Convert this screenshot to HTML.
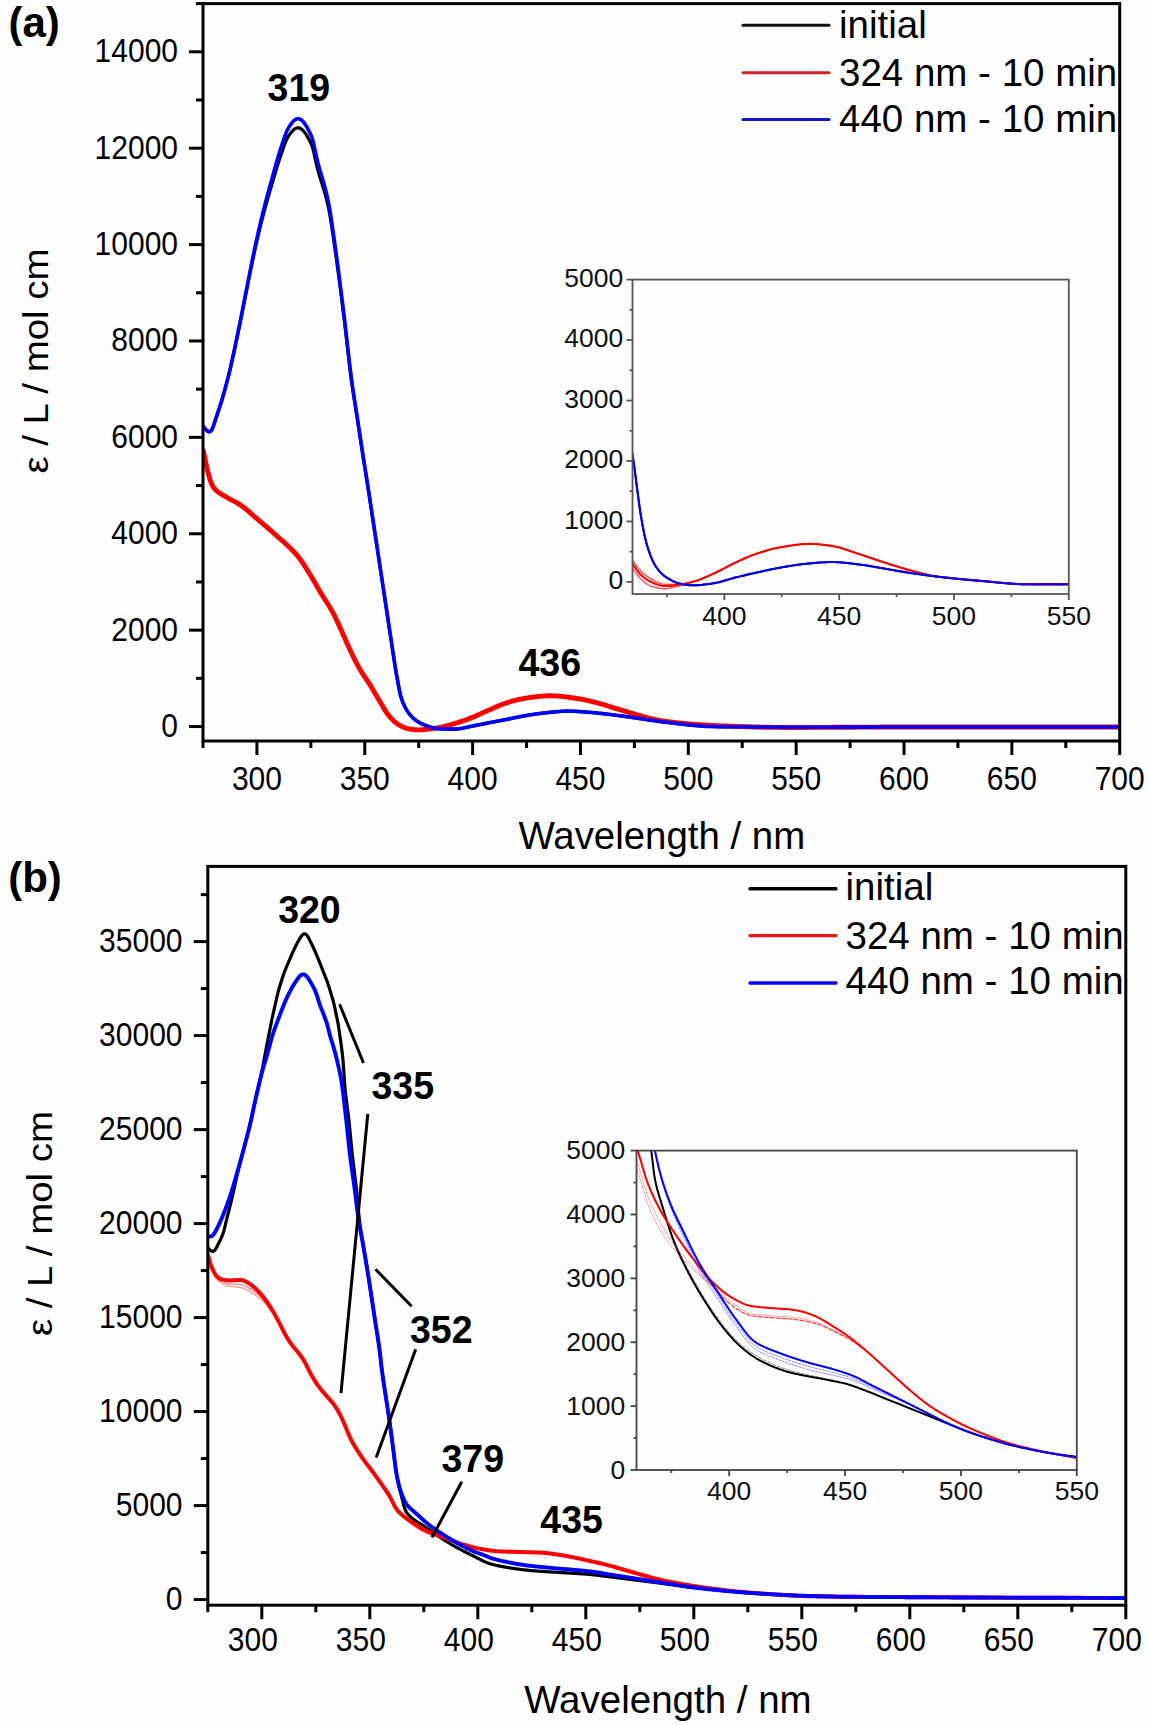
<!DOCTYPE html><html><head><meta charset="utf-8"><style>html,body{margin:0;padding:0;background:#fdfdfd;width:1149px;height:1725px;overflow:hidden}svg{display:block}text{font-family:"Liberation Sans", sans-serif}</style></head><body>
<svg width="1149" height="1725" viewBox="0 0 1149 1725">
<defs><clipPath id="ca"><rect x="203" y="3.6" width="916.7" height="737.4"/></clipPath>
<clipPath id="cia"><rect x="632.5" y="279.6" width="436.29999999999995" height="314.4"/></clipPath>
<clipPath id="cb"><rect x="207.8" y="866.4" width="918.0" height="738.8000000000001"/></clipPath>
<clipPath id="cib"><rect x="636.5" y="1150.6" width="440.29999999999995" height="319.4000000000001"/></clipPath></defs>
<path d="M203.65,427.05 L204.02,427.49 L204.49,428.04 L205.04,428.68 L205.63,429.36 L206.26,430.05 L206.91,430.70 L207.59,431.24 L208.29,431.62 L209.00,431.78 L209.69,431.69 L210.35,431.36 L210.95,430.82 L211.49,430.13 L211.97,429.33 L212.40,428.46 L212.80,427.55 L213.16,426.63 L213.51,425.70 L213.84,424.75 L214.17,423.81 L214.48,422.86 L214.79,421.91 L215.10,420.96 L215.41,420.00 L215.71,419.05 L216.02,418.10 L216.33,417.15 L216.64,416.20 L216.95,415.25 L217.27,414.30 L217.60,413.36 L217.92,412.41 L218.25,411.47 L218.57,410.52 L218.89,409.57 L219.21,408.63 L219.53,407.68 L219.84,406.73 L220.14,405.77 L220.45,404.82 L220.75,403.87 L221.04,402.91 L221.34,401.96 L221.63,401.00 L221.92,400.04 L222.20,399.08 L222.48,398.12 L222.76,397.16 L223.04,396.20 L223.32,395.24 L223.59,394.28 L223.86,393.32 L224.13,392.36 L224.40,391.39 L224.67,390.43 L224.94,389.46 L225.20,388.50 L225.46,387.53 L225.72,386.57 L225.98,385.60 L226.24,384.64 L226.50,383.67 L226.75,382.70 L227.00,381.74 L227.26,380.77 L227.51,379.80 L227.76,378.83 L228.01,377.87 L228.26,376.90 L228.50,375.93 L228.75,374.96 L228.99,373.99 L229.23,373.02 L229.46,372.04 L229.70,371.07 L229.93,370.10 L230.16,369.13 L230.39,368.15 L230.62,367.18 L230.84,366.21 L231.07,365.23 L231.29,364.26 L231.51,363.28 L231.73,362.31 L231.95,361.33 L232.17,360.35 L232.39,359.38 L232.61,358.40 L232.82,357.43 L233.04,356.45 L233.25,355.47 L233.46,354.49 L233.67,353.52 L233.88,352.54 L234.10,351.56 L234.31,350.58 L234.52,349.61 L234.72,348.63 L234.93,347.65 L235.14,346.67 L235.35,345.69 L235.56,344.72 L235.76,343.74 L235.97,342.76 L236.18,341.78 L236.38,340.80 L236.59,339.82 L236.79,338.85 L237.00,337.87 L237.20,336.89 L237.41,335.91 L237.62,334.93 L237.82,333.95 L238.03,332.97 L238.23,331.99 L238.44,331.02 L238.64,330.04 L238.85,329.06 L239.05,328.08 L239.25,327.10 L239.45,326.12 L239.66,325.14 L239.86,324.16 L240.06,323.18 L240.25,322.20 L240.45,321.22 L240.65,320.24 L240.84,319.26 L241.04,318.28 L241.24,317.30 L241.43,316.32 L241.63,315.34 L241.82,314.36 L242.01,313.37 L242.21,312.39 L242.40,311.41 L242.59,310.43 L242.79,309.45 L242.98,308.47 L243.17,307.49 L243.36,306.51 L243.56,305.53 L243.75,304.54 L243.94,303.56 L244.13,302.58 L244.33,301.60 L244.52,300.62 L244.71,299.64 L244.91,298.66 L245.10,297.68 L245.30,296.69 L245.49,295.71 L245.69,294.73 L245.88,293.75 L246.08,292.77 L246.27,291.79 L246.47,290.81 L246.67,289.83 L246.87,288.85 L247.07,287.87 L247.26,286.89 L247.46,285.91 L247.66,284.93 L247.86,283.95 L248.06,282.97 L248.25,281.99 L248.45,281.01 L248.65,280.03 L248.85,279.05 L249.04,278.07 L249.24,277.09 L249.44,276.11 L249.64,275.13 L249.83,274.15 L250.03,273.17 L250.23,272.19 L250.43,271.21 L250.63,270.23 L250.83,269.25 L251.03,268.27 L251.22,267.29 L251.43,266.31 L251.63,265.33 L251.83,264.35 L252.03,263.37 L252.23,262.39 L252.44,261.41 L252.64,260.43 L252.84,259.45 L253.05,258.47 L253.26,257.50 L253.46,256.52 L253.67,255.54 L253.88,254.56 L254.09,253.58 L254.30,252.61 L254.52,251.63 L254.73,250.65 L254.95,249.68 L255.16,248.70 L255.38,247.72 L255.60,246.75 L255.82,245.77 L256.04,244.80 L256.26,243.82 L256.48,242.85 L256.71,241.87 L256.93,240.90 L257.15,239.92 L257.38,238.95 L257.61,237.97 L257.83,237.00 L258.06,236.03 L258.29,235.05 L258.52,234.08 L258.75,233.11 L258.98,232.13 L259.21,231.16 L259.45,230.19 L259.68,229.22 L259.92,228.24 L260.15,227.27 L260.39,226.30 L260.63,225.33 L260.87,224.36 L261.11,223.39 L261.35,222.42 L261.59,221.45 L261.84,220.48 L262.08,219.51 L262.33,218.54 L262.58,217.57 L262.83,216.60 L263.08,215.64 L263.33,214.67 L263.58,213.70 L263.84,212.73 L264.10,211.77 L264.35,210.80 L264.61,209.84 L264.88,208.87 L265.14,207.91 L265.40,206.94 L265.67,205.98 L265.94,205.01 L266.21,204.05 L266.48,203.09 L266.75,202.13 L267.02,201.16 L267.29,200.20 L267.57,199.24 L267.84,198.28 L268.12,197.32 L268.40,196.36 L268.68,195.40 L268.95,194.44 L269.23,193.48 L269.51,192.52 L269.80,191.56 L270.08,190.60 L270.36,189.64 L270.64,188.68 L270.92,187.72 L271.20,186.76 L271.49,185.80 L271.77,184.84 L272.05,183.88 L272.33,182.92 L272.61,181.96 L272.89,181.00 L273.17,180.04 L273.45,179.08 L273.73,178.12 L274.01,177.16 L274.30,176.20 L274.58,175.24 L274.86,174.28 L275.14,173.32 L275.42,172.36 L275.71,171.41 L276.00,170.45 L276.28,169.49 L276.57,168.53 L276.86,167.58 L277.16,166.62 L277.45,165.66 L277.75,164.71 L278.05,163.76 L278.35,162.80 L278.66,161.85 L278.97,160.90 L279.28,159.95 L279.60,159.00 L279.92,158.06 L280.24,157.11 L280.57,156.16 L280.89,155.22 L281.21,154.27 L281.53,153.32 L281.86,152.38 L282.18,151.43 L282.50,150.48 L282.83,149.54 L283.15,148.59 L283.48,147.65 L283.82,146.71 L284.15,145.76 L284.50,144.83 L284.85,143.89 L285.21,142.96 L285.59,142.03 L285.97,141.11 L286.38,140.20 L286.80,139.30 L287.25,138.41 L287.73,137.53 L288.24,136.67 L288.77,135.83 L289.33,135.00 L289.90,134.19 L290.50,133.39 L291.11,132.60 L291.74,131.83 L292.40,131.08 L293.08,130.36 L293.80,129.69 L294.55,129.09 L295.35,128.58 L296.19,128.18 L297.06,127.93 L297.95,127.84 L298.85,127.91 L299.72,128.15 L300.57,128.53 L301.37,129.03 L302.13,129.63 L302.84,130.30 L303.51,131.02 L304.15,131.78 L304.75,132.57 L305.33,133.38 L305.89,134.21 L306.42,135.05 L306.94,135.91 L307.45,136.77 L307.94,137.64 L308.42,138.51 L308.89,139.40 L309.36,140.28 L309.81,141.17 L310.25,142.07 L310.68,142.97 L311.10,143.88 L311.49,144.79 L311.86,145.72 L312.20,146.66 L312.51,147.61 L312.80,148.56 L313.07,149.52 L313.33,150.49 L313.57,151.46 L313.81,152.43 L314.03,153.40 L314.25,154.38 L314.47,155.35 L314.69,156.33 L314.90,157.31 L315.11,158.29 L315.32,159.26 L315.53,160.24 L315.75,161.22 L315.96,162.19 L316.18,163.17 L316.40,164.14 L316.63,165.12 L316.86,166.09 L317.10,167.06 L317.35,168.03 L317.60,169.00 L317.86,169.96 L318.13,170.93 L318.40,171.89 L318.67,172.85 L318.95,173.81 L319.23,174.77 L319.52,175.73 L319.81,176.69 L320.10,177.64 L320.39,178.60 L320.69,179.55 L320.99,180.51 L321.29,181.46 L321.58,182.42 L321.88,183.37 L322.18,184.33 L322.48,185.28 L322.78,186.23 L323.07,187.19 L323.37,188.15 L323.66,189.10 L323.94,190.06 L324.23,191.02 L324.51,191.98 L324.78,192.94 L325.06,193.90 L325.33,194.87 L325.59,195.83 L325.85,196.80 L326.10,197.76 L326.35,198.73 L326.60,199.70 L326.84,200.67 L327.08,201.64 L327.31,202.62 L327.54,203.59 L327.76,204.56 L327.98,205.54 L328.19,206.52 L328.40,207.49 L328.60,208.47 L328.80,209.45 L328.99,210.43 L329.18,211.42 L329.36,212.40 L329.54,213.38 L329.72,214.37 L329.89,215.35 L330.06,216.34 L330.23,217.32 L330.39,218.31 L330.55,219.30 L330.71,220.29 L330.87,221.27 L331.03,222.26 L331.18,223.25 L331.33,224.24 L331.49,225.22 L331.64,226.21 L331.79,227.20 L331.93,228.19 L332.08,229.18 L332.23,230.17 L332.38,231.16 L332.52,232.15 L332.67,233.14 L332.81,234.13 L332.96,235.12 L333.10,236.11 L333.24,237.10 L333.39,238.08 L333.53,239.07 L333.68,240.06 L333.82,241.05 L333.96,242.04 L334.11,243.03 L334.25,244.02 L334.40,245.01 L334.54,246.00 L334.68,246.99 L334.83,247.98 L334.97,248.97 L335.11,249.96 L335.26,250.95 L335.40,251.94 L335.54,252.93 L335.68,253.92 L335.82,254.91 L335.96,255.90 L336.10,256.89 L336.24,257.88 L336.37,258.87 L336.51,259.86 L336.65,260.85 L336.79,261.84 L336.92,262.83 L337.06,263.82 L337.19,264.82 L337.33,265.81 L337.46,266.80 L337.59,267.79 L337.73,268.78 L337.86,269.77 L337.99,270.76 L338.13,271.75 L338.26,272.74 L338.39,273.74 L338.52,274.73 L338.65,275.72 L338.78,276.71 L338.91,277.70 L339.04,278.69 L339.17,279.68 L339.30,280.68 L339.43,281.67 L339.56,282.66 L339.69,283.65 L339.82,284.64 L339.95,285.63 L340.07,286.63 L340.20,287.62 L340.33,288.61 L340.46,289.60 L340.59,290.59 L340.71,291.58 L340.84,292.58 L340.97,293.57 L341.09,294.56 L341.22,295.55 L341.35,296.54 L341.47,297.54 L341.60,298.53 L341.72,299.52 L341.85,300.51 L341.98,301.50 L342.10,302.50 L342.23,303.49 L342.35,304.48 L342.48,305.47 L342.60,306.47 L342.73,307.46 L342.85,308.45 L342.98,309.44 L343.10,310.43 L343.23,311.43 L343.35,312.42 L343.48,313.41 L343.60,314.40 L343.72,315.40 L343.85,316.39 L343.97,317.38 L344.09,318.37 L344.21,319.37 L344.33,320.36 L344.45,321.35 L344.57,322.34 L344.69,323.34 L344.81,324.33 L344.93,325.32 L345.04,326.32 L345.16,327.31 L345.28,328.30 L345.39,329.30 L345.51,330.29 L345.62,331.28 L345.74,332.28 L345.85,333.27 L345.96,334.26 L346.08,335.26 L346.19,336.25 L346.31,337.24 L346.42,338.24 L346.53,339.23 L346.65,340.22 L346.76,341.22 L346.87,342.21 L346.98,343.20 L347.10,344.20 L347.21,345.19 L347.32,346.19 L347.44,347.18 L347.55,348.17 L347.66,349.17 L347.78,350.16 L347.89,351.15 L348.00,352.15 L348.12,353.14 L348.23,354.13 L348.35,355.13 L348.46,356.12 L348.58,357.11 L348.69,358.11 L348.81,359.10 L348.92,360.09 L349.04,361.09 L349.16,362.08 L349.27,363.07 L349.39,364.07 L349.51,365.06 L349.63,366.05 L349.75,367.04 L349.87,368.04 L349.99,369.03 L350.11,370.02 L350.24,371.01 L350.36,372.01 L350.49,373.00 L350.61,373.99 L350.74,374.98 L350.87,375.98 L350.99,376.97 L351.12,377.96 L351.26,378.95 L351.39,379.94 L351.52,380.93 L351.66,381.92 L351.80,382.91 L351.93,383.90 L352.07,384.89 L352.21,385.88 L352.36,386.87 L352.50,387.86 L352.65,388.85 L352.79,389.84 L352.94,390.83 L353.09,391.82 L353.24,392.81 L353.39,393.80 L353.54,394.79 L353.69,395.77 L353.84,396.76 L354.00,397.75 L354.15,398.74 L354.31,399.73 L354.46,400.71 L354.62,401.70 L354.78,402.69 L354.93,403.68 L355.09,404.66 L355.25,405.65 L355.41,406.64 L355.56,407.63 L355.72,408.61 L355.88,409.60 L356.04,410.59 L356.19,411.58 L356.35,412.56 L356.50,413.55 L356.66,414.54 L356.81,415.53 L356.96,416.52 L357.12,417.51 L357.27,418.49 L357.42,419.48 L357.57,420.47 L357.72,421.46 L357.87,422.45 L358.02,423.44 L358.18,424.42 L358.33,425.41 L358.48,426.40 L358.63,427.39 L358.78,428.38 L358.93,429.37 L359.08,430.36 L359.23,431.35 L359.38,432.33 L359.53,433.32 L359.68,434.31 L359.83,435.30 L359.98,436.29 L360.13,437.28 L360.28,438.27 L360.43,439.25 L360.58,440.24 L360.73,441.23 L360.88,442.22 L361.03,443.21 L361.18,444.20 L361.33,445.19 L361.48,446.17 L361.64,447.16 L361.79,448.15 L361.94,449.14 L362.09,450.13 L362.24,451.12 L362.40,452.10 L362.55,453.09 L362.70,454.08 L362.86,455.07 L363.01,456.06 L363.16,457.05 L363.32,458.03 L363.47,459.02 L363.63,460.01 L363.78,461.00 L363.94,461.98 L364.10,462.97 L364.25,463.96 L364.41,464.95 L364.57,465.94 L364.72,466.92 L364.88,467.91 L365.04,468.90 L365.19,469.89 L365.35,470.87 L365.51,471.86 L365.67,472.85 L365.82,473.84 L365.98,474.82 L366.14,475.81 L366.30,476.80 L366.45,477.79 L366.61,478.77 L366.77,479.76 L366.92,480.75 L367.08,481.74 L367.24,482.72 L367.39,483.71 L367.55,484.70 L367.71,485.69 L367.86,486.68 L368.02,487.66 L368.17,488.65 L368.32,489.64 L368.48,490.63 L368.63,491.62 L368.78,492.60 L368.94,493.59 L369.09,494.58 L369.24,495.57 L369.39,496.56 L369.55,497.55 L369.70,498.53 L369.85,499.52 L370.00,500.51 L370.15,501.50 L370.30,502.49 L370.45,503.48 L370.60,504.47 L370.75,505.45 L370.90,506.44 L371.05,507.43 L371.20,508.42 L371.35,509.41 L371.50,510.40 L371.65,511.39 L371.80,512.38 L371.95,513.36 L372.09,514.35 L372.24,515.34 L372.39,516.33 L372.54,517.32 L372.69,518.31 L372.84,519.30 L372.99,520.29 L373.14,521.28 L373.29,522.26 L373.44,523.25 L373.59,524.24 L373.74,525.23 L373.89,526.22 L374.04,527.21 L374.19,528.20 L374.34,529.19 L374.49,530.17 L374.64,531.16 L374.79,532.15 L374.94,533.14 L375.09,534.13 L375.24,535.12 L375.39,536.11 L375.54,537.09 L375.69,538.08 L375.84,539.07 L375.99,540.06 L376.14,541.05 L376.29,542.04 L376.44,543.03 L376.59,544.02 L376.74,545.00 L376.89,545.99 L377.04,546.98 L377.19,547.97 L377.34,548.96 L377.49,549.95 L377.64,550.94 L377.79,551.92 L377.94,552.91 L378.09,553.90 L378.24,554.89 L378.39,555.88 L378.54,556.87 L378.69,557.86 L378.84,558.85 L378.99,559.83 L379.14,560.82 L379.29,561.81 L379.44,562.80 L379.59,563.79 L379.74,564.78 L379.89,565.77 L380.04,566.76 L380.19,567.74 L380.34,568.73 L380.49,569.72 L380.64,570.71 L380.79,571.70 L380.93,572.69 L381.08,573.68 L381.23,574.66 L381.38,575.65 L381.53,576.64 L381.68,577.63 L381.83,578.62 L381.98,579.61 L382.13,580.60 L382.28,581.59 L382.43,582.57 L382.58,583.56 L382.73,584.55 L382.88,585.54 L383.03,586.53 L383.18,587.52 L383.33,588.51 L383.48,589.50 L383.63,590.48 L383.78,591.47 L383.93,592.46 L384.08,593.45 L384.23,594.44 L384.38,595.43 L384.53,596.42 L384.68,597.41 L384.83,598.39 L384.98,599.38 L385.12,600.37 L385.27,601.36 L385.42,602.35 L385.57,603.34 L385.72,604.33 L385.87,605.32 L386.02,606.30 L386.17,607.29 L386.32,608.28 L386.47,609.27 L386.62,610.26 L386.77,611.25 L386.91,612.24 L387.06,613.23 L387.21,614.22 L387.36,615.20 L387.51,616.19 L387.66,617.18 L387.81,618.17 L387.96,619.16 L388.10,620.15 L388.25,621.14 L388.40,622.13 L388.55,623.12 L388.70,624.10 L388.85,625.09 L389.00,626.08 L389.15,627.07 L389.30,628.06 L389.45,629.05 L389.60,630.04 L389.75,631.03 L389.90,632.01 L390.05,633.00 L390.20,633.99 L390.35,634.98 L390.50,635.97 L390.65,636.96 L390.80,637.95 L390.96,638.93 L391.11,639.92 L391.26,640.91 L391.41,641.90 L391.56,642.89 L391.71,643.88 L391.86,644.87 L392.01,645.85 L392.16,646.84 L392.31,647.83 L392.45,648.82 L392.60,649.81 L392.75,650.80 L392.90,651.79 L393.05,652.78 L393.20,653.77 L393.34,654.75 L393.49,655.74 L393.64,656.73 L393.79,657.72 L393.94,658.71 L394.09,659.70 L394.24,660.69 L394.40,661.68 L394.55,662.66 L394.70,663.65 L394.86,664.64 L395.01,665.63 L395.17,666.61 L395.33,667.60 L395.49,668.59 L395.65,669.58 L395.82,670.56 L395.98,671.55 L396.15,672.53 L396.32,673.52 L396.49,674.50 L396.67,675.49 L396.84,676.47 L397.02,677.46 L397.20,678.44 L397.37,679.43 L397.55,680.41 L397.73,681.39 L397.91,682.38 L398.09,683.36 L398.27,684.35 L398.45,685.33 L398.64,686.31 L398.82,687.29 L399.01,688.28 L399.20,689.26 L399.40,690.24 L399.60,691.22 L399.81,692.19 L400.03,693.17 L400.26,694.14 L400.50,695.11 L400.76,696.08 L401.03,697.04 L401.32,698.00 L401.62,698.95 L401.95,699.89 L402.29,700.83 L402.65,701.76 L403.02,702.69 L403.41,703.61 L403.81,704.53 L404.22,705.43 L404.66,706.34 L405.11,707.23 L405.57,708.11 L406.06,708.98 L406.57,709.84 L407.09,710.69 L407.64,711.52 L408.21,712.34 L408.80,713.15 L409.40,713.95 L410.03,714.72 L410.67,715.48 L411.34,716.23 L412.02,716.96 L412.72,717.66 L413.45,718.34 L414.20,719.00 L414.97,719.63 L415.76,720.23 L416.58,720.80 L417.41,721.35 L418.26,721.87 L419.13,722.37 L420.00,722.85 L420.89,723.31 L421.79,723.75 L422.69,724.17 L423.60,724.58 L424.53,724.96 L425.45,725.34 L426.39,725.69 L427.33,726.03 L428.27,726.36 L429.22,726.68 L430.17,726.99 L431.12,727.28 L432.08,727.56 L433.04,727.83 L434.01,728.07 L434.98,728.28 L435.96,728.45 L436.95,728.59 L437.94,728.70 L438.94,728.78 L439.93,728.84 L440.93,728.89 L441.93,728.92 L442.93,728.96 L443.93,728.99 L444.93,729.01 L445.93,729.04 L446.93,729.06 L447.93,729.08 L448.93,729.09 L449.93,729.11 L450.93,729.12 L451.93,729.12 L452.93,729.12 L453.93,729.11 L454.92,729.08 L455.92,729.04 L456.92,728.97 L457.91,728.89 L458.90,728.78 L459.89,728.65 L460.88,728.49 L461.87,728.32 L462.85,728.14 L463.83,727.95 L464.81,727.74 L465.78,727.53 L466.76,727.32 L467.74,727.10 L468.72,726.89 L469.69,726.68 L470.67,726.48 L471.65,726.28 L472.63,726.08 L473.61,725.89 L474.59,725.69 L475.58,725.50 L476.56,725.30 L477.54,725.11 L478.52,724.91 L479.50,724.71 L480.48,724.51 L481.46,724.31 L482.44,724.11 L483.41,723.90 L484.39,723.70 L485.37,723.50 L486.35,723.30 L487.33,723.11 L488.31,722.91 L489.30,722.72 L490.28,722.52 L491.26,722.33 L492.24,722.14 L493.22,721.95 L494.20,721.77 L495.19,721.58 L496.17,721.40 L497.15,721.21 L498.14,721.03 L499.12,720.84 L500.10,720.66 L501.08,720.47 L502.07,720.29 L503.05,720.10 L504.03,719.91 L505.01,719.72 L505.99,719.53 L506.98,719.34 L507.96,719.14 L508.94,718.95 L509.92,718.75 L510.90,718.54 L511.88,718.34 L512.85,718.14 L513.83,717.93 L514.81,717.73 L515.79,717.52 L516.77,717.32 L517.75,717.12 L518.73,716.92 L519.71,716.73 L520.69,716.53 L521.67,716.35 L522.66,716.16 L523.64,715.99 L524.63,715.81 L525.61,715.64 L526.60,715.47 L527.58,715.30 L528.57,715.14 L529.56,714.98 L530.54,714.82 L531.53,714.66 L532.52,714.50 L533.51,714.35 L534.50,714.21 L535.48,714.06 L536.47,713.92 L537.47,713.79 L538.46,713.66 L539.45,713.53 L540.44,713.41 L541.43,713.30 L542.43,713.18 L543.42,713.07 L544.42,712.96 L545.41,712.85 L546.40,712.74 L547.40,712.63 L548.39,712.52 L549.39,712.41 L550.38,712.30 L551.37,712.19 L552.37,712.09 L553.36,711.99 L554.36,711.89 L555.35,711.80 L556.35,711.71 L557.35,711.63 L558.34,711.55 L559.34,711.47 L560.34,711.41 L561.34,711.35 L562.33,711.29 L563.33,711.25 L564.33,711.21 L565.33,711.18 L566.33,711.16 L567.33,711.15 L568.33,711.15 L569.33,711.15 L570.33,711.16 L571.33,711.18 L572.33,711.21 L573.33,711.25 L574.33,711.29 L575.33,711.33 L576.33,711.38 L577.32,711.44 L578.32,711.50 L579.32,711.56 L580.32,711.63 L581.31,711.70 L582.31,711.78 L583.31,711.86 L584.31,711.94 L585.30,712.02 L586.30,712.10 L587.30,712.18 L588.29,712.27 L589.29,712.35 L590.28,712.44 L591.28,712.52 L592.28,712.61 L593.27,712.69 L594.27,712.78 L595.27,712.87 L596.26,712.96 L597.26,713.05 L598.25,713.15 L599.25,713.25 L600.24,713.35 L601.24,713.45 L602.23,713.56 L603.22,713.67 L604.22,713.79 L605.21,713.90 L606.20,714.02 L607.20,714.14 L608.19,714.26 L609.18,714.38 L610.18,714.51 L611.17,714.63 L612.16,714.76 L613.15,714.88 L614.14,715.01 L615.14,715.13 L616.13,715.26 L617.12,715.39 L618.11,715.51 L619.10,715.64 L620.09,715.77 L621.09,715.90 L622.08,716.03 L623.07,716.16 L624.06,716.29 L625.05,716.42 L626.04,716.56 L627.03,716.70 L628.02,716.84 L629.01,716.98 L630.00,717.12 L630.99,717.26 L631.98,717.41 L632.97,717.55 L633.96,717.70 L634.95,717.84 L635.94,717.99 L636.93,718.14 L637.92,718.29 L638.91,718.44 L639.89,718.59 L640.88,718.74 L641.87,718.89 L642.86,719.03 L643.85,719.18 L644.84,719.33 L645.83,719.48 L646.82,719.63 L647.81,719.77 L648.80,719.92 L649.78,720.06 L650.77,720.21 L651.76,720.35 L652.75,720.49 L653.74,720.63 L654.73,720.77 L655.73,720.91 L656.72,721.04 L657.71,721.18 L658.70,721.31 L659.69,721.44 L660.68,721.57 L661.67,721.69 L662.67,721.82 L663.66,721.94 L664.65,722.05 L665.64,722.17 L666.64,722.29 L667.63,722.40 L668.62,722.52 L669.62,722.64 L670.61,722.75 L671.60,722.87 L672.60,722.99 L673.59,723.11 L674.58,723.23 L675.57,723.35 L676.57,723.47 L677.56,723.59 L678.55,723.71 L679.55,723.83 L680.54,723.95 L681.53,724.07 L682.52,724.19 L683.52,724.31 L684.51,724.43 L685.50,724.54 L686.50,724.66 L687.49,724.77 L688.48,724.88 L689.48,724.99 L690.47,725.09 L691.47,725.20 L692.46,725.30 L693.46,725.40 L694.45,725.49 L695.45,725.59 L696.44,725.68 L697.44,725.76 L698.44,725.84 L699.43,725.92 L700.43,726.00 L701.43,726.07 L702.43,726.14 L703.42,726.20 L704.42,726.26 L705.42,726.31 L706.42,726.36 L707.42,726.40 L708.42,726.44 L709.42,726.47 L710.42,726.50 L711.42,726.52 L712.42,726.54 L713.42,726.55 L714.42,726.57 L715.42,726.58 L716.42,726.59 L717.42,726.60 L718.42,726.61 L719.42,726.62 L720.42,726.63 L721.42,726.63 L722.42,726.64 L723.42,726.65 L724.42,726.66 L725.42,726.66 L726.42,726.67 L727.42,726.67 L728.42,726.68 L729.42,726.69 L730.42,726.69 L731.42,726.70 L732.42,726.71 L733.42,726.72 L734.42,726.72 L735.42,726.73 L736.42,726.74 L737.42,726.75 L738.42,726.76 L739.42,726.77 L740.42,726.77 L741.42,726.78 L742.42,726.79 L743.42,726.80 L744.42,726.82 L745.42,726.83 L746.42,726.84 L747.42,726.85 L748.42,726.86 L749.42,726.87 L750.41,726.88 L751.41,726.89 L752.41,726.90 L753.41,726.92 L754.41,726.93 L755.41,726.94 L756.41,726.95 L757.41,726.96 L758.41,726.97 L759.41,726.99 L760.41,727.00 L761.41,727.01 L762.41,727.02 L763.41,727.03 L764.41,727.04 L765.41,727.05 L766.41,727.07 L767.41,727.08 L768.41,727.09 L769.41,727.10 L770.41,727.11 L771.41,727.12 L772.41,727.13 L773.41,727.14 L774.41,727.15 L775.41,727.16 L776.41,727.17 L777.41,727.17 L778.41,727.18 L779.41,727.19 L780.41,727.20 L781.41,727.21 L782.41,727.21 L783.41,727.22 L784.41,727.23 L785.41,727.23 L786.41,727.24 L787.41,727.24 L788.41,727.25 L789.41,727.25 L790.41,727.25 L791.41,727.26 L792.41,727.26 L793.41,727.26 L794.41,727.26 L795.41,727.26 L796.41,727.26 L797.41,727.26 L798.41,727.26 L799.41,727.26 L800.41,727.26 L801.41,727.26 L802.41,727.26 L803.41,727.26 L804.41,727.26 L805.41,727.26 L806.41,727.26 L807.41,727.26 L808.41,727.26 L809.41,727.25 L810.41,727.25 L811.41,727.25 L812.41,727.25 L813.41,727.25 L814.41,727.25 L815.41,727.24 L816.41,727.24 L817.41,727.24 L818.41,727.24 L819.41,727.24 L820.41,727.23 L821.41,727.23 L822.41,727.23 L823.41,727.23 L824.41,727.22 L825.41,727.22 L826.41,727.22 L827.41,727.21 L828.41,727.21 L829.41,727.21 L830.41,727.21 L831.41,727.20 L832.41,727.20 L833.41,727.20 L834.41,727.19 L835.41,727.19 L836.41,727.19 L837.41,727.19 L838.41,727.18 L839.41,727.18 L840.41,727.18 L841.41,727.17 L842.41,727.17 L843.41,727.17 L844.41,727.16 L845.41,727.16 L846.41,727.16 L847.41,727.15 L848.41,727.15 L849.41,727.15 L850.41,727.14 L851.41,727.14 L852.41,727.14 L853.41,727.13 L854.41,727.13 L855.41,727.13 L856.41,727.12 L857.41,727.12 L858.41,727.12 L859.41,727.11 L860.41,727.11 L861.41,727.11 L862.41,727.10 L863.41,727.10 L864.41,727.10 L865.41,727.09 L866.41,727.09 L867.41,727.09 L868.41,727.08 L869.41,727.08 L870.41,727.08 L871.41,727.08 L872.41,727.07 L873.41,727.07 L874.41,727.07 L875.41,727.07 L876.41,727.06 L877.41,727.06 L878.41,727.06 L879.41,727.06 L880.41,727.05 L881.41,727.05 L882.41,727.05 L883.41,727.05 L884.41,727.04 L885.41,727.04 L886.41,727.04 L887.41,727.04 L888.41,727.04 L889.41,727.04 L890.41,727.03 L891.41,727.03 L892.41,727.03 L893.41,727.03 L894.41,727.03 L895.41,727.03 L896.41,727.03 L897.41,727.03 L898.41,727.03 L899.41,727.02 L900.41,727.02 L901.41,727.02 L902.41,727.02 L903.41,727.02 L904.41,727.02 L905.41,727.02 L906.41,727.02 L907.41,727.02 L908.41,727.02 L909.41,727.02 L910.41,727.02 L911.41,727.02 L912.41,727.02 L913.41,727.02 L914.41,727.02 L915.41,727.02 L916.41,727.02 L917.41,727.02 L918.41,727.02 L919.41,727.02 L920.41,727.02 L921.41,727.02 L922.41,727.02 L923.41,727.02 L924.41,727.02 L925.41,727.02 L926.41,727.02 L927.41,727.02 L928.41,727.02 L929.41,727.02 L930.41,727.02 L931.41,727.02 L932.41,727.02 L933.41,727.02 L934.41,727.02 L935.41,727.02 L936.41,727.02 L937.41,727.02 L938.41,727.02 L939.41,727.02 L940.41,727.02 L941.41,727.02 L942.41,727.02 L943.41,727.02 L944.41,727.02 L945.41,727.02 L946.41,727.02 L947.41,727.02 L948.41,727.02 L949.41,727.02 L950.41,727.02 L951.41,727.02 L952.41,727.02 L953.41,727.02 L954.41,727.02 L955.41,727.02 L956.41,727.02 L957.41,727.02 L958.41,727.02 L959.41,727.02 L960.41,727.02 L961.41,727.02 L962.41,727.02 L963.41,727.02 L964.41,727.02 L965.41,727.02 L966.41,727.02 L967.41,727.02 L968.41,727.02 L969.41,727.02 L970.41,727.02 L971.41,727.02 L972.41,727.02 L973.41,727.02 L974.41,727.02 L975.41,727.02 L976.41,727.02 L977.41,727.02 L978.41,727.02 L979.41,727.02 L980.41,727.02 L981.41,727.02 L982.41,727.02 L983.41,727.02 L984.41,727.02 L985.41,727.02 L986.41,727.02 L987.41,727.02 L988.41,727.02 L989.41,727.02 L990.41,727.02 L991.41,727.02 L992.41,727.02 L993.41,727.02 L994.41,727.02 L995.41,727.02 L996.41,727.02 L997.41,727.02 L998.41,727.02 L999.41,727.02 L1000.41,727.02 L1001.41,727.02 L1002.41,727.02 L1003.41,727.02 L1004.41,727.02 L1005.41,727.02 L1006.41,727.02 L1007.41,727.02 L1008.41,727.02 L1009.41,727.02 L1010.41,727.02 L1011.41,727.02 L1012.41,727.02 L1013.41,727.02 L1014.41,727.02 L1015.41,727.02 L1016.41,727.02 L1017.41,727.02 L1018.41,727.02 L1019.41,727.02 L1020.41,727.02 L1021.41,727.02 L1022.41,727.02 L1023.41,727.02 L1024.41,727.02 L1025.41,727.02 L1026.41,727.02 L1027.41,727.02 L1028.41,727.02 L1029.41,727.02 L1030.41,727.02 L1031.41,727.02 L1032.41,727.02 L1033.41,727.02 L1034.41,727.02 L1035.41,727.02 L1036.41,727.02 L1037.41,727.02 L1038.41,727.02 L1039.41,727.02 L1040.41,727.02 L1041.41,727.02 L1042.41,727.02 L1043.41,727.02 L1044.41,727.02 L1045.41,727.02 L1046.41,727.02 L1047.41,727.02 L1048.41,727.02 L1049.41,727.02 L1050.41,727.02 L1051.41,727.02 L1052.41,727.02 L1053.41,727.02 L1054.41,727.02 L1055.41,727.02 L1056.41,727.02 L1057.41,727.02 L1058.41,727.02 L1059.41,727.02 L1060.41,727.02 L1061.41,727.02 L1062.41,727.02 L1063.41,727.02 L1064.41,727.02 L1065.41,727.02 L1066.41,727.02 L1067.41,727.02 L1068.41,727.02 L1069.41,727.02 L1070.41,727.02 L1071.41,727.02 L1072.41,727.02 L1073.41,727.02 L1074.41,727.02 L1075.41,727.02 L1076.41,727.02 L1077.41,727.02 L1078.41,727.02 L1079.41,727.02 L1080.41,727.02 L1081.41,727.02 L1082.41,727.02 L1083.41,727.02 L1084.41,727.02 L1085.41,727.02 L1086.41,727.02 L1087.41,727.02 L1088.41,727.02 L1089.41,727.02 L1090.41,727.02 L1091.41,727.02 L1092.41,727.02 L1093.41,727.02 L1094.41,727.02 L1095.41,727.02 L1096.41,727.02 L1097.41,727.02 L1098.41,727.02 L1099.41,727.02 L1100.41,727.02 L1101.41,727.02 L1102.41,727.02 L1103.41,727.02 L1104.41,727.02 L1105.41,727.02 L1106.41,727.02 L1107.41,727.02 L1108.41,727.02 L1109.41,727.02 L1110.41,727.02 L1111.41,727.02 L1112.41,727.02 L1113.41,727.02 L1114.39,727.02 L1115.36,727.02 L1116.27,727.02 L1117.11,727.02 L1117.84,727.02 L1118.42,727.02" fill="none" stroke="#000" stroke-width="3.2" stroke-opacity="1.0" stroke-linejoin="round" stroke-linecap="round" clip-path="url(#ca)"/>
<path d="M203.22,450.38 L203.35,450.95 L203.50,451.66 L203.68,452.48 L203.88,453.37 L204.08,454.32 L204.29,455.28 L204.49,456.25 L204.69,457.23 L204.89,458.21 L205.09,459.19 L205.29,460.17 L205.48,461.15 L205.68,462.13 L205.88,463.11 L206.08,464.09 L206.28,465.07 L206.49,466.05 L206.69,467.03 L206.91,468.01 L207.13,468.98 L207.35,469.96 L207.58,470.93 L207.83,471.90 L208.08,472.87 L208.34,473.83 L208.61,474.79 L208.88,475.75 L209.17,476.71 L209.46,477.67 L209.75,478.63 L210.05,479.58 L210.36,480.53 L210.69,481.47 L211.03,482.41 L211.39,483.34 L211.78,484.26 L212.20,485.16 L212.66,486.03 L213.18,486.88 L213.73,487.69 L214.34,488.47 L214.99,489.22 L215.68,489.93 L216.41,490.61 L217.16,491.26 L217.94,491.88 L218.74,492.47 L219.57,493.03 L220.40,493.58 L221.24,494.12 L222.09,494.64 L222.95,495.16 L223.80,495.68 L224.66,496.19 L225.52,496.70 L226.38,497.21 L227.25,497.70 L228.13,498.18 L229.01,498.65 L229.90,499.12 L230.79,499.57 L231.68,500.03 L232.57,500.48 L233.46,500.93 L234.35,501.39 L235.23,501.86 L236.11,502.33 L236.98,502.82 L237.85,503.32 L238.70,503.84 L239.55,504.37 L240.38,504.92 L241.21,505.48 L242.02,506.07 L242.82,506.66 L243.61,507.27 L244.40,507.89 L245.17,508.52 L245.94,509.16 L246.70,509.80 L247.46,510.46 L248.22,511.11 L248.97,511.77 L249.72,512.43 L250.47,513.09 L251.22,513.75 L251.98,514.41 L252.73,515.07 L253.48,515.72 L254.24,516.38 L255.00,517.03 L255.76,517.68 L256.52,518.32 L257.29,518.97 L258.05,519.62 L258.81,520.26 L259.58,520.91 L260.34,521.56 L261.10,522.20 L261.86,522.85 L262.62,523.50 L263.38,524.15 L264.14,524.80 L264.90,525.45 L265.66,526.10 L266.42,526.76 L267.17,527.41 L267.93,528.07 L268.68,528.73 L269.43,529.39 L270.18,530.05 L270.93,530.71 L271.68,531.38 L272.42,532.04 L273.17,532.71 L273.92,533.37 L274.66,534.04 L275.41,534.70 L276.16,535.36 L276.92,536.02 L277.67,536.68 L278.42,537.33 L279.18,537.99 L279.93,538.65 L280.68,539.31 L281.43,539.96 L282.19,540.62 L282.94,541.29 L283.68,541.95 L284.43,542.62 L285.17,543.29 L285.91,543.96 L286.65,544.64 L287.38,545.32 L288.11,546.00 L288.83,546.69 L289.55,547.39 L290.26,548.09 L290.97,548.79 L291.67,549.50 L292.37,550.22 L293.06,550.94 L293.75,551.67 L294.43,552.41 L295.10,553.15 L295.76,553.89 L296.42,554.65 L297.07,555.41 L297.70,556.18 L298.33,556.95 L298.95,557.74 L299.56,558.53 L300.16,559.34 L300.74,560.14 L301.32,560.96 L301.89,561.78 L302.46,562.61 L303.01,563.44 L303.57,564.27 L304.11,565.11 L304.66,565.95 L305.20,566.79 L305.73,567.63 L306.27,568.47 L306.80,569.32 L307.34,570.17 L307.87,571.01 L308.40,571.86 L308.93,572.71 L309.46,573.56 L309.98,574.41 L310.51,575.26 L311.03,576.12 L311.54,576.97 L312.06,577.83 L312.57,578.69 L313.07,579.55 L313.58,580.42 L314.08,581.28 L314.58,582.15 L315.07,583.02 L315.57,583.88 L316.07,584.75 L316.56,585.62 L317.06,586.49 L317.55,587.36 L318.05,588.23 L318.55,589.09 L319.05,589.96 L319.55,590.82 L320.05,591.69 L320.56,592.55 L321.07,593.41 L321.59,594.26 L322.11,595.12 L322.64,595.97 L323.17,596.81 L323.70,597.66 L324.24,598.50 L324.79,599.34 L325.33,600.18 L325.88,601.01 L326.43,601.85 L326.97,602.69 L327.52,603.53 L328.06,604.37 L328.59,605.21 L329.12,606.06 L329.65,606.91 L330.16,607.77 L330.67,608.63 L331.17,609.49 L331.67,610.36 L332.15,611.24 L332.62,612.12 L333.09,613.00 L333.55,613.89 L334.00,614.78 L334.45,615.68 L334.89,616.58 L335.32,617.48 L335.75,618.38 L336.18,619.28 L336.61,620.19 L337.03,621.09 L337.45,622.00 L337.87,622.91 L338.29,623.82 L338.71,624.73 L339.13,625.63 L339.54,626.54 L339.96,627.45 L340.38,628.36 L340.79,629.27 L341.21,630.18 L341.62,631.09 L342.02,632.00 L342.43,632.92 L342.84,633.83 L343.24,634.75 L343.64,635.66 L344.04,636.58 L344.44,637.49 L344.85,638.41 L345.25,639.33 L345.65,640.24 L346.05,641.16 L346.46,642.07 L346.86,642.99 L347.27,643.90 L347.68,644.81 L348.10,645.72 L348.51,646.63 L348.93,647.54 L349.35,648.44 L349.78,649.35 L350.21,650.25 L350.63,651.16 L351.06,652.06 L351.49,652.96 L351.92,653.87 L352.36,654.77 L352.79,655.67 L353.23,656.57 L353.66,657.47 L354.10,658.37 L354.54,659.26 L354.99,660.16 L355.44,661.05 L355.89,661.94 L356.35,662.83 L356.81,663.72 L357.27,664.61 L357.75,665.49 L358.22,666.36 L358.71,667.24 L359.20,668.11 L359.70,668.97 L360.21,669.83 L360.73,670.69 L361.26,671.54 L361.79,672.38 L362.34,673.22 L362.89,674.06 L363.44,674.89 L364.00,675.72 L364.56,676.55 L365.12,677.37 L365.69,678.20 L366.25,679.03 L366.81,679.86 L367.36,680.69 L367.91,681.52 L368.45,682.36 L368.99,683.20 L369.52,684.05 L370.05,684.90 L370.57,685.76 L371.09,686.61 L371.60,687.47 L372.11,688.33 L372.62,689.19 L373.12,690.06 L373.62,690.92 L374.12,691.79 L374.63,692.65 L375.13,693.52 L375.63,694.38 L376.13,695.25 L376.64,696.11 L377.14,696.97 L377.65,697.83 L378.16,698.69 L378.67,699.55 L379.19,700.41 L379.70,701.27 L380.21,702.13 L380.72,702.99 L381.22,703.85 L381.73,704.71 L382.23,705.58 L382.74,706.44 L383.25,707.30 L383.76,708.16 L384.28,709.02 L384.80,709.87 L385.33,710.72 L385.87,711.56 L386.42,712.39 L386.99,713.21 L387.58,714.02 L388.18,714.82 L388.80,715.60 L389.44,716.37 L390.09,717.12 L390.76,717.87 L391.44,718.60 L392.13,719.32 L392.84,720.02 L393.56,720.71 L394.29,721.39 L395.05,722.04 L395.82,722.68 L396.60,723.29 L397.41,723.87 L398.24,724.42 L399.09,724.95 L399.95,725.45 L400.83,725.92 L401.72,726.37 L402.62,726.80 L403.53,727.20 L404.45,727.58 L405.39,727.92 L406.34,728.23 L407.29,728.50 L408.26,728.74 L409.24,728.95 L410.22,729.13 L411.20,729.28 L412.19,729.42 L413.18,729.55 L414.18,729.65 L415.17,729.74 L416.17,729.81 L417.17,729.86 L418.16,729.88 L419.16,729.88 L420.16,729.86 L421.16,729.82 L422.15,729.76 L423.15,729.69 L424.15,729.60 L425.14,729.49 L426.13,729.39 L427.13,729.28 L428.12,729.16 L429.12,729.04 L430.11,728.93 L431.10,728.81 L432.09,728.68 L433.08,728.56 L434.08,728.42 L435.07,728.28 L436.05,728.13 L437.04,727.97 L438.03,727.80 L439.01,727.62 L439.99,727.43 L440.97,727.22 L441.94,727.01 L442.92,726.78 L443.89,726.55 L444.86,726.31 L445.83,726.06 L446.80,725.80 L447.76,725.54 L448.72,725.28 L449.69,725.01 L450.65,724.73 L451.61,724.46 L452.57,724.18 L453.53,723.89 L454.49,723.61 L455.45,723.32 L456.40,723.03 L457.36,722.74 L458.31,722.44 L459.27,722.14 L460.22,721.83 L461.17,721.51 L462.11,721.19 L463.06,720.87 L464.00,720.54 L464.95,720.21 L465.89,719.88 L466.83,719.54 L467.77,719.19 L468.71,718.84 L469.64,718.49 L470.58,718.13 L471.51,717.77 L472.44,717.40 L473.36,717.03 L474.29,716.65 L475.21,716.26 L476.13,715.86 L477.04,715.46 L477.96,715.05 L478.87,714.64 L479.78,714.23 L480.68,713.81 L481.59,713.39 L482.50,712.97 L483.41,712.54 L484.31,712.13 L485.22,711.71 L486.13,711.29 L487.04,710.88 L487.96,710.48 L488.87,710.07 L489.79,709.67 L490.71,709.27 L491.62,708.87 L492.54,708.47 L493.46,708.07 L494.37,707.67 L495.29,707.27 L496.21,706.88 L497.13,706.48 L498.05,706.09 L498.97,705.71 L499.89,705.33 L500.82,704.95 L501.75,704.59 L502.69,704.23 L503.62,703.89 L504.57,703.55 L505.51,703.22 L506.46,702.91 L507.41,702.60 L508.37,702.31 L509.32,702.01 L510.28,701.73 L511.24,701.45 L512.20,701.17 L513.16,700.90 L514.13,700.64 L515.10,700.38 L516.06,700.14 L517.03,699.90 L518.01,699.67 L518.98,699.44 L519.96,699.23 L520.94,699.03 L521.92,698.85 L522.90,698.67 L523.89,698.50 L524.88,698.34 L525.86,698.18 L526.85,698.03 L527.84,697.89 L528.83,697.74 L529.82,697.60 L530.81,697.46 L531.80,697.32 L532.79,697.18 L533.78,697.05 L534.77,696.92 L535.77,696.80 L536.76,696.68 L537.75,696.57 L538.75,696.46 L539.74,696.36 L540.74,696.26 L541.73,696.17 L542.73,696.09 L543.73,696.02 L544.72,695.96 L545.72,695.90 L546.72,695.86 L547.72,695.82 L548.72,695.80 L549.72,695.78 L550.72,695.78 L551.72,695.79 L552.72,695.81 L553.72,695.84 L554.72,695.88 L555.71,695.93 L556.71,696.00 L557.71,696.07 L558.71,696.15 L559.70,696.23 L560.70,696.33 L561.69,696.43 L562.69,696.54 L563.68,696.65 L564.67,696.77 L565.66,696.89 L566.66,697.02 L567.65,697.15 L568.64,697.28 L569.63,697.42 L570.62,697.55 L571.61,697.69 L572.60,697.83 L573.59,697.97 L574.58,698.12 L575.57,698.26 L576.56,698.40 L577.55,698.55 L578.54,698.71 L579.52,698.87 L580.51,699.04 L581.49,699.22 L582.47,699.40 L583.46,699.59 L584.44,699.79 L585.41,699.99 L586.39,700.20 L587.37,700.42 L588.35,700.63 L589.32,700.85 L590.30,701.08 L591.27,701.31 L592.24,701.54 L593.21,701.77 L594.19,702.01 L595.15,702.25 L596.12,702.50 L597.09,702.76 L598.05,703.02 L599.02,703.29 L599.98,703.57 L600.94,703.85 L601.90,704.14 L602.85,704.43 L603.81,704.72 L604.76,705.02 L605.72,705.32 L606.67,705.62 L607.62,705.92 L608.58,706.23 L609.53,706.53 L610.48,706.84 L611.43,707.14 L612.39,707.44 L613.34,707.74 L614.30,708.04 L615.25,708.33 L616.21,708.62 L617.17,708.91 L618.13,709.19 L619.09,709.47 L620.05,709.75 L621.01,710.02 L621.97,710.30 L622.93,710.57 L623.89,710.85 L624.85,711.13 L625.81,711.41 L626.77,711.69 L627.73,711.98 L628.69,712.26 L629.65,712.55 L630.61,712.83 L631.56,713.12 L632.52,713.40 L633.48,713.69 L634.44,713.98 L635.40,714.26 L636.35,714.55 L637.31,714.83 L638.27,715.11 L639.23,715.39 L640.19,715.67 L641.15,715.95 L642.12,716.22 L643.08,716.50 L644.04,716.76 L645.01,717.03 L645.97,717.29 L646.94,717.55 L647.90,717.81 L648.87,718.06 L649.84,718.30 L650.81,718.55 L651.78,718.78 L652.75,719.01 L653.73,719.24 L654.70,719.46 L655.68,719.67 L656.66,719.88 L657.64,720.08 L658.62,720.27 L659.60,720.46 L660.59,720.64 L661.57,720.81 L662.56,720.97 L663.55,721.12 L664.53,721.27 L665.52,721.41 L666.52,721.54 L667.51,721.66 L668.50,721.79 L669.49,721.91 L670.49,722.02 L671.48,722.14 L672.47,722.25 L673.47,722.36 L674.46,722.47 L675.46,722.58 L676.45,722.69 L677.44,722.79 L678.44,722.89 L679.43,723.00 L680.43,723.10 L681.42,723.19 L682.42,723.29 L683.41,723.39 L684.41,723.48 L685.41,723.57 L686.40,723.66 L687.40,723.75 L688.39,723.84 L689.39,723.92 L690.39,724.01 L691.38,724.09 L692.38,724.17 L693.38,724.25 L694.37,724.32 L695.37,724.40 L696.37,724.47 L697.37,724.55 L698.36,724.62 L699.36,724.69 L700.36,724.76 L701.36,724.82 L702.35,724.89 L703.35,724.95 L704.35,725.01 L705.35,725.07 L706.35,725.13 L707.35,725.19 L708.34,725.24 L709.34,725.30 L710.34,725.35 L711.34,725.40 L712.34,725.45 L713.34,725.49 L714.34,725.54 L715.33,725.59 L716.33,725.63 L717.33,725.67 L718.33,725.71 L719.33,725.75 L720.33,725.79 L721.33,725.83 L722.33,725.87 L723.33,725.91 L724.33,725.95 L725.33,725.98 L726.33,726.02 L727.33,726.06 L728.32,726.10 L729.32,726.13 L730.32,726.17 L731.32,726.21 L732.32,726.24 L733.32,726.28 L734.32,726.32 L735.32,726.35 L736.32,726.39 L737.32,726.42 L738.32,726.46 L739.32,726.49 L740.32,726.53 L741.32,726.56 L742.32,726.59 L743.32,726.62 L744.32,726.66 L745.31,726.69 L746.31,726.72 L747.31,726.75 L748.31,726.78 L749.31,726.81 L750.31,726.84 L751.31,726.87 L752.31,726.90 L753.31,726.93 L754.31,726.95 L755.31,726.98 L756.31,727.01 L757.31,727.03 L758.31,727.06 L759.31,727.08 L760.31,727.10 L761.31,727.13 L762.31,727.15 L763.31,727.17 L764.31,727.19 L765.31,727.21 L766.31,727.23 L767.31,727.25 L768.31,727.27 L769.31,727.29 L770.31,727.30 L771.31,727.32 L772.31,727.33 L773.31,727.35 L774.31,727.36 L775.31,727.37 L776.31,727.39 L777.31,727.40 L778.31,727.41 L779.31,727.42 L780.31,727.42 L781.31,727.43 L782.31,727.44 L783.31,727.44 L784.31,727.45 L785.31,727.45 L786.31,727.45 L787.31,727.45 L788.31,727.46 L789.31,727.46 L790.31,727.46 L791.31,727.46 L792.31,727.45 L793.31,727.45 L794.31,727.45 L795.31,727.45 L796.31,727.45 L797.31,727.45 L798.31,727.45 L799.31,727.45 L800.31,727.44 L801.31,727.44 L802.31,727.44 L803.31,727.44 L804.31,727.43 L805.31,727.43 L806.31,727.43 L807.31,727.42 L808.31,727.42 L809.31,727.42 L810.31,727.42 L811.31,727.41 L812.31,727.41 L813.31,727.40 L814.31,727.40 L815.31,727.40 L816.31,727.39 L817.31,727.39 L818.31,727.38 L819.31,727.38 L820.31,727.38 L821.31,727.37 L822.31,727.37 L823.31,727.36 L824.31,727.36 L825.31,727.35 L826.31,727.35 L827.31,727.34 L828.31,727.34 L829.31,727.33 L830.31,727.33 L831.31,727.32 L832.31,727.32 L833.31,727.31 L834.31,727.31 L835.31,727.30 L836.31,727.29 L837.31,727.29 L838.31,727.28 L839.31,727.28 L840.31,727.27 L841.31,727.27 L842.31,727.26 L843.31,727.26 L844.31,727.25 L845.31,727.24 L846.31,727.24 L847.31,727.23 L848.31,727.23 L849.31,727.22 L850.31,727.22 L851.31,727.21 L852.31,727.21 L853.31,727.20 L854.31,727.19 L855.31,727.19 L856.31,727.18 L857.31,727.18 L858.31,727.17 L859.31,727.17 L860.31,727.16 L861.31,727.16 L862.31,727.15 L863.31,727.15 L864.31,727.14 L865.31,727.14 L866.31,727.13 L867.30,727.13 L868.30,727.12 L869.30,727.12 L870.30,727.11 L871.30,727.11 L872.30,727.10 L873.30,727.10 L874.30,727.09 L875.30,727.09 L876.30,727.09 L877.30,727.08 L878.30,727.08 L879.30,727.07 L880.30,727.07 L881.30,727.07 L882.30,727.06 L883.30,727.06 L884.30,727.06 L885.30,727.05 L886.30,727.05 L887.30,727.05 L888.30,727.05 L889.30,727.04 L890.30,727.04 L891.30,727.04 L892.30,727.04 L893.30,727.03 L894.30,727.03 L895.30,727.03 L896.30,727.03 L897.30,727.03 L898.30,727.03 L899.30,727.03 L900.30,727.02 L901.30,727.02 L902.30,727.02 L903.30,727.02 L904.30,727.02 L905.30,727.02 L906.30,727.02 L907.30,727.02 L908.30,727.02 L909.30,727.02 L910.30,727.02 L911.30,727.02 L912.30,727.02 L913.30,727.02 L914.30,727.02 L915.30,727.02 L916.30,727.02 L917.30,727.02 L918.30,727.02 L919.30,727.02 L920.30,727.02 L921.30,727.02 L922.30,727.02 L923.30,727.02 L924.30,727.02 L925.30,727.02 L926.30,727.02 L927.30,727.02 L928.30,727.02 L929.30,727.02 L930.30,727.02 L931.30,727.02 L932.30,727.02 L933.30,727.02 L934.30,727.02 L935.30,727.02 L936.30,727.02 L937.30,727.02 L938.30,727.02 L939.30,727.02 L940.30,727.02 L941.30,727.02 L942.30,727.02 L943.30,727.02 L944.30,727.02 L945.30,727.02 L946.30,727.02 L947.30,727.02 L948.30,727.02 L949.30,727.02 L950.30,727.02 L951.30,727.02 L952.30,727.02 L953.30,727.02 L954.30,727.02 L955.30,727.02 L956.30,727.02 L957.30,727.02 L958.30,727.02 L959.30,727.02 L960.30,727.02 L961.30,727.02 L962.30,727.02 L963.30,727.02 L964.30,727.02 L965.30,727.02 L966.30,727.02 L967.30,727.02 L968.30,727.02 L969.30,727.02 L970.30,727.02 L971.30,727.02 L972.30,727.02 L973.30,727.02 L974.30,727.02 L975.30,727.02 L976.30,727.02 L977.30,727.02 L978.30,727.02 L979.30,727.02 L980.30,727.02 L981.30,727.02 L982.30,727.02 L983.30,727.02 L984.30,727.02 L985.30,727.02 L986.30,727.02 L987.30,727.02 L988.30,727.02 L989.30,727.02 L990.30,727.02 L991.30,727.02 L992.30,727.02 L993.30,727.02 L994.30,727.02 L995.30,727.02 L996.30,727.02 L997.30,727.02 L998.30,727.02 L999.30,727.02 L1000.30,727.02 L1001.30,727.02 L1002.30,727.02 L1003.30,727.02 L1004.30,727.02 L1005.30,727.02 L1006.30,727.02 L1007.30,727.02 L1008.30,727.02 L1009.30,727.02 L1010.30,727.02 L1011.30,727.02 L1012.30,727.02 L1013.30,727.02 L1014.30,727.02 L1015.30,727.02 L1016.30,727.02 L1017.30,727.02 L1018.30,727.02 L1019.30,727.02 L1020.30,727.02 L1021.30,727.02 L1022.30,727.02 L1023.30,727.02 L1024.30,727.02 L1025.30,727.02 L1026.30,727.02 L1027.30,727.02 L1028.30,727.02 L1029.30,727.02 L1030.30,727.02 L1031.30,727.02 L1032.30,727.02 L1033.30,727.02 L1034.30,727.02 L1035.30,727.02 L1036.30,727.02 L1037.30,727.02 L1038.30,727.02 L1039.30,727.02 L1040.30,727.02 L1041.30,727.02 L1042.30,727.02 L1043.30,727.02 L1044.30,727.02 L1045.30,727.02 L1046.30,727.02 L1047.30,727.02 L1048.30,727.02 L1049.30,727.02 L1050.30,727.02 L1051.30,727.02 L1052.30,727.02 L1053.30,727.02 L1054.30,727.02 L1055.30,727.02 L1056.30,727.02 L1057.30,727.02 L1058.30,727.02 L1059.30,727.02 L1060.30,727.02 L1061.30,727.02 L1062.30,727.02 L1063.30,727.02 L1064.30,727.02 L1065.30,727.02 L1066.30,727.02 L1067.30,727.02 L1068.30,727.02 L1069.30,727.02 L1070.30,727.02 L1071.30,727.02 L1072.30,727.02 L1073.30,727.02 L1074.30,727.02 L1075.30,727.02 L1076.30,727.02 L1077.30,727.02 L1078.30,727.02 L1079.30,727.02 L1080.30,727.02 L1081.30,727.02 L1082.30,727.02 L1083.30,727.02 L1084.30,727.02 L1085.30,727.02 L1086.30,727.02 L1087.30,727.02 L1088.30,727.02 L1089.30,727.02 L1090.30,727.02 L1091.30,727.02 L1092.30,727.02 L1093.30,727.02 L1094.30,727.02 L1095.30,727.02 L1096.30,727.02 L1097.30,727.02 L1098.30,727.02 L1099.30,727.02 L1100.30,727.02 L1101.30,727.02 L1102.30,727.02 L1103.30,727.02 L1104.30,727.02 L1105.30,727.02 L1106.30,727.02 L1107.30,727.02 L1108.30,727.02 L1109.30,727.02 L1110.30,727.02 L1111.30,727.02 L1112.30,727.02 L1113.30,727.02 L1114.28,727.02 L1115.25,727.02 L1116.17,727.02 L1117.01,727.02 L1117.73,727.02 L1118.31,727.02" fill="none" stroke="#f00" stroke-width="4.9" stroke-opacity="1.0" stroke-linejoin="round" stroke-linecap="round" clip-path="url(#ca)"/>
<path d="M203.65,427.03 L204.03,427.47 L204.50,428.02 L205.04,428.66 L205.63,429.34 L206.26,430.03 L206.92,430.67 L207.60,431.21 L208.30,431.58 L209.01,431.74 L209.70,431.65 L210.35,431.31 L210.95,430.77 L211.49,430.08 L211.97,429.27 L212.40,428.40 L212.80,427.50 L213.16,426.57 L213.51,425.64 L213.84,424.70 L214.17,423.75 L214.48,422.80 L214.79,421.85 L215.10,420.90 L215.40,419.95 L215.70,418.99 L216.01,418.04 L216.32,417.09 L216.63,416.14 L216.94,415.19 L217.26,414.24 L217.58,413.30 L217.91,412.35 L218.23,411.40 L218.55,410.46 L218.88,409.51 L219.19,408.56 L219.51,407.61 L219.82,406.66 L220.12,405.71 L220.42,404.76 L220.72,403.80 L221.02,402.85 L221.31,401.89 L221.60,400.93 L221.89,399.98 L222.17,399.02 L222.45,398.06 L222.73,397.10 L223.01,396.14 L223.29,395.18 L223.56,394.21 L223.83,393.25 L224.10,392.29 L224.37,391.32 L224.63,390.36 L224.89,389.40 L225.16,388.43 L225.42,387.47 L225.68,386.50 L225.94,385.53 L226.19,384.57 L226.45,383.60 L226.70,382.63 L226.95,381.67 L227.21,380.70 L227.46,379.73 L227.71,378.76 L227.95,377.79 L228.20,376.82 L228.44,375.85 L228.69,374.88 L228.93,373.91 L229.16,372.94 L229.40,371.97 L229.63,371.00 L229.86,370.02 L230.09,369.05 L230.32,368.08 L230.55,367.10 L230.77,366.13 L231.00,365.15 L231.22,364.18 L231.44,363.20 L231.66,362.23 L231.88,361.25 L232.09,360.28 L232.31,359.30 L232.52,358.32 L232.74,357.35 L232.95,356.37 L233.16,355.39 L233.37,354.41 L233.59,353.44 L233.79,352.46 L234.00,351.48 L234.21,350.50 L234.42,349.52 L234.63,348.55 L234.83,347.57 L235.04,346.59 L235.25,345.61 L235.45,344.63 L235.66,343.65 L235.86,342.67 L236.07,341.70 L236.27,340.72 L236.47,339.74 L236.68,338.76 L236.88,337.78 L237.08,336.80 L237.29,335.82 L237.49,334.84 L237.69,333.86 L237.90,332.88 L238.10,331.90 L238.30,330.93 L238.51,329.95 L238.71,328.97 L238.91,327.99 L239.11,327.01 L239.31,326.03 L239.51,325.05 L239.71,324.07 L239.91,323.09 L240.10,322.11 L240.30,321.13 L240.49,320.15 L240.69,319.16 L240.88,318.18 L241.07,317.20 L241.27,316.22 L241.46,315.24 L241.65,314.26 L241.84,313.28 L242.03,312.30 L242.22,311.31 L242.41,310.33 L242.60,309.35 L242.79,308.37 L242.98,307.39 L243.17,306.41 L243.36,305.42 L243.55,304.44 L243.74,303.46 L243.93,302.48 L244.12,301.50 L244.31,300.51 L244.50,299.53 L244.69,298.55 L244.88,297.57 L245.07,296.59 L245.26,295.61 L245.46,294.62 L245.65,293.64 L245.84,292.66 L246.03,291.68 L246.23,290.70 L246.42,289.72 L246.61,288.74 L246.81,287.76 L247.00,286.77 L247.20,285.79 L247.39,284.81 L247.58,283.83 L247.78,282.85 L247.97,281.87 L248.17,280.89 L248.36,279.91 L248.55,278.93 L248.75,277.95 L248.94,276.96 L249.13,275.98 L249.33,275.00 L249.52,274.02 L249.71,273.04 L249.91,272.06 L250.10,271.08 L250.29,270.10 L250.49,269.12 L250.68,268.13 L250.88,267.15 L251.07,266.17 L251.27,265.19 L251.46,264.21 L251.66,263.23 L251.86,262.25 L252.05,261.27 L252.25,260.29 L252.45,259.31 L252.65,258.33 L252.85,257.35 L253.05,256.37 L253.25,255.39 L253.45,254.41 L253.65,253.43 L253.86,252.45 L254.06,251.47 L254.27,250.50 L254.48,249.52 L254.68,248.54 L254.89,247.56 L255.10,246.58 L255.31,245.61 L255.52,244.63 L255.74,243.65 L255.95,242.67 L256.16,241.70 L256.38,240.72 L256.59,239.74 L256.81,238.77 L257.03,237.79 L257.24,236.82 L257.46,235.84 L257.68,234.86 L257.90,233.89 L258.12,232.91 L258.34,231.94 L258.56,230.96 L258.79,229.99 L259.01,229.01 L259.23,228.04 L259.46,227.06 L259.68,226.09 L259.91,225.12 L260.14,224.14 L260.37,223.17 L260.60,222.20 L260.83,221.22 L261.06,220.25 L261.29,219.28 L261.52,218.30 L261.76,217.33 L261.99,216.36 L262.23,215.39 L262.47,214.42 L262.71,213.45 L262.94,212.47 L263.19,211.50 L263.43,210.53 L263.67,209.56 L263.92,208.59 L264.16,207.63 L264.41,206.66 L264.66,205.69 L264.91,204.72 L265.16,203.75 L265.41,202.78 L265.66,201.82 L265.92,200.85 L266.17,199.88 L266.43,198.92 L266.69,197.95 L266.95,196.98 L267.21,196.02 L267.47,195.05 L267.73,194.09 L267.99,193.12 L268.26,192.16 L268.52,191.19 L268.78,190.23 L269.05,189.27 L269.31,188.30 L269.58,187.34 L269.85,186.37 L270.11,185.41 L270.38,184.45 L270.65,183.48 L270.92,182.52 L271.19,181.56 L271.45,180.59 L271.72,179.63 L271.99,178.66 L272.25,177.70 L272.52,176.74 L272.79,175.77 L273.05,174.81 L273.32,173.85 L273.59,172.88 L273.85,171.92 L274.12,170.95 L274.38,169.99 L274.65,169.03 L274.92,168.06 L275.19,167.10 L275.45,166.14 L275.72,165.17 L275.99,164.21 L276.27,163.25 L276.54,162.29 L276.82,161.32 L277.09,160.36 L277.37,159.40 L277.65,158.44 L277.94,157.48 L278.22,156.53 L278.51,155.57 L278.80,154.61 L279.10,153.66 L279.40,152.70 L279.70,151.75 L280.00,150.80 L280.31,149.85 L280.62,148.89 L280.92,147.94 L281.23,146.99 L281.53,146.04 L281.84,145.09 L282.14,144.13 L282.45,143.18 L282.76,142.23 L283.07,141.28 L283.38,140.33 L283.69,139.38 L284.01,138.43 L284.33,137.48 L284.66,136.54 L285.00,135.60 L285.35,134.66 L285.71,133.73 L286.08,132.80 L286.46,131.88 L286.87,130.97 L287.30,130.07 L287.76,129.18 L288.24,128.31 L288.74,127.45 L289.27,126.60 L289.82,125.77 L290.38,124.94 L290.96,124.13 L291.56,123.33 L292.17,122.55 L292.81,121.79 L293.48,121.07 L294.19,120.40 L294.95,119.81 L295.75,119.32 L296.59,118.97 L297.46,118.77 L298.34,118.75 L299.22,118.89 L300.08,119.20 L300.90,119.65 L301.67,120.21 L302.40,120.85 L303.08,121.55 L303.72,122.30 L304.33,123.09 L304.91,123.90 L305.47,124.72 L306.00,125.57 L306.52,126.42 L307.02,127.29 L307.51,128.16 L307.99,129.04 L308.45,129.92 L308.91,130.81 L309.36,131.70 L309.80,132.60 L310.23,133.50 L310.65,134.41 L311.05,135.32 L311.43,136.25 L311.79,137.18 L312.13,138.12 L312.44,139.06 L312.72,140.02 L312.99,140.98 L313.24,141.95 L313.48,142.92 L313.71,143.89 L313.93,144.87 L314.15,145.84 L314.36,146.82 L314.57,147.80 L314.77,148.78 L314.98,149.76 L315.18,150.74 L315.39,151.71 L315.59,152.69 L315.80,153.67 L316.01,154.65 L316.22,155.63 L316.43,156.60 L316.65,157.58 L316.88,158.55 L317.11,159.53 L317.34,160.50 L317.59,161.47 L317.84,162.44 L318.09,163.40 L318.35,164.37 L318.61,165.34 L318.87,166.30 L319.14,167.26 L319.41,168.23 L319.68,169.19 L319.96,170.15 L320.24,171.11 L320.52,172.07 L320.80,173.03 L321.08,173.99 L321.37,174.95 L321.65,175.90 L321.94,176.86 L322.22,177.82 L322.50,178.78 L322.78,179.74 L323.06,180.70 L323.34,181.66 L323.62,182.62 L323.89,183.59 L324.16,184.55 L324.43,185.51 L324.69,186.48 L324.95,187.44 L325.21,188.41 L325.46,189.38 L325.71,190.34 L325.96,191.31 L326.20,192.28 L326.43,193.26 L326.67,194.23 L326.89,195.20 L327.12,196.18 L327.34,197.15 L327.56,198.13 L327.77,199.10 L327.98,200.08 L328.18,201.06 L328.38,202.04 L328.58,203.02 L328.77,204.00 L328.96,204.98 L329.14,205.97 L329.32,206.95 L329.49,207.94 L329.66,208.92 L329.83,209.91 L329.99,210.89 L330.15,211.88 L330.31,212.87 L330.47,213.86 L330.63,214.84 L330.78,215.83 L330.93,216.82 L331.09,217.81 L331.23,218.80 L331.38,219.79 L331.53,220.78 L331.68,221.76 L331.82,222.75 L331.97,223.74 L332.11,224.73 L332.25,225.72 L332.39,226.71 L332.54,227.70 L332.68,228.69 L332.82,229.68 L332.96,230.67 L333.10,231.66 L333.24,232.65 L333.38,233.64 L333.52,234.63 L333.66,235.62 L333.80,236.61 L333.94,237.60 L334.08,238.59 L334.22,239.58 L334.36,240.57 L334.50,241.56 L334.64,242.55 L334.78,243.54 L334.92,244.53 L335.06,245.52 L335.20,246.52 L335.34,247.51 L335.48,248.50 L335.61,249.49 L335.75,250.48 L335.89,251.47 L336.02,252.46 L336.16,253.45 L336.29,254.44 L336.43,255.43 L336.56,256.42 L336.69,257.41 L336.83,258.40 L336.96,259.40 L337.09,260.39 L337.22,261.38 L337.35,262.37 L337.49,263.36 L337.62,264.35 L337.75,265.34 L337.88,266.33 L338.01,267.33 L338.14,268.32 L338.26,269.31 L338.39,270.30 L338.52,271.29 L338.65,272.28 L338.78,273.28 L338.90,274.27 L339.03,275.26 L339.16,276.25 L339.29,277.24 L339.41,278.24 L339.54,279.23 L339.67,280.22 L339.79,281.21 L339.92,282.20 L340.04,283.20 L340.17,284.19 L340.29,285.18 L340.42,286.17 L340.54,287.17 L340.67,288.16 L340.79,289.15 L340.92,290.14 L341.04,291.13 L341.16,292.13 L341.29,293.12 L341.41,294.11 L341.53,295.10 L341.66,296.10 L341.78,297.09 L341.90,298.08 L342.03,299.07 L342.15,300.07 L342.27,301.06 L342.40,302.05 L342.52,303.04 L342.64,304.03 L342.77,305.03 L342.89,306.02 L343.01,307.01 L343.13,308.00 L343.26,309.00 L343.38,309.99 L343.50,310.98 L343.62,311.97 L343.74,312.97 L343.86,313.96 L343.98,314.95 L344.10,315.95 L344.22,316.94 L344.34,317.93 L344.46,318.92 L344.58,319.92 L344.69,320.91 L344.81,321.90 L344.92,322.90 L345.04,323.89 L345.15,324.88 L345.27,325.88 L345.38,326.87 L345.50,327.86 L345.61,328.86 L345.72,329.85 L345.83,330.85 L345.95,331.84 L346.06,332.83 L346.17,333.83 L346.28,334.82 L346.39,335.81 L346.51,336.81 L346.62,337.80 L346.73,338.80 L346.84,339.79 L346.95,340.78 L347.06,341.78 L347.17,342.77 L347.29,343.76 L347.40,344.76 L347.51,345.75 L347.62,346.75 L347.73,347.74 L347.84,348.73 L347.96,349.73 L348.07,350.72 L348.18,351.71 L348.29,352.71 L348.41,353.70 L348.52,354.69 L348.63,355.69 L348.75,356.68 L348.86,357.68 L348.98,358.67 L349.09,359.66 L349.21,360.66 L349.32,361.65 L349.44,362.64 L349.56,363.63 L349.67,364.63 L349.79,365.62 L349.91,366.61 L350.03,367.61 L350.15,368.60 L350.27,369.59 L350.40,370.58 L350.52,371.58 L350.64,372.57 L350.77,373.56 L350.89,374.55 L351.02,375.54 L351.15,376.54 L351.28,377.53 L351.41,378.52 L351.54,379.51 L351.68,380.50 L351.81,381.49 L351.95,382.48 L352.09,383.47 L352.23,384.46 L352.37,385.45 L352.51,386.44 L352.65,387.43 L352.80,388.42 L352.94,389.41 L353.09,390.40 L353.23,391.39 L353.38,392.38 L353.53,393.37 L353.68,394.36 L353.83,395.35 L353.99,396.33 L354.14,397.32 L354.29,398.31 L354.44,399.30 L354.60,400.29 L354.75,401.27 L354.91,402.26 L355.06,403.25 L355.22,404.24 L355.37,405.23 L355.53,406.21 L355.68,407.20 L355.84,408.19 L355.99,409.18 L356.15,410.17 L356.30,411.15 L356.46,412.14 L356.61,413.13 L356.76,414.12 L356.91,415.11 L357.06,416.10 L357.21,417.08 L357.36,418.07 L357.51,419.06 L357.66,420.05 L357.81,421.04 L357.96,422.03 L358.11,423.02 L358.26,424.01 L358.41,424.99 L358.56,425.98 L358.70,426.97 L358.85,427.96 L359.00,428.95 L359.15,429.94 L359.30,430.93 L359.45,431.92 L359.60,432.91 L359.74,433.89 L359.89,434.88 L360.04,435.87 L360.19,436.86 L360.34,437.85 L360.49,438.84 L360.64,439.83 L360.79,440.82 L360.94,441.81 L361.09,442.79 L361.24,443.78 L361.39,444.77 L361.54,445.76 L361.69,446.75 L361.84,447.74 L361.99,448.73 L362.14,449.71 L362.29,450.70 L362.44,451.69 L362.59,452.68 L362.74,453.67 L362.90,454.66 L363.05,455.65 L363.20,456.63 L363.35,457.62 L363.51,458.61 L363.66,459.60 L363.82,460.59 L363.97,461.57 L364.13,462.56 L364.28,463.55 L364.44,464.54 L364.59,465.53 L364.75,466.51 L364.90,467.50 L365.06,468.49 L365.22,469.48 L365.37,470.46 L365.53,471.45 L365.69,472.44 L365.84,473.43 L366.00,474.41 L366.16,475.40 L366.31,476.39 L366.47,477.38 L366.62,478.37 L366.78,479.35 L366.94,480.34 L367.09,481.33 L367.25,482.32 L367.40,483.30 L367.56,484.29 L367.71,485.28 L367.86,486.27 L368.02,487.26 L368.17,488.25 L368.33,489.23 L368.48,490.22 L368.63,491.21 L368.78,492.20 L368.94,493.19 L369.09,494.17 L369.24,495.16 L369.39,496.15 L369.54,497.14 L369.69,498.13 L369.84,499.12 L369.99,500.11 L370.14,501.10 L370.29,502.08 L370.44,503.07 L370.59,504.06 L370.74,505.05 L370.89,506.04 L371.04,507.03 L371.19,508.02 L371.33,509.01 L371.48,509.99 L371.63,510.98 L371.78,511.97 L371.93,512.96 L372.08,513.95 L372.23,514.94 L372.38,515.93 L372.52,516.92 L372.67,517.91 L372.82,518.89 L372.97,519.88 L373.12,520.87 L373.27,521.86 L373.42,522.85 L373.56,523.84 L373.71,524.83 L373.86,525.82 L374.01,526.81 L374.16,527.79 L374.31,528.78 L374.46,529.77 L374.61,530.76 L374.76,531.75 L374.91,532.74 L375.06,533.73 L375.21,534.72 L375.36,535.70 L375.51,536.69 L375.66,537.68 L375.81,538.67 L375.96,539.66 L376.11,540.65 L376.26,541.64 L376.41,542.63 L376.55,543.61 L376.70,544.60 L376.85,545.59 L377.00,546.58 L377.15,547.57 L377.30,548.56 L377.45,549.55 L377.60,550.54 L377.75,551.52 L377.90,552.51 L378.05,553.50 L378.20,554.49 L378.35,555.48 L378.50,556.47 L378.65,557.46 L378.80,558.45 L378.95,559.43 L379.10,560.42 L379.25,561.41 L379.40,562.40 L379.55,563.39 L379.70,564.38 L379.85,565.37 L380.00,566.36 L380.15,567.34 L380.29,568.33 L380.44,569.32 L380.59,570.31 L380.74,571.30 L380.89,572.29 L381.04,573.28 L381.19,574.27 L381.34,575.25 L381.49,576.24 L381.64,577.23 L381.79,578.22 L381.94,579.21 L382.09,580.20 L382.24,581.19 L382.39,582.18 L382.54,583.16 L382.69,584.15 L382.84,585.14 L382.98,586.13 L383.13,587.12 L383.28,588.11 L383.43,589.10 L383.58,590.09 L383.73,591.07 L383.88,592.06 L384.03,593.05 L384.18,594.04 L384.33,595.03 L384.48,596.02 L384.63,597.01 L384.78,598.00 L384.93,598.98 L385.08,599.97 L385.23,600.96 L385.37,601.95 L385.52,602.94 L385.67,603.93 L385.82,604.92 L385.97,605.91 L386.12,606.90 L386.27,607.88 L386.42,608.87 L386.57,609.86 L386.72,610.85 L386.86,611.84 L387.01,612.83 L387.16,613.82 L387.31,614.81 L387.46,615.80 L387.61,616.78 L387.76,617.77 L387.90,618.76 L388.05,619.75 L388.20,620.74 L388.35,621.73 L388.50,622.72 L388.65,623.71 L388.80,624.70 L388.95,625.68 L389.10,626.67 L389.24,627.66 L389.39,628.65 L389.54,629.64 L389.69,630.63 L389.84,631.62 L389.99,632.60 L390.14,633.59 L390.30,634.58 L390.45,635.57 L390.60,636.56 L390.75,637.55 L390.90,638.54 L391.05,639.52 L391.20,640.51 L391.35,641.50 L391.50,642.49 L391.65,643.48 L391.80,644.47 L391.95,645.46 L392.10,646.45 L392.25,647.43 L392.40,648.42 L392.55,649.41 L392.70,650.40 L392.84,651.39 L392.99,652.38 L393.14,653.37 L393.29,654.36 L393.44,655.35 L393.59,656.33 L393.74,657.32 L393.89,658.31 L394.04,659.30 L394.19,660.29 L394.34,661.28 L394.49,662.27 L394.65,663.25 L394.80,664.24 L394.96,665.23 L395.11,666.22 L395.27,667.20 L395.43,668.19 L395.59,669.18 L395.75,670.17 L395.92,671.15 L396.09,672.14 L396.25,673.12 L396.43,674.11 L396.60,675.09 L396.77,676.08 L396.95,677.06 L397.13,678.05 L397.31,679.03 L397.48,680.01 L397.66,681.00 L397.84,681.98 L398.02,682.97 L398.20,683.95 L398.38,684.93 L398.56,685.92 L398.75,686.90 L398.94,687.88 L399.13,688.86 L399.32,689.84 L399.53,690.82 L399.73,691.80 L399.95,692.78 L400.17,693.75 L400.40,694.72 L400.65,695.69 L400.92,696.65 L401.20,697.61 L401.50,698.56 L401.82,699.51 L402.15,700.45 L402.51,701.39 L402.87,702.32 L403.25,703.24 L403.65,704.16 L404.06,705.07 L404.48,705.97 L404.93,706.87 L405.39,707.76 L405.87,708.63 L406.36,709.50 L406.88,710.35 L407.42,711.19 L407.98,712.02 L408.56,712.83 L409.16,713.63 L409.78,714.41 L410.41,715.18 L411.07,715.93 L411.75,716.67 L412.44,717.38 L413.16,718.07 L413.90,718.74 L414.66,719.38 L415.45,719.99 L416.25,720.58 L417.08,721.14 L417.92,721.67 L418.78,722.17 L419.65,722.66 L420.53,723.13 L421.43,723.58 L422.33,724.00 L423.24,724.42 L424.16,724.81 L425.08,725.19 L426.01,725.55 L426.95,725.90 L427.89,726.23 L428.84,726.55 L429.79,726.86 L430.74,727.17 L431.70,727.45 L432.66,727.72 L433.62,727.97 L434.60,728.20 L435.57,728.38 L436.56,728.54 L437.54,728.66 L438.54,728.75 L439.53,728.82 L440.53,728.87 L441.53,728.91 L442.53,728.94 L443.53,728.98 L444.53,729.00 L445.53,729.03 L446.53,729.05 L447.53,729.07 L448.53,729.09 L449.53,729.10 L450.53,729.11 L451.53,729.12 L452.53,729.12 L453.53,729.11 L454.53,729.09 L455.52,729.06 L456.52,729.00 L457.52,728.93 L458.51,728.82 L459.50,728.70 L460.49,728.56 L461.47,728.39 L462.46,728.22 L463.44,728.02 L464.42,727.82 L465.39,727.61 L466.37,727.40 L467.35,727.19 L468.32,726.97 L469.30,726.76 L470.28,726.56 L471.26,726.36 L472.24,726.16 L473.22,725.96 L474.20,725.77 L475.18,725.58 L476.16,725.38 L477.14,725.19 L478.13,724.99 L479.11,724.79 L480.08,724.59 L481.06,724.39 L482.04,724.19 L483.02,723.98 L484.00,723.78 L484.98,723.58 L485.96,723.38 L486.94,723.18 L487.92,722.99 L488.90,722.79 L489.88,722.60 L490.87,722.41 L491.85,722.22 L492.83,722.03 L493.81,721.84 L494.79,721.66 L495.78,721.47 L496.76,721.29 L497.74,721.10 L498.73,720.92 L499.71,720.73 L500.69,720.55 L501.67,720.36 L502.66,720.17 L503.64,719.99 L504.62,719.80 L505.60,719.61 L506.58,719.42 L507.56,719.22 L508.55,719.03 L509.53,718.83 L510.50,718.63 L511.48,718.42 L512.46,718.22 L513.44,718.01 L514.42,717.81 L515.40,717.60 L516.38,717.40 L517.36,717.20 L518.34,717.00 L519.32,716.80 L520.30,716.61 L521.28,716.42 L522.26,716.24 L523.25,716.06 L524.23,715.88 L525.22,715.71 L526.20,715.54 L527.19,715.37 L528.17,715.20 L529.16,715.04 L530.15,714.88 L531.14,714.72 L532.12,714.57 L533.11,714.41 L534.10,714.26 L535.09,714.12 L536.08,713.98 L537.07,713.84 L538.06,713.71 L539.05,713.58 L540.05,713.46 L541.04,713.34 L542.03,713.23 L543.02,713.11 L544.02,713.00 L545.01,712.89 L546.01,712.78 L547.00,712.67 L547.99,712.56 L548.99,712.45 L549.98,712.34 L550.98,712.24 L551.97,712.13 L552.97,712.03 L553.96,711.93 L554.96,711.84 L555.95,711.75 L556.95,711.66 L557.95,711.58 L558.94,711.50 L559.94,711.43 L560.94,711.37 L561.94,711.31 L562.93,711.26 L563.93,711.22 L564.93,711.19 L565.93,711.17 L566.93,711.15 L567.93,711.15 L568.93,711.15 L569.93,711.16 L570.93,711.18 L571.93,711.20 L572.93,711.23 L573.93,711.27 L574.93,711.31 L575.93,711.36 L576.92,711.42 L577.92,711.47 L578.92,711.54 L579.92,711.61 L580.92,711.68 L581.91,711.75 L582.91,711.83 L583.91,711.90 L584.90,711.99 L585.90,712.07 L586.90,712.15 L587.89,712.24 L588.89,712.32 L589.89,712.40 L590.88,712.49 L591.88,712.57 L592.88,712.66 L593.87,712.75 L594.87,712.83 L595.86,712.92 L596.86,713.01 L597.86,713.11 L598.85,713.21 L599.85,713.31 L600.84,713.41 L601.83,713.52 L602.83,713.63 L603.82,713.74 L604.81,713.85 L605.81,713.97 L606.80,714.09 L607.79,714.21 L608.79,714.33 L609.78,714.46 L610.77,714.58 L611.76,714.71 L612.76,714.83 L613.75,714.96 L614.74,715.08 L615.73,715.21 L616.72,715.34 L617.71,715.46 L618.71,715.59 L619.70,715.72 L620.69,715.84 L621.68,715.97 L622.67,716.10 L623.67,716.24 L624.66,716.37 L625.65,716.50 L626.64,716.64 L627.63,716.78 L628.62,716.92 L629.61,717.06 L630.60,717.20 L631.59,717.35 L632.58,717.49 L633.57,717.64 L634.56,717.79 L635.54,717.93 L636.53,718.08 L637.52,718.23 L638.51,718.38 L639.50,718.53 L640.49,718.68 L641.48,718.83 L642.47,718.97 L643.46,719.12 L644.44,719.27 L645.43,719.42 L646.42,719.57 L647.41,719.72 L648.40,719.86 L649.39,720.01 L650.38,720.15 L651.37,720.29 L652.36,720.44 L653.35,720.58 L654.34,720.72 L655.33,720.85 L656.32,720.99 L657.31,721.13 L658.30,721.26 L659.29,721.39 L660.29,721.52 L661.28,721.64 L662.27,721.77 L663.26,721.89 L664.26,722.01 L665.25,722.13 L666.24,722.24 L667.23,722.36 L668.23,722.47 L669.22,722.59 L670.21,722.71 L671.21,722.82 L672.20,722.94 L673.19,723.06 L674.19,723.18 L675.18,723.30 L676.17,723.42 L677.16,723.54 L678.16,723.67 L679.15,723.79 L680.14,723.91 L681.13,724.03 L682.13,724.15 L683.12,724.26 L684.11,724.38 L685.11,724.50 L686.10,724.61 L687.09,724.72 L688.09,724.83 L689.08,724.94 L690.08,725.05 L691.07,725.16 L692.07,725.26 L693.06,725.36 L694.06,725.46 L695.05,725.55 L696.05,725.64 L697.04,725.73 L698.04,725.81 L699.04,725.89 L700.03,725.97 L701.03,726.04 L702.03,726.11 L703.03,726.17 L704.02,726.23 L705.02,726.29 L706.02,726.34 L707.02,726.38 L708.02,726.42 L709.02,726.46 L710.02,726.48 L711.02,726.51 L712.02,726.53 L713.02,726.55 L714.02,726.56 L715.02,726.57 L716.02,726.59 L717.02,726.60 L718.02,726.61 L719.02,726.61 L720.02,726.62 L721.02,726.63 L722.02,726.64 L723.02,726.65 L724.02,726.65 L725.02,726.66 L726.02,726.67 L727.02,726.67 L728.02,726.68 L729.02,726.69 L730.02,726.69 L731.02,726.70 L732.02,726.71 L733.02,726.71 L734.02,726.72 L735.02,726.73 L736.02,726.74 L737.02,726.74 L738.02,726.75 L739.02,726.76 L740.02,726.77 L741.02,726.78 L742.02,726.79 L743.02,726.80 L744.02,726.81 L745.02,726.82 L746.02,726.83 L747.02,726.84 L748.02,726.85 L749.02,726.87 L750.02,726.88 L751.02,726.89 L752.02,726.90 L753.02,726.91 L754.02,726.92 L755.02,726.93 L756.02,726.95 L757.02,726.96 L758.02,726.97 L759.01,726.98 L760.01,726.99 L761.01,727.00 L762.01,727.02 L763.01,727.03 L764.01,727.04 L765.01,727.05 L766.01,727.06 L767.01,727.07 L768.01,727.08 L769.01,727.09 L770.01,727.10 L771.01,727.11 L772.01,727.12 L773.01,727.13 L774.01,727.14 L775.01,727.15 L776.01,727.16 L777.01,727.17 L778.01,727.18 L779.01,727.19 L780.01,727.20 L781.01,727.20 L782.01,727.21 L783.01,727.22 L784.01,727.22 L785.01,727.23 L786.01,727.23 L787.01,727.24 L788.01,727.24 L789.01,727.25 L790.01,727.25 L791.01,727.25 L792.01,727.26 L793.01,727.26 L794.01,727.26 L795.01,727.26 L796.01,727.26 L797.01,727.26 L798.01,727.26 L799.01,727.26 L800.01,727.26 L801.01,727.26 L802.01,727.26 L803.01,727.26 L804.01,727.26 L805.01,727.26 L806.01,727.26 L807.01,727.26 L808.01,727.26 L809.01,727.25 L810.01,727.25 L811.01,727.25 L812.01,727.25 L813.01,727.25 L814.01,727.25 L815.01,727.24 L816.01,727.24 L817.01,727.24 L818.01,727.24 L819.01,727.24 L820.01,727.23 L821.01,727.23 L822.01,727.23 L823.01,727.23 L824.01,727.22 L825.01,727.22 L826.01,727.22 L827.01,727.22 L828.01,727.21 L829.01,727.21 L830.01,727.21 L831.01,727.20 L832.01,727.20 L833.01,727.20 L834.01,727.20 L835.01,727.19 L836.01,727.19 L837.01,727.19 L838.01,727.18 L839.01,727.18 L840.01,727.18 L841.01,727.17 L842.01,727.17 L843.01,727.17 L844.01,727.16 L845.01,727.16 L846.01,727.16 L847.01,727.15 L848.01,727.15 L849.01,727.15 L850.01,727.14 L851.01,727.14 L852.01,727.14 L853.01,727.13 L854.01,727.13 L855.01,727.13 L856.01,727.12 L857.01,727.12 L858.01,727.12 L859.01,727.11 L860.01,727.11 L861.01,727.11 L862.01,727.10 L863.01,727.10 L864.01,727.10 L865.01,727.09 L866.01,727.09 L867.01,727.09 L868.01,727.09 L869.01,727.08 L870.01,727.08 L871.01,727.08 L872.01,727.07 L873.01,727.07 L874.01,727.07 L875.01,727.07 L876.01,727.06 L877.01,727.06 L878.01,727.06 L879.01,727.06 L880.01,727.05 L881.01,727.05 L882.01,727.05 L883.01,727.05 L884.01,727.05 L885.01,727.04 L886.01,727.04 L887.01,727.04 L888.01,727.04 L889.01,727.04 L890.01,727.03 L891.01,727.03 L892.01,727.03 L893.01,727.03 L894.01,727.03 L895.01,727.03 L896.01,727.03 L897.01,727.03 L898.01,727.03 L899.01,727.02 L900.01,727.02 L901.01,727.02 L902.01,727.02 L903.01,727.02 L904.01,727.02 L905.01,727.02 L906.01,727.02 L907.01,727.02 L908.01,727.02 L909.01,727.02 L910.01,727.02 L911.01,727.02 L912.01,727.02 L913.01,727.02 L914.01,727.02 L915.01,727.02 L916.01,727.02 L917.01,727.02 L918.01,727.02 L919.01,727.02 L920.01,727.02 L921.01,727.02 L922.01,727.02 L923.01,727.02 L924.01,727.02 L925.01,727.02 L926.01,727.02 L927.01,727.02 L928.01,727.02 L929.01,727.02 L930.01,727.02 L931.01,727.02 L932.01,727.02 L933.01,727.02 L934.01,727.02 L935.01,727.02 L936.01,727.02 L937.01,727.02 L938.01,727.02 L939.01,727.02 L940.01,727.02 L941.01,727.02 L942.01,727.02 L943.01,727.02 L944.01,727.02 L945.01,727.02 L946.01,727.02 L947.01,727.02 L948.01,727.02 L949.01,727.02 L950.01,727.02 L951.01,727.02 L952.01,727.02 L953.01,727.02 L954.01,727.02 L955.01,727.02 L956.01,727.02 L957.01,727.02 L958.01,727.02 L959.01,727.02 L960.01,727.02 L961.01,727.02 L962.01,727.02 L963.01,727.02 L964.01,727.02 L965.01,727.02 L966.01,727.02 L967.01,727.02 L968.01,727.02 L969.01,727.02 L970.01,727.02 L971.01,727.02 L972.01,727.02 L973.01,727.02 L974.01,727.02 L975.01,727.02 L976.01,727.02 L977.01,727.02 L978.01,727.02 L979.01,727.02 L980.01,727.02 L981.01,727.02 L982.01,727.02 L983.01,727.02 L984.01,727.02 L985.01,727.02 L986.01,727.02 L987.01,727.02 L988.01,727.02 L989.01,727.02 L990.01,727.02 L991.01,727.02 L992.01,727.02 L993.01,727.02 L994.01,727.02 L995.01,727.02 L996.01,727.02 L997.01,727.02 L998.01,727.02 L999.01,727.02 L1000.01,727.02 L1001.01,727.02 L1002.01,727.02 L1003.01,727.02 L1004.01,727.02 L1005.01,727.02 L1006.01,727.02 L1007.01,727.02 L1008.01,727.02 L1009.01,727.02 L1010.01,727.02 L1011.01,727.02 L1012.01,727.02 L1013.01,727.02 L1014.01,727.02 L1015.01,727.02 L1016.01,727.02 L1017.01,727.02 L1018.01,727.02 L1019.01,727.02 L1020.01,727.02 L1021.01,727.02 L1022.01,727.02 L1023.01,727.02 L1024.01,727.02 L1025.01,727.02 L1026.01,727.02 L1027.01,727.02 L1028.01,727.02 L1029.01,727.02 L1030.01,727.02 L1031.01,727.02 L1032.01,727.02 L1033.01,727.02 L1034.01,727.02 L1035.01,727.02 L1036.01,727.02 L1037.01,727.02 L1038.01,727.02 L1039.01,727.02 L1040.01,727.02 L1041.01,727.02 L1042.01,727.02 L1043.01,727.02 L1044.01,727.02 L1045.01,727.02 L1046.01,727.02 L1047.01,727.02 L1048.01,727.02 L1049.01,727.02 L1050.01,727.02 L1051.01,727.02 L1052.01,727.02 L1053.01,727.02 L1054.01,727.02 L1055.01,727.02 L1056.01,727.02 L1057.01,727.02 L1058.01,727.02 L1059.01,727.02 L1060.01,727.02 L1061.01,727.02 L1062.01,727.02 L1063.01,727.02 L1064.01,727.02 L1065.01,727.02 L1066.01,727.02 L1067.01,727.02 L1068.01,727.02 L1069.01,727.02 L1070.01,727.02 L1071.01,727.02 L1072.01,727.02 L1073.01,727.02 L1074.01,727.02 L1075.01,727.02 L1076.01,727.02 L1077.01,727.02 L1078.01,727.02 L1079.01,727.02 L1080.01,727.02 L1081.01,727.02 L1082.01,727.02 L1083.01,727.02 L1084.01,727.02 L1085.01,727.02 L1086.01,727.02 L1087.01,727.02 L1088.01,727.02 L1089.01,727.02 L1090.01,727.02 L1091.01,727.02 L1092.01,727.02 L1093.01,727.02 L1094.01,727.02 L1095.01,727.02 L1096.01,727.02 L1097.01,727.02 L1098.01,727.02 L1099.01,727.02 L1100.01,727.02 L1101.01,727.02 L1102.01,727.02 L1103.01,727.02 L1104.01,727.02 L1105.01,727.02 L1106.01,727.02 L1107.01,727.02 L1108.01,727.02 L1109.01,727.02 L1110.01,727.02 L1111.01,727.02 L1112.01,727.02 L1113.01,727.02 L1114.00,727.02 L1114.98,727.02 L1115.92,727.02 L1116.81,727.02 L1117.59,727.02 L1118.25,727.02" fill="none" stroke="#00f" stroke-width="3.6" stroke-opacity="1.0" stroke-linejoin="round" stroke-linecap="round" clip-path="url(#ca)"/>
<rect x="203.00" y="3.60" width="916.70" height="737.40" fill="none" stroke="#000" stroke-width="3"/>
<line x1="189.00" y1="726.54" x2="203.00" y2="726.54" stroke="#000" stroke-width="3" stroke-linecap="butt"/>
<line x1="189.00" y1="630.15" x2="203.00" y2="630.15" stroke="#000" stroke-width="3" stroke-linecap="butt"/>
<line x1="189.00" y1="533.76" x2="203.00" y2="533.76" stroke="#000" stroke-width="3" stroke-linecap="butt"/>
<line x1="189.00" y1="437.36" x2="203.00" y2="437.36" stroke="#000" stroke-width="3" stroke-linecap="butt"/>
<line x1="189.00" y1="340.97" x2="203.00" y2="340.97" stroke="#000" stroke-width="3" stroke-linecap="butt"/>
<line x1="189.00" y1="244.58" x2="203.00" y2="244.58" stroke="#000" stroke-width="3" stroke-linecap="butt"/>
<line x1="189.00" y1="148.19" x2="203.00" y2="148.19" stroke="#000" stroke-width="3" stroke-linecap="butt"/>
<line x1="189.00" y1="51.80" x2="203.00" y2="51.80" stroke="#000" stroke-width="3" stroke-linecap="butt"/>
<line x1="196.00" y1="678.35" x2="203.00" y2="678.35" stroke="#000" stroke-width="3" stroke-linecap="butt"/>
<line x1="196.00" y1="581.95" x2="203.00" y2="581.95" stroke="#000" stroke-width="3" stroke-linecap="butt"/>
<line x1="196.00" y1="485.56" x2="203.00" y2="485.56" stroke="#000" stroke-width="3" stroke-linecap="butt"/>
<line x1="196.00" y1="389.17" x2="203.00" y2="389.17" stroke="#000" stroke-width="3" stroke-linecap="butt"/>
<line x1="196.00" y1="292.78" x2="203.00" y2="292.78" stroke="#000" stroke-width="3" stroke-linecap="butt"/>
<line x1="196.00" y1="196.38" x2="203.00" y2="196.38" stroke="#000" stroke-width="3" stroke-linecap="butt"/>
<line x1="196.00" y1="99.99" x2="203.00" y2="99.99" stroke="#000" stroke-width="3" stroke-linecap="butt"/>
<line x1="196.00" y1="3.60" x2="203.00" y2="3.60" stroke="#000" stroke-width="3" stroke-linecap="butt"/>
<line x1="256.92" y1="741.00" x2="256.92" y2="755.00" stroke="#000" stroke-width="3" stroke-linecap="butt"/>
<line x1="364.77" y1="741.00" x2="364.77" y2="755.00" stroke="#000" stroke-width="3" stroke-linecap="butt"/>
<line x1="472.62" y1="741.00" x2="472.62" y2="755.00" stroke="#000" stroke-width="3" stroke-linecap="butt"/>
<line x1="580.46" y1="741.00" x2="580.46" y2="755.00" stroke="#000" stroke-width="3" stroke-linecap="butt"/>
<line x1="688.31" y1="741.00" x2="688.31" y2="755.00" stroke="#000" stroke-width="3" stroke-linecap="butt"/>
<line x1="796.16" y1="741.00" x2="796.16" y2="755.00" stroke="#000" stroke-width="3" stroke-linecap="butt"/>
<line x1="904.01" y1="741.00" x2="904.01" y2="755.00" stroke="#000" stroke-width="3" stroke-linecap="butt"/>
<line x1="1011.85" y1="741.00" x2="1011.85" y2="755.00" stroke="#000" stroke-width="3" stroke-linecap="butt"/>
<line x1="1119.70" y1="741.00" x2="1119.70" y2="755.00" stroke="#000" stroke-width="3" stroke-linecap="butt"/>
<line x1="203.00" y1="741.00" x2="203.00" y2="748.00" stroke="#000" stroke-width="3" stroke-linecap="butt"/>
<line x1="310.85" y1="741.00" x2="310.85" y2="748.00" stroke="#000" stroke-width="3" stroke-linecap="butt"/>
<line x1="418.69" y1="741.00" x2="418.69" y2="748.00" stroke="#000" stroke-width="3" stroke-linecap="butt"/>
<line x1="526.54" y1="741.00" x2="526.54" y2="748.00" stroke="#000" stroke-width="3" stroke-linecap="butt"/>
<line x1="634.39" y1="741.00" x2="634.39" y2="748.00" stroke="#000" stroke-width="3" stroke-linecap="butt"/>
<line x1="742.24" y1="741.00" x2="742.24" y2="748.00" stroke="#000" stroke-width="3" stroke-linecap="butt"/>
<line x1="850.08" y1="741.00" x2="850.08" y2="748.00" stroke="#000" stroke-width="3" stroke-linecap="butt"/>
<line x1="957.93" y1="741.00" x2="957.93" y2="748.00" stroke="#000" stroke-width="3" stroke-linecap="butt"/>
<line x1="1065.78" y1="741.00" x2="1065.78" y2="748.00" stroke="#000" stroke-width="3" stroke-linecap="butt"/>
<text transform="translate(178.00,737.04) scale(1.0,1.08)" font-size="30" text-anchor="end" font-weight="normal" fill="#000">0</text>
<text transform="translate(178.00,640.65) scale(1.0,1.08)" font-size="30" text-anchor="end" font-weight="normal" fill="#000">2000</text>
<text transform="translate(178.00,544.26) scale(1.0,1.08)" font-size="30" text-anchor="end" font-weight="normal" fill="#000">4000</text>
<text transform="translate(178.00,447.86) scale(1.0,1.08)" font-size="30" text-anchor="end" font-weight="normal" fill="#000">6000</text>
<text transform="translate(178.00,351.47) scale(1.0,1.08)" font-size="30" text-anchor="end" font-weight="normal" fill="#000">8000</text>
<text transform="translate(178.00,255.08) scale(1.0,1.08)" font-size="30" text-anchor="end" font-weight="normal" fill="#000">10000</text>
<text transform="translate(178.00,158.69) scale(1.0,1.08)" font-size="30" text-anchor="end" font-weight="normal" fill="#000">12000</text>
<text transform="translate(178.00,62.30) scale(1.0,1.08)" font-size="30" text-anchor="end" font-weight="normal" fill="#000">14000</text>
<text transform="translate(256.92,790.30) scale(1.0,1.08)" font-size="30" text-anchor="middle" font-weight="normal" fill="#000">300</text>
<text transform="translate(364.77,790.30) scale(1.0,1.08)" font-size="30" text-anchor="middle" font-weight="normal" fill="#000">350</text>
<text transform="translate(472.62,790.30) scale(1.0,1.08)" font-size="30" text-anchor="middle" font-weight="normal" fill="#000">400</text>
<text transform="translate(580.46,790.30) scale(1.0,1.08)" font-size="30" text-anchor="middle" font-weight="normal" fill="#000">450</text>
<text transform="translate(688.31,790.30) scale(1.0,1.08)" font-size="30" text-anchor="middle" font-weight="normal" fill="#000">500</text>
<text transform="translate(796.16,790.30) scale(1.0,1.08)" font-size="30" text-anchor="middle" font-weight="normal" fill="#000">550</text>
<text transform="translate(904.01,790.30) scale(1.0,1.08)" font-size="30" text-anchor="middle" font-weight="normal" fill="#000">600</text>
<text transform="translate(1011.85,790.30) scale(1.0,1.08)" font-size="30" text-anchor="middle" font-weight="normal" fill="#000">650</text>
<text transform="translate(1119.70,790.30) scale(1.0,1.08)" font-size="30" text-anchor="middle" font-weight="normal" fill="#000">700</text>
<text x="518.50" y="849.00" font-size="38.4" text-anchor="start" font-weight="normal" fill="#000">Wavelength / nm</text>
<text transform="translate(47.6,361) rotate(-90) scale(1,0.93)" font-size="38.5" text-anchor="middle">ε / L / mol cm</text>
<text x="8.40" y="37.20" font-size="42" text-anchor="start" font-weight="bold" fill="#000">(a)</text>
<text transform="translate(298.80,100.50) scale(1.0,1.05)" font-size="37.5" text-anchor="middle" font-weight="bold" fill="#000">319</text>
<text transform="translate(549.70,676.30) scale(1.0,1.05)" font-size="37.5" text-anchor="middle" font-weight="bold" fill="#000">436</text>
<line x1="743.00" y1="25.30" x2="829.00" y2="25.30" stroke="#111" stroke-width="3.0" stroke-linecap="round"/>
<text x="839.00" y="37.50" font-size="38.5" text-anchor="start" font-weight="normal" fill="#000">initial</text>
<line x1="743.00" y1="72.70" x2="829.00" y2="72.70" stroke="#cc2228" stroke-width="3.0" stroke-linecap="round"/>
<text x="839.00" y="85.80" font-size="38.5" text-anchor="start" font-weight="normal" fill="#000">324 nm - 10 min</text>
<line x1="743.00" y1="119.60" x2="829.00" y2="119.60" stroke="#1414c8" stroke-width="3.0" stroke-linecap="round"/>
<text x="839.00" y="132.20" font-size="38.5" text-anchor="start" font-weight="normal" fill="#000">440 nm - 10 min</text>
<rect x="632.5" y="279.6" width="436.29999999999995" height="314.4" fill="#fdfdfd"/>
<path d="M628.13,431.72 L628.26,432.29 L628.42,432.99 L628.60,433.82 L628.79,434.71 L628.99,435.66 L629.20,436.62 L629.40,437.60 L629.59,438.57 L629.79,439.55 L629.98,440.54 L630.16,441.52 L630.35,442.50 L630.53,443.48 L630.71,444.47 L630.89,445.45 L631.06,446.44 L631.23,447.42 L631.41,448.41 L631.58,449.39 L631.74,450.38 L631.91,451.36 L632.07,452.35 L632.24,453.34 L632.40,454.32 L632.56,455.31 L632.72,456.30 L632.88,457.29 L633.03,458.27 L633.19,459.26 L633.34,460.25 L633.49,461.24 L633.64,462.23 L633.79,463.22 L633.93,464.21 L634.07,465.20 L634.21,466.19 L634.35,467.18 L634.48,468.17 L634.61,469.16 L634.74,470.15 L634.87,471.14 L635.00,472.13 L635.12,473.13 L635.25,474.12 L635.38,475.11 L635.50,476.10 L635.63,477.09 L635.75,478.09 L635.88,479.08 L636.00,480.07 L636.13,481.06 L636.25,482.06 L636.38,483.05 L636.51,484.04 L636.64,485.03 L636.77,486.02 L636.90,487.01 L637.03,488.01 L637.16,489.00 L637.29,489.99 L637.43,490.98 L637.56,491.97 L637.69,492.96 L637.82,493.95 L637.95,494.94 L638.08,495.94 L638.21,496.93 L638.34,497.92 L638.48,498.91 L638.61,499.90 L638.74,500.89 L638.87,501.88 L639.00,502.87 L639.14,503.87 L639.27,504.86 L639.41,505.85 L639.55,506.84 L639.69,507.83 L639.83,508.82 L639.97,509.81 L640.12,510.80 L640.27,511.79 L640.42,512.77 L640.57,513.76 L640.73,514.75 L640.89,515.74 L641.06,516.72 L641.22,517.71 L641.39,518.69 L641.56,519.68 L641.74,520.66 L641.91,521.65 L642.08,522.63 L642.26,523.62 L642.44,524.60 L642.62,525.58 L642.80,526.57 L642.99,527.55 L643.18,528.53 L643.37,529.51 L643.56,530.50 L643.75,531.48 L643.95,532.46 L644.15,533.44 L644.36,534.42 L644.57,535.39 L644.78,536.37 L645.00,537.34 L645.23,538.32 L645.46,539.29 L645.70,540.26 L645.94,541.23 L646.20,542.20 L646.46,543.16 L646.73,544.13 L647.01,545.09 L647.30,546.04 L647.59,547.00 L647.88,547.96 L648.19,548.91 L648.50,549.86 L648.81,550.81 L649.13,551.75 L649.46,552.70 L649.79,553.64 L650.14,554.58 L650.49,555.52 L650.85,556.45 L651.22,557.38 L651.60,558.30 L651.99,559.22 L652.40,560.13 L652.82,561.04 L653.26,561.93 L653.72,562.82 L654.20,563.70 L654.70,564.56 L655.21,565.42 L655.75,566.26 L656.30,567.09 L656.87,567.91 L657.46,568.72 L658.06,569.51 L658.69,570.30 L659.32,571.06 L659.98,571.81 L660.66,572.55 L661.35,573.26 L662.07,573.95 L662.81,574.62 L663.57,575.27 L664.35,575.90 L665.14,576.50 L665.95,577.08 L666.77,577.64 L667.61,578.19 L668.46,578.72 L669.31,579.24 L670.18,579.74 L671.05,580.22 L671.94,580.67 L672.84,581.11 L673.75,581.52 L674.67,581.91 L675.60,582.26 L676.54,582.59 L677.49,582.89 L678.45,583.17 L679.41,583.42 L680.38,583.66 L681.36,583.88 L682.33,584.09 L683.31,584.29 L684.30,584.48 L685.28,584.65 L686.27,584.81 L687.26,584.95 L688.25,585.07 L689.24,585.17 L690.24,585.25 L691.23,585.31 L692.23,585.34 L693.23,585.35 L694.23,585.35 L695.23,585.32 L696.23,585.29 L697.22,585.23 L698.22,585.17 L699.22,585.10 L700.21,585.01 L701.21,584.92 L702.20,584.82 L703.20,584.71 L704.19,584.59 L705.18,584.47 L706.18,584.34 L707.17,584.21 L708.16,584.07 L709.15,583.94 L710.14,583.79 L711.13,583.65 L712.12,583.50 L713.10,583.34 L714.09,583.18 L715.07,583.00 L716.05,582.81 L717.03,582.61 L718.01,582.39 L718.98,582.16 L719.95,581.92 L720.92,581.67 L721.88,581.41 L722.85,581.14 L723.81,580.86 L724.77,580.58 L725.73,580.30 L726.68,580.01 L727.64,579.73 L728.60,579.44 L729.56,579.16 L730.52,578.89 L731.48,578.61 L732.45,578.35 L733.41,578.09 L734.38,577.83 L735.35,577.59 L736.32,577.34 L737.29,577.10 L738.26,576.86 L739.23,576.62 L740.20,576.38 L741.17,576.15 L742.15,575.91 L743.12,575.68 L744.09,575.44 L745.06,575.21 L746.04,574.98 L747.01,574.75 L747.98,574.53 L748.96,574.30 L749.93,574.07 L750.91,573.85 L751.88,573.63 L752.86,573.40 L753.83,573.18 L754.81,572.96 L755.78,572.74 L756.76,572.53 L757.73,572.31 L758.71,572.09 L759.69,571.87 L760.66,571.65 L761.64,571.44 L762.61,571.22 L763.59,571.01 L764.57,570.79 L765.54,570.58 L766.52,570.37 L767.50,570.16 L768.48,569.95 L769.46,569.74 L770.44,569.54 L771.41,569.34 L772.39,569.14 L773.38,568.94 L774.36,568.75 L775.34,568.56 L776.32,568.37 L777.30,568.18 L778.29,568.00 L779.27,567.82 L780.25,567.65 L781.24,567.47 L782.22,567.30 L783.21,567.12 L784.19,566.95 L785.18,566.78 L786.16,566.61 L787.15,566.44 L788.14,566.27 L789.12,566.11 L790.11,565.94 L791.09,565.78 L792.08,565.62 L793.07,565.47 L794.06,565.31 L795.05,565.16 L796.04,565.01 L797.02,564.87 L798.02,564.73 L799.01,564.60 L800.00,564.47 L800.99,564.34 L801.98,564.22 L802.98,564.11 L803.97,564.00 L804.96,563.89 L805.96,563.79 L806.95,563.69 L807.95,563.60 L808.94,563.50 L809.94,563.41 L810.94,563.32 L811.93,563.22 L812.93,563.13 L813.92,563.04 L814.92,562.95 L815.92,562.87 L816.91,562.78 L817.91,562.70 L818.91,562.62 L819.90,562.55 L820.90,562.48 L821.90,562.41 L822.90,562.35 L823.89,562.29 L824.89,562.23 L825.89,562.19 L826.89,562.15 L827.89,562.11 L828.89,562.08 L829.89,562.06 L830.89,562.05 L831.89,562.04 L832.89,562.05 L833.89,562.06 L834.89,562.08 L835.89,562.12 L836.88,562.16 L837.88,562.21 L838.88,562.27 L839.88,562.33 L840.88,562.41 L841.87,562.49 L842.87,562.58 L843.86,562.67 L844.86,562.77 L845.85,562.87 L846.85,562.97 L847.84,563.08 L848.84,563.20 L849.83,563.31 L850.82,563.43 L851.82,563.55 L852.81,563.67 L853.80,563.78 L854.79,563.90 L855.79,564.02 L856.78,564.14 L857.77,564.26 L858.76,564.39 L859.76,564.51 L860.75,564.64 L861.74,564.78 L862.73,564.92 L863.72,565.06 L864.71,565.21 L865.70,565.36 L866.68,565.52 L867.67,565.68 L868.66,565.84 L869.64,566.01 L870.63,566.18 L871.61,566.35 L872.60,566.52 L873.58,566.70 L874.57,566.87 L875.55,567.05 L876.54,567.23 L877.52,567.40 L878.51,567.58 L879.49,567.75 L880.47,567.93 L881.46,568.10 L882.44,568.27 L883.43,568.44 L884.42,568.61 L885.40,568.77 L886.39,568.94 L887.37,569.11 L888.36,569.28 L889.34,569.45 L890.33,569.62 L891.32,569.79 L892.30,569.96 L893.29,570.13 L894.27,570.31 L895.26,570.48 L896.24,570.65 L897.23,570.82 L898.21,570.99 L899.20,571.16 L900.18,571.33 L901.17,571.50 L902.15,571.66 L903.14,571.83 L904.13,571.99 L905.11,572.16 L906.10,572.32 L907.09,572.47 L908.08,572.63 L909.06,572.78 L910.05,572.93 L911.04,573.08 L912.03,573.23 L913.02,573.38 L914.01,573.52 L915.00,573.67 L915.99,573.81 L916.98,573.95 L917.97,574.09 L918.96,574.23 L919.95,574.37 L920.94,574.51 L921.93,574.64 L922.92,574.78 L923.91,574.91 L924.90,575.04 L925.89,575.18 L926.89,575.31 L927.88,575.43 L928.87,575.56 L929.86,575.69 L930.85,575.81 L931.85,575.93 L932.84,576.06 L933.83,576.18 L934.82,576.30 L935.82,576.41 L936.81,576.53 L937.80,576.64 L938.80,576.76 L939.79,576.87 L940.79,576.98 L941.78,577.09 L942.77,577.20 L943.77,577.31 L944.76,577.42 L945.75,577.53 L946.75,577.64 L947.74,577.75 L948.74,577.85 L949.73,577.96 L950.73,578.06 L951.72,578.17 L952.72,578.27 L953.71,578.37 L954.71,578.48 L955.70,578.58 L956.70,578.68 L957.69,578.78 L958.69,578.88 L959.68,578.97 L960.68,579.07 L961.67,579.17 L962.67,579.26 L963.66,579.36 L964.66,579.45 L965.65,579.55 L966.65,579.64 L967.64,579.73 L968.64,579.83 L969.64,579.92 L970.63,580.01 L971.63,580.10 L972.62,580.19 L973.62,580.27 L974.62,580.36 L975.61,580.45 L976.61,580.53 L977.60,580.62 L978.60,580.71 L979.60,580.79 L980.59,580.88 L981.59,580.96 L982.59,581.05 L983.58,581.14 L984.58,581.23 L985.57,581.32 L986.57,581.42 L987.57,581.51 L988.56,581.60 L989.56,581.70 L990.55,581.79 L991.55,581.89 L992.54,581.98 L993.54,582.08 L994.53,582.18 L995.53,582.27 L996.52,582.37 L997.52,582.46 L998.52,582.55 L999.51,582.65 L1000.51,582.74 L1001.50,582.83 L1002.50,582.92 L1003.49,583.01 L1004.49,583.10 L1005.49,583.18 L1006.48,583.26 L1007.48,583.35 L1008.48,583.42 L1009.47,583.50 L1010.47,583.58 L1011.47,583.65 L1012.47,583.72 L1013.46,583.78 L1014.46,583.84 L1015.46,583.90 L1016.46,583.96 L1017.46,584.01 L1018.46,584.06 L1019.46,584.11 L1020.45,584.15 L1021.45,584.18 L1022.45,584.21 L1023.45,584.24 L1024.45,584.27 L1025.45,584.29 L1026.45,584.30 L1027.45,584.31 L1028.45,584.32 L1029.45,584.32 L1030.45,584.32 L1031.45,584.33 L1032.45,584.33 L1033.45,584.33 L1034.45,584.33 L1035.45,584.33 L1036.45,584.33 L1037.45,584.33 L1038.45,584.33 L1039.45,584.33 L1040.45,584.33 L1041.45,584.33 L1042.45,584.33 L1043.45,584.33 L1044.45,584.33 L1045.45,584.33 L1046.45,584.33 L1047.45,584.33 L1048.45,584.33 L1049.45,584.33 L1050.45,584.33 L1051.45,584.33 L1052.45,584.33 L1053.45,584.33 L1054.45,584.33 L1055.45,584.33 L1056.45,584.33 L1057.45,584.33 L1058.45,584.33 L1059.45,584.33 L1060.45,584.33 L1061.45,584.33 L1062.44,584.33 L1063.43,584.33 L1064.39,584.33 L1065.31,584.33 L1066.15,584.33 L1066.88,584.33 L1067.46,584.33" fill="none" stroke="#000" stroke-width="2" stroke-opacity="1.0" stroke-linejoin="round" stroke-linecap="round" clip-path="url(#cia)"/>
<path d="M628.49,562.76 L628.83,563.23 L629.26,563.81 L629.75,564.49 L630.30,565.23 L630.87,566.01 L631.45,566.81 L632.04,567.61 L632.63,568.41 L633.23,569.21 L633.82,570.02 L634.41,570.83 L634.99,571.64 L635.58,572.45 L636.17,573.26 L636.76,574.07 L637.35,574.87 L637.96,575.66 L638.58,576.44 L639.22,577.21 L639.89,577.95 L640.57,578.68 L641.27,579.39 L641.99,580.07 L642.73,580.74 L643.49,581.40 L644.26,582.03 L645.04,582.65 L645.84,583.25 L646.66,583.81 L647.50,584.34 L648.36,584.84 L649.24,585.29 L650.15,585.70 L651.07,586.07 L652.01,586.41 L652.95,586.72 L653.91,587.00 L654.87,587.27 L655.84,587.52 L656.81,587.75 L657.79,587.96 L658.77,588.15 L659.75,588.32 L660.74,588.46 L661.73,588.58 L662.72,588.66 L663.72,588.71 L664.71,588.72 L665.71,588.70 L666.70,588.63 L667.69,588.53 L668.68,588.38 L669.66,588.21 L670.63,588.01 L671.61,587.79 L672.58,587.55 L673.54,587.30 L674.51,587.04 L675.47,586.77 L676.44,586.51 L677.41,586.25 L678.37,586.00 L679.34,585.74 L680.31,585.49 L681.27,585.24 L682.24,584.98 L683.21,584.72 L684.17,584.46 L685.13,584.19 L686.09,583.91 L687.05,583.63 L688.01,583.35 L688.97,583.06 L689.93,582.77 L690.88,582.47 L691.83,582.16 L692.78,581.85 L693.73,581.53 L694.68,581.21 L695.62,580.88 L696.56,580.54 L697.50,580.20 L698.44,579.86 L699.38,579.51 L700.31,579.15 L701.24,578.79 L702.18,578.42 L703.10,578.05 L704.03,577.68 L704.96,577.30 L705.88,576.92 L706.80,576.54 L707.73,576.15 L708.65,575.76 L709.57,575.36 L710.48,574.97 L711.40,574.57 L712.31,574.16 L713.23,573.75 L714.14,573.34 L715.05,572.92 L715.95,572.50 L716.85,572.06 L717.75,571.63 L718.65,571.18 L719.54,570.73 L720.43,570.28 L721.32,569.82 L722.21,569.36 L723.09,568.90 L723.98,568.43 L724.86,567.97 L725.75,567.50 L726.64,567.04 L727.52,566.58 L728.41,566.12 L729.30,565.66 L730.19,565.21 L731.08,564.76 L731.98,564.31 L732.88,563.87 L733.78,563.44 L734.68,563.01 L735.59,562.58 L736.49,562.16 L737.40,561.73 L738.30,561.31 L739.21,560.89 L740.12,560.46 L741.02,560.04 L741.93,559.63 L742.84,559.21 L743.75,558.80 L744.66,558.39 L745.58,557.98 L746.49,557.58 L747.41,557.19 L748.33,556.80 L749.26,556.42 L750.18,556.04 L751.11,555.68 L752.05,555.32 L752.98,554.97 L753.92,554.62 L754.87,554.29 L755.81,553.96 L756.76,553.64 L757.70,553.32 L758.65,553.01 L759.60,552.70 L760.56,552.39 L761.51,552.08 L762.46,551.78 L763.42,551.49 L764.37,551.20 L765.33,550.91 L766.29,550.63 L767.25,550.35 L768.21,550.08 L769.18,549.81 L770.14,549.55 L771.11,549.30 L772.08,549.06 L773.05,548.82 L774.03,548.59 L775.00,548.37 L775.98,548.16 L776.96,547.96 L777.94,547.77 L778.92,547.58 L779.90,547.40 L780.89,547.23 L781.87,547.06 L782.86,546.89 L783.85,546.72 L784.83,546.56 L785.82,546.39 L786.81,546.23 L787.79,546.07 L788.78,545.91 L789.77,545.76 L790.76,545.60 L791.74,545.45 L792.73,545.31 L793.72,545.17 L794.71,545.03 L795.71,544.90 L796.70,544.78 L797.69,544.66 L798.68,544.55 L799.68,544.44 L800.67,544.35 L801.67,544.26 L802.67,544.18 L803.66,544.11 L804.66,544.05 L805.66,544.00 L806.66,543.96 L807.66,543.94 L808.66,543.92 L809.66,543.91 L810.66,543.92 L811.66,543.94 L812.66,543.97 L813.65,544.01 L814.65,544.05 L815.65,544.11 L816.65,544.18 L817.65,544.26 L818.64,544.34 L819.64,544.43 L820.63,544.53 L821.63,544.63 L822.62,544.74 L823.61,544.85 L824.61,544.97 L825.60,545.10 L826.59,545.22 L827.58,545.35 L828.57,545.49 L829.56,545.62 L830.55,545.76 L831.54,545.91 L832.53,546.07 L833.52,546.24 L834.50,546.42 L835.48,546.61 L836.45,546.82 L837.43,547.05 L838.40,547.29 L839.36,547.54 L840.33,547.81 L841.29,548.09 L842.24,548.38 L843.20,548.68 L844.15,548.98 L845.10,549.29 L846.05,549.61 L847.00,549.93 L847.94,550.26 L848.89,550.59 L849.83,550.92 L850.77,551.25 L851.72,551.58 L852.66,551.91 L853.61,552.24 L854.55,552.56 L855.50,552.88 L856.45,553.20 L857.40,553.51 L858.35,553.82 L859.30,554.13 L860.25,554.44 L861.20,554.75 L862.15,555.06 L863.10,555.38 L864.05,555.69 L865.00,556.01 L865.95,556.32 L866.89,556.64 L867.84,556.96 L868.79,557.28 L869.74,557.61 L870.68,557.93 L871.63,558.25 L872.58,558.57 L873.52,558.89 L874.47,559.21 L875.42,559.53 L876.36,559.85 L877.31,560.17 L878.26,560.49 L879.21,560.80 L880.16,561.12 L881.11,561.43 L882.06,561.74 L883.01,562.05 L883.96,562.35 L884.92,562.66 L885.87,562.96 L886.82,563.27 L887.77,563.57 L888.73,563.87 L889.68,564.18 L890.63,564.48 L891.59,564.78 L892.54,565.08 L893.49,565.38 L894.45,565.68 L895.40,565.98 L896.36,566.28 L897.31,566.57 L898.27,566.87 L899.22,567.16 L900.18,567.45 L901.14,567.74 L902.10,568.02 L903.06,568.30 L904.02,568.58 L904.98,568.86 L905.94,569.14 L906.90,569.41 L907.87,569.68 L908.83,569.94 L909.79,570.20 L910.76,570.46 L911.73,570.72 L912.69,570.98 L913.66,571.24 L914.62,571.50 L915.59,571.75 L916.56,572.01 L917.52,572.27 L918.49,572.52 L919.46,572.78 L920.42,573.03 L921.39,573.28 L922.36,573.52 L923.33,573.77 L924.30,574.00 L925.28,574.24 L926.25,574.47 L927.22,574.69 L928.20,574.91 L929.18,575.12 L930.15,575.33 L931.13,575.53 L932.12,575.72 L933.10,575.90 L934.08,576.07 L935.07,576.24 L936.06,576.40 L937.05,576.55 L938.03,576.69 L939.02,576.83 L940.02,576.97 L941.01,577.10 L942.00,577.23 L942.99,577.35 L943.98,577.48 L944.98,577.60 L945.97,577.71 L946.96,577.83 L947.96,577.94 L948.95,578.05 L949.94,578.16 L950.94,578.26 L951.93,578.37 L952.93,578.47 L953.92,578.57 L954.92,578.67 L955.91,578.76 L956.91,578.86 L957.90,578.95 L958.90,579.05 L959.90,579.14 L960.89,579.23 L961.89,579.31 L962.88,579.40 L963.88,579.49 L964.88,579.57 L965.87,579.66 L966.87,579.74 L967.87,579.82 L968.86,579.91 L969.86,579.99 L970.86,580.07 L971.85,580.15 L972.85,580.24 L973.85,580.32 L974.84,580.40 L975.84,580.48 L976.84,580.56 L977.83,580.65 L978.83,580.73 L979.83,580.81 L980.82,580.90 L981.82,580.99 L982.81,581.07 L983.81,581.16 L984.81,581.25 L985.80,581.34 L986.80,581.44 L987.79,581.53 L988.79,581.62 L989.78,581.72 L990.78,581.81 L991.78,581.91 L992.77,582.01 L993.77,582.10 L994.76,582.20 L995.76,582.29 L996.75,582.39 L997.75,582.48 L998.74,582.58 L999.74,582.67 L1000.73,582.76 L1001.73,582.85 L1002.73,582.94 L1003.72,583.03 L1004.72,583.12 L1005.72,583.20 L1006.71,583.28 L1007.71,583.36 L1008.71,583.44 L1009.70,583.52 L1010.70,583.59 L1011.70,583.66 L1012.69,583.73 L1013.69,583.80 L1014.69,583.86 L1015.69,583.92 L1016.69,583.97 L1017.69,584.02 L1018.68,584.07 L1019.68,584.11 L1020.68,584.15 L1021.68,584.19 L1022.68,584.22 L1023.68,584.25 L1024.68,584.27 L1025.68,584.29 L1026.68,584.30 L1027.68,584.31 L1028.68,584.32 L1029.68,584.32 L1030.68,584.32 L1031.68,584.33 L1032.68,584.33 L1033.68,584.33 L1034.68,584.33 L1035.68,584.33 L1036.68,584.33 L1037.68,584.33 L1038.68,584.33 L1039.68,584.33 L1040.68,584.33 L1041.68,584.33 L1042.68,584.33 L1043.68,584.33 L1044.68,584.33 L1045.68,584.33 L1046.68,584.33 L1047.68,584.33 L1048.68,584.33 L1049.68,584.33 L1050.68,584.33 L1051.68,584.33 L1052.68,584.33 L1053.68,584.33 L1054.68,584.33 L1055.68,584.33 L1056.68,584.33 L1057.68,584.33 L1058.68,584.33 L1059.68,584.33 L1060.68,584.33 L1061.68,584.33 L1062.67,584.33 L1063.66,584.33 L1064.62,584.33 L1065.54,584.33 L1066.38,584.33 L1067.11,584.33 L1067.69,584.33" fill="none" stroke="#f22" stroke-width="1.4" stroke-opacity="0.8" stroke-linejoin="round" stroke-linecap="round" clip-path="url(#cia)"/>
<path d="M628.49,554.90 L628.83,555.37 L629.26,555.95 L629.75,556.63 L630.30,557.37 L630.87,558.15 L631.45,558.95 L632.04,559.75 L632.64,560.55 L633.23,561.35 L633.82,562.16 L634.41,562.97 L635.00,563.77 L635.59,564.58 L636.18,565.39 L636.77,566.20 L637.37,567.00 L637.98,567.79 L638.60,568.57 L639.24,569.34 L639.90,570.09 L640.58,570.82 L641.27,571.53 L641.99,572.22 L642.73,572.89 L643.48,573.55 L644.25,574.19 L645.03,574.81 L645.82,575.42 L646.63,576.01 L647.45,576.57 L648.28,577.13 L649.13,577.66 L649.98,578.18 L650.84,578.68 L651.71,579.17 L652.59,579.66 L653.46,580.14 L654.34,580.61 L655.23,581.08 L656.12,581.54 L657.01,581.97 L657.92,582.39 L658.84,582.78 L659.77,583.13 L660.71,583.44 L661.66,583.71 L662.63,583.92 L663.61,584.08 L664.59,584.19 L665.59,584.26 L666.58,584.31 L667.58,584.33 L668.58,584.33 L669.58,584.33 L670.58,584.33 L671.58,584.32 L672.58,584.32 L673.58,584.31 L674.58,584.30 L675.58,584.29 L676.58,584.27 L677.58,584.25 L678.58,584.21 L679.57,584.16 L680.57,584.09 L681.56,584.01 L682.56,583.89 L683.55,583.76 L684.53,583.61 L685.52,583.44 L686.50,583.26 L687.48,583.06 L688.46,582.85 L689.44,582.64 L690.41,582.42 L691.38,582.19 L692.35,581.95 L693.32,581.70 L694.29,581.44 L695.25,581.17 L696.20,580.88 L697.15,580.57 L698.10,580.25 L699.04,579.91 L699.98,579.56 L700.91,579.20 L701.84,578.83 L702.76,578.44 L703.68,578.06 L704.60,577.66 L705.52,577.26 L706.43,576.85 L707.34,576.44 L708.25,576.03 L709.16,575.62 L710.07,575.20 L710.98,574.79 L711.89,574.37 L712.80,573.96 L713.71,573.54 L714.62,573.12 L715.53,572.70 L716.43,572.27 L717.33,571.83 L718.22,571.39 L719.12,570.94 L720.01,570.49 L720.90,570.04 L721.79,569.58 L722.68,569.11 L723.56,568.65 L724.45,568.19 L725.33,567.72 L726.22,567.26 L727.10,566.79 L727.99,566.33 L728.88,565.87 L729.77,565.42 L730.66,564.97 L731.56,564.52 L732.46,564.08 L733.36,563.64 L734.26,563.21 L735.16,562.78 L736.06,562.36 L736.97,561.93 L737.88,561.51 L738.78,561.08 L739.69,560.66 L740.60,560.24 L741.50,559.82 L742.41,559.41 L743.32,558.99 L744.23,558.58 L745.15,558.17 L746.06,557.77 L746.98,557.37 L747.90,556.98 L748.82,556.60 L749.75,556.22 L750.68,555.85 L751.61,555.48 L752.54,555.13 L753.48,554.78 L754.42,554.44 L755.36,554.11 L756.31,553.79 L757.26,553.47 L758.21,553.15 L759.16,552.84 L760.11,552.53 L761.06,552.23 L762.01,551.93 L762.97,551.63 L763.92,551.33 L764.88,551.04 L765.84,550.76 L766.80,550.48 L767.76,550.21 L768.72,549.94 L769.69,549.68 L770.66,549.42 L771.62,549.17 L772.59,548.93 L773.57,548.70 L774.54,548.48 L775.52,548.26 L776.50,548.06 L777.48,547.86 L778.46,547.67 L779.44,547.49 L780.43,547.31 L781.41,547.14 L782.40,546.97 L783.38,546.80 L784.37,546.64 L785.35,546.47 L786.34,546.31 L787.33,546.15 L788.31,545.99 L789.30,545.83 L790.29,545.67 L791.28,545.52 L792.27,545.38 L793.26,545.23 L794.25,545.09 L795.24,544.96 L796.23,544.83 L797.22,544.71 L798.22,544.60 L799.21,544.49 L800.21,544.39 L801.20,544.30 L802.20,544.22 L803.19,544.14 L804.19,544.08 L805.19,544.02 L806.19,543.98 L807.19,543.95 L808.19,543.93 L809.19,543.92 L810.19,543.92 L811.19,543.93 L812.18,543.95 L813.18,543.99 L814.18,544.03 L815.18,544.08 L816.18,544.15 L817.18,544.22 L818.17,544.30 L819.17,544.39 L820.16,544.48 L821.16,544.58 L822.15,544.69 L823.15,544.80 L824.14,544.92 L825.13,545.04 L826.12,545.16 L827.12,545.29 L828.11,545.42 L829.10,545.56 L830.09,545.70 L831.08,545.84 L832.07,545.99 L833.05,546.16 L834.04,546.33 L835.02,546.52 L836.00,546.72 L836.97,546.94 L837.94,547.17 L838.91,547.42 L839.87,547.68 L840.84,547.96 L841.79,548.24 L842.75,548.53 L843.70,548.84 L844.65,549.15 L845.60,549.46 L846.55,549.78 L847.50,550.11 L848.44,550.43 L849.38,550.76 L850.33,551.09 L851.27,551.42 L852.22,551.75 L853.16,552.08 L854.11,552.41 L855.05,552.73 L856.00,553.05 L856.95,553.37 L857.90,553.68 L858.85,553.99 L859.80,554.30 L860.75,554.61 L861.70,554.92 L862.65,555.23 L863.60,555.54 L864.55,555.86 L865.50,556.18 L866.45,556.49 L867.39,556.81 L868.34,557.13 L869.29,557.45 L870.24,557.78 L871.18,558.10 L872.13,558.42 L873.08,558.74 L874.02,559.06 L874.97,559.38 L875.92,559.70 L876.87,560.02 L877.81,560.34 L878.76,560.66 L879.71,560.97 L880.66,561.28 L881.61,561.59 L882.56,561.90 L883.52,562.21 L884.47,562.52 L885.42,562.82 L886.37,563.12 L887.33,563.43 L888.28,563.73 L889.23,564.03 L890.18,564.34 L891.14,564.64 L892.09,564.94 L893.04,565.24 L894.00,565.54 L894.95,565.84 L895.91,566.14 L896.86,566.43 L897.82,566.73 L898.77,567.02 L899.73,567.31 L900.69,567.60 L901.65,567.89 L902.61,568.17 L903.56,568.45 L904.53,568.73 L905.49,569.01 L906.45,569.28 L907.41,569.55 L908.38,569.82 L909.34,570.08 L910.31,570.34 L911.27,570.60 L912.24,570.86 L913.20,571.12 L914.17,571.38 L915.14,571.63 L916.10,571.89 L917.07,572.15 L918.03,572.40 L919.00,572.66 L919.97,572.91 L920.94,573.16 L921.91,573.41 L922.88,573.65 L923.85,573.89 L924.82,574.13 L925.79,574.36 L926.76,574.59 L927.74,574.81 L928.72,575.02 L929.69,575.23 L930.67,575.43 L931.65,575.63 L932.64,575.81 L933.62,575.99 L934.61,576.16 L935.59,576.32 L936.58,576.48 L937.57,576.63 L938.56,576.77 L939.55,576.90 L940.54,577.04 L941.53,577.17 L942.52,577.29 L943.52,577.42 L944.51,577.54 L945.50,577.66 L946.49,577.77 L947.49,577.89 L948.48,578.00 L949.48,578.11 L950.47,578.22 L951.46,578.32 L952.46,578.42 L953.45,578.52 L954.45,578.62 L955.44,578.72 L956.44,578.82 L957.44,578.91 L958.43,579.00 L959.43,579.09 L960.42,579.18 L961.42,579.27 L962.42,579.36 L963.41,579.45 L964.41,579.53 L965.40,579.62 L966.40,579.70 L967.40,579.79 L968.39,579.87 L969.39,579.95 L970.39,580.03 L971.38,580.12 L972.38,580.20 L973.38,580.28 L974.37,580.36 L975.37,580.44 L976.37,580.52 L977.36,580.61 L978.36,580.69 L979.36,580.77 L980.35,580.86 L981.35,580.94 L982.35,581.03 L983.34,581.12 L984.34,581.21 L985.33,581.30 L986.33,581.39 L987.32,581.49 L988.32,581.58 L989.32,581.67 L990.31,581.77 L991.31,581.86 L992.30,581.96 L993.30,582.06 L994.29,582.15 L995.29,582.25 L996.28,582.34 L997.28,582.44 L998.27,582.53 L999.27,582.63 L1000.27,582.72 L1001.26,582.81 L1002.26,582.90 L1003.25,582.99 L1004.25,583.08 L1005.25,583.16 L1006.24,583.24 L1007.24,583.33 L1008.24,583.41 L1009.23,583.48 L1010.23,583.56 L1011.23,583.63 L1012.23,583.70 L1013.22,583.77 L1014.22,583.83 L1015.22,583.89 L1016.22,583.95 L1017.22,584.00 L1018.21,584.05 L1019.21,584.09 L1020.21,584.14 L1021.21,584.17 L1022.21,584.21 L1023.21,584.24 L1024.21,584.26 L1025.21,584.28 L1026.21,584.30 L1027.21,584.31 L1028.21,584.32 L1029.21,584.32 L1030.21,584.32 L1031.21,584.33 L1032.21,584.33 L1033.21,584.33 L1034.21,584.33 L1035.21,584.33 L1036.21,584.33 L1037.21,584.33 L1038.21,584.33 L1039.21,584.33 L1040.21,584.33 L1041.21,584.33 L1042.21,584.33 L1043.21,584.33 L1044.21,584.33 L1045.21,584.33 L1046.21,584.33 L1047.21,584.33 L1048.21,584.33 L1049.21,584.33 L1050.21,584.33 L1051.21,584.33 L1052.21,584.33 L1053.21,584.33 L1054.21,584.33 L1055.21,584.33 L1056.21,584.33 L1057.21,584.33 L1058.21,584.33 L1059.21,584.33 L1060.21,584.33 L1061.21,584.33 L1062.21,584.33 L1063.20,584.33 L1064.17,584.33 L1065.12,584.33 L1066.00,584.33 L1066.79,584.33 L1067.45,584.33" fill="none" stroke="#f22" stroke-width="1.4" stroke-opacity="0.8" stroke-linejoin="round" stroke-linecap="round" clip-path="url(#cia)"/>
<path d="M628.49,558.53 L628.83,559.00 L629.26,559.58 L629.75,560.26 L630.30,561.00 L630.87,561.78 L631.45,562.57 L632.04,563.37 L632.63,564.18 L633.23,564.98 L633.82,565.79 L634.41,566.60 L634.99,567.41 L635.58,568.22 L636.17,569.03 L636.76,569.83 L637.35,570.64 L637.96,571.43 L638.58,572.21 L639.23,572.97 L639.89,573.72 L640.57,574.44 L641.28,575.14 L642.01,575.82 L642.76,576.48 L643.52,577.13 L644.30,577.75 L645.09,578.35 L645.90,578.94 L646.73,579.50 L647.57,580.04 L648.42,580.55 L649.30,581.03 L650.18,581.49 L651.08,581.93 L651.98,582.35 L652.90,582.76 L653.81,583.15 L654.74,583.53 L655.67,583.90 L656.60,584.25 L657.54,584.58 L658.49,584.89 L659.45,585.17 L660.41,585.41 L661.39,585.62 L662.37,585.79 L663.35,585.91 L664.34,585.99 L665.34,586.02 L666.33,586.03 L667.33,586.00 L668.33,585.94 L669.32,585.87 L670.32,585.78 L671.31,585.67 L672.30,585.56 L673.30,585.43 L674.29,585.30 L675.28,585.16 L676.27,585.03 L677.26,584.88 L678.25,584.74 L679.24,584.59 L680.23,584.44 L681.21,584.28 L682.20,584.12 L683.18,583.95 L684.17,583.77 L685.15,583.58 L686.13,583.39 L687.11,583.19 L688.09,582.98 L689.06,582.76 L690.04,582.53 L691.01,582.29 L691.98,582.05 L692.94,581.79 L693.90,581.52 L694.86,581.24 L695.82,580.94 L696.77,580.63 L697.71,580.31 L698.65,579.97 L699.59,579.62 L700.53,579.27 L701.46,578.90 L702.38,578.53 L703.31,578.14 L704.23,577.76 L705.15,577.36 L706.06,576.96 L706.98,576.56 L707.90,576.16 L708.81,575.75 L709.72,575.34 L710.63,574.93 L711.55,574.52 L712.46,574.11 L713.37,573.70 L714.28,573.28 L715.18,572.86 L716.09,572.43 L716.99,572.00 L717.89,571.56 L718.78,571.11 L719.67,570.66 L720.56,570.21 L721.45,569.75 L722.34,569.29 L723.23,568.83 L724.11,568.36 L725.00,567.90 L725.88,567.43 L726.77,566.97 L727.66,566.51 L728.54,566.05 L729.43,565.59 L730.33,565.14 L731.22,564.69 L732.12,564.25 L733.01,563.81 L733.92,563.37 L734.82,562.94 L735.72,562.52 L736.63,562.09 L737.53,561.67 L738.44,561.24 L739.34,560.82 L740.25,560.40 L741.16,559.98 L742.07,559.56 L742.98,559.15 L743.89,558.74 L744.80,558.33 L745.72,557.92 L746.63,557.52 L747.55,557.13 L748.47,556.74 L749.40,556.36 L750.32,555.99 L751.26,555.62 L752.19,555.26 L753.13,554.91 L754.06,554.57 L755.01,554.24 L755.95,553.91 L756.90,553.59 L757.85,553.27 L758.80,552.96 L759.75,552.65 L760.70,552.34 L761.65,552.04 L762.61,551.74 L763.56,551.44 L764.52,551.15 L765.48,550.87 L766.44,550.58 L767.40,550.31 L768.36,550.04 L769.32,549.77 L770.29,549.52 L771.26,549.27 L772.23,549.02 L773.20,548.79 L774.17,548.56 L775.15,548.34 L776.13,548.13 L777.11,547.93 L778.09,547.74 L779.07,547.56 L780.05,547.38 L781.04,547.20 L782.02,547.03 L783.01,546.87 L783.99,546.70 L784.98,546.53 L785.97,546.37 L786.95,546.21 L787.94,546.05 L788.93,545.89 L789.92,545.73 L790.90,545.58 L791.89,545.43 L792.88,545.29 L793.87,545.15 L794.86,545.01 L795.86,544.88 L796.85,544.76 L797.84,544.64 L798.83,544.53 L799.83,544.43 L800.82,544.33 L801.82,544.25 L802.82,544.17 L803.81,544.10 L804.81,544.04 L805.81,544.00 L806.81,543.96 L807.81,543.93 L808.81,543.92 L809.81,543.91 L810.81,543.92 L811.81,543.94 L812.81,543.97 L813.80,544.01 L814.80,544.06 L815.80,544.12 L816.80,544.19 L817.80,544.27 L818.79,544.35 L819.79,544.44 L820.78,544.54 L821.78,544.65 L822.77,544.76 L823.76,544.87 L824.76,544.99 L825.75,545.11 L826.74,545.24 L827.73,545.37 L828.72,545.51 L829.71,545.64 L830.70,545.79 L831.69,545.94 L832.68,546.09 L833.66,546.26 L834.65,546.44 L835.63,546.64 L836.60,546.86 L837.57,547.08 L838.54,547.33 L839.51,547.58 L840.47,547.85 L841.43,548.13 L842.39,548.42 L843.34,548.72 L844.29,549.03 L845.24,549.34 L846.19,549.66 L847.14,549.98 L848.08,550.31 L849.03,550.64 L849.97,550.97 L850.92,551.30 L851.86,551.63 L852.80,551.96 L853.75,552.29 L854.69,552.61 L855.64,552.93 L856.59,553.25 L857.54,553.56 L858.49,553.87 L859.44,554.18 L860.39,554.49 L861.34,554.80 L862.29,555.11 L863.24,555.42 L864.19,555.74 L865.14,556.06 L866.09,556.37 L867.04,556.69 L867.98,557.01 L868.93,557.33 L869.88,557.65 L870.82,557.98 L871.77,558.30 L872.72,558.62 L873.67,558.94 L874.61,559.26 L875.56,559.58 L876.51,559.90 L877.46,560.22 L878.40,560.54 L879.35,560.85 L880.30,561.16 L881.25,561.48 L882.20,561.79 L883.15,562.09 L884.11,562.40 L885.06,562.70 L886.01,563.01 L886.96,563.31 L887.92,563.62 L888.87,563.92 L889.82,564.22 L890.78,564.52 L891.73,564.83 L892.68,565.13 L893.64,565.43 L894.59,565.73 L895.55,566.02 L896.50,566.32 L897.46,566.62 L898.41,566.91 L899.37,567.20 L900.33,567.49 L901.28,567.78 L902.24,568.06 L903.20,568.35 L904.16,568.63 L905.12,568.90 L906.08,569.18 L907.05,569.45 L908.01,569.72 L908.97,569.98 L909.94,570.24 L910.91,570.50 L911.87,570.76 L912.84,571.02 L913.80,571.28 L914.77,571.54 L915.74,571.79 L916.70,572.05 L917.67,572.31 L918.64,572.56 L919.60,572.82 L920.57,573.07 L921.54,573.31 L922.51,573.56 L923.48,573.80 L924.45,574.04 L925.42,574.27 L926.40,574.50 L927.37,574.73 L928.35,574.94 L929.32,575.15 L930.30,575.36 L931.28,575.56 L932.26,575.74 L933.25,575.93 L934.23,576.10 L935.22,576.26 L936.21,576.42 L937.19,576.57 L938.18,576.71 L939.17,576.85 L940.17,576.99 L941.16,577.12 L942.15,577.25 L943.14,577.37 L944.13,577.49 L945.13,577.61 L946.12,577.73 L947.11,577.85 L948.11,577.96 L949.10,578.07 L950.09,578.17 L951.09,578.28 L952.08,578.38 L953.08,578.49 L954.07,578.59 L955.07,578.68 L956.06,578.78 L957.06,578.87 L958.05,578.97 L959.05,579.06 L960.05,579.15 L961.04,579.24 L962.04,579.33 L963.03,579.41 L964.03,579.50 L965.03,579.59 L966.02,579.67 L967.02,579.75 L968.02,579.84 L969.01,579.92 L970.01,580.00 L971.01,580.08 L972.00,580.17 L973.00,580.25 L974.00,580.33 L974.99,580.41 L975.99,580.49 L976.99,580.58 L977.98,580.66 L978.98,580.74 L979.98,580.83 L980.97,580.91 L981.97,581.00 L982.96,581.09 L983.96,581.18 L984.96,581.27 L985.95,581.36 L986.95,581.45 L987.94,581.54 L988.94,581.64 L989.93,581.73 L990.93,581.83 L991.93,581.92 L992.92,582.02 L993.92,582.12 L994.91,582.21 L995.91,582.31 L996.90,582.40 L997.90,582.50 L998.89,582.59 L999.89,582.68 L1000.88,582.78 L1001.88,582.87 L1002.88,582.95 L1003.87,583.04 L1004.87,583.13 L1005.87,583.21 L1006.86,583.30 L1007.86,583.38 L1008.86,583.45 L1009.85,583.53 L1010.85,583.60 L1011.85,583.67 L1012.85,583.74 L1013.84,583.81 L1014.84,583.87 L1015.84,583.92 L1016.84,583.98 L1017.84,584.03 L1018.84,584.08 L1019.83,584.12 L1020.83,584.16 L1021.83,584.20 L1022.83,584.23 L1023.83,584.25 L1024.83,584.27 L1025.83,584.29 L1026.83,584.30 L1027.83,584.31 L1028.83,584.32 L1029.83,584.32 L1030.83,584.32 L1031.83,584.33 L1032.83,584.33 L1033.83,584.33 L1034.83,584.33 L1035.83,584.33 L1036.83,584.33 L1037.83,584.33 L1038.83,584.33 L1039.83,584.33 L1040.83,584.33 L1041.83,584.33 L1042.83,584.33 L1043.83,584.33 L1044.83,584.33 L1045.83,584.33 L1046.83,584.33 L1047.83,584.33 L1048.83,584.33 L1049.83,584.33 L1050.83,584.33 L1051.83,584.33 L1052.83,584.33 L1053.83,584.33 L1054.83,584.33 L1055.83,584.33 L1056.83,584.33 L1057.83,584.33 L1058.83,584.33 L1059.83,584.33 L1060.83,584.33 L1061.83,584.33 L1062.82,584.33 L1063.80,584.33 L1064.74,584.33 L1065.63,584.33 L1066.41,584.33 L1067.07,584.33" fill="none" stroke="#f00" stroke-width="2.1" stroke-opacity="1.0" stroke-linejoin="round" stroke-linecap="round" clip-path="url(#cia)"/>
<path d="M628.13,431.72 L628.26,432.29 L628.42,432.99 L628.60,433.82 L628.79,434.71 L628.99,435.66 L629.20,436.62 L629.40,437.60 L629.59,438.57 L629.79,439.55 L629.98,440.54 L630.16,441.52 L630.35,442.50 L630.53,443.48 L630.71,444.47 L630.89,445.45 L631.06,446.44 L631.23,447.42 L631.41,448.41 L631.58,449.39 L631.74,450.38 L631.91,451.36 L632.07,452.35 L632.24,453.34 L632.40,454.32 L632.56,455.31 L632.72,456.30 L632.88,457.29 L633.03,458.27 L633.19,459.26 L633.34,460.25 L633.49,461.24 L633.64,462.23 L633.79,463.22 L633.93,464.21 L634.07,465.20 L634.21,466.19 L634.35,467.18 L634.48,468.17 L634.61,469.16 L634.74,470.15 L634.87,471.14 L635.00,472.13 L635.12,473.13 L635.25,474.12 L635.38,475.11 L635.50,476.10 L635.63,477.09 L635.75,478.09 L635.88,479.08 L636.00,480.07 L636.13,481.06 L636.25,482.06 L636.38,483.05 L636.51,484.04 L636.64,485.03 L636.77,486.02 L636.90,487.01 L637.03,488.01 L637.16,489.00 L637.29,489.99 L637.43,490.98 L637.56,491.97 L637.69,492.96 L637.82,493.95 L637.95,494.94 L638.08,495.94 L638.21,496.93 L638.34,497.92 L638.48,498.91 L638.61,499.90 L638.74,500.89 L638.87,501.88 L639.00,502.87 L639.14,503.87 L639.27,504.86 L639.41,505.85 L639.55,506.84 L639.69,507.83 L639.83,508.82 L639.97,509.81 L640.12,510.80 L640.27,511.79 L640.42,512.77 L640.57,513.76 L640.73,514.75 L640.89,515.74 L641.06,516.72 L641.22,517.71 L641.39,518.69 L641.56,519.68 L641.74,520.66 L641.91,521.65 L642.08,522.63 L642.26,523.62 L642.44,524.60 L642.62,525.58 L642.80,526.57 L642.99,527.55 L643.18,528.53 L643.37,529.51 L643.56,530.50 L643.75,531.48 L643.95,532.46 L644.15,533.44 L644.36,534.42 L644.57,535.39 L644.78,536.37 L645.00,537.34 L645.23,538.32 L645.46,539.29 L645.70,540.26 L645.94,541.23 L646.20,542.20 L646.46,543.16 L646.73,544.13 L647.01,545.09 L647.30,546.04 L647.59,547.00 L647.88,547.96 L648.19,548.91 L648.50,549.86 L648.81,550.81 L649.13,551.75 L649.46,552.70 L649.79,553.64 L650.14,554.58 L650.49,555.52 L650.85,556.45 L651.22,557.38 L651.60,558.30 L651.99,559.22 L652.40,560.13 L652.82,561.04 L653.26,561.93 L653.72,562.82 L654.20,563.70 L654.70,564.56 L655.21,565.42 L655.75,566.26 L656.30,567.09 L656.87,567.91 L657.46,568.72 L658.06,569.51 L658.69,570.30 L659.32,571.06 L659.98,571.81 L660.66,572.55 L661.35,573.26 L662.07,573.95 L662.81,574.62 L663.57,575.27 L664.35,575.90 L665.14,576.50 L665.95,577.08 L666.77,577.64 L667.61,578.19 L668.46,578.72 L669.31,579.24 L670.18,579.74 L671.05,580.22 L671.94,580.67 L672.84,581.11 L673.75,581.52 L674.67,581.91 L675.60,582.26 L676.54,582.59 L677.49,582.89 L678.45,583.17 L679.41,583.42 L680.38,583.66 L681.36,583.88 L682.33,584.09 L683.31,584.29 L684.30,584.48 L685.28,584.65 L686.27,584.81 L687.26,584.95 L688.25,585.07 L689.24,585.17 L690.24,585.25 L691.23,585.31 L692.23,585.34 L693.23,585.35 L694.23,585.35 L695.23,585.32 L696.23,585.29 L697.22,585.23 L698.22,585.17 L699.22,585.10 L700.21,585.01 L701.21,584.92 L702.20,584.82 L703.20,584.71 L704.19,584.59 L705.18,584.47 L706.18,584.34 L707.17,584.21 L708.16,584.07 L709.15,583.94 L710.14,583.79 L711.13,583.65 L712.12,583.50 L713.10,583.34 L714.09,583.18 L715.07,583.00 L716.05,582.81 L717.03,582.61 L718.01,582.39 L718.98,582.16 L719.95,581.92 L720.92,581.67 L721.88,581.41 L722.85,581.14 L723.81,580.86 L724.77,580.58 L725.73,580.30 L726.68,580.01 L727.64,579.73 L728.60,579.44 L729.56,579.16 L730.52,578.89 L731.48,578.61 L732.45,578.35 L733.41,578.09 L734.38,577.83 L735.35,577.59 L736.32,577.34 L737.29,577.10 L738.26,576.86 L739.23,576.62 L740.20,576.38 L741.17,576.15 L742.15,575.91 L743.12,575.68 L744.09,575.44 L745.06,575.21 L746.04,574.98 L747.01,574.75 L747.98,574.53 L748.96,574.30 L749.93,574.07 L750.91,573.85 L751.88,573.63 L752.86,573.40 L753.83,573.18 L754.81,572.96 L755.78,572.74 L756.76,572.53 L757.73,572.31 L758.71,572.09 L759.69,571.87 L760.66,571.65 L761.64,571.44 L762.61,571.22 L763.59,571.01 L764.57,570.79 L765.54,570.58 L766.52,570.37 L767.50,570.16 L768.48,569.95 L769.46,569.74 L770.44,569.54 L771.41,569.34 L772.39,569.14 L773.38,568.94 L774.36,568.75 L775.34,568.56 L776.32,568.37 L777.30,568.18 L778.29,568.00 L779.27,567.82 L780.25,567.65 L781.24,567.47 L782.22,567.30 L783.21,567.12 L784.19,566.95 L785.18,566.78 L786.16,566.61 L787.15,566.44 L788.14,566.27 L789.12,566.11 L790.11,565.94 L791.09,565.78 L792.08,565.62 L793.07,565.47 L794.06,565.31 L795.05,565.16 L796.04,565.01 L797.02,564.87 L798.02,564.73 L799.01,564.60 L800.00,564.47 L800.99,564.34 L801.98,564.22 L802.98,564.11 L803.97,564.00 L804.96,563.89 L805.96,563.79 L806.95,563.69 L807.95,563.60 L808.94,563.50 L809.94,563.41 L810.94,563.32 L811.93,563.22 L812.93,563.13 L813.92,563.04 L814.92,562.95 L815.92,562.87 L816.91,562.78 L817.91,562.70 L818.91,562.62 L819.90,562.55 L820.90,562.48 L821.90,562.41 L822.90,562.35 L823.89,562.29 L824.89,562.23 L825.89,562.19 L826.89,562.15 L827.89,562.11 L828.89,562.08 L829.89,562.06 L830.89,562.05 L831.89,562.04 L832.89,562.05 L833.89,562.06 L834.89,562.08 L835.89,562.12 L836.88,562.16 L837.88,562.21 L838.88,562.27 L839.88,562.33 L840.88,562.41 L841.87,562.49 L842.87,562.58 L843.86,562.67 L844.86,562.77 L845.85,562.87 L846.85,562.97 L847.84,563.08 L848.84,563.20 L849.83,563.31 L850.82,563.43 L851.82,563.55 L852.81,563.67 L853.80,563.78 L854.79,563.90 L855.79,564.02 L856.78,564.14 L857.77,564.26 L858.76,564.39 L859.76,564.51 L860.75,564.64 L861.74,564.78 L862.73,564.92 L863.72,565.06 L864.71,565.21 L865.70,565.36 L866.68,565.52 L867.67,565.68 L868.66,565.84 L869.64,566.01 L870.63,566.18 L871.61,566.35 L872.60,566.52 L873.58,566.70 L874.57,566.87 L875.55,567.05 L876.54,567.23 L877.52,567.40 L878.51,567.58 L879.49,567.75 L880.47,567.93 L881.46,568.10 L882.44,568.27 L883.43,568.44 L884.42,568.61 L885.40,568.77 L886.39,568.94 L887.37,569.11 L888.36,569.28 L889.34,569.45 L890.33,569.62 L891.32,569.79 L892.30,569.96 L893.29,570.13 L894.27,570.31 L895.26,570.48 L896.24,570.65 L897.23,570.82 L898.21,570.99 L899.20,571.16 L900.18,571.33 L901.17,571.50 L902.15,571.66 L903.14,571.83 L904.13,571.99 L905.11,572.16 L906.10,572.32 L907.09,572.47 L908.08,572.63 L909.06,572.78 L910.05,572.93 L911.04,573.08 L912.03,573.23 L913.02,573.38 L914.01,573.52 L915.00,573.67 L915.99,573.81 L916.98,573.95 L917.97,574.09 L918.96,574.23 L919.95,574.37 L920.94,574.51 L921.93,574.64 L922.92,574.78 L923.91,574.91 L924.90,575.04 L925.89,575.18 L926.89,575.31 L927.88,575.43 L928.87,575.56 L929.86,575.69 L930.85,575.81 L931.85,575.93 L932.84,576.06 L933.83,576.18 L934.82,576.30 L935.82,576.41 L936.81,576.53 L937.80,576.64 L938.80,576.76 L939.79,576.87 L940.79,576.98 L941.78,577.09 L942.77,577.20 L943.77,577.31 L944.76,577.42 L945.75,577.53 L946.75,577.64 L947.74,577.75 L948.74,577.85 L949.73,577.96 L950.73,578.06 L951.72,578.17 L952.72,578.27 L953.71,578.37 L954.71,578.48 L955.70,578.58 L956.70,578.68 L957.69,578.78 L958.69,578.88 L959.68,578.97 L960.68,579.07 L961.67,579.17 L962.67,579.26 L963.66,579.36 L964.66,579.45 L965.65,579.55 L966.65,579.64 L967.64,579.73 L968.64,579.83 L969.64,579.92 L970.63,580.01 L971.63,580.10 L972.62,580.19 L973.62,580.27 L974.62,580.36 L975.61,580.45 L976.61,580.53 L977.60,580.62 L978.60,580.71 L979.60,580.79 L980.59,580.88 L981.59,580.96 L982.59,581.05 L983.58,581.14 L984.58,581.23 L985.57,581.32 L986.57,581.42 L987.57,581.51 L988.56,581.60 L989.56,581.70 L990.55,581.79 L991.55,581.89 L992.54,581.98 L993.54,582.08 L994.53,582.18 L995.53,582.27 L996.52,582.37 L997.52,582.46 L998.52,582.55 L999.51,582.65 L1000.51,582.74 L1001.50,582.83 L1002.50,582.92 L1003.49,583.01 L1004.49,583.10 L1005.49,583.18 L1006.48,583.26 L1007.48,583.35 L1008.48,583.42 L1009.47,583.50 L1010.47,583.58 L1011.47,583.65 L1012.47,583.72 L1013.46,583.78 L1014.46,583.84 L1015.46,583.90 L1016.46,583.96 L1017.46,584.01 L1018.46,584.06 L1019.46,584.11 L1020.45,584.15 L1021.45,584.18 L1022.45,584.21 L1023.45,584.24 L1024.45,584.27 L1025.45,584.29 L1026.45,584.30 L1027.45,584.31 L1028.45,584.32 L1029.45,584.32 L1030.45,584.32 L1031.45,584.33 L1032.45,584.33 L1033.45,584.33 L1034.45,584.33 L1035.45,584.33 L1036.45,584.33 L1037.45,584.33 L1038.45,584.33 L1039.45,584.33 L1040.45,584.33 L1041.45,584.33 L1042.45,584.33 L1043.45,584.33 L1044.45,584.33 L1045.45,584.33 L1046.45,584.33 L1047.45,584.33 L1048.45,584.33 L1049.45,584.33 L1050.45,584.33 L1051.45,584.33 L1052.45,584.33 L1053.45,584.33 L1054.45,584.33 L1055.45,584.33 L1056.45,584.33 L1057.45,584.33 L1058.45,584.33 L1059.45,584.33 L1060.45,584.33 L1061.45,584.33 L1062.44,584.33 L1063.43,584.33 L1064.39,584.33 L1065.31,584.33 L1066.15,584.33 L1066.88,584.33 L1067.46,584.33" fill="none" stroke="#00f" stroke-width="2" stroke-opacity="1.0" stroke-linejoin="round" stroke-linecap="round" clip-path="url(#cia)"/>
<rect x="632.50" y="279.60" width="436.30" height="314.40" fill="none" stroke="#555" stroke-width="1.8"/>
<line x1="626.50" y1="581.91" x2="632.50" y2="581.91" stroke="#555" stroke-width="1.8" stroke-linecap="butt"/>
<line x1="626.50" y1="521.45" x2="632.50" y2="521.45" stroke="#555" stroke-width="1.8" stroke-linecap="butt"/>
<line x1="626.50" y1="460.98" x2="632.50" y2="460.98" stroke="#555" stroke-width="1.8" stroke-linecap="butt"/>
<line x1="626.50" y1="400.52" x2="632.50" y2="400.52" stroke="#555" stroke-width="1.8" stroke-linecap="butt"/>
<line x1="626.50" y1="340.06" x2="632.50" y2="340.06" stroke="#555" stroke-width="1.8" stroke-linecap="butt"/>
<line x1="626.50" y1="279.60" x2="632.50" y2="279.60" stroke="#555" stroke-width="1.8" stroke-linecap="butt"/>
<line x1="629.50" y1="551.68" x2="632.50" y2="551.68" stroke="#555" stroke-width="1.8" stroke-linecap="butt"/>
<line x1="629.50" y1="491.22" x2="632.50" y2="491.22" stroke="#555" stroke-width="1.8" stroke-linecap="butt"/>
<line x1="629.50" y1="430.75" x2="632.50" y2="430.75" stroke="#555" stroke-width="1.8" stroke-linecap="butt"/>
<line x1="629.50" y1="370.29" x2="632.50" y2="370.29" stroke="#555" stroke-width="1.8" stroke-linecap="butt"/>
<line x1="629.50" y1="309.83" x2="632.50" y2="309.83" stroke="#555" stroke-width="1.8" stroke-linecap="butt"/>
<line x1="724.35" y1="594.00" x2="724.35" y2="600.00" stroke="#555" stroke-width="1.8" stroke-linecap="butt"/>
<line x1="839.17" y1="594.00" x2="839.17" y2="600.00" stroke="#555" stroke-width="1.8" stroke-linecap="butt"/>
<line x1="953.98" y1="594.00" x2="953.98" y2="600.00" stroke="#555" stroke-width="1.8" stroke-linecap="butt"/>
<line x1="1068.80" y1="594.00" x2="1068.80" y2="600.00" stroke="#555" stroke-width="1.8" stroke-linecap="butt"/>
<line x1="666.94" y1="594.00" x2="666.94" y2="597.00" stroke="#555" stroke-width="1.8" stroke-linecap="butt"/>
<line x1="781.76" y1="594.00" x2="781.76" y2="597.00" stroke="#555" stroke-width="1.8" stroke-linecap="butt"/>
<line x1="896.58" y1="594.00" x2="896.58" y2="597.00" stroke="#555" stroke-width="1.8" stroke-linecap="butt"/>
<line x1="1011.39" y1="594.00" x2="1011.39" y2="597.00" stroke="#555" stroke-width="1.8" stroke-linecap="butt"/>
<text x="623.30" y="589.31" font-size="26.5" text-anchor="end" font-weight="normal" fill="#111">0</text>
<text x="623.30" y="528.85" font-size="26.5" text-anchor="end" font-weight="normal" fill="#111">1000</text>
<text x="623.30" y="468.38" font-size="26.5" text-anchor="end" font-weight="normal" fill="#111">2000</text>
<text x="623.30" y="407.92" font-size="26.5" text-anchor="end" font-weight="normal" fill="#111">3000</text>
<text x="623.30" y="347.46" font-size="26.5" text-anchor="end" font-weight="normal" fill="#111">4000</text>
<text x="623.30" y="287.00" font-size="26.5" text-anchor="end" font-weight="normal" fill="#111">5000</text>
<text x="724.35" y="625.00" font-size="26.5" text-anchor="middle" font-weight="normal" fill="#111">400</text>
<text x="839.17" y="625.00" font-size="26.5" text-anchor="middle" font-weight="normal" fill="#111">450</text>
<text x="953.98" y="625.00" font-size="26.5" text-anchor="middle" font-weight="normal" fill="#111">500</text>
<text x="1068.80" y="625.00" font-size="26.5" text-anchor="middle" font-weight="normal" fill="#111">550</text>
<path d="M208.50,1248.20 L208.81,1248.68 L209.22,1249.24 L209.74,1249.84 L210.36,1250.41 L211.06,1250.89 L211.80,1251.20 L212.57,1251.32 L213.33,1251.20 L214.03,1250.87 L214.68,1250.34 L215.25,1249.66 L215.76,1248.88 L216.24,1248.03 L216.69,1247.15 L217.13,1246.26 L217.57,1245.36 L218.02,1244.47 L218.47,1243.58 L218.93,1242.69 L219.38,1241.80 L219.83,1240.91 L220.27,1240.01 L220.71,1239.11 L221.13,1238.20 L221.53,1237.29 L221.92,1236.37 L222.30,1235.44 L222.65,1234.51 L222.99,1233.57 L223.31,1232.62 L223.62,1231.67 L223.90,1230.71 L224.17,1229.75 L224.42,1228.79 L224.66,1227.82 L224.90,1226.84 L225.13,1225.87 L225.36,1224.90 L225.58,1223.92 L225.81,1222.95 L226.04,1221.98 L226.28,1221.00 L226.51,1220.03 L226.75,1219.06 L226.99,1218.09 L227.23,1217.12 L227.48,1216.15 L227.72,1215.18 L227.97,1214.21 L228.21,1213.24 L228.46,1212.27 L228.71,1211.30 L228.95,1210.33 L229.20,1209.37 L229.44,1208.40 L229.69,1207.43 L229.93,1206.46 L230.17,1205.49 L230.41,1204.52 L230.65,1203.55 L230.89,1202.57 L231.13,1201.60 L231.37,1200.63 L231.60,1199.66 L231.84,1198.69 L232.07,1197.71 L232.30,1196.74 L232.53,1195.77 L232.75,1194.79 L232.98,1193.82 L233.20,1192.84 L233.41,1191.87 L233.63,1190.89 L233.84,1189.91 L234.06,1188.94 L234.27,1187.96 L234.48,1186.98 L234.69,1186.01 L234.90,1185.03 L235.11,1184.05 L235.32,1183.07 L235.53,1182.09 L235.74,1181.12 L235.96,1180.14 L236.17,1179.16 L236.38,1178.19 L236.60,1177.21 L236.82,1176.23 L237.04,1175.26 L237.26,1174.28 L237.49,1173.31 L237.72,1172.34 L237.95,1171.36 L238.18,1170.39 L238.42,1169.42 L238.66,1168.45 L238.90,1167.48 L239.14,1166.51 L239.39,1165.54 L239.64,1164.57 L239.88,1163.60 L240.13,1162.63 L240.38,1161.66 L240.64,1160.70 L240.89,1159.73 L241.14,1158.76 L241.40,1157.80 L241.65,1156.83 L241.91,1155.86 L242.16,1154.90 L242.42,1153.93 L242.67,1152.96 L242.93,1151.99 L243.18,1151.03 L243.44,1150.06 L243.69,1149.09 L243.94,1148.12 L244.19,1147.16 L244.44,1146.19 L244.70,1145.22 L244.95,1144.25 L245.20,1143.29 L245.46,1142.32 L245.71,1141.35 L245.97,1140.39 L246.22,1139.42 L246.48,1138.45 L246.73,1137.48 L246.99,1136.52 L247.24,1135.55 L247.50,1134.58 L247.75,1133.62 L248.00,1132.65 L248.25,1131.68 L248.49,1130.71 L248.74,1129.74 L248.98,1128.77 L249.22,1127.80 L249.46,1126.83 L249.70,1125.86 L249.94,1124.89 L250.17,1123.91 L250.40,1122.94 L250.62,1121.97 L250.85,1120.99 L251.07,1120.01 L251.28,1119.04 L251.50,1118.06 L251.71,1117.09 L251.92,1116.11 L252.13,1115.13 L252.34,1114.15 L252.54,1113.17 L252.75,1112.19 L252.96,1111.22 L253.16,1110.24 L253.37,1109.26 L253.57,1108.28 L253.78,1107.30 L253.99,1106.32 L254.20,1105.35 L254.41,1104.37 L254.62,1103.39 L254.83,1102.41 L255.04,1101.44 L255.26,1100.46 L255.48,1099.48 L255.70,1098.51 L255.93,1097.54 L256.15,1096.56 L256.38,1095.59 L256.61,1094.61 L256.83,1093.64 L257.06,1092.67 L257.29,1091.69 L257.52,1090.72 L257.75,1089.74 L257.97,1088.77 L258.20,1087.80 L258.42,1086.82 L258.65,1085.85 L258.88,1084.87 L259.10,1083.90 L259.33,1082.93 L259.55,1081.95 L259.78,1080.98 L260.00,1080.00 L260.23,1079.03 L260.45,1078.05 L260.67,1077.08 L260.89,1076.10 L261.10,1075.12 L261.31,1074.15 L261.52,1073.17 L261.73,1072.19 L261.93,1071.21 L262.12,1070.23 L262.32,1069.25 L262.50,1068.27 L262.69,1067.28 L262.87,1066.30 L263.04,1065.32 L263.22,1064.33 L263.40,1063.35 L263.57,1062.36 L263.75,1061.38 L263.93,1060.40 L264.11,1059.41 L264.29,1058.43 L264.47,1057.45 L264.66,1056.46 L264.84,1055.48 L265.03,1054.50 L265.22,1053.52 L265.41,1052.53 L265.59,1051.55 L265.78,1050.57 L265.97,1049.59 L266.16,1048.61 L266.35,1047.62 L266.54,1046.64 L266.73,1045.66 L266.93,1044.68 L267.12,1043.70 L267.31,1042.72 L267.50,1041.74 L267.70,1040.75 L267.89,1039.77 L268.09,1038.79 L268.28,1037.81 L268.47,1036.83 L268.67,1035.85 L268.86,1034.87 L269.05,1033.89 L269.24,1032.91 L269.43,1031.92 L269.63,1030.94 L269.82,1029.96 L270.01,1028.98 L270.20,1028.00 L270.39,1027.02 L270.59,1026.04 L270.78,1025.05 L270.98,1024.07 L271.18,1023.09 L271.38,1022.11 L271.58,1021.13 L271.78,1020.15 L271.98,1019.18 L272.18,1018.20 L272.39,1017.22 L272.60,1016.24 L272.81,1015.26 L273.02,1014.28 L273.23,1013.31 L273.45,1012.33 L273.67,1011.36 L273.89,1010.38 L274.11,1009.41 L274.34,1008.43 L274.56,1007.46 L274.78,1006.48 L275.01,1005.51 L275.23,1004.53 L275.45,1003.56 L275.67,1002.58 L275.89,1001.61 L276.10,1000.63 L276.32,999.65 L276.54,998.68 L276.76,997.70 L276.98,996.73 L277.21,995.75 L277.44,994.78 L277.68,993.81 L277.93,992.84 L278.18,991.87 L278.44,990.91 L278.71,989.94 L278.98,988.98 L279.26,988.02 L279.54,987.06 L279.83,986.11 L280.12,985.15 L280.41,984.19 L280.71,983.24 L281.00,982.28 L281.30,981.33 L281.60,980.37 L281.90,979.42 L282.21,978.47 L282.52,977.52 L282.83,976.57 L283.15,975.62 L283.48,974.67 L283.81,973.73 L284.15,972.79 L284.50,971.85 L284.85,970.92 L285.22,969.99 L285.59,969.06 L285.97,968.14 L286.35,967.21 L286.74,966.29 L287.13,965.37 L287.53,964.45 L287.92,963.53 L288.31,962.61 L288.71,961.69 L289.10,960.77 L289.49,959.85 L289.88,958.93 L290.27,958.01 L290.66,957.09 L291.06,956.17 L291.46,955.26 L291.86,954.34 L292.26,953.43 L292.67,952.51 L293.08,951.60 L293.50,950.69 L293.92,949.79 L294.34,948.88 L294.77,947.97 L295.20,947.07 L295.63,946.17 L296.08,945.28 L296.53,944.39 L297.00,943.50 L297.47,942.62 L297.96,941.75 L298.45,940.88 L298.96,940.02 L299.46,939.16 L299.97,938.30 L300.50,937.45 L301.04,936.63 L301.61,935.84 L302.22,935.13 L302.87,934.53 L303.55,934.09 L304.27,933.87 L304.98,933.88 L305.68,934.14 L306.32,934.61 L306.92,935.25 L307.46,936.01 L307.97,936.83 L308.44,937.70 L308.90,938.58 L309.36,939.47 L309.81,940.36 L310.27,941.25 L310.72,942.14 L311.18,943.03 L311.62,943.92 L312.07,944.82 L312.50,945.72 L312.93,946.62 L313.35,947.53 L313.77,948.44 L314.18,949.35 L314.59,950.26 L314.99,951.18 L315.39,952.09 L315.79,953.01 L316.18,953.93 L316.57,954.85 L316.95,955.77 L317.33,956.70 L317.71,957.63 L318.09,958.55 L318.46,959.48 L318.83,960.41 L319.21,961.34 L319.58,962.26 L319.95,963.19 L320.32,964.12 L320.69,965.05 L321.06,965.98 L321.42,966.91 L321.79,967.84 L322.16,968.77 L322.52,969.70 L322.89,970.63 L323.26,971.56 L323.62,972.49 L323.99,973.42 L324.37,974.35 L324.74,975.28 L325.11,976.21 L325.48,977.14 L325.85,978.07 L326.21,979.00 L326.57,979.93 L326.92,980.87 L327.26,981.81 L327.60,982.75 L327.92,983.69 L328.24,984.64 L328.55,985.59 L328.86,986.54 L329.16,987.50 L329.46,988.45 L329.75,989.41 L330.04,990.36 L330.33,991.32 L330.62,992.28 L330.91,993.24 L331.20,994.19 L331.49,995.15 L331.77,996.11 L332.06,997.07 L332.35,998.02 L332.63,998.98 L332.90,999.95 L333.17,1000.91 L333.42,1001.88 L333.67,1002.84 L333.92,1003.81 L334.15,1004.79 L334.37,1005.76 L334.58,1006.74 L334.79,1007.71 L335.00,1008.69 L335.20,1009.67 L335.40,1010.65 L335.59,1011.63 L335.79,1012.61 L336.00,1013.59 L336.20,1014.57 L336.41,1015.55 L336.61,1016.53 L336.82,1017.51 L337.03,1018.48 L337.24,1019.46 L337.44,1020.44 L337.64,1021.42 L337.83,1022.40 L338.02,1023.38 L338.19,1024.37 L338.36,1025.35 L338.52,1026.34 L338.68,1027.33 L338.82,1028.32 L338.97,1029.31 L339.11,1030.30 L339.25,1031.29 L339.39,1032.28 L339.53,1033.27 L339.67,1034.26 L339.81,1035.25 L339.95,1036.24 L340.10,1037.23 L340.24,1038.22 L340.39,1039.21 L340.53,1040.20 L340.68,1041.19 L340.82,1042.17 L340.96,1043.16 L341.10,1044.16 L341.24,1045.15 L341.37,1046.14 L341.50,1047.13 L341.63,1048.12 L341.76,1049.11 L341.89,1050.10 L342.01,1051.10 L342.13,1052.09 L342.25,1053.08 L342.37,1054.07 L342.48,1055.07 L342.59,1056.06 L342.69,1057.06 L342.80,1058.05 L342.89,1059.05 L342.99,1060.04 L343.07,1061.04 L343.16,1062.03 L343.24,1063.03 L343.31,1064.03 L343.39,1065.03 L343.46,1066.02 L343.53,1067.02 L343.59,1068.02 L343.66,1069.02 L343.72,1070.01 L343.79,1071.01 L343.85,1072.01 L343.91,1073.01 L343.97,1074.01 L344.04,1075.00 L344.10,1076.00 L344.17,1077.00 L344.23,1078.00 L344.30,1079.00 L344.37,1079.99 L344.44,1080.99 L344.52,1081.99 L344.59,1082.98 L344.67,1083.98 L344.76,1084.98 L344.85,1085.97 L344.94,1086.97 L345.03,1087.96 L345.13,1088.96 L345.23,1089.95 L345.33,1090.95 L345.44,1091.94 L345.55,1092.94 L345.66,1093.93 L345.77,1094.93 L345.88,1095.92 L346.00,1096.91 L346.12,1097.91 L346.24,1098.90 L346.36,1099.89 L346.49,1100.88 L346.61,1101.87 L346.74,1102.87 L346.87,1103.86 L347.00,1104.85 L347.13,1105.84 L347.26,1106.83 L347.39,1107.82 L347.52,1108.82 L347.65,1109.81 L347.78,1110.80 L347.90,1111.79 L348.03,1112.78 L348.15,1113.78 L348.27,1114.77 L348.39,1115.76 L348.50,1116.75 L348.62,1117.75 L348.73,1118.74 L348.84,1119.74 L348.95,1120.73 L349.05,1121.72 L349.16,1122.72 L349.26,1123.71 L349.36,1124.71 L349.46,1125.70 L349.56,1126.70 L349.66,1127.69 L349.76,1128.69 L349.86,1129.68 L349.96,1130.68 L350.05,1131.67 L350.15,1132.67 L350.25,1133.66 L350.34,1134.66 L350.44,1135.66 L350.53,1136.65 L350.63,1137.65 L350.72,1138.64 L350.82,1139.64 L350.91,1140.63 L351.01,1141.63 L351.11,1142.62 L351.20,1143.62 L351.30,1144.61 L351.40,1145.61 L351.50,1146.60 L351.60,1147.60 L351.70,1148.59 L351.80,1149.59 L351.90,1150.58 L352.00,1151.58 L352.11,1152.57 L352.21,1153.57 L352.32,1154.56 L352.43,1155.56 L352.54,1156.55 L352.65,1157.54 L352.76,1158.54 L352.88,1159.53 L352.99,1160.52 L353.11,1161.52 L353.22,1162.51 L353.34,1163.50 L353.46,1164.50 L353.58,1165.49 L353.70,1166.48 L353.82,1167.48 L353.94,1168.47 L354.06,1169.46 L354.18,1170.45 L354.31,1171.45 L354.43,1172.44 L354.55,1173.43 L354.67,1174.42 L354.79,1175.42 L354.91,1176.41 L355.04,1177.40 L355.16,1178.39 L355.27,1179.39 L355.39,1180.38 L355.51,1181.37 L355.63,1182.37 L355.74,1183.36 L355.86,1184.35 L355.97,1185.35 L356.08,1186.34 L356.19,1187.33 L356.30,1188.33 L356.41,1189.32 L356.51,1190.32 L356.62,1191.31 L356.72,1192.31 L356.82,1193.30 L356.92,1194.30 L357.02,1195.29 L357.11,1196.29 L357.21,1197.28 L357.30,1198.28 L357.39,1199.27 L357.49,1200.27 L357.58,1201.26 L357.67,1202.26 L357.76,1203.26 L357.85,1204.25 L357.94,1205.25 L358.03,1206.24 L358.13,1207.24 L358.22,1208.24 L358.31,1209.23 L358.40,1210.23 L358.50,1211.22 L358.59,1212.22 L358.69,1213.21 L358.79,1214.21 L358.88,1215.20 L358.98,1216.20 L359.09,1217.19 L359.19,1218.19 L359.30,1219.18 L359.41,1220.18 L359.52,1221.17 L359.64,1222.16 L359.77,1223.15 L359.89,1224.15 L360.03,1225.14 L360.16,1226.13 L360.31,1227.12 L360.45,1228.11 L360.61,1229.09 L360.76,1230.08 L360.92,1231.07 L361.08,1232.06 L361.25,1233.04 L361.42,1234.03 L361.59,1235.01 L361.75,1236.00 L361.92,1236.99 L362.09,1237.97 L362.25,1238.96 L362.42,1239.94 L362.58,1240.93 L362.74,1241.92 L362.91,1242.90 L363.07,1243.89 L363.23,1244.88 L363.39,1245.86 L363.55,1246.85 L363.71,1247.84 L363.88,1248.82 L364.04,1249.81 L364.20,1250.80 L364.36,1251.79 L364.53,1252.77 L364.69,1253.76 L364.85,1254.74 L365.02,1255.73 L365.18,1256.72 L365.34,1257.70 L365.50,1258.69 L365.67,1259.68 L365.83,1260.67 L365.99,1261.65 L366.15,1262.64 L366.31,1263.63 L366.48,1264.61 L366.64,1265.60 L366.80,1266.59 L366.96,1267.57 L367.12,1268.56 L367.28,1269.55 L367.44,1270.53 L367.59,1271.52 L367.75,1272.51 L367.91,1273.50 L368.07,1274.48 L368.22,1275.47 L368.38,1276.46 L368.54,1277.45 L368.69,1278.44 L368.84,1279.42 L369.00,1280.41 L369.15,1281.40 L369.30,1282.39 L369.46,1283.38 L369.61,1284.37 L369.76,1285.35 L369.91,1286.34 L370.06,1287.33 L370.21,1288.32 L370.36,1289.31 L370.51,1290.30 L370.66,1291.29 L370.81,1292.27 L370.96,1293.26 L371.11,1294.25 L371.26,1295.24 L371.40,1296.23 L371.55,1297.22 L371.70,1298.21 L371.85,1299.20 L372.00,1300.19 L372.15,1301.17 L372.29,1302.16 L372.44,1303.15 L372.59,1304.14 L372.74,1305.13 L372.89,1306.12 L373.03,1307.11 L373.18,1308.10 L373.33,1309.09 L373.48,1310.08 L373.63,1311.06 L373.78,1312.05 L373.93,1313.04 L374.08,1314.03 L374.23,1315.02 L374.38,1316.01 L374.53,1317.00 L374.69,1317.98 L374.84,1318.97 L374.99,1319.96 L375.15,1320.95 L375.31,1321.94 L375.46,1322.92 L375.62,1323.91 L375.78,1324.90 L375.93,1325.89 L376.09,1326.87 L376.25,1327.86 L376.41,1328.85 L376.56,1329.84 L376.72,1330.82 L376.87,1331.81 L377.03,1332.80 L377.18,1333.79 L377.34,1334.78 L377.49,1335.76 L377.64,1336.75 L377.79,1337.74 L377.94,1338.73 L378.09,1339.72 L378.24,1340.71 L378.38,1341.70 L378.53,1342.69 L378.67,1343.68 L378.81,1344.67 L378.95,1345.66 L379.09,1346.65 L379.22,1347.64 L379.36,1348.63 L379.49,1349.62 L379.62,1350.61 L379.75,1351.60 L379.88,1352.60 L380.00,1353.59 L380.12,1354.58 L380.23,1355.57 L380.35,1356.57 L380.46,1357.56 L380.57,1358.55 L380.68,1359.55 L380.79,1360.54 L380.90,1361.54 L381.01,1362.53 L381.12,1363.52 L381.24,1364.52 L381.35,1365.51 L381.47,1366.50 L381.58,1367.50 L381.70,1368.49 L381.83,1369.48 L381.95,1370.47 L382.08,1371.47 L382.21,1372.46 L382.35,1373.45 L382.48,1374.44 L382.62,1375.43 L382.76,1376.42 L382.90,1377.41 L383.04,1378.40 L383.18,1379.39 L383.32,1380.38 L383.47,1381.37 L383.61,1382.36 L383.76,1383.35 L383.91,1384.34 L384.06,1385.33 L384.21,1386.31 L384.36,1387.30 L384.51,1388.29 L384.67,1389.28 L384.82,1390.27 L384.97,1391.26 L385.13,1392.24 L385.28,1393.23 L385.44,1394.22 L385.59,1395.21 L385.75,1396.20 L385.90,1397.18 L386.05,1398.17 L386.21,1399.16 L386.36,1400.15 L386.51,1401.14 L386.66,1402.13 L386.81,1403.11 L386.96,1404.10 L387.11,1405.09 L387.26,1406.08 L387.41,1407.07 L387.56,1408.06 L387.71,1409.05 L387.85,1410.04 L388.00,1411.02 L388.15,1412.01 L388.30,1413.00 L388.45,1413.99 L388.60,1414.98 L388.75,1415.97 L388.89,1416.96 L389.04,1417.95 L389.18,1418.94 L389.33,1419.93 L389.47,1420.92 L389.61,1421.91 L389.75,1422.90 L389.89,1423.89 L390.03,1424.88 L390.16,1425.87 L390.30,1426.86 L390.43,1427.85 L390.57,1428.84 L390.70,1429.83 L390.83,1430.82 L390.96,1431.81 L391.09,1432.81 L391.22,1433.80 L391.35,1434.79 L391.48,1435.78 L391.61,1436.77 L391.74,1437.76 L391.87,1438.76 L392.00,1439.75 L392.13,1440.74 L392.26,1441.73 L392.38,1442.72 L392.51,1443.71 L392.64,1444.71 L392.77,1445.70 L392.90,1446.69 L393.03,1447.68 L393.16,1448.67 L393.29,1449.66 L393.42,1450.66 L393.54,1451.65 L393.67,1452.64 L393.79,1453.63 L393.92,1454.62 L394.04,1455.62 L394.16,1456.61 L394.28,1457.60 L394.40,1458.59 L394.53,1459.59 L394.65,1460.58 L394.77,1461.57 L394.90,1462.56 L395.02,1463.56 L395.15,1464.55 L395.28,1465.54 L395.41,1466.53 L395.54,1467.52 L395.68,1468.51 L395.82,1469.50 L395.96,1470.49 L396.11,1471.48 L396.27,1472.47 L396.43,1473.46 L396.60,1474.44 L396.77,1475.43 L396.95,1476.41 L397.13,1477.39 L397.32,1478.37 L397.51,1479.36 L397.71,1480.34 L397.91,1481.31 L398.12,1482.29 L398.33,1483.27 L398.55,1484.25 L398.77,1485.22 L398.99,1486.20 L399.22,1487.17 L399.45,1488.14 L399.69,1489.11 L399.93,1490.09 L400.17,1491.06 L400.42,1492.02 L400.66,1492.99 L400.91,1493.96 L401.16,1494.93 L401.42,1495.90 L401.67,1496.87 L401.92,1497.83 L402.17,1498.80 L402.41,1499.77 L402.66,1500.74 L402.90,1501.71 L403.14,1502.68 L403.38,1503.65 L403.63,1504.62 L403.88,1505.59 L404.15,1506.55 L404.44,1507.50 L404.76,1508.44 L405.12,1509.37 L405.52,1510.28 L405.96,1511.17 L406.45,1512.03 L406.98,1512.86 L407.56,1513.67 L408.17,1514.45 L408.82,1515.20 L409.51,1515.93 L410.22,1516.62 L410.95,1517.30 L411.71,1517.95 L412.48,1518.58 L413.27,1519.19 L414.07,1519.78 L414.89,1520.35 L415.72,1520.91 L416.56,1521.45 L417.40,1521.99 L418.25,1522.51 L419.11,1523.04 L419.96,1523.56 L420.81,1524.08 L421.66,1524.61 L422.50,1525.15 L423.34,1525.69 L424.17,1526.24 L425.00,1526.81 L425.83,1527.37 L426.65,1527.94 L427.46,1528.52 L428.28,1529.09 L429.10,1529.67 L429.91,1530.25 L430.73,1530.83 L431.55,1531.41 L432.36,1531.98 L433.18,1532.56 L434.00,1533.14 L434.82,1533.71 L435.64,1534.28 L436.46,1534.85 L437.28,1535.42 L438.11,1535.98 L438.93,1536.54 L439.77,1537.10 L440.60,1537.65 L441.43,1538.20 L442.27,1538.75 L443.11,1539.29 L443.96,1539.83 L444.80,1540.36 L445.65,1540.89 L446.50,1541.42 L447.35,1541.94 L448.20,1542.47 L449.06,1542.99 L449.91,1543.50 L450.77,1544.01 L451.63,1544.52 L452.49,1545.03 L453.36,1545.53 L454.22,1546.03 L455.09,1546.53 L455.96,1547.02 L456.84,1547.51 L457.71,1548.00 L458.59,1548.48 L459.47,1548.95 L460.35,1549.43 L461.23,1549.90 L462.11,1550.36 L463.00,1550.82 L463.89,1551.28 L464.78,1551.74 L465.67,1552.19 L466.57,1552.64 L467.46,1553.09 L468.36,1553.53 L469.25,1553.98 L470.15,1554.42 L471.04,1554.86 L471.94,1555.30 L472.84,1555.75 L473.73,1556.19 L474.63,1556.64 L475.52,1557.09 L476.41,1557.55 L477.30,1558.01 L478.18,1558.47 L479.07,1558.93 L479.96,1559.39 L480.85,1559.85 L481.74,1560.30 L482.64,1560.74 L483.54,1561.17 L484.45,1561.58 L485.36,1561.98 L486.29,1562.36 L487.22,1562.72 L488.16,1563.06 L489.10,1563.38 L490.06,1563.69 L491.01,1563.97 L491.97,1564.24 L492.94,1564.50 L493.91,1564.76 L494.88,1565.00 L495.85,1565.23 L496.82,1565.45 L497.80,1565.67 L498.78,1565.88 L499.76,1566.09 L500.74,1566.28 L501.72,1566.47 L502.70,1566.66 L503.68,1566.84 L504.67,1567.01 L505.65,1567.18 L506.64,1567.35 L507.63,1567.51 L508.61,1567.67 L509.60,1567.83 L510.59,1567.98 L511.58,1568.13 L512.57,1568.28 L513.56,1568.43 L514.55,1568.57 L515.54,1568.72 L516.53,1568.85 L517.52,1568.99 L518.51,1569.12 L519.50,1569.25 L520.49,1569.38 L521.48,1569.50 L522.48,1569.63 L523.47,1569.74 L524.46,1569.86 L525.46,1569.97 L526.45,1570.08 L527.44,1570.19 L528.44,1570.29 L529.43,1570.39 L530.43,1570.49 L531.42,1570.58 L532.42,1570.67 L533.42,1570.76 L534.41,1570.85 L535.41,1570.93 L536.41,1571.01 L537.40,1571.09 L538.40,1571.16 L539.40,1571.23 L540.39,1571.30 L541.39,1571.37 L542.39,1571.44 L543.39,1571.51 L544.39,1571.57 L545.38,1571.64 L546.38,1571.70 L547.38,1571.76 L548.38,1571.82 L549.38,1571.88 L550.37,1571.94 L551.37,1571.99 L552.37,1572.05 L553.37,1572.11 L554.37,1572.16 L555.37,1572.22 L556.37,1572.27 L557.36,1572.33 L558.36,1572.39 L559.36,1572.44 L560.36,1572.50 L561.36,1572.55 L562.36,1572.61 L563.35,1572.67 L564.35,1572.73 L565.35,1572.79 L566.35,1572.85 L567.35,1572.91 L568.34,1572.97 L569.34,1573.03 L570.34,1573.10 L571.34,1573.16 L572.34,1573.22 L573.34,1573.28 L574.33,1573.34 L575.33,1573.40 L576.33,1573.47 L577.33,1573.53 L578.33,1573.59 L579.32,1573.66 L580.32,1573.72 L581.32,1573.79 L582.32,1573.86 L583.31,1573.93 L584.31,1574.01 L585.31,1574.08 L586.30,1574.16 L587.30,1574.25 L588.30,1574.34 L589.29,1574.43 L590.29,1574.52 L591.28,1574.62 L592.28,1574.73 L593.27,1574.83 L594.27,1574.94 L595.26,1575.05 L596.25,1575.17 L597.25,1575.28 L598.24,1575.40 L599.23,1575.52 L600.23,1575.63 L601.22,1575.75 L602.21,1575.87 L603.20,1575.99 L604.20,1576.11 L605.19,1576.23 L606.18,1576.35 L607.18,1576.48 L608.17,1576.60 L609.16,1576.72 L610.15,1576.84 L611.15,1576.97 L612.14,1577.09 L613.13,1577.22 L614.12,1577.35 L615.11,1577.47 L616.10,1577.60 L617.10,1577.73 L618.09,1577.86 L619.08,1577.99 L620.07,1578.12 L621.06,1578.25 L622.05,1578.38 L623.05,1578.50 L624.04,1578.63 L625.03,1578.76 L626.02,1578.88 L627.01,1579.01 L628.01,1579.14 L629.00,1579.26 L629.99,1579.39 L630.98,1579.51 L631.97,1579.64 L632.97,1579.76 L633.96,1579.88 L634.95,1580.01 L635.94,1580.13 L636.94,1580.26 L637.93,1580.38 L638.92,1580.51 L639.91,1580.63 L640.90,1580.76 L641.90,1580.88 L642.89,1581.01 L643.88,1581.13 L644.87,1581.26 L645.87,1581.38 L646.86,1581.51 L647.85,1581.63 L648.84,1581.76 L649.83,1581.88 L650.83,1582.01 L651.82,1582.13 L652.81,1582.26 L653.80,1582.38 L654.79,1582.51 L655.79,1582.64 L656.78,1582.76 L657.77,1582.89 L658.76,1583.01 L659.75,1583.14 L660.75,1583.27 L661.74,1583.39 L662.73,1583.52 L663.72,1583.64 L664.71,1583.77 L665.71,1583.89 L666.70,1584.02 L667.69,1584.15 L668.68,1584.27 L669.68,1584.40 L670.67,1584.52 L671.66,1584.65 L672.65,1584.78 L673.64,1584.90 L674.64,1585.03 L675.63,1585.15 L676.62,1585.28 L677.61,1585.40 L678.60,1585.53 L679.60,1585.66 L680.59,1585.78 L681.58,1585.91 L682.57,1586.03 L683.56,1586.16 L684.56,1586.28 L685.55,1586.41 L686.54,1586.54 L687.53,1586.67 L688.52,1586.79 L689.52,1586.92 L690.51,1587.05 L691.50,1587.18 L692.49,1587.31 L693.48,1587.44 L694.47,1587.56 L695.47,1587.69 L696.46,1587.81 L697.45,1587.94 L698.44,1588.06 L699.44,1588.18 L700.43,1588.30 L701.42,1588.41 L702.42,1588.53 L703.41,1588.64 L704.40,1588.75 L705.40,1588.86 L706.39,1588.97 L707.39,1589.07 L708.38,1589.18 L709.37,1589.29 L710.37,1589.39 L711.36,1589.50 L712.36,1589.60 L713.35,1589.70 L714.35,1589.80 L715.34,1589.91 L716.34,1590.01 L717.33,1590.11 L718.33,1590.21 L719.32,1590.30 L720.32,1590.40 L721.31,1590.50 L722.31,1590.60 L723.30,1590.69 L724.30,1590.79 L725.29,1590.88 L726.29,1590.97 L727.29,1591.06 L728.28,1591.15 L729.28,1591.24 L730.27,1591.33 L731.27,1591.42 L732.27,1591.51 L733.26,1591.60 L734.26,1591.68 L735.26,1591.77 L736.25,1591.85 L737.25,1591.93 L738.25,1592.01 L739.24,1592.09 L740.24,1592.17 L741.24,1592.25 L742.23,1592.33 L743.23,1592.40 L744.23,1592.48 L745.22,1592.55 L746.22,1592.63 L747.22,1592.70 L748.22,1592.77 L749.21,1592.84 L750.21,1592.92 L751.21,1592.99 L752.21,1593.06 L753.20,1593.13 L754.20,1593.20 L755.20,1593.26 L756.20,1593.33 L757.19,1593.40 L758.19,1593.47 L759.19,1593.53 L760.19,1593.60 L761.19,1593.66 L762.18,1593.72 L763.18,1593.79 L764.18,1593.85 L765.18,1593.91 L766.18,1593.97 L767.17,1594.03 L768.17,1594.09 L769.17,1594.15 L770.17,1594.21 L771.17,1594.27 L772.17,1594.33 L773.16,1594.38 L774.16,1594.44 L775.16,1594.50 L776.16,1594.55 L777.16,1594.60 L778.16,1594.66 L779.15,1594.71 L780.15,1594.76 L781.15,1594.81 L782.15,1594.87 L783.15,1594.92 L784.15,1594.97 L785.15,1595.02 L786.15,1595.07 L787.14,1595.11 L788.14,1595.16 L789.14,1595.21 L790.14,1595.26 L791.14,1595.30 L792.14,1595.35 L793.14,1595.39 L794.14,1595.43 L795.14,1595.47 L796.14,1595.51 L797.13,1595.55 L798.13,1595.59 L799.13,1595.63 L800.13,1595.67 L801.13,1595.70 L802.13,1595.73 L803.13,1595.77 L804.13,1595.80 L805.13,1595.83 L806.13,1595.86 L807.13,1595.89 L808.13,1595.93 L809.13,1595.96 L810.13,1595.99 L811.13,1596.02 L812.13,1596.05 L813.13,1596.08 L814.13,1596.10 L815.13,1596.13 L816.13,1596.16 L817.12,1596.19 L818.12,1596.22 L819.12,1596.24 L820.12,1596.27 L821.12,1596.29 L822.12,1596.32 L823.12,1596.34 L824.12,1596.37 L825.12,1596.39 L826.12,1596.41 L827.12,1596.44 L828.12,1596.46 L829.12,1596.48 L830.12,1596.50 L831.12,1596.52 L832.12,1596.54 L833.12,1596.56 L834.12,1596.57 L835.12,1596.59 L836.12,1596.61 L837.12,1596.62 L838.12,1596.64 L839.12,1596.65 L840.12,1596.66 L841.12,1596.68 L842.12,1596.69 L843.12,1596.70 L844.12,1596.71 L845.12,1596.73 L846.12,1596.74 L847.12,1596.75 L848.12,1596.76 L849.12,1596.77 L850.12,1596.78 L851.12,1596.79 L852.12,1596.80 L853.12,1596.81 L854.12,1596.82 L855.12,1596.83 L856.12,1596.84 L857.12,1596.85 L858.12,1596.86 L859.12,1596.87 L860.12,1596.88 L861.12,1596.89 L862.12,1596.90 L863.12,1596.90 L864.12,1596.91 L865.12,1596.92 L866.12,1596.93 L867.12,1596.94 L868.12,1596.95 L869.12,1596.95 L870.12,1596.96 L871.12,1596.97 L872.12,1596.98 L873.12,1596.98 L874.12,1596.99 L875.12,1597.00 L876.12,1597.01 L877.12,1597.01 L878.12,1597.02 L879.12,1597.03 L880.12,1597.03 L881.12,1597.04 L882.12,1597.05 L883.12,1597.05 L884.12,1597.06 L885.12,1597.07 L886.12,1597.07 L887.12,1597.08 L888.12,1597.08 L889.12,1597.09 L890.12,1597.10 L891.12,1597.10 L892.12,1597.11 L893.12,1597.11 L894.12,1597.12 L895.12,1597.13 L896.12,1597.13 L897.12,1597.14 L898.12,1597.14 L899.12,1597.15 L900.12,1597.16 L901.12,1597.16 L902.12,1597.17 L903.12,1597.17 L904.12,1597.18 L905.12,1597.18 L906.12,1597.19 L907.12,1597.20 L908.12,1597.20 L909.12,1597.21 L910.12,1597.21 L911.12,1597.22 L912.12,1597.22 L913.12,1597.23 L914.12,1597.23 L915.12,1597.24 L916.12,1597.25 L917.12,1597.25 L918.12,1597.26 L919.12,1597.26 L920.12,1597.27 L921.12,1597.27 L922.12,1597.28 L923.12,1597.28 L924.12,1597.29 L925.12,1597.29 L926.12,1597.30 L927.12,1597.30 L928.12,1597.31 L929.12,1597.31 L930.12,1597.32 L931.12,1597.32 L932.12,1597.33 L933.12,1597.33 L934.12,1597.34 L935.12,1597.34 L936.12,1597.35 L937.12,1597.35 L938.12,1597.36 L939.12,1597.36 L940.12,1597.37 L941.12,1597.37 L942.12,1597.38 L943.12,1597.38 L944.12,1597.38 L945.12,1597.39 L946.12,1597.39 L947.12,1597.40 L948.12,1597.40 L949.12,1597.41 L950.12,1597.41 L951.12,1597.42 L952.12,1597.42 L953.12,1597.42 L954.12,1597.43 L955.12,1597.43 L956.12,1597.44 L957.12,1597.44 L958.12,1597.45 L959.12,1597.45 L960.12,1597.45 L961.12,1597.46 L962.12,1597.46 L963.12,1597.47 L964.12,1597.47 L965.12,1597.48 L966.12,1597.48 L967.12,1597.48 L968.12,1597.49 L969.12,1597.49 L970.12,1597.50 L971.12,1597.50 L972.12,1597.50 L973.12,1597.51 L974.12,1597.51 L975.12,1597.52 L976.12,1597.52 L977.12,1597.52 L978.12,1597.53 L979.12,1597.53 L980.12,1597.54 L981.12,1597.54 L982.12,1597.54 L983.12,1597.55 L984.12,1597.55 L985.12,1597.56 L986.12,1597.56 L987.12,1597.56 L988.12,1597.57 L989.12,1597.57 L990.12,1597.57 L991.12,1597.58 L992.12,1597.58 L993.12,1597.59 L994.12,1597.59 L995.12,1597.59 L996.12,1597.60 L997.12,1597.60 L998.12,1597.61 L999.12,1597.61 L1000.12,1597.61 L1001.12,1597.62 L1002.12,1597.62 L1003.12,1597.62 L1004.12,1597.63 L1005.12,1597.63 L1006.12,1597.64 L1007.12,1597.64 L1008.12,1597.64 L1009.12,1597.65 L1010.12,1597.65 L1011.12,1597.65 L1012.12,1597.66 L1013.12,1597.66 L1014.12,1597.67 L1015.12,1597.67 L1016.12,1597.67 L1017.12,1597.68 L1018.12,1597.68 L1019.12,1597.69 L1020.12,1597.69 L1021.12,1597.69 L1022.12,1597.70 L1023.12,1597.70 L1024.12,1597.70 L1025.12,1597.71 L1026.12,1597.71 L1027.12,1597.72 L1028.12,1597.72 L1029.12,1597.72 L1030.12,1597.73 L1031.12,1597.73 L1032.12,1597.74 L1033.12,1597.74 L1034.12,1597.74 L1035.12,1597.75 L1036.12,1597.75 L1037.12,1597.75 L1038.12,1597.76 L1039.12,1597.76 L1040.12,1597.77 L1041.12,1597.77 L1042.12,1597.77 L1043.12,1597.78 L1044.12,1597.78 L1045.12,1597.78 L1046.12,1597.79 L1047.12,1597.79 L1048.12,1597.79 L1049.12,1597.80 L1050.12,1597.80 L1051.12,1597.81 L1052.12,1597.81 L1053.12,1597.81 L1054.12,1597.82 L1055.12,1597.82 L1056.12,1597.82 L1057.12,1597.83 L1058.12,1597.83 L1059.12,1597.83 L1060.12,1597.84 L1061.12,1597.84 L1062.12,1597.85 L1063.12,1597.85 L1064.12,1597.85 L1065.12,1597.86 L1066.12,1597.86 L1067.12,1597.86 L1068.12,1597.87 L1069.12,1597.87 L1070.12,1597.87 L1071.12,1597.88 L1072.12,1597.88 L1073.12,1597.88 L1074.12,1597.89 L1075.12,1597.89 L1076.12,1597.89 L1077.12,1597.90 L1078.12,1597.90 L1079.12,1597.90 L1080.12,1597.91 L1081.12,1597.91 L1082.12,1597.92 L1083.12,1597.92 L1084.12,1597.92 L1085.12,1597.93 L1086.12,1597.93 L1087.12,1597.93 L1088.12,1597.94 L1089.12,1597.94 L1090.12,1597.94 L1091.12,1597.95 L1092.12,1597.95 L1093.12,1597.95 L1094.12,1597.96 L1095.12,1597.96 L1096.12,1597.96 L1097.12,1597.97 L1098.12,1597.97 L1099.12,1597.97 L1100.12,1597.98 L1101.12,1597.98 L1102.12,1597.98 L1103.12,1597.99 L1104.12,1597.99 L1105.12,1597.99 L1106.12,1597.99 L1107.12,1598.00 L1108.12,1598.00 L1109.12,1598.00 L1110.12,1598.01 L1111.12,1598.01 L1112.12,1598.01 L1113.12,1598.02 L1114.12,1598.02 L1115.12,1598.02 L1116.12,1598.03 L1117.12,1598.03 L1118.11,1598.03 L1119.11,1598.04 L1120.10,1598.04 L1121.08,1598.04 L1122.03,1598.04 L1122.91,1598.05 L1123.70,1598.05 L1124.35,1598.05" fill="none" stroke="#000" stroke-width="3.2" stroke-opacity="1.0" stroke-linejoin="round" stroke-linecap="round" clip-path="url(#cb)"/>
<path d="M208.03,1256.06 L208.17,1256.62 L208.34,1257.33 L208.54,1258.14 L208.77,1259.04 L209.00,1259.97 L209.25,1260.92 L209.51,1261.89 L209.77,1262.85 L210.04,1263.81 L210.32,1264.77 L210.61,1265.73 L210.92,1266.68 L211.25,1267.62 L211.59,1268.56 L211.95,1269.49 L212.32,1270.42 L212.71,1271.34 L213.12,1272.25 L213.53,1273.16 L213.97,1274.06 L214.41,1274.95 L214.88,1275.84 L215.37,1276.70 L215.88,1277.56 L216.43,1278.38 L217.02,1279.17 L217.66,1279.93 L218.34,1280.64 L219.07,1281.30 L219.85,1281.91 L220.66,1282.48 L221.50,1283.00 L222.36,1283.49 L223.25,1283.95 L224.15,1284.37 L225.07,1284.75 L226.00,1285.10 L226.94,1285.42 L227.90,1285.70 L228.86,1285.95 L229.84,1286.16 L230.82,1286.34 L231.80,1286.50 L232.79,1286.63 L233.79,1286.75 L234.78,1286.86 L235.77,1286.96 L236.77,1287.06 L237.76,1287.17 L238.75,1287.30 L239.73,1287.45 L240.71,1287.63 L241.68,1287.85 L242.64,1288.12 L243.58,1288.43 L244.51,1288.78 L245.43,1289.17 L246.33,1289.60 L247.22,1290.05 L248.10,1290.52 L248.97,1291.00 L249.84,1291.50 L250.70,1292.01 L251.56,1292.52 L252.40,1293.05 L253.25,1293.59 L254.08,1294.14 L254.90,1294.70 L255.72,1295.28 L256.52,1295.87 L257.32,1296.48 L258.11,1297.09 L258.88,1297.72 L259.65,1298.36 L260.41,1299.01 L261.16,1299.68 L261.90,1300.35 L262.63,1301.03 L263.34,1301.73 L264.05,1302.43 L264.74,1303.16 L265.42,1303.89 L266.08,1304.63 L266.73,1305.39 L267.37,1306.16 L268.00,1306.94 L268.62,1307.72 L269.23,1308.52 L269.83,1309.31 L270.42,1310.12 L271.01,1310.93 L271.59,1311.74 L272.17,1312.56 L272.74,1313.38 L273.31,1314.20 L273.87,1315.03 L274.42,1315.86 L274.97,1316.70 L275.50,1317.54 L276.03,1318.39 L276.55,1319.25 L277.06,1320.11 L277.56,1320.97 L278.05,1321.84 L278.54,1322.72 L279.02,1323.59 L279.50,1324.47 L279.97,1325.35 L280.44,1326.24 L280.91,1327.12 L281.38,1328.00 L281.84,1328.89 L282.31,1329.77 L282.78,1330.65 L283.25,1331.54 L283.72,1332.42 L284.20,1333.30 L284.68,1334.17 L285.17,1335.05 L285.66,1335.92 L286.16,1336.78 L286.67,1337.64 L287.19,1338.50 L287.72,1339.34 L288.26,1340.18 L288.82,1341.01 L289.38,1341.84 L289.96,1342.65 L290.56,1343.45 L291.16,1344.25 L291.77,1345.04 L292.40,1345.82 L293.03,1346.59 L293.67,1347.36 L294.31,1348.13 L294.96,1348.89 L295.61,1349.65 L296.26,1350.41 L296.91,1351.17 L297.55,1351.94 L298.19,1352.71 L298.82,1353.48 L299.45,1354.26 L300.06,1355.05 L300.67,1355.84 L301.26,1356.65 L301.84,1357.46 L302.41,1358.28 L302.96,1359.12 L303.50,1359.96 L304.02,1360.81 L304.52,1361.68 L305.01,1362.55 L305.48,1363.43 L305.94,1364.32 L306.39,1365.21 L306.83,1366.10 L307.27,1367.00 L307.71,1367.90 L308.15,1368.80 L308.60,1369.69 L309.05,1370.58 L309.51,1371.47 L309.97,1372.36 L310.45,1373.24 L310.93,1374.11 L311.42,1374.99 L311.91,1375.86 L312.41,1376.72 L312.91,1377.59 L313.42,1378.45 L313.93,1379.31 L314.45,1380.16 L314.97,1381.01 L315.51,1381.86 L316.04,1382.70 L316.59,1383.54 L317.15,1384.37 L317.72,1385.19 L318.30,1386.00 L318.89,1386.81 L319.50,1387.60 L320.11,1388.39 L320.74,1389.17 L321.37,1389.94 L322.01,1390.71 L322.66,1391.47 L323.32,1392.22 L323.98,1392.98 L324.64,1393.73 L325.30,1394.48 L325.96,1395.23 L326.62,1395.98 L327.28,1396.73 L327.94,1397.48 L328.61,1398.23 L329.27,1398.97 L329.93,1399.72 L330.59,1400.47 L331.25,1401.23 L331.89,1401.99 L332.52,1402.77 L333.14,1403.55 L333.75,1404.35 L334.34,1405.15 L334.91,1405.97 L335.47,1406.80 L336.01,1407.64 L336.55,1408.48 L337.07,1409.34 L337.58,1410.19 L338.08,1411.06 L338.57,1411.93 L339.06,1412.80 L339.53,1413.68 L340.00,1414.57 L340.45,1415.46 L340.90,1416.35 L341.33,1417.25 L341.76,1418.16 L342.17,1419.07 L342.58,1419.98 L342.99,1420.89 L343.39,1421.81 L343.78,1422.73 L344.18,1423.65 L344.57,1424.57 L344.96,1425.49 L345.35,1426.41 L345.75,1427.33 L346.14,1428.25 L346.53,1429.17 L346.91,1430.09 L347.30,1431.01 L347.68,1431.94 L348.07,1432.86 L348.45,1433.78 L348.84,1434.71 L349.23,1435.63 L349.62,1436.54 L350.03,1437.46 L350.45,1438.36 L350.88,1439.27 L351.32,1440.16 L351.78,1441.05 L352.25,1441.93 L352.73,1442.81 L353.23,1443.67 L353.73,1444.54 L354.25,1445.40 L354.76,1446.25 L355.29,1447.10 L355.81,1447.95 L356.34,1448.80 L356.87,1449.65 L357.41,1450.49 L357.94,1451.34 L358.48,1452.18 L359.03,1453.02 L359.58,1453.86 L360.13,1454.69 L360.68,1455.52 L361.24,1456.35 L361.80,1457.18 L362.37,1458.00 L362.94,1458.82 L363.52,1459.64 L364.10,1460.45 L364.69,1461.26 L365.29,1462.06 L365.88,1462.86 L366.49,1463.66 L367.09,1464.45 L367.70,1465.25 L368.31,1466.04 L368.92,1466.83 L369.53,1467.62 L370.14,1468.42 L370.75,1469.21 L371.35,1470.01 L371.95,1470.81 L372.54,1471.62 L373.13,1472.42 L373.72,1473.23 L374.31,1474.04 L374.90,1474.85 L375.48,1475.66 L376.06,1476.48 L376.64,1477.29 L377.22,1478.11 L377.80,1478.92 L378.37,1479.74 L378.94,1480.56 L379.52,1481.38 L380.09,1482.20 L380.66,1483.02 L381.23,1483.84 L381.80,1484.66 L382.38,1485.48 L382.95,1486.31 L383.52,1487.13 L384.09,1487.95 L384.65,1488.77 L385.22,1489.60 L385.78,1490.42 L386.34,1491.26 L386.89,1492.09 L387.43,1492.93 L387.96,1493.77 L388.49,1494.62 L389.01,1495.48 L389.51,1496.34 L390.00,1497.21 L390.47,1498.09 L390.94,1498.98 L391.38,1499.87 L391.82,1500.77 L392.26,1501.67 L392.69,1502.57 L393.12,1503.48 L393.55,1504.38 L394.00,1505.27 L394.46,1506.16 L394.93,1507.04 L395.43,1507.90 L395.95,1508.75 L396.50,1509.58 L397.08,1510.39 L397.68,1511.19 L398.30,1511.97 L398.95,1512.73 L399.60,1513.48 L400.28,1514.22 L400.96,1514.94 L401.67,1515.66 L402.38,1516.36 L403.10,1517.04 L403.84,1517.72 L404.58,1518.39 L405.34,1519.04 L406.10,1519.69 L406.87,1520.32 L407.65,1520.95 L408.43,1521.57 L409.22,1522.19 L410.01,1522.81 L410.80,1523.42 L411.59,1524.03 L412.39,1524.63 L413.18,1525.24 L413.98,1525.84 L414.78,1526.44 L415.58,1527.04 L416.39,1527.63 L417.20,1528.21 L418.02,1528.78 L418.85,1529.35 L419.68,1529.90 L420.52,1530.44 L421.37,1530.97 L422.23,1531.48 L423.10,1531.97 L423.98,1532.43 L424.87,1532.88 L425.78,1533.30 L426.69,1533.69 L427.62,1534.06 L428.56,1534.40 L429.50,1534.73 L430.45,1535.03 L431.41,1535.32 L432.37,1535.59 L433.34,1535.85 L434.30,1536.10 L435.27,1536.35 L436.24,1536.59 L437.22,1536.82 L438.19,1537.05 L439.16,1537.29 L440.13,1537.53 L441.10,1537.77 L442.07,1538.02 L443.03,1538.28 L444.00,1538.55 L444.96,1538.83 L445.91,1539.12 L446.87,1539.41 L447.82,1539.72 L448.77,1540.02 L449.72,1540.33 L450.67,1540.65 L451.62,1540.96 L452.57,1541.28 L453.52,1541.60 L454.47,1541.92 L455.42,1542.23 L456.37,1542.54 L457.32,1542.85 L458.27,1543.15 L459.22,1543.45 L460.18,1543.75 L461.14,1544.03 L462.10,1544.31 L463.06,1544.59 L464.02,1544.86 L464.98,1545.13 L465.95,1545.40 L466.91,1545.66 L467.88,1545.93 L468.84,1546.18 L469.81,1546.44 L470.78,1546.69 L471.75,1546.94 L472.72,1547.18 L473.69,1547.41 L474.66,1547.64 L475.64,1547.86 L476.61,1548.08 L477.59,1548.28 L478.57,1548.48 L479.55,1548.67 L480.54,1548.86 L481.52,1549.04 L482.50,1549.22 L483.49,1549.40 L484.47,1549.57 L485.46,1549.74 L486.44,1549.91 L487.43,1550.07 L488.42,1550.22 L489.41,1550.37 L490.40,1550.51 L491.39,1550.65 L492.38,1550.77 L493.37,1550.89 L494.37,1550.99 L495.36,1551.08 L496.36,1551.17 L497.36,1551.24 L498.35,1551.30 L499.35,1551.36 L500.35,1551.41 L501.35,1551.45 L502.35,1551.49 L503.35,1551.53 L504.35,1551.56 L505.35,1551.60 L506.35,1551.63 L507.35,1551.66 L508.34,1551.68 L509.34,1551.71 L510.34,1551.74 L511.34,1551.77 L512.34,1551.79 L513.34,1551.82 L514.34,1551.85 L515.34,1551.88 L516.34,1551.91 L517.34,1551.94 L518.34,1551.96 L519.34,1551.99 L520.34,1552.02 L521.34,1552.04 L522.34,1552.07 L523.34,1552.09 L524.34,1552.12 L525.34,1552.14 L526.34,1552.17 L527.34,1552.19 L528.34,1552.22 L529.34,1552.24 L530.34,1552.27 L531.34,1552.29 L532.34,1552.32 L533.34,1552.35 L534.34,1552.38 L535.33,1552.42 L536.33,1552.45 L537.33,1552.49 L538.33,1552.53 L539.33,1552.57 L540.33,1552.62 L541.33,1552.67 L542.33,1552.72 L543.33,1552.79 L544.32,1552.86 L545.32,1552.94 L546.31,1553.03 L547.31,1553.13 L548.30,1553.24 L549.30,1553.36 L550.29,1553.49 L551.28,1553.62 L552.27,1553.76 L553.26,1553.90 L554.25,1554.05 L555.24,1554.20 L556.22,1554.35 L557.21,1554.51 L558.20,1554.66 L559.19,1554.82 L560.18,1554.97 L561.16,1555.13 L562.15,1555.29 L563.14,1555.46 L564.12,1555.63 L565.11,1555.80 L566.09,1555.98 L567.07,1556.16 L568.06,1556.34 L569.04,1556.53 L570.02,1556.72 L571.00,1556.91 L571.98,1557.10 L572.96,1557.30 L573.94,1557.50 L574.92,1557.70 L575.90,1557.90 L576.88,1558.10 L577.86,1558.30 L578.84,1558.50 L579.82,1558.71 L580.80,1558.91 L581.78,1559.12 L582.75,1559.34 L583.73,1559.55 L584.71,1559.77 L585.68,1559.98 L586.66,1560.20 L587.63,1560.42 L588.61,1560.64 L589.58,1560.87 L590.56,1561.09 L591.53,1561.31 L592.51,1561.53 L593.48,1561.76 L594.46,1561.98 L595.43,1562.20 L596.41,1562.42 L597.39,1562.64 L598.36,1562.86 L599.34,1563.08 L600.31,1563.30 L601.29,1563.52 L602.26,1563.74 L603.24,1563.97 L604.21,1564.20 L605.18,1564.44 L606.15,1564.68 L607.12,1564.93 L608.09,1565.18 L609.05,1565.43 L610.02,1565.69 L610.98,1565.96 L611.95,1566.23 L612.91,1566.50 L613.87,1566.77 L614.83,1567.05 L615.79,1567.33 L616.75,1567.61 L617.71,1567.89 L618.67,1568.17 L619.63,1568.45 L620.59,1568.73 L621.55,1569.02 L622.51,1569.30 L623.47,1569.58 L624.43,1569.85 L625.39,1570.13 L626.35,1570.41 L627.31,1570.69 L628.27,1570.96 L629.23,1571.24 L630.20,1571.52 L631.16,1571.80 L632.12,1572.08 L633.08,1572.35 L634.04,1572.63 L635.00,1572.91 L635.96,1573.19 L636.92,1573.46 L637.88,1573.74 L638.84,1574.01 L639.80,1574.29 L640.77,1574.56 L641.73,1574.83 L642.69,1575.09 L643.66,1575.36 L644.62,1575.62 L645.59,1575.88 L646.55,1576.14 L647.52,1576.40 L648.49,1576.66 L649.45,1576.92 L650.42,1577.18 L651.38,1577.43 L652.35,1577.69 L653.32,1577.94 L654.29,1578.19 L655.25,1578.44 L656.22,1578.69 L657.19,1578.93 L658.16,1579.18 L659.14,1579.41 L660.11,1579.65 L661.08,1579.88 L662.05,1580.10 L663.03,1580.33 L664.01,1580.54 L664.98,1580.76 L665.96,1580.97 L666.94,1581.17 L667.92,1581.38 L668.90,1581.58 L669.88,1581.78 L670.86,1581.97 L671.84,1582.16 L672.82,1582.35 L673.80,1582.54 L674.79,1582.72 L675.77,1582.91 L676.75,1583.09 L677.74,1583.27 L678.72,1583.45 L679.70,1583.62 L680.69,1583.80 L681.67,1583.97 L682.66,1584.14 L683.65,1584.31 L684.63,1584.48 L685.62,1584.65 L686.60,1584.81 L687.59,1584.98 L688.57,1585.14 L689.56,1585.31 L690.55,1585.47 L691.54,1585.63 L692.52,1585.79 L693.51,1585.95 L694.50,1586.10 L695.49,1586.25 L696.47,1586.41 L697.46,1586.56 L698.45,1586.70 L699.44,1586.85 L700.43,1586.99 L701.42,1587.14 L702.41,1587.28 L703.40,1587.41 L704.39,1587.55 L705.38,1587.69 L706.37,1587.82 L707.36,1587.96 L708.36,1588.09 L709.35,1588.22 L710.34,1588.36 L711.33,1588.49 L712.32,1588.62 L713.31,1588.75 L714.30,1588.88 L715.30,1589.01 L716.29,1589.13 L717.28,1589.26 L718.27,1589.39 L719.26,1589.51 L720.26,1589.64 L721.25,1589.76 L722.24,1589.88 L723.23,1590.00 L724.23,1590.12 L725.22,1590.24 L726.21,1590.35 L727.21,1590.47 L728.20,1590.58 L729.19,1590.70 L730.19,1590.81 L731.18,1590.92 L732.17,1591.02 L733.17,1591.13 L734.16,1591.23 L735.16,1591.34 L736.15,1591.44 L737.15,1591.54 L738.14,1591.64 L739.14,1591.73 L740.13,1591.83 L741.13,1591.92 L742.13,1592.01 L743.12,1592.10 L744.12,1592.19 L745.11,1592.27 L746.11,1592.36 L747.11,1592.44 L748.10,1592.52 L749.10,1592.60 L750.10,1592.68 L751.09,1592.76 L752.09,1592.84 L753.09,1592.92 L754.09,1592.99 L755.08,1593.07 L756.08,1593.14 L757.08,1593.21 L758.07,1593.29 L759.07,1593.36 L760.07,1593.43 L761.07,1593.50 L762.06,1593.57 L763.06,1593.63 L764.06,1593.70 L765.06,1593.77 L766.06,1593.84 L767.05,1593.90 L768.05,1593.97 L769.05,1594.03 L770.05,1594.10 L771.04,1594.16 L772.04,1594.23 L773.04,1594.29 L774.04,1594.36 L775.04,1594.42 L776.03,1594.49 L777.03,1594.55 L778.03,1594.61 L779.03,1594.68 L780.03,1594.74 L781.02,1594.81 L782.02,1594.87 L783.02,1594.94 L784.02,1595.01 L785.02,1595.08 L786.01,1595.15 L787.01,1595.22 L788.01,1595.29 L789.01,1595.35 L790.00,1595.42 L791.00,1595.49 L792.00,1595.55 L793.00,1595.62 L793.99,1595.68 L794.99,1595.74 L795.99,1595.79 L796.99,1595.84 L797.99,1595.89 L798.99,1595.93 L799.99,1595.97 L800.99,1596.01 L801.99,1596.04 L802.99,1596.07 L803.99,1596.10 L804.98,1596.12 L805.98,1596.15 L806.98,1596.17 L807.98,1596.20 L808.98,1596.22 L809.98,1596.24 L810.98,1596.26 L811.98,1596.28 L812.98,1596.30 L813.98,1596.32 L814.98,1596.34 L815.98,1596.35 L816.98,1596.37 L817.98,1596.39 L818.98,1596.40 L819.98,1596.42 L820.98,1596.44 L821.98,1596.45 L822.98,1596.46 L823.98,1596.48 L824.98,1596.49 L825.98,1596.51 L826.98,1596.52 L827.98,1596.53 L828.98,1596.54 L829.98,1596.56 L830.98,1596.57 L831.98,1596.58 L832.98,1596.59 L833.98,1596.60 L834.98,1596.61 L835.98,1596.62 L836.98,1596.63 L837.98,1596.64 L838.98,1596.65 L839.98,1596.66 L840.98,1596.67 L841.98,1596.68 L842.98,1596.69 L843.98,1596.70 L844.98,1596.71 L845.98,1596.72 L846.98,1596.73 L847.98,1596.74 L848.98,1596.75 L849.98,1596.76 L850.98,1596.77 L851.98,1596.78 L852.98,1596.79 L853.98,1596.79 L854.98,1596.80 L855.98,1596.81 L856.98,1596.82 L857.98,1596.83 L858.98,1596.83 L859.98,1596.84 L860.98,1596.85 L861.98,1596.86 L862.98,1596.86 L863.98,1596.87 L864.98,1596.88 L865.98,1596.89 L866.98,1596.89 L867.98,1596.90 L868.98,1596.91 L869.98,1596.91 L870.98,1596.92 L871.98,1596.93 L872.98,1596.93 L873.98,1596.94 L874.98,1596.95 L875.98,1596.95 L876.98,1596.96 L877.98,1596.97 L878.98,1596.97 L879.98,1596.98 L880.98,1596.99 L881.98,1596.99 L882.98,1597.00 L883.98,1597.00 L884.98,1597.01 L885.98,1597.02 L886.98,1597.02 L887.98,1597.03 L888.98,1597.03 L889.98,1597.04 L890.98,1597.05 L891.98,1597.05 L892.98,1597.06 L893.98,1597.06 L894.98,1597.07 L895.98,1597.07 L896.98,1597.08 L897.98,1597.09 L898.98,1597.09 L899.98,1597.10 L900.98,1597.10 L901.98,1597.11 L902.98,1597.11 L903.98,1597.12 L904.98,1597.13 L905.98,1597.13 L906.98,1597.14 L907.98,1597.14 L908.98,1597.15 L909.98,1597.16 L910.98,1597.16 L911.98,1597.17 L912.98,1597.17 L913.98,1597.18 L914.98,1597.18 L915.98,1597.19 L916.98,1597.20 L917.98,1597.20 L918.98,1597.21 L919.98,1597.21 L920.98,1597.22 L921.98,1597.22 L922.98,1597.23 L923.98,1597.24 L924.98,1597.24 L925.98,1597.25 L926.98,1597.25 L927.98,1597.26 L928.98,1597.26 L929.98,1597.27 L930.98,1597.28 L931.98,1597.28 L932.98,1597.29 L933.98,1597.29 L934.98,1597.30 L935.98,1597.30 L936.98,1597.31 L937.98,1597.31 L938.98,1597.32 L939.98,1597.32 L940.98,1597.33 L941.98,1597.34 L942.98,1597.34 L943.98,1597.35 L944.98,1597.35 L945.98,1597.36 L946.98,1597.36 L947.98,1597.37 L948.98,1597.37 L949.98,1597.38 L950.98,1597.38 L951.98,1597.39 L952.98,1597.39 L953.98,1597.40 L954.98,1597.40 L955.98,1597.41 L956.98,1597.42 L957.98,1597.42 L958.98,1597.43 L959.98,1597.43 L960.98,1597.44 L961.98,1597.44 L962.98,1597.45 L963.98,1597.45 L964.98,1597.46 L965.98,1597.46 L966.98,1597.47 L967.98,1597.47 L968.98,1597.48 L969.98,1597.48 L970.98,1597.49 L971.98,1597.49 L972.98,1597.49 L973.98,1597.50 L974.98,1597.50 L975.98,1597.51 L976.98,1597.51 L977.98,1597.52 L978.98,1597.52 L979.98,1597.53 L980.98,1597.53 L981.98,1597.54 L982.98,1597.54 L983.98,1597.55 L984.98,1597.55 L985.98,1597.55 L986.98,1597.56 L987.98,1597.56 L988.98,1597.57 L989.98,1597.57 L990.98,1597.58 L991.98,1597.58 L992.98,1597.59 L993.98,1597.59 L994.98,1597.59 L995.98,1597.60 L996.98,1597.60 L997.98,1597.61 L998.98,1597.61 L999.98,1597.61 L1000.98,1597.62 L1001.98,1597.62 L1002.98,1597.63 L1003.98,1597.63 L1004.98,1597.63 L1005.98,1597.64 L1006.98,1597.64 L1007.98,1597.65 L1008.98,1597.65 L1009.98,1597.65 L1010.98,1597.66 L1011.98,1597.66 L1012.98,1597.66 L1013.98,1597.67 L1014.98,1597.67 L1015.98,1597.67 L1016.98,1597.68 L1017.98,1597.68 L1018.98,1597.68 L1019.98,1597.69 L1020.98,1597.69 L1021.98,1597.69 L1022.98,1597.70 L1023.98,1597.70 L1024.98,1597.70 L1025.98,1597.71 L1026.98,1597.71 L1027.98,1597.71 L1028.98,1597.72 L1029.98,1597.72 L1030.98,1597.72 L1031.98,1597.73 L1032.98,1597.73 L1033.98,1597.73 L1034.98,1597.74 L1035.98,1597.74 L1036.98,1597.74 L1037.98,1597.75 L1038.98,1597.75 L1039.98,1597.75 L1040.98,1597.76 L1041.98,1597.76 L1042.98,1597.76 L1043.98,1597.77 L1044.98,1597.77 L1045.98,1597.77 L1046.98,1597.78 L1047.98,1597.78 L1048.98,1597.78 L1049.98,1597.78 L1050.98,1597.79 L1051.98,1597.79 L1052.98,1597.79 L1053.98,1597.80 L1054.98,1597.80 L1055.98,1597.80 L1056.98,1597.81 L1057.98,1597.81 L1058.98,1597.81 L1059.98,1597.81 L1060.98,1597.82 L1061.98,1597.82 L1062.98,1597.82 L1063.98,1597.83 L1064.98,1597.83 L1065.98,1597.83 L1066.98,1597.83 L1067.98,1597.84 L1068.98,1597.84 L1069.98,1597.84 L1070.98,1597.85 L1071.98,1597.85 L1072.98,1597.85 L1073.98,1597.85 L1074.98,1597.86 L1075.98,1597.86 L1076.98,1597.86 L1077.98,1597.86 L1078.98,1597.87 L1079.98,1597.87 L1080.98,1597.87 L1081.98,1597.87 L1082.98,1597.88 L1083.98,1597.88 L1084.98,1597.88 L1085.98,1597.88 L1086.98,1597.89 L1087.98,1597.89 L1088.98,1597.89 L1089.98,1597.89 L1090.98,1597.90 L1091.98,1597.90 L1092.98,1597.90 L1093.98,1597.90 L1094.98,1597.90 L1095.98,1597.91 L1096.98,1597.91 L1097.98,1597.91 L1098.98,1597.91 L1099.98,1597.92 L1100.98,1597.92 L1101.98,1597.92 L1102.98,1597.92 L1103.98,1597.92 L1104.98,1597.93 L1105.98,1597.93 L1106.98,1597.93 L1107.98,1597.93 L1108.98,1597.93 L1109.98,1597.94 L1110.98,1597.94 L1111.98,1597.94 L1112.98,1597.94 L1113.98,1597.94 L1114.98,1597.94 L1115.98,1597.95 L1116.98,1597.95 L1117.98,1597.95 L1118.97,1597.95 L1119.97,1597.95 L1120.94,1597.95 L1121.89,1597.96 L1122.77,1597.96 L1123.56,1597.96 L1124.21,1597.96" fill="none" stroke="#f44" stroke-width="1.2" stroke-opacity="0.6" stroke-linejoin="round" stroke-linecap="round" clip-path="url(#cb)"/>
<path d="M208.04,1255.63 L208.17,1256.19 L208.35,1256.90 L208.55,1257.71 L208.78,1258.60 L209.02,1259.54 L209.27,1260.49 L209.53,1261.45 L209.79,1262.41 L210.07,1263.37 L210.36,1264.33 L210.66,1265.28 L210.97,1266.23 L211.31,1267.17 L211.66,1268.11 L212.03,1269.03 L212.42,1269.95 L212.82,1270.87 L213.24,1271.78 L213.67,1272.68 L214.12,1273.57 L214.59,1274.45 L215.08,1275.32 L215.59,1276.17 L216.14,1276.99 L216.73,1277.78 L217.38,1278.52 L218.07,1279.21 L218.82,1279.84 L219.62,1280.41 L220.46,1280.92 L221.33,1281.39 L222.23,1281.81 L223.15,1282.20 L224.08,1282.55 L225.02,1282.86 L225.98,1283.13 L226.95,1283.37 L227.92,1283.56 L228.90,1283.73 L229.89,1283.85 L230.89,1283.95 L231.88,1284.03 L232.88,1284.09 L233.88,1284.13 L234.88,1284.17 L235.87,1284.21 L236.87,1284.25 L237.87,1284.30 L238.87,1284.36 L239.86,1284.45 L240.84,1284.58 L241.82,1284.75 L242.78,1284.98 L243.72,1285.26 L244.65,1285.61 L245.55,1286.01 L246.44,1286.45 L247.32,1286.92 L248.18,1287.42 L249.03,1287.94 L249.88,1288.47 L250.72,1289.01 L251.56,1289.56 L252.39,1290.12 L253.20,1290.69 L254.01,1291.28 L254.81,1291.88 L255.59,1292.50 L256.36,1293.14 L257.12,1293.79 L257.87,1294.44 L258.62,1295.11 L259.35,1295.80 L260.07,1296.48 L260.78,1297.18 L261.49,1297.89 L262.19,1298.61 L262.88,1299.33 L263.56,1300.06 L264.22,1300.81 L264.88,1301.56 L265.52,1302.33 L266.15,1303.10 L266.77,1303.88 L267.38,1304.68 L267.98,1305.48 L268.57,1306.28 L269.15,1307.10 L269.73,1307.91 L270.30,1308.74 L270.86,1309.56 L271.42,1310.39 L271.97,1311.22 L272.52,1312.06 L273.07,1312.90 L273.61,1313.74 L274.15,1314.58 L274.68,1315.43 L275.21,1316.28 L275.72,1317.14 L276.23,1318.00 L276.73,1318.86 L277.22,1319.73 L277.70,1320.61 L278.18,1321.49 L278.65,1322.37 L279.12,1323.25 L279.59,1324.14 L280.05,1325.02 L280.51,1325.91 L280.97,1326.80 L281.43,1327.69 L281.89,1328.58 L282.35,1329.46 L282.81,1330.35 L283.27,1331.24 L283.74,1332.12 L284.21,1333.00 L284.68,1333.89 L285.16,1334.76 L285.65,1335.64 L286.14,1336.51 L286.64,1337.37 L287.16,1338.23 L287.68,1339.08 L288.21,1339.92 L288.76,1340.76 L289.32,1341.59 L289.90,1342.40 L290.48,1343.21 L291.08,1344.02 L291.69,1344.81 L292.31,1345.59 L292.93,1346.37 L293.57,1347.15 L294.20,1347.91 L294.85,1348.68 L295.49,1349.44 L296.14,1350.21 L296.79,1350.97 L297.43,1351.74 L298.07,1352.51 L298.70,1353.28 L299.32,1354.06 L299.94,1354.85 L300.54,1355.64 L301.14,1356.45 L301.72,1357.26 L302.29,1358.08 L302.84,1358.91 L303.38,1359.75 L303.90,1360.60 L304.41,1361.47 L304.90,1362.34 L305.37,1363.22 L305.83,1364.10 L306.29,1364.99 L306.73,1365.89 L307.17,1366.79 L307.61,1367.68 L308.05,1368.58 L308.50,1369.48 L308.94,1370.37 L309.40,1371.26 L309.86,1372.15 L310.34,1373.03 L310.82,1373.91 L311.30,1374.78 L311.80,1375.65 L312.29,1376.52 L312.79,1377.38 L313.30,1378.24 L313.81,1379.10 L314.33,1379.96 L314.85,1380.81 L315.38,1381.66 L315.92,1382.50 L316.46,1383.34 L317.02,1384.17 L317.58,1385.00 L318.16,1385.81 L318.75,1386.62 L319.35,1387.42 L319.96,1388.21 L320.59,1388.99 L321.22,1389.76 L321.86,1390.53 L322.51,1391.29 L323.16,1392.05 L323.82,1392.80 L324.48,1393.55 L325.14,1394.30 L325.80,1395.05 L326.46,1395.80 L327.13,1396.55 L327.79,1397.30 L328.45,1398.05 L329.11,1398.80 L329.78,1399.54 L330.44,1400.30 L331.09,1401.05 L331.74,1401.81 L332.38,1402.58 L333.00,1403.36 L333.61,1404.16 L334.20,1404.96 L334.77,1405.78 L335.34,1406.60 L335.88,1407.44 L336.42,1408.28 L336.95,1409.13 L337.46,1409.99 L337.96,1410.85 L338.46,1411.72 L338.94,1412.60 L339.42,1413.47 L339.89,1414.36 L340.34,1415.25 L340.79,1416.14 L341.23,1417.04 L341.66,1417.94 L342.08,1418.85 L342.49,1419.76 L342.89,1420.68 L343.29,1421.59 L343.69,1422.51 L344.08,1423.43 L344.48,1424.35 L344.87,1425.27 L345.26,1426.19 L345.65,1427.11 L346.05,1428.03 L346.43,1428.95 L346.82,1429.87 L347.21,1430.79 L347.59,1431.72 L347.97,1432.64 L348.36,1433.56 L348.74,1434.49 L349.13,1435.41 L349.53,1436.33 L349.93,1437.24 L350.35,1438.15 L350.78,1439.05 L351.22,1439.95 L351.67,1440.84 L352.14,1441.72 L352.62,1442.60 L353.11,1443.47 L353.61,1444.33 L354.12,1445.19 L354.64,1446.05 L355.16,1446.90 L355.69,1447.75 L356.22,1448.60 L356.75,1449.45 L357.28,1450.29 L357.82,1451.14 L358.36,1451.98 L358.90,1452.82 L359.45,1453.66 L360.00,1454.49 L360.55,1455.32 L361.11,1456.15 L361.67,1456.98 L362.24,1457.81 L362.81,1458.63 L363.38,1459.44 L363.97,1460.26 L364.55,1461.07 L365.14,1461.87 L365.74,1462.67 L366.34,1463.47 L366.95,1464.27 L367.56,1465.06 L368.17,1465.85 L368.78,1466.64 L369.39,1467.44 L370.00,1468.23 L370.61,1469.02 L371.21,1469.82 L371.81,1470.62 L372.40,1471.43 L373.00,1472.23 L373.59,1473.04 L374.18,1473.85 L374.76,1474.66 L375.35,1475.47 L375.93,1476.28 L376.51,1477.10 L377.09,1477.91 L377.67,1478.73 L378.24,1479.54 L378.82,1480.36 L379.39,1481.18 L379.96,1482.00 L380.54,1482.82 L381.11,1483.64 L381.68,1484.46 L382.26,1485.28 L382.83,1486.10 L383.40,1486.92 L383.97,1487.74 L384.54,1488.56 L385.11,1489.38 L385.68,1490.21 L386.23,1491.04 L386.79,1491.87 L387.34,1492.71 L387.87,1493.55 L388.41,1494.40 L388.93,1495.25 L389.43,1496.11 L389.93,1496.98 L390.41,1497.85 L390.87,1498.74 L391.33,1499.63 L391.77,1500.52 L392.21,1501.42 L392.64,1502.32 L393.08,1503.22 L393.52,1504.12 L393.96,1505.02 L394.43,1505.90 L394.91,1506.77 L395.41,1507.63 L395.94,1508.48 L396.50,1509.30 L397.09,1510.10 L397.71,1510.89 L398.34,1511.65 L399.00,1512.40 L399.68,1513.14 L400.37,1513.86 L401.08,1514.57 L401.80,1515.26 L402.53,1515.94 L403.27,1516.60 L404.03,1517.26 L404.80,1517.90 L405.57,1518.53 L406.35,1519.15 L407.14,1519.76 L407.94,1520.37 L408.74,1520.97 L409.54,1521.57 L410.35,1522.16 L411.15,1522.75 L411.96,1523.34 L412.77,1523.93 L413.58,1524.51 L414.39,1525.09 L415.21,1525.67 L416.03,1526.24 L416.86,1526.81 L417.69,1527.36 L418.52,1527.91 L419.36,1528.45 L420.21,1528.98 L421.07,1529.50 L421.93,1530.00 L422.80,1530.49 L423.68,1530.96 L424.57,1531.42 L425.47,1531.86 L426.37,1532.27 L427.29,1532.67 L428.21,1533.05 L429.14,1533.41 L430.08,1533.76 L431.03,1534.09 L431.97,1534.40 L432.93,1534.71 L433.88,1535.00 L434.84,1535.29 L435.80,1535.57 L436.76,1535.85 L437.72,1536.12 L438.68,1536.40 L439.64,1536.68 L440.60,1536.96 L441.56,1537.24 L442.52,1537.53 L443.47,1537.83 L444.42,1538.14 L445.37,1538.46 L446.32,1538.78 L447.26,1539.10 L448.20,1539.44 L449.15,1539.77 L450.09,1540.11 L451.03,1540.46 L451.97,1540.80 L452.91,1541.14 L453.85,1541.48 L454.79,1541.82 L455.73,1542.15 L456.67,1542.49 L457.62,1542.81 L458.57,1543.13 L459.52,1543.44 L460.47,1543.75 L461.42,1544.04 L462.38,1544.34 L463.34,1544.62 L464.30,1544.90 L465.26,1545.18 L466.22,1545.45 L467.18,1545.72 L468.15,1545.98 L469.11,1546.25 L470.08,1546.50 L471.05,1546.75 L472.02,1547.00 L472.99,1547.24 L473.96,1547.47 L474.93,1547.70 L475.91,1547.92 L476.88,1548.13 L477.86,1548.34 L478.84,1548.53 L479.82,1548.73 L480.81,1548.91 L481.79,1549.09 L482.77,1549.27 L483.76,1549.45 L484.74,1549.62 L485.73,1549.79 L486.72,1549.95 L487.70,1550.11 L488.69,1550.26 L489.68,1550.41 L490.67,1550.55 L491.66,1550.68 L492.65,1550.80 L493.65,1550.92 L494.64,1551.02 L495.64,1551.11 L496.63,1551.19 L497.63,1551.26 L498.63,1551.32 L499.63,1551.37 L500.63,1551.42 L501.62,1551.46 L502.62,1551.50 L503.62,1551.54 L504.62,1551.57 L505.62,1551.60 L506.62,1551.63 L507.62,1551.66 L508.62,1551.69 L509.62,1551.72 L510.62,1551.75 L511.62,1551.77 L512.62,1551.80 L513.62,1551.83 L514.62,1551.86 L515.62,1551.89 L516.62,1551.92 L517.62,1551.94 L518.62,1551.97 L519.62,1552.00 L520.62,1552.03 L521.62,1552.05 L522.62,1552.08 L523.61,1552.10 L524.61,1552.12 L525.61,1552.15 L526.61,1552.17 L527.61,1552.20 L528.61,1552.22 L529.61,1552.25 L530.61,1552.27 L531.61,1552.30 L532.61,1552.33 L533.61,1552.36 L534.61,1552.39 L535.61,1552.43 L536.61,1552.46 L537.61,1552.50 L538.61,1552.54 L539.61,1552.58 L540.61,1552.63 L541.60,1552.68 L542.60,1552.74 L543.60,1552.80 L544.60,1552.88 L545.59,1552.96 L546.59,1553.06 L547.58,1553.16 L548.58,1553.27 L549.57,1553.39 L550.56,1553.52 L551.55,1553.66 L552.54,1553.80 L553.53,1553.94 L554.52,1554.09 L555.51,1554.24 L556.50,1554.39 L557.48,1554.55 L558.47,1554.70 L559.46,1554.86 L560.45,1555.02 L561.43,1555.18 L562.42,1555.34 L563.41,1555.50 L564.39,1555.67 L565.38,1555.85 L566.36,1556.03 L567.35,1556.21 L568.33,1556.39 L569.31,1556.58 L570.29,1556.77 L571.27,1556.96 L572.25,1557.16 L573.23,1557.35 L574.21,1557.55 L575.19,1557.75 L576.17,1557.95 L577.15,1558.15 L578.13,1558.35 L579.11,1558.56 L580.09,1558.76 L581.07,1558.97 L582.05,1559.18 L583.02,1559.39 L584.00,1559.61 L584.98,1559.83 L585.95,1560.04 L586.93,1560.26 L587.90,1560.48 L588.88,1560.70 L589.85,1560.93 L590.83,1561.15 L591.80,1561.37 L592.78,1561.59 L593.75,1561.82 L594.73,1562.04 L595.70,1562.26 L596.68,1562.48 L597.65,1562.70 L598.63,1562.92 L599.61,1563.14 L600.58,1563.36 L601.56,1563.58 L602.53,1563.81 L603.50,1564.04 L604.48,1564.27 L605.45,1564.51 L606.42,1564.75 L607.39,1565.00 L608.35,1565.25 L609.32,1565.51 L610.29,1565.77 L611.25,1566.03 L612.21,1566.30 L613.17,1566.57 L614.14,1566.85 L615.10,1567.13 L616.06,1567.41 L617.02,1567.69 L617.98,1567.97 L618.94,1568.25 L619.90,1568.53 L620.86,1568.81 L621.81,1569.09 L622.77,1569.37 L623.74,1569.65 L624.70,1569.93 L625.66,1570.21 L626.62,1570.49 L627.58,1570.76 L628.54,1571.04 L629.50,1571.32 L630.46,1571.60 L631.42,1571.87 L632.38,1572.15 L633.34,1572.43 L634.30,1572.71 L635.26,1572.99 L636.22,1573.26 L637.18,1573.54 L638.15,1573.82 L639.11,1574.09 L640.07,1574.36 L641.03,1574.63 L642.00,1574.90 L642.96,1575.17 L643.92,1575.43 L644.89,1575.69 L645.85,1575.95 L646.82,1576.22 L647.79,1576.47 L648.75,1576.73 L649.72,1576.99 L650.68,1577.25 L651.65,1577.50 L652.62,1577.76 L653.59,1578.01 L654.55,1578.26 L655.52,1578.51 L656.49,1578.76 L657.46,1579.00 L658.43,1579.24 L659.40,1579.48 L660.38,1579.71 L661.35,1579.94 L662.32,1580.16 L663.30,1580.39 L664.27,1580.60 L665.25,1580.82 L666.23,1581.02 L667.21,1581.23 L668.19,1581.43 L669.17,1581.63 L670.15,1581.83 L671.13,1582.02 L672.11,1582.21 L673.09,1582.40 L674.07,1582.59 L675.06,1582.77 L676.04,1582.96 L677.02,1583.14 L678.01,1583.32 L678.99,1583.49 L679.98,1583.67 L680.96,1583.84 L681.95,1584.02 L682.93,1584.19 L683.92,1584.36 L684.90,1584.53 L685.89,1584.69 L686.87,1584.86 L687.86,1585.03 L688.85,1585.19 L689.83,1585.35 L690.82,1585.51 L691.81,1585.67 L692.80,1585.83 L693.78,1585.99 L694.77,1586.14 L695.76,1586.30 L696.75,1586.45 L697.74,1586.60 L698.73,1586.74 L699.71,1586.89 L700.70,1587.03 L701.69,1587.17 L702.68,1587.31 L703.67,1587.45 L704.67,1587.59 L705.66,1587.72 L706.65,1587.86 L707.64,1587.99 L708.63,1588.13 L709.62,1588.26 L710.61,1588.39 L711.60,1588.52 L712.59,1588.65 L713.59,1588.78 L714.58,1588.91 L715.57,1589.04 L716.56,1589.17 L717.55,1589.30 L718.54,1589.42 L719.54,1589.55 L720.53,1589.67 L721.52,1589.79 L722.51,1589.91 L723.51,1590.03 L724.50,1590.15 L725.49,1590.27 L726.49,1590.39 L727.48,1590.50 L728.47,1590.61 L729.47,1590.73 L730.46,1590.84 L731.45,1590.95 L732.45,1591.05 L733.44,1591.16 L734.44,1591.26 L735.43,1591.37 L736.43,1591.47 L737.42,1591.57 L738.42,1591.66 L739.41,1591.76 L740.41,1591.85 L741.40,1591.95 L742.40,1592.04 L743.40,1592.12 L744.39,1592.21 L745.39,1592.30 L746.39,1592.38 L747.38,1592.46 L748.38,1592.55 L749.38,1592.63 L750.37,1592.71 L751.37,1592.78 L752.37,1592.86 L753.36,1592.94 L754.36,1593.01 L755.36,1593.09 L756.36,1593.16 L757.35,1593.23 L758.35,1593.31 L759.35,1593.38 L760.34,1593.45 L761.34,1593.52 L762.34,1593.58 L763.34,1593.65 L764.34,1593.72 L765.33,1593.79 L766.33,1593.85 L767.33,1593.92 L768.33,1593.99 L769.32,1594.05 L770.32,1594.12 L771.32,1594.18 L772.32,1594.25 L773.32,1594.31 L774.31,1594.38 L775.31,1594.44 L776.31,1594.50 L777.31,1594.57 L778.31,1594.63 L779.30,1594.70 L780.30,1594.76 L781.30,1594.83 L782.30,1594.89 L783.29,1594.96 L784.29,1595.03 L785.29,1595.10 L786.29,1595.17 L787.29,1595.24 L788.28,1595.30 L789.28,1595.37 L790.28,1595.44 L791.28,1595.51 L792.27,1595.57 L793.27,1595.63 L794.27,1595.69 L795.27,1595.75 L796.27,1595.81 L797.27,1595.86 L798.26,1595.90 L799.26,1595.94 L800.26,1595.98 L801.26,1596.02 L802.26,1596.05 L803.26,1596.08 L804.26,1596.11 L805.26,1596.13 L806.26,1596.16 L807.26,1596.18 L808.26,1596.20 L809.26,1596.22 L810.26,1596.24 L811.26,1596.27 L812.26,1596.29 L813.26,1596.30 L814.26,1596.32 L815.26,1596.34 L816.26,1596.36 L817.26,1596.38 L818.26,1596.39 L819.26,1596.41 L820.26,1596.42 L821.26,1596.44 L822.26,1596.45 L823.26,1596.47 L824.26,1596.48 L825.26,1596.50 L826.26,1596.51 L827.26,1596.52 L828.26,1596.53 L829.26,1596.55 L830.26,1596.56 L831.26,1596.57 L832.26,1596.58 L833.26,1596.59 L834.26,1596.60 L835.26,1596.62 L836.26,1596.63 L837.26,1596.64 L838.26,1596.65 L839.26,1596.66 L840.26,1596.67 L841.26,1596.68 L842.26,1596.69 L843.26,1596.70 L844.26,1596.71 L845.26,1596.72 L846.26,1596.73 L847.26,1596.73 L848.26,1596.74 L849.26,1596.75 L850.26,1596.76 L851.26,1596.77 L852.26,1596.78 L853.26,1596.79 L854.26,1596.80 L855.26,1596.80 L856.26,1596.81 L857.26,1596.82 L858.26,1596.83 L859.26,1596.84 L860.26,1596.84 L861.26,1596.85 L862.26,1596.86 L863.26,1596.87 L864.26,1596.87 L865.26,1596.88 L866.26,1596.89 L867.26,1596.90 L868.26,1596.90 L869.26,1596.91 L870.26,1596.92 L871.26,1596.92 L872.26,1596.93 L873.26,1596.94 L874.26,1596.94 L875.25,1596.95 L876.25,1596.96 L877.25,1596.96 L878.25,1596.97 L879.25,1596.98 L880.25,1596.98 L881.25,1596.99 L882.25,1596.99 L883.25,1597.00 L884.25,1597.01 L885.25,1597.01 L886.25,1597.02 L887.25,1597.02 L888.25,1597.03 L889.25,1597.04 L890.25,1597.04 L891.25,1597.05 L892.25,1597.05 L893.25,1597.06 L894.25,1597.06 L895.25,1597.07 L896.25,1597.08 L897.25,1597.08 L898.25,1597.09 L899.25,1597.09 L900.25,1597.10 L901.25,1597.10 L902.25,1597.11 L903.25,1597.12 L904.25,1597.12 L905.25,1597.13 L906.25,1597.13 L907.25,1597.14 L908.25,1597.15 L909.25,1597.15 L910.25,1597.16 L911.25,1597.16 L912.25,1597.17 L913.25,1597.17 L914.25,1597.18 L915.25,1597.19 L916.25,1597.19 L917.25,1597.20 L918.25,1597.20 L919.25,1597.21 L920.25,1597.21 L921.25,1597.22 L922.25,1597.23 L923.25,1597.23 L924.25,1597.24 L925.25,1597.24 L926.25,1597.25 L927.25,1597.25 L928.25,1597.26 L929.25,1597.27 L930.25,1597.27 L931.25,1597.28 L932.25,1597.28 L933.25,1597.29 L934.25,1597.29 L935.25,1597.30 L936.25,1597.30 L937.25,1597.31 L938.25,1597.32 L939.25,1597.32 L940.25,1597.33 L941.25,1597.33 L942.25,1597.34 L943.25,1597.34 L944.25,1597.35 L945.25,1597.35 L946.25,1597.36 L947.25,1597.36 L948.25,1597.37 L949.25,1597.37 L950.25,1597.38 L951.25,1597.39 L952.25,1597.39 L953.25,1597.40 L954.25,1597.40 L955.25,1597.41 L956.25,1597.41 L957.25,1597.42 L958.25,1597.42 L959.25,1597.43 L960.25,1597.43 L961.25,1597.44 L962.25,1597.44 L963.25,1597.45 L964.25,1597.45 L965.25,1597.46 L966.25,1597.46 L967.25,1597.47 L968.25,1597.47 L969.25,1597.48 L970.25,1597.48 L971.25,1597.49 L972.25,1597.49 L973.25,1597.50 L974.25,1597.50 L975.25,1597.51 L976.25,1597.51 L977.25,1597.52 L978.25,1597.52 L979.25,1597.52 L980.25,1597.53 L981.25,1597.53 L982.25,1597.54 L983.25,1597.54 L984.25,1597.55 L985.25,1597.55 L986.25,1597.56 L987.25,1597.56 L988.25,1597.56 L989.25,1597.57 L990.25,1597.57 L991.25,1597.58 L992.25,1597.58 L993.25,1597.59 L994.25,1597.59 L995.25,1597.59 L996.25,1597.60 L997.25,1597.60 L998.25,1597.61 L999.25,1597.61 L1000.25,1597.62 L1001.25,1597.62 L1002.25,1597.62 L1003.25,1597.63 L1004.25,1597.63 L1005.25,1597.63 L1006.25,1597.64 L1007.25,1597.64 L1008.25,1597.65 L1009.25,1597.65 L1010.25,1597.65 L1011.25,1597.66 L1012.25,1597.66 L1013.25,1597.66 L1014.25,1597.67 L1015.25,1597.67 L1016.25,1597.68 L1017.25,1597.68 L1018.25,1597.68 L1019.25,1597.69 L1020.25,1597.69 L1021.25,1597.69 L1022.25,1597.70 L1023.25,1597.70 L1024.25,1597.70 L1025.25,1597.71 L1026.25,1597.71 L1027.25,1597.71 L1028.25,1597.72 L1029.25,1597.72 L1030.25,1597.72 L1031.25,1597.73 L1032.25,1597.73 L1033.25,1597.73 L1034.25,1597.74 L1035.25,1597.74 L1036.25,1597.74 L1037.25,1597.74 L1038.25,1597.75 L1039.25,1597.75 L1040.25,1597.75 L1041.25,1597.76 L1042.25,1597.76 L1043.25,1597.76 L1044.25,1597.77 L1045.25,1597.77 L1046.25,1597.77 L1047.25,1597.78 L1048.25,1597.78 L1049.25,1597.78 L1050.25,1597.79 L1051.25,1597.79 L1052.25,1597.79 L1053.25,1597.79 L1054.25,1597.80 L1055.25,1597.80 L1056.25,1597.80 L1057.25,1597.81 L1058.25,1597.81 L1059.25,1597.81 L1060.25,1597.82 L1061.25,1597.82 L1062.25,1597.82 L1063.25,1597.82 L1064.25,1597.83 L1065.25,1597.83 L1066.25,1597.83 L1067.25,1597.83 L1068.25,1597.84 L1069.25,1597.84 L1070.25,1597.84 L1071.25,1597.85 L1072.25,1597.85 L1073.25,1597.85 L1074.25,1597.85 L1075.25,1597.86 L1076.25,1597.86 L1077.25,1597.86 L1078.25,1597.86 L1079.25,1597.87 L1080.25,1597.87 L1081.25,1597.87 L1082.25,1597.87 L1083.25,1597.88 L1084.25,1597.88 L1085.25,1597.88 L1086.25,1597.88 L1087.25,1597.89 L1088.25,1597.89 L1089.25,1597.89 L1090.25,1597.89 L1091.25,1597.90 L1092.25,1597.90 L1093.25,1597.90 L1094.25,1597.90 L1095.25,1597.91 L1096.25,1597.91 L1097.25,1597.91 L1098.25,1597.91 L1099.25,1597.91 L1100.25,1597.92 L1101.25,1597.92 L1102.25,1597.92 L1103.25,1597.92 L1104.25,1597.92 L1105.25,1597.93 L1106.25,1597.93 L1107.25,1597.93 L1108.25,1597.93 L1109.25,1597.93 L1110.25,1597.94 L1111.25,1597.94 L1112.25,1597.94 L1113.25,1597.94 L1114.25,1597.94 L1115.25,1597.95 L1116.25,1597.95 L1117.25,1597.95 L1118.25,1597.95 L1119.25,1597.95 L1120.24,1597.95 L1121.22,1597.96 L1122.16,1597.96 L1123.05,1597.96 L1123.83,1597.96 L1124.49,1597.96" fill="none" stroke="#f44" stroke-width="1.2" stroke-opacity="0.7" stroke-linejoin="round" stroke-linecap="round" clip-path="url(#cb)"/>
<path d="M208.04,1255.00 L208.18,1255.56 L208.36,1256.26 L208.57,1257.08 L208.79,1257.97 L209.04,1258.90 L209.29,1259.85 L209.56,1260.81 L209.83,1261.77 L210.12,1262.73 L210.41,1263.68 L210.72,1264.63 L211.06,1265.57 L211.41,1266.51 L211.78,1267.44 L212.17,1268.36 L212.57,1269.27 L213.00,1270.17 L213.44,1271.07 L213.89,1271.96 L214.37,1272.84 L214.86,1273.70 L215.39,1274.54 L215.96,1275.34 L216.57,1276.10 L217.24,1276.80 L217.97,1277.43 L218.77,1277.97 L219.62,1278.43 L220.51,1278.81 L221.44,1279.14 L222.39,1279.42 L223.36,1279.66 L224.33,1279.86 L225.31,1280.03 L226.30,1280.17 L227.29,1280.28 L228.28,1280.36 L229.28,1280.41 L230.28,1280.43 L231.28,1280.42 L232.27,1280.39 L233.27,1280.34 L234.27,1280.28 L235.26,1280.21 L236.26,1280.13 L237.26,1280.07 L238.25,1280.01 L239.25,1279.99 L240.24,1280.00 L241.22,1280.08 L242.19,1280.21 L243.14,1280.43 L244.08,1280.72 L244.99,1281.08 L245.88,1281.51 L246.75,1281.98 L247.60,1282.49 L248.44,1283.03 L249.28,1283.58 L250.10,1284.15 L250.91,1284.72 L251.72,1285.31 L252.51,1285.92 L253.30,1286.54 L254.06,1287.18 L254.81,1287.84 L255.55,1288.51 L256.27,1289.20 L256.98,1289.90 L257.68,1290.62 L258.37,1291.34 L259.05,1292.07 L259.73,1292.81 L260.39,1293.56 L261.05,1294.31 L261.70,1295.07 L262.34,1295.83 L262.98,1296.60 L263.61,1297.38 L264.23,1298.16 L264.84,1298.95 L265.45,1299.75 L266.04,1300.56 L266.62,1301.37 L267.19,1302.19 L267.75,1303.02 L268.30,1303.85 L268.85,1304.69 L269.39,1305.53 L269.93,1306.37 L270.46,1307.22 L270.99,1308.07 L271.51,1308.92 L272.04,1309.77 L272.55,1310.63 L273.07,1311.48 L273.58,1312.34 L274.09,1313.20 L274.60,1314.06 L275.10,1314.93 L275.59,1315.80 L276.08,1316.67 L276.56,1317.55 L277.04,1318.43 L277.50,1319.31 L277.97,1320.20 L278.42,1321.09 L278.88,1321.98 L279.33,1322.87 L279.78,1323.76 L280.23,1324.66 L280.67,1325.55 L281.12,1326.45 L281.57,1327.34 L282.01,1328.24 L282.46,1329.13 L282.91,1330.03 L283.36,1330.92 L283.82,1331.81 L284.28,1332.69 L284.75,1333.58 L285.22,1334.46 L285.69,1335.34 L286.18,1336.21 L286.67,1337.08 L287.18,1337.95 L287.69,1338.80 L288.22,1339.65 L288.76,1340.49 L289.31,1341.33 L289.87,1342.15 L290.45,1342.97 L291.04,1343.77 L291.64,1344.57 L292.25,1345.36 L292.87,1346.15 L293.50,1346.93 L294.13,1347.70 L294.77,1348.47 L295.41,1349.24 L296.06,1350.00 L296.70,1350.77 L297.34,1351.54 L297.97,1352.31 L298.60,1353.09 L299.23,1353.87 L299.84,1354.66 L300.44,1355.45 L301.04,1356.26 L301.62,1357.07 L302.19,1357.89 L302.74,1358.72 L303.28,1359.56 L303.80,1360.41 L304.31,1361.27 L304.80,1362.14 L305.28,1363.02 L305.74,1363.91 L306.19,1364.80 L306.64,1365.69 L307.08,1366.59 L307.52,1367.49 L307.96,1368.39 L308.40,1369.28 L308.85,1370.18 L309.30,1371.07 L309.77,1371.95 L310.24,1372.84 L310.72,1373.71 L311.20,1374.59 L311.69,1375.46 L312.19,1376.33 L312.69,1377.19 L313.19,1378.06 L313.70,1378.92 L314.22,1379.77 L314.74,1380.63 L315.27,1381.48 L315.80,1382.32 L316.35,1383.16 L316.90,1383.99 L317.46,1384.82 L318.04,1385.64 L318.62,1386.44 L319.22,1387.24 L319.83,1388.04 L320.45,1388.82 L321.08,1389.59 L321.72,1390.36 L322.37,1391.12 L323.02,1391.88 L323.68,1392.64 L324.34,1393.39 L325.00,1394.14 L325.66,1394.89 L326.32,1395.64 L326.98,1396.39 L327.64,1397.14 L328.31,1397.89 L328.97,1398.64 L329.63,1399.38 L330.30,1400.13 L330.95,1400.89 L331.60,1401.65 L332.24,1402.42 L332.87,1403.19 L333.48,1403.98 L334.07,1404.79 L334.65,1405.60 L335.22,1406.42 L335.77,1407.26 L336.31,1408.10 L336.83,1408.95 L337.35,1409.80 L337.85,1410.67 L338.35,1411.53 L338.84,1412.41 L339.32,1413.28 L339.79,1414.17 L340.25,1415.06 L340.70,1415.95 L341.14,1416.85 L341.56,1417.75 L341.99,1418.66 L342.40,1419.57 L342.80,1420.48 L343.21,1421.40 L343.60,1422.31 L344.00,1423.23 L344.39,1424.15 L344.78,1425.07 L345.18,1425.99 L345.57,1426.91 L345.96,1427.83 L346.35,1428.75 L346.74,1429.67 L347.13,1430.59 L347.51,1431.52 L347.89,1432.44 L348.28,1433.37 L348.66,1434.29 L349.05,1435.21 L349.44,1436.13 L349.85,1437.04 L350.26,1437.95 L350.68,1438.86 L351.12,1439.76 L351.57,1440.65 L352.04,1441.53 L352.51,1442.41 L353.00,1443.28 L353.50,1444.15 L354.01,1445.01 L354.53,1445.86 L355.05,1446.72 L355.57,1447.57 L356.10,1448.42 L356.63,1449.27 L357.17,1450.11 L357.70,1450.96 L358.24,1451.80 L358.78,1452.64 L359.33,1453.48 L359.88,1454.31 L360.43,1455.15 L360.99,1455.98 L361.55,1456.80 L362.11,1457.63 L362.68,1458.45 L363.26,1459.27 L363.84,1460.08 L364.43,1460.89 L365.02,1461.70 L365.61,1462.50 L366.22,1463.30 L366.82,1464.09 L367.43,1464.89 L368.04,1465.68 L368.65,1466.47 L369.26,1467.26 L369.87,1468.06 L370.48,1468.85 L371.08,1469.65 L371.68,1470.45 L372.28,1471.25 L372.87,1472.05 L373.46,1472.86 L374.05,1473.67 L374.64,1474.48 L375.22,1475.29 L375.81,1476.10 L376.39,1476.92 L376.97,1477.73 L377.55,1478.55 L378.13,1479.36 L378.70,1480.18 L379.28,1481.00 L379.85,1481.82 L380.43,1482.63 L381.00,1483.45 L381.58,1484.27 L382.15,1485.09 L382.73,1485.91 L383.30,1486.73 L383.88,1487.54 L384.45,1488.36 L385.02,1489.18 L385.59,1490.01 L386.15,1490.83 L386.71,1491.66 L387.26,1492.50 L387.80,1493.34 L388.34,1494.18 L388.86,1495.03 L389.38,1495.89 L389.87,1496.75 L390.36,1497.63 L390.83,1498.51 L391.29,1499.40 L391.74,1500.29 L392.18,1501.19 L392.61,1502.09 L393.05,1502.99 L393.50,1503.88 L393.95,1504.77 L394.42,1505.65 L394.90,1506.52 L395.42,1507.38 L395.96,1508.21 L396.53,1509.03 L397.14,1509.82 L397.77,1510.59 L398.43,1511.33 L399.11,1512.06 L399.81,1512.78 L400.52,1513.48 L401.25,1514.16 L401.99,1514.82 L402.75,1515.48 L403.52,1516.11 L404.30,1516.74 L405.09,1517.35 L405.89,1517.95 L406.69,1518.54 L407.50,1519.13 L408.32,1519.71 L409.14,1520.28 L409.96,1520.85 L410.78,1521.42 L411.60,1521.99 L412.43,1522.56 L413.25,1523.12 L414.08,1523.68 L414.91,1524.23 L415.75,1524.78 L416.59,1525.32 L417.43,1525.86 L418.28,1526.39 L419.14,1526.91 L419.99,1527.42 L420.86,1527.92 L421.73,1528.42 L422.60,1528.90 L423.48,1529.37 L424.37,1529.83 L425.27,1530.28 L426.17,1530.71 L427.07,1531.13 L427.99,1531.54 L428.90,1531.93 L429.83,1532.32 L430.76,1532.69 L431.69,1533.05 L432.62,1533.40 L433.56,1533.74 L434.51,1534.07 L435.45,1534.40 L436.39,1534.73 L437.34,1535.05 L438.29,1535.37 L439.23,1535.70 L440.18,1536.02 L441.13,1536.35 L442.07,1536.68 L443.01,1537.01 L443.95,1537.36 L444.89,1537.70 L445.82,1538.06 L446.76,1538.41 L447.69,1538.78 L448.62,1539.14 L449.55,1539.51 L450.48,1539.88 L451.41,1540.25 L452.34,1540.62 L453.27,1540.99 L454.20,1541.36 L455.13,1541.72 L456.06,1542.08 L457.00,1542.43 L457.94,1542.77 L458.88,1543.11 L459.82,1543.43 L460.77,1543.75 L461.72,1544.06 L462.68,1544.36 L463.63,1544.65 L464.59,1544.94 L465.55,1545.23 L466.51,1545.50 L467.47,1545.78 L468.43,1546.04 L469.40,1546.31 L470.36,1546.57 L471.33,1546.82 L472.30,1547.07 L473.27,1547.30 L474.24,1547.54 L475.22,1547.76 L476.19,1547.98 L477.17,1548.19 L478.15,1548.39 L479.13,1548.59 L480.11,1548.78 L481.10,1548.96 L482.08,1549.14 L483.06,1549.32 L484.05,1549.50 L485.03,1549.67 L486.02,1549.84 L487.00,1550.00 L487.99,1550.16 L488.98,1550.31 L489.97,1550.45 L490.96,1550.59 L491.95,1550.72 L492.94,1550.84 L493.94,1550.95 L494.93,1551.05 L495.93,1551.13 L496.92,1551.21 L497.92,1551.28 L498.92,1551.34 L499.92,1551.39 L500.92,1551.43 L501.92,1551.48 L502.92,1551.51 L503.92,1551.55 L504.91,1551.58 L505.91,1551.61 L506.91,1551.64 L507.91,1551.67 L508.91,1551.70 L509.91,1551.73 L510.91,1551.75 L511.91,1551.78 L512.91,1551.81 L513.91,1551.84 L514.91,1551.87 L515.91,1551.90 L516.91,1551.92 L517.91,1551.95 L518.91,1551.98 L519.91,1552.01 L520.91,1552.03 L521.91,1552.06 L522.91,1552.08 L523.91,1552.11 L524.91,1552.13 L525.91,1552.16 L526.91,1552.18 L527.91,1552.20 L528.91,1552.23 L529.91,1552.26 L530.91,1552.28 L531.90,1552.31 L532.90,1552.34 L533.90,1552.37 L534.90,1552.40 L535.90,1552.44 L536.90,1552.47 L537.90,1552.51 L538.90,1552.55 L539.90,1552.60 L540.90,1552.64 L541.90,1552.70 L542.89,1552.76 L543.89,1552.83 L544.89,1552.90 L545.88,1552.99 L546.88,1553.09 L547.87,1553.19 L548.87,1553.31 L549.86,1553.43 L550.85,1553.56 L551.84,1553.70 L552.83,1553.84 L553.82,1553.99 L554.81,1554.13 L555.80,1554.29 L556.79,1554.44 L557.77,1554.59 L558.76,1554.75 L559.75,1554.90 L560.74,1555.06 L561.72,1555.22 L562.71,1555.39 L563.70,1555.55 L564.68,1555.72 L565.67,1555.90 L566.65,1556.08 L567.63,1556.26 L568.62,1556.45 L569.60,1556.63 L570.58,1556.83 L571.56,1557.02 L572.54,1557.21 L573.52,1557.41 L574.50,1557.61 L575.48,1557.81 L576.46,1558.01 L577.44,1558.21 L578.42,1558.41 L579.40,1558.62 L580.38,1558.82 L581.35,1559.03 L582.33,1559.24 L583.31,1559.46 L584.29,1559.67 L585.26,1559.89 L586.24,1560.11 L587.21,1560.33 L588.19,1560.55 L589.16,1560.77 L590.14,1560.99 L591.11,1561.21 L592.09,1561.44 L593.06,1561.66 L594.04,1561.88 L595.01,1562.10 L595.99,1562.32 L596.96,1562.54 L597.94,1562.76 L598.92,1562.98 L599.89,1563.20 L600.87,1563.42 L601.84,1563.65 L602.82,1563.87 L603.79,1564.10 L604.76,1564.34 L605.73,1564.58 L606.70,1564.82 L607.67,1565.07 L608.64,1565.32 L609.60,1565.58 L610.57,1565.84 L611.53,1566.11 L612.49,1566.38 L613.46,1566.65 L614.42,1566.93 L615.38,1567.21 L616.34,1567.49 L617.30,1567.77 L618.26,1568.05 L619.22,1568.33 L620.18,1568.61 L621.14,1568.89 L622.10,1569.18 L623.06,1569.46 L624.02,1569.73 L624.98,1570.01 L625.94,1570.29 L626.90,1570.57 L627.86,1570.84 L628.82,1571.12 L629.78,1571.40 L630.74,1571.68 L631.70,1571.96 L632.66,1572.23 L633.62,1572.51 L634.58,1572.79 L635.54,1573.07 L636.50,1573.35 L637.47,1573.62 L638.43,1573.90 L639.39,1574.17 L640.35,1574.44 L641.31,1574.71 L642.28,1574.98 L643.24,1575.24 L644.21,1575.51 L645.17,1575.77 L646.14,1576.03 L647.10,1576.29 L648.07,1576.55 L649.03,1576.81 L650.00,1577.07 L650.97,1577.32 L651.93,1577.58 L652.90,1577.83 L653.87,1578.09 L654.84,1578.34 L655.81,1578.58 L656.77,1578.83 L657.75,1579.07 L658.72,1579.31 L659.69,1579.55 L660.66,1579.78 L661.63,1580.01 L662.61,1580.23 L663.58,1580.45 L664.56,1580.67 L665.54,1580.88 L666.52,1581.09 L667.49,1581.29 L668.47,1581.49 L669.45,1581.69 L670.43,1581.89 L671.42,1582.08 L672.40,1582.27 L673.38,1582.46 L674.36,1582.64 L675.35,1582.83 L676.33,1583.01 L677.31,1583.19 L678.30,1583.37 L679.28,1583.55 L680.26,1583.72 L681.25,1583.89 L682.23,1584.07 L683.22,1584.24 L684.21,1584.41 L685.19,1584.58 L686.18,1584.74 L687.16,1584.91 L688.15,1585.07 L689.14,1585.24 L690.12,1585.40 L691.11,1585.56 L692.10,1585.72 L693.08,1585.88 L694.07,1586.03 L695.06,1586.19 L696.05,1586.34 L697.04,1586.49 L698.03,1586.64 L699.01,1586.79 L700.00,1586.93 L700.99,1587.07 L701.98,1587.22 L702.97,1587.35 L703.96,1587.49 L704.96,1587.63 L705.95,1587.76 L706.94,1587.90 L707.93,1588.03 L708.92,1588.17 L709.91,1588.30 L710.90,1588.43 L711.89,1588.56 L712.88,1588.69 L713.88,1588.82 L714.87,1588.95 L715.86,1589.08 L716.85,1589.21 L717.84,1589.33 L718.84,1589.46 L719.83,1589.58 L720.82,1589.70 L721.81,1589.83 L722.81,1589.95 L723.80,1590.07 L724.79,1590.19 L725.78,1590.30 L726.78,1590.42 L727.77,1590.53 L728.76,1590.65 L729.76,1590.76 L730.75,1590.87 L731.75,1590.98 L732.74,1591.08 L733.73,1591.19 L734.73,1591.29 L735.72,1591.40 L736.72,1591.50 L737.71,1591.60 L738.71,1591.69 L739.70,1591.79 L740.70,1591.88 L741.70,1591.97 L742.69,1592.06 L743.69,1592.15 L744.68,1592.24 L745.68,1592.32 L746.68,1592.41 L747.67,1592.49 L748.67,1592.57 L749.67,1592.65 L750.66,1592.73 L751.66,1592.81 L752.66,1592.88 L753.66,1592.96 L754.65,1593.04 L755.65,1593.11 L756.65,1593.18 L757.64,1593.25 L758.64,1593.33 L759.64,1593.40 L760.64,1593.47 L761.63,1593.54 L762.63,1593.61 L763.63,1593.67 L764.63,1593.74 L765.63,1593.81 L766.62,1593.87 L767.62,1593.94 L768.62,1594.01 L769.62,1594.07 L770.61,1594.14 L771.61,1594.20 L772.61,1594.27 L773.61,1594.33 L774.61,1594.39 L775.60,1594.46 L776.60,1594.52 L777.60,1594.59 L778.60,1594.65 L779.60,1594.72 L780.59,1594.78 L781.59,1594.85 L782.59,1594.91 L783.59,1594.98 L784.58,1595.05 L785.58,1595.12 L786.58,1595.19 L787.58,1595.26 L788.58,1595.32 L789.57,1595.39 L790.57,1595.46 L791.57,1595.53 L792.57,1595.59 L793.56,1595.65 L794.56,1595.71 L795.56,1595.77 L796.56,1595.82 L797.56,1595.87 L798.56,1595.91 L799.56,1595.96 L800.56,1595.99 L801.55,1596.03 L802.55,1596.06 L803.55,1596.09 L804.55,1596.11 L805.55,1596.14 L806.55,1596.16 L807.55,1596.19 L808.55,1596.21 L809.55,1596.23 L810.55,1596.25 L811.55,1596.27 L812.55,1596.29 L813.55,1596.31 L814.55,1596.33 L815.55,1596.35 L816.55,1596.36 L817.55,1596.38 L818.55,1596.40 L819.55,1596.41 L820.55,1596.43 L821.55,1596.44 L822.55,1596.46 L823.55,1596.47 L824.55,1596.49 L825.55,1596.50 L826.55,1596.51 L827.55,1596.53 L828.55,1596.54 L829.55,1596.55 L830.55,1596.56 L831.55,1596.57 L832.55,1596.59 L833.55,1596.60 L834.55,1596.61 L835.55,1596.62 L836.55,1596.63 L837.55,1596.64 L838.55,1596.65 L839.55,1596.66 L840.55,1596.67 L841.55,1596.68 L842.55,1596.69 L843.55,1596.70 L844.55,1596.71 L845.55,1596.72 L846.55,1596.73 L847.55,1596.74 L848.55,1596.75 L849.55,1596.76 L850.55,1596.76 L851.55,1596.77 L852.55,1596.78 L853.55,1596.79 L854.55,1596.80 L855.55,1596.81 L856.55,1596.81 L857.55,1596.82 L858.55,1596.83 L859.55,1596.84 L860.55,1596.85 L861.55,1596.85 L862.55,1596.86 L863.55,1596.87 L864.55,1596.88 L865.55,1596.88 L866.55,1596.89 L867.55,1596.90 L868.55,1596.90 L869.55,1596.91 L870.55,1596.92 L871.55,1596.93 L872.55,1596.93 L873.55,1596.94 L874.55,1596.95 L875.55,1596.95 L876.55,1596.96 L877.55,1596.96 L878.55,1596.97 L879.55,1596.98 L880.55,1596.98 L881.55,1596.99 L882.55,1597.00 L883.55,1597.00 L884.55,1597.01 L885.55,1597.01 L886.55,1597.02 L887.55,1597.03 L888.55,1597.03 L889.55,1597.04 L890.55,1597.04 L891.55,1597.05 L892.55,1597.05 L893.55,1597.06 L894.55,1597.07 L895.55,1597.07 L896.55,1597.08 L897.55,1597.08 L898.55,1597.09 L899.55,1597.10 L900.55,1597.10 L901.55,1597.11 L902.55,1597.11 L903.55,1597.12 L904.55,1597.12 L905.55,1597.13 L906.55,1597.14 L907.55,1597.14 L908.55,1597.15 L909.55,1597.15 L910.55,1597.16 L911.55,1597.16 L912.55,1597.17 L913.55,1597.18 L914.55,1597.18 L915.55,1597.19 L916.55,1597.19 L917.55,1597.20 L918.55,1597.20 L919.55,1597.21 L920.55,1597.22 L921.55,1597.22 L922.55,1597.23 L923.55,1597.23 L924.55,1597.24 L925.55,1597.24 L926.55,1597.25 L927.55,1597.26 L928.55,1597.26 L929.55,1597.27 L930.55,1597.27 L931.55,1597.28 L932.55,1597.28 L933.55,1597.29 L934.55,1597.30 L935.55,1597.30 L936.55,1597.31 L937.55,1597.31 L938.55,1597.32 L939.55,1597.32 L940.55,1597.33 L941.55,1597.33 L942.55,1597.34 L943.55,1597.34 L944.55,1597.35 L945.55,1597.36 L946.55,1597.36 L947.55,1597.37 L948.55,1597.37 L949.55,1597.38 L950.55,1597.38 L951.55,1597.39 L952.55,1597.39 L953.55,1597.40 L954.55,1597.40 L955.55,1597.41 L956.55,1597.41 L957.55,1597.42 L958.55,1597.42 L959.55,1597.43 L960.55,1597.43 L961.55,1597.44 L962.55,1597.44 L963.55,1597.45 L964.55,1597.45 L965.55,1597.46 L966.55,1597.46 L967.55,1597.47 L968.55,1597.47 L969.55,1597.48 L970.55,1597.48 L971.55,1597.49 L972.55,1597.49 L973.55,1597.50 L974.55,1597.50 L975.55,1597.51 L976.55,1597.51 L977.55,1597.52 L978.55,1597.52 L979.55,1597.53 L980.55,1597.53 L981.55,1597.53 L982.55,1597.54 L983.55,1597.54 L984.55,1597.55 L985.55,1597.55 L986.55,1597.56 L987.55,1597.56 L988.55,1597.57 L989.55,1597.57 L990.55,1597.57 L991.55,1597.58 L992.55,1597.58 L993.55,1597.59 L994.55,1597.59 L995.55,1597.60 L996.55,1597.60 L997.55,1597.60 L998.55,1597.61 L999.55,1597.61 L1000.55,1597.62 L1001.55,1597.62 L1002.55,1597.62 L1003.55,1597.63 L1004.55,1597.63 L1005.55,1597.64 L1006.55,1597.64 L1007.55,1597.64 L1008.55,1597.65 L1009.55,1597.65 L1010.55,1597.65 L1011.55,1597.66 L1012.55,1597.66 L1013.55,1597.67 L1014.55,1597.67 L1015.55,1597.67 L1016.55,1597.68 L1017.55,1597.68 L1018.55,1597.68 L1019.55,1597.69 L1020.55,1597.69 L1021.55,1597.69 L1022.55,1597.70 L1023.55,1597.70 L1024.55,1597.70 L1025.55,1597.71 L1026.55,1597.71 L1027.55,1597.71 L1028.55,1597.72 L1029.55,1597.72 L1030.55,1597.72 L1031.55,1597.73 L1032.55,1597.73 L1033.55,1597.73 L1034.55,1597.74 L1035.55,1597.74 L1036.55,1597.74 L1037.55,1597.75 L1038.55,1597.75 L1039.55,1597.75 L1040.55,1597.76 L1041.55,1597.76 L1042.55,1597.76 L1043.55,1597.76 L1044.55,1597.77 L1045.55,1597.77 L1046.55,1597.77 L1047.55,1597.78 L1048.55,1597.78 L1049.55,1597.78 L1050.55,1597.79 L1051.55,1597.79 L1052.55,1597.79 L1053.55,1597.80 L1054.55,1597.80 L1055.55,1597.80 L1056.55,1597.80 L1057.55,1597.81 L1058.55,1597.81 L1059.55,1597.81 L1060.55,1597.82 L1061.55,1597.82 L1062.55,1597.82 L1063.55,1597.82 L1064.55,1597.83 L1065.55,1597.83 L1066.55,1597.83 L1067.55,1597.84 L1068.55,1597.84 L1069.55,1597.84 L1070.55,1597.84 L1071.55,1597.85 L1072.55,1597.85 L1073.55,1597.85 L1074.55,1597.85 L1075.55,1597.86 L1076.55,1597.86 L1077.55,1597.86 L1078.55,1597.87 L1079.55,1597.87 L1080.55,1597.87 L1081.55,1597.87 L1082.55,1597.88 L1083.55,1597.88 L1084.55,1597.88 L1085.55,1597.88 L1086.55,1597.88 L1087.55,1597.89 L1088.55,1597.89 L1089.55,1597.89 L1090.55,1597.89 L1091.55,1597.90 L1092.55,1597.90 L1093.55,1597.90 L1094.55,1597.90 L1095.55,1597.91 L1096.55,1597.91 L1097.55,1597.91 L1098.55,1597.91 L1099.55,1597.91 L1100.55,1597.92 L1101.55,1597.92 L1102.55,1597.92 L1103.55,1597.92 L1104.55,1597.92 L1105.55,1597.93 L1106.55,1597.93 L1107.55,1597.93 L1108.55,1597.93 L1109.55,1597.93 L1110.55,1597.94 L1111.55,1597.94 L1112.55,1597.94 L1113.55,1597.94 L1114.55,1597.94 L1115.55,1597.95 L1116.55,1597.95 L1117.55,1597.95 L1118.54,1597.95 L1119.54,1597.95 L1120.52,1597.95 L1121.49,1597.96 L1122.41,1597.96 L1123.25,1597.96 L1123.97,1597.96 L1124.55,1597.96" fill="none" stroke="#f00" stroke-width="4.0" stroke-opacity="1.0" stroke-linejoin="round" stroke-linecap="round" clip-path="url(#cb)"/>
<path d="M208.96,1236.61 L209.49,1236.63 L210.15,1236.60 L210.87,1236.46 L211.61,1236.18 L212.31,1235.74 L212.97,1235.15 L213.56,1234.45 L214.11,1233.67 L214.63,1232.84 L215.13,1231.98 L215.62,1231.11 L216.09,1230.24 L216.56,1229.35 L217.02,1228.47 L217.47,1227.57 L217.91,1226.68 L218.35,1225.78 L218.78,1224.87 L219.20,1223.97 L219.62,1223.06 L220.03,1222.15 L220.44,1221.23 L220.84,1220.32 L221.24,1219.40 L221.64,1218.49 L222.03,1217.57 L222.42,1216.64 L222.80,1215.72 L223.18,1214.80 L223.56,1213.87 L223.93,1212.94 L224.30,1212.01 L224.66,1211.08 L225.02,1210.15 L225.38,1209.21 L225.74,1208.28 L226.09,1207.34 L226.44,1206.41 L226.78,1205.47 L227.13,1204.53 L227.47,1203.59 L227.81,1202.65 L228.14,1201.71 L228.48,1200.76 L228.81,1199.82 L229.14,1198.88 L229.46,1197.93 L229.79,1196.98 L230.11,1196.04 L230.42,1195.09 L230.74,1194.14 L231.05,1193.19 L231.35,1192.24 L231.66,1191.28 L231.96,1190.33 L232.25,1189.37 L232.55,1188.42 L232.84,1187.46 L233.13,1186.50 L233.41,1185.55 L233.70,1184.59 L233.98,1183.63 L234.26,1182.67 L234.54,1181.71 L234.82,1180.75 L235.10,1179.79 L235.38,1178.83 L235.66,1177.87 L235.94,1176.91 L236.21,1175.95 L236.49,1174.99 L236.77,1174.02 L237.04,1173.06 L237.32,1172.10 L237.59,1171.14 L237.87,1170.18 L238.14,1169.22 L238.41,1168.26 L238.69,1167.29 L238.96,1166.33 L239.23,1165.37 L239.50,1164.41 L239.77,1163.44 L240.04,1162.48 L240.30,1161.52 L240.57,1160.55 L240.83,1159.59 L241.10,1158.62 L241.36,1157.66 L241.63,1156.69 L241.89,1155.73 L242.15,1154.76 L242.41,1153.80 L242.67,1152.83 L242.93,1151.87 L243.19,1150.90 L243.45,1149.94 L243.71,1148.97 L243.97,1148.00 L244.23,1147.04 L244.48,1146.07 L244.74,1145.11 L245.00,1144.14 L245.26,1143.17 L245.51,1142.21 L245.77,1141.24 L246.03,1140.27 L246.28,1139.31 L246.54,1138.34 L246.79,1137.37 L247.04,1136.40 L247.30,1135.44 L247.55,1134.47 L247.80,1133.50 L248.04,1132.53 L248.29,1131.56 L248.54,1130.59 L248.78,1129.62 L249.02,1128.65 L249.26,1127.68 L249.50,1126.71 L249.73,1125.74 L249.97,1124.77 L250.20,1123.79 L250.43,1122.82 L250.65,1121.85 L250.87,1120.87 L251.09,1119.89 L251.31,1118.92 L251.52,1117.94 L251.74,1116.96 L251.95,1115.99 L252.16,1115.01 L252.36,1114.03 L252.57,1113.05 L252.78,1112.07 L252.98,1111.10 L253.19,1110.12 L253.39,1109.14 L253.60,1108.16 L253.81,1107.18 L254.01,1106.20 L254.22,1105.22 L254.43,1104.25 L254.64,1103.27 L254.86,1102.29 L255.07,1101.32 L255.29,1100.34 L255.51,1099.36 L255.73,1098.39 L255.95,1097.41 L256.17,1096.44 L256.40,1095.46 L256.62,1094.49 L256.85,1093.52 L257.07,1092.54 L257.30,1091.57 L257.53,1090.60 L257.76,1089.62 L257.99,1088.65 L258.23,1087.68 L258.46,1086.70 L258.69,1085.73 L258.92,1084.76 L259.16,1083.79 L259.39,1082.81 L259.62,1081.84 L259.86,1080.87 L260.10,1079.90 L260.33,1078.93 L260.57,1077.96 L260.81,1076.98 L261.05,1076.01 L261.30,1075.04 L261.54,1074.08 L261.79,1073.11 L262.04,1072.14 L262.30,1071.17 L262.56,1070.21 L262.82,1069.24 L263.09,1068.28 L263.36,1067.32 L263.64,1066.36 L263.92,1065.40 L264.21,1064.44 L264.49,1063.48 L264.78,1062.52 L265.07,1061.57 L265.37,1060.61 L265.66,1059.65 L265.95,1058.70 L266.24,1057.74 L266.54,1056.78 L266.82,1055.83 L267.11,1054.87 L267.39,1053.91 L267.67,1052.95 L267.94,1051.99 L268.21,1051.02 L268.48,1050.06 L268.74,1049.10 L269.00,1048.13 L269.26,1047.16 L269.51,1046.20 L269.77,1045.23 L270.02,1044.26 L270.28,1043.30 L270.54,1042.33 L270.79,1041.36 L271.06,1040.40 L271.32,1039.43 L271.59,1038.47 L271.87,1037.51 L272.15,1036.55 L272.44,1035.59 L272.73,1034.64 L273.04,1033.69 L273.35,1032.74 L273.66,1031.79 L273.98,1030.84 L274.31,1029.89 L274.64,1028.95 L274.97,1028.01 L275.31,1027.07 L275.65,1026.13 L276.00,1025.19 L276.34,1024.25 L276.69,1023.31 L277.05,1022.38 L277.40,1021.44 L277.75,1020.51 L278.11,1019.57 L278.46,1018.64 L278.82,1017.70 L279.17,1016.77 L279.52,1015.83 L279.88,1014.90 L280.23,1013.96 L280.59,1013.03 L280.95,1012.09 L281.30,1011.16 L281.66,1010.23 L282.02,1009.29 L282.39,1008.36 L282.75,1007.43 L283.12,1006.50 L283.50,1005.57 L283.87,1004.65 L284.25,1003.72 L284.64,1002.80 L285.03,1001.88 L285.42,1000.96 L285.82,1000.04 L286.23,999.13 L286.65,998.22 L287.07,997.32 L287.50,996.41 L287.93,995.51 L288.37,994.61 L288.82,993.72 L289.27,992.83 L289.72,991.94 L290.18,991.05 L290.64,990.16 L291.11,989.28 L291.58,988.40 L292.07,987.52 L292.56,986.65 L293.06,985.79 L293.58,984.93 L294.11,984.09 L294.65,983.25 L295.20,982.41 L295.75,981.58 L296.31,980.75 L296.87,979.92 L297.44,979.10 L298.02,978.29 L298.62,977.50 L299.25,976.74 L299.91,976.03 L300.61,975.41 L301.36,974.90 L302.15,974.55 L302.97,974.39 L303.78,974.44 L304.58,974.70 L305.33,975.14 L306.04,975.72 L306.70,976.40 L307.31,977.16 L307.90,977.96 L308.45,978.78 L309.00,979.62 L309.53,980.46 L310.06,981.31 L310.58,982.16 L311.10,983.02 L311.61,983.88 L312.11,984.74 L312.60,985.61 L313.08,986.49 L313.54,987.38 L313.98,988.27 L314.42,989.17 L314.83,990.08 L315.23,991.00 L315.62,991.92 L315.99,992.85 L316.34,993.78 L316.68,994.72 L316.99,995.67 L317.30,996.62 L317.59,997.58 L317.88,998.53 L318.17,999.49 L318.46,1000.45 L318.75,1001.40 L319.05,1002.36 L319.36,1003.31 L319.69,1004.25 L320.03,1005.19 L320.37,1006.13 L320.73,1007.06 L321.10,1007.99 L321.47,1008.92 L321.84,1009.85 L322.22,1010.77 L322.59,1011.70 L322.96,1012.63 L323.32,1013.56 L323.68,1014.50 L324.04,1015.43 L324.39,1016.37 L324.74,1017.30 L325.09,1018.24 L325.43,1019.18 L325.76,1020.12 L326.09,1021.07 L326.40,1022.02 L326.71,1022.97 L327.00,1023.93 L327.28,1024.88 L327.55,1025.85 L327.81,1026.81 L328.05,1027.78 L328.29,1028.75 L328.53,1029.72 L328.76,1030.70 L329.00,1031.67 L329.24,1032.64 L329.49,1033.61 L329.74,1034.57 L330.01,1035.54 L330.28,1036.50 L330.57,1037.46 L330.86,1038.41 L331.16,1039.37 L331.46,1040.32 L331.76,1041.27 L332.06,1042.23 L332.36,1043.18 L332.66,1044.14 L332.95,1045.09 L333.23,1046.05 L333.51,1047.01 L333.78,1047.97 L334.06,1048.94 L334.32,1049.90 L334.59,1050.86 L334.85,1051.83 L335.11,1052.79 L335.37,1053.76 L335.62,1054.73 L335.87,1055.70 L336.12,1056.67 L336.36,1057.64 L336.60,1058.61 L336.84,1059.58 L337.08,1060.55 L337.31,1061.52 L337.54,1062.49 L337.77,1063.47 L338.00,1064.44 L338.23,1065.42 L338.45,1066.39 L338.67,1067.36 L338.89,1068.34 L339.11,1069.32 L339.32,1070.29 L339.53,1071.27 L339.73,1072.25 L339.94,1073.23 L340.13,1074.21 L340.33,1075.19 L340.52,1076.17 L340.70,1077.16 L340.88,1078.14 L341.06,1079.12 L341.23,1080.11 L341.40,1081.09 L341.56,1082.08 L341.72,1083.07 L341.87,1084.06 L342.02,1085.05 L342.16,1086.03 L342.31,1087.02 L342.44,1088.02 L342.58,1089.01 L342.71,1090.00 L342.84,1090.99 L342.97,1091.98 L343.09,1092.97 L343.22,1093.96 L343.34,1094.96 L343.46,1095.95 L343.58,1096.94 L343.70,1097.94 L343.82,1098.93 L343.93,1099.92 L344.05,1100.92 L344.16,1101.91 L344.28,1102.90 L344.39,1103.90 L344.51,1104.89 L344.62,1105.88 L344.73,1106.88 L344.85,1107.87 L344.96,1108.86 L345.07,1109.86 L345.19,1110.85 L345.30,1111.84 L345.41,1112.84 L345.53,1113.83 L345.64,1114.82 L345.75,1115.82 L345.87,1116.81 L345.98,1117.81 L346.09,1118.80 L346.20,1119.79 L346.31,1120.79 L346.42,1121.78 L346.53,1122.77 L346.64,1123.77 L346.74,1124.76 L346.85,1125.76 L346.95,1126.75 L347.06,1127.75 L347.16,1128.74 L347.26,1129.74 L347.37,1130.73 L347.47,1131.73 L347.57,1132.72 L347.68,1133.71 L347.78,1134.71 L347.88,1135.70 L347.98,1136.70 L348.09,1137.69 L348.19,1138.69 L348.29,1139.68 L348.40,1140.68 L348.50,1141.67 L348.61,1142.67 L348.71,1143.66 L348.82,1144.66 L348.93,1145.65 L349.04,1146.64 L349.15,1147.64 L349.26,1148.63 L349.37,1149.63 L349.48,1150.62 L349.60,1151.61 L349.71,1152.61 L349.83,1153.60 L349.95,1154.59 L350.07,1155.58 L350.19,1156.58 L350.32,1157.57 L350.45,1158.56 L350.57,1159.55 L350.70,1160.54 L350.83,1161.54 L350.96,1162.53 L351.09,1163.52 L351.23,1164.51 L351.36,1165.50 L351.50,1166.49 L351.63,1167.48 L351.77,1168.47 L351.91,1169.46 L352.05,1170.45 L352.19,1171.44 L352.33,1172.43 L352.47,1173.42 L352.61,1174.41 L352.75,1175.40 L352.89,1176.39 L353.03,1177.38 L353.17,1178.37 L353.31,1179.36 L353.45,1180.35 L353.59,1181.34 L353.73,1182.33 L353.87,1183.32 L354.00,1184.32 L354.14,1185.31 L354.28,1186.30 L354.41,1187.29 L354.55,1188.28 L354.68,1189.27 L354.81,1190.26 L354.94,1191.25 L355.07,1192.24 L355.19,1193.24 L355.32,1194.23 L355.45,1195.22 L355.57,1196.21 L355.69,1197.20 L355.82,1198.20 L355.94,1199.19 L356.06,1200.18 L356.19,1201.17 L356.31,1202.17 L356.43,1203.16 L356.55,1204.15 L356.67,1205.14 L356.80,1206.14 L356.92,1207.13 L357.04,1208.12 L357.17,1209.11 L357.29,1210.11 L357.42,1211.10 L357.54,1212.09 L357.67,1213.08 L357.80,1214.07 L357.93,1215.07 L358.06,1216.06 L358.20,1217.05 L358.33,1218.04 L358.47,1219.03 L358.62,1220.02 L358.76,1221.01 L358.91,1222.00 L359.06,1222.98 L359.22,1223.97 L359.38,1224.96 L359.55,1225.94 L359.72,1226.93 L359.90,1227.91 L360.08,1228.90 L360.26,1229.88 L360.45,1230.86 L360.64,1231.84 L360.83,1232.83 L361.02,1233.81 L361.21,1234.79 L361.40,1235.77 L361.59,1236.75 L361.78,1237.73 L361.97,1238.72 L362.15,1239.70 L362.33,1240.68 L362.51,1241.67 L362.69,1242.65 L362.86,1243.64 L363.04,1244.62 L363.21,1245.61 L363.38,1246.59 L363.55,1247.58 L363.73,1248.56 L363.90,1249.55 L364.07,1250.53 L364.24,1251.52 L364.41,1252.50 L364.58,1253.49 L364.75,1254.47 L364.91,1255.46 L365.08,1256.45 L365.25,1257.43 L365.41,1258.42 L365.58,1259.40 L365.75,1260.39 L365.91,1261.38 L366.08,1262.36 L366.24,1263.35 L366.40,1264.33 L366.57,1265.32 L366.73,1266.31 L366.89,1267.29 L367.05,1268.28 L367.22,1269.27 L367.38,1270.26 L367.54,1271.24 L367.70,1272.23 L367.86,1273.22 L368.02,1274.20 L368.17,1275.19 L368.33,1276.18 L368.49,1277.17 L368.65,1278.15 L368.80,1279.14 L368.96,1280.13 L369.12,1281.12 L369.27,1282.11 L369.42,1283.09 L369.58,1284.08 L369.73,1285.07 L369.88,1286.06 L370.03,1287.05 L370.18,1288.04 L370.33,1289.02 L370.48,1290.01 L370.63,1291.00 L370.78,1291.99 L370.93,1292.98 L371.08,1293.97 L371.23,1294.96 L371.37,1295.95 L371.52,1296.94 L371.67,1297.92 L371.82,1298.91 L371.96,1299.90 L372.11,1300.89 L372.26,1301.88 L372.41,1302.87 L372.55,1303.86 L372.70,1304.85 L372.85,1305.84 L373.00,1306.83 L373.14,1307.82 L373.29,1308.80 L373.44,1309.79 L373.59,1310.78 L373.74,1311.77 L373.89,1312.76 L374.04,1313.75 L374.19,1314.74 L374.34,1315.73 L374.49,1316.71 L374.64,1317.70 L374.80,1318.69 L374.95,1319.68 L375.10,1320.67 L375.26,1321.65 L375.42,1322.64 L375.57,1323.63 L375.73,1324.62 L375.89,1325.60 L376.05,1326.59 L376.20,1327.58 L376.36,1328.57 L376.52,1329.55 L376.67,1330.54 L376.83,1331.53 L376.99,1332.52 L377.14,1333.51 L377.29,1334.49 L377.45,1335.48 L377.60,1336.47 L377.75,1337.46 L377.90,1338.45 L378.05,1339.44 L378.20,1340.43 L378.34,1341.42 L378.49,1342.40 L378.63,1343.39 L378.77,1344.38 L378.91,1345.37 L379.05,1346.36 L379.19,1347.36 L379.32,1348.35 L379.45,1349.34 L379.59,1350.33 L379.71,1351.32 L379.84,1352.31 L379.96,1353.30 L380.08,1354.30 L380.20,1355.29 L380.32,1356.28 L380.43,1357.28 L380.54,1358.27 L380.65,1359.26 L380.76,1360.26 L380.87,1361.25 L380.98,1362.25 L381.09,1363.24 L381.20,1364.23 L381.32,1365.23 L381.43,1366.22 L381.55,1367.21 L381.67,1368.21 L381.79,1369.20 L381.92,1370.19 L382.05,1371.18 L382.18,1372.17 L382.31,1373.17 L382.44,1374.16 L382.58,1375.15 L382.72,1376.14 L382.86,1377.13 L383.00,1378.12 L383.14,1379.11 L383.28,1380.10 L383.43,1381.09 L383.57,1382.08 L383.72,1383.07 L383.87,1384.05 L384.02,1385.04 L384.17,1386.03 L384.32,1387.02 L384.47,1388.01 L384.62,1389.00 L384.78,1389.99 L384.93,1390.97 L385.08,1391.96 L385.24,1392.95 L385.39,1393.94 L385.55,1394.93 L385.70,1395.91 L385.86,1396.90 L386.01,1397.89 L386.16,1398.88 L386.31,1399.87 L386.47,1400.85 L386.62,1401.84 L386.77,1402.83 L386.92,1403.82 L387.07,1404.81 L387.22,1405.80 L387.36,1406.79 L387.51,1407.78 L387.66,1408.76 L387.81,1409.75 L387.96,1410.74 L388.11,1411.73 L388.26,1412.72 L388.41,1413.71 L388.56,1414.70 L388.71,1415.69 L388.85,1416.68 L389.00,1417.67 L389.14,1418.65 L389.29,1419.64 L389.43,1420.63 L389.57,1421.62 L389.71,1422.61 L389.85,1423.60 L389.99,1424.59 L390.12,1425.59 L390.26,1426.58 L390.39,1427.57 L390.53,1428.56 L390.66,1429.55 L390.79,1430.54 L390.92,1431.53 L391.05,1432.52 L391.18,1433.51 L391.31,1434.51 L391.44,1435.50 L391.57,1436.49 L391.70,1437.48 L391.83,1438.47 L391.96,1439.46 L392.09,1440.46 L392.22,1441.45 L392.35,1442.44 L392.48,1443.43 L392.61,1444.42 L392.74,1445.41 L392.87,1446.41 L392.99,1447.40 L393.12,1448.39 L393.25,1449.38 L393.38,1450.37 L393.50,1451.36 L393.63,1452.36 L393.75,1453.35 L393.87,1454.34 L394.00,1455.33 L394.12,1456.33 L394.24,1457.32 L394.36,1458.31 L394.48,1459.30 L394.60,1460.30 L394.72,1461.29 L394.84,1462.28 L394.97,1463.27 L395.09,1464.27 L395.22,1465.26 L395.35,1466.25 L395.48,1467.24 L395.62,1468.23 L395.76,1469.22 L395.90,1470.21 L396.06,1471.20 L396.21,1472.19 L396.38,1473.17 L396.55,1474.16 L396.73,1475.14 L396.92,1476.12 L397.11,1477.11 L397.31,1478.08 L397.51,1479.06 L397.72,1480.04 L397.94,1481.02 L398.16,1481.99 L398.39,1482.97 L398.63,1483.94 L398.87,1484.91 L399.13,1485.87 L399.39,1486.84 L399.66,1487.80 L399.94,1488.76 L400.23,1489.72 L400.54,1490.67 L400.85,1491.62 L401.18,1492.56 L401.51,1493.50 L401.86,1494.44 L402.21,1495.38 L402.58,1496.31 L402.96,1497.23 L403.35,1498.15 L403.75,1499.07 L404.17,1499.97 L404.61,1500.87 L405.07,1501.75 L405.56,1502.62 L406.08,1503.47 L406.63,1504.29 L407.22,1505.10 L407.84,1505.88 L408.49,1506.63 L409.17,1507.35 L409.88,1508.05 L410.61,1508.73 L411.36,1509.39 L412.12,1510.04 L412.89,1510.68 L413.66,1511.32 L414.42,1511.96 L415.18,1512.61 L415.94,1513.26 L416.69,1513.92 L417.43,1514.60 L418.16,1515.27 L418.90,1515.95 L419.63,1516.63 L420.37,1517.31 L421.10,1517.99 L421.83,1518.67 L422.57,1519.34 L423.31,1520.01 L424.06,1520.68 L424.81,1521.34 L425.57,1521.99 L426.33,1522.64 L427.10,1523.27 L427.88,1523.90 L428.66,1524.53 L429.45,1525.14 L430.24,1525.75 L431.04,1526.35 L431.85,1526.94 L432.65,1527.53 L433.47,1528.11 L434.28,1528.69 L435.10,1529.27 L435.92,1529.84 L436.75,1530.40 L437.58,1530.96 L438.41,1531.52 L439.24,1532.07 L440.07,1532.62 L440.91,1533.17 L441.75,1533.72 L442.59,1534.26 L443.43,1534.80 L444.27,1535.33 L445.12,1535.87 L445.97,1536.40 L446.82,1536.93 L447.67,1537.45 L448.52,1537.97 L449.38,1538.49 L450.23,1539.00 L451.09,1539.51 L451.96,1540.02 L452.82,1540.53 L453.68,1541.03 L454.55,1541.53 L455.42,1542.02 L456.29,1542.51 L457.16,1543.00 L458.04,1543.49 L458.91,1543.97 L459.79,1544.45 L460.67,1544.93 L461.54,1545.41 L462.42,1545.89 L463.30,1546.37 L464.18,1546.84 L465.07,1547.31 L465.95,1547.77 L466.84,1548.23 L467.73,1548.68 L468.63,1549.13 L469.53,1549.56 L470.43,1549.99 L471.34,1550.41 L472.25,1550.81 L473.17,1551.21 L474.10,1551.59 L475.03,1551.95 L475.96,1552.31 L476.90,1552.65 L477.84,1552.98 L478.79,1553.31 L479.73,1553.63 L480.68,1553.96 L481.62,1554.30 L482.56,1554.64 L483.49,1554.99 L484.42,1555.36 L485.35,1555.73 L486.27,1556.12 L487.19,1556.51 L488.11,1556.89 L489.04,1557.27 L489.97,1557.64 L490.90,1557.98 L491.85,1558.31 L492.80,1558.63 L493.75,1558.92 L494.71,1559.20 L495.68,1559.46 L496.64,1559.71 L497.61,1559.96 L498.58,1560.19 L499.56,1560.42 L500.53,1560.64 L501.51,1560.86 L502.48,1561.08 L503.46,1561.29 L504.44,1561.50 L505.42,1561.71 L506.40,1561.91 L507.37,1562.11 L508.35,1562.31 L509.33,1562.51 L510.32,1562.71 L511.30,1562.90 L512.28,1563.09 L513.26,1563.27 L514.24,1563.45 L515.23,1563.63 L516.21,1563.81 L517.20,1563.98 L518.18,1564.14 L519.17,1564.31 L520.16,1564.46 L521.15,1564.62 L522.14,1564.77 L523.13,1564.91 L524.12,1565.05 L525.11,1565.18 L526.10,1565.32 L527.09,1565.44 L528.08,1565.57 L529.07,1565.69 L530.07,1565.81 L531.06,1565.92 L532.05,1566.04 L533.05,1566.15 L534.04,1566.25 L535.04,1566.36 L536.03,1566.46 L537.03,1566.57 L538.02,1566.67 L539.02,1566.77 L540.01,1566.86 L541.01,1566.96 L542.00,1567.06 L543.00,1567.15 L543.99,1567.24 L544.99,1567.34 L545.98,1567.43 L546.98,1567.52 L547.98,1567.62 L548.97,1567.71 L549.97,1567.80 L550.96,1567.89 L551.96,1567.98 L552.95,1568.07 L553.95,1568.16 L554.95,1568.25 L555.94,1568.34 L556.94,1568.42 L557.94,1568.51 L558.93,1568.59 L559.93,1568.67 L560.93,1568.75 L561.92,1568.83 L562.92,1568.91 L563.92,1568.99 L564.91,1569.07 L565.91,1569.15 L566.91,1569.23 L567.90,1569.31 L568.90,1569.39 L569.90,1569.48 L570.89,1569.56 L571.89,1569.64 L572.89,1569.73 L573.88,1569.82 L574.88,1569.91 L575.87,1570.00 L576.87,1570.09 L577.86,1570.18 L578.86,1570.28 L579.86,1570.38 L580.85,1570.47 L581.85,1570.57 L582.84,1570.67 L583.84,1570.78 L584.83,1570.88 L585.82,1570.98 L586.82,1571.09 L587.81,1571.20 L588.81,1571.31 L589.80,1571.43 L590.79,1571.54 L591.79,1571.66 L592.78,1571.79 L593.77,1571.91 L594.76,1572.05 L595.75,1572.18 L596.74,1572.33 L597.73,1572.48 L598.72,1572.63 L599.70,1572.79 L600.69,1572.96 L601.68,1573.13 L602.66,1573.30 L603.65,1573.47 L604.63,1573.64 L605.62,1573.81 L606.60,1573.97 L607.59,1574.14 L608.58,1574.30 L609.56,1574.46 L610.55,1574.61 L611.54,1574.77 L612.53,1574.93 L613.52,1575.08 L614.50,1575.24 L615.49,1575.39 L616.48,1575.55 L617.47,1575.70 L618.46,1575.85 L619.44,1576.01 L620.43,1576.16 L621.42,1576.32 L622.41,1576.47 L623.40,1576.63 L624.38,1576.78 L625.37,1576.94 L626.36,1577.09 L627.35,1577.25 L628.33,1577.41 L629.32,1577.56 L630.31,1577.72 L631.30,1577.88 L632.28,1578.03 L633.27,1578.19 L634.26,1578.35 L635.25,1578.50 L636.24,1578.66 L637.22,1578.82 L638.21,1578.97 L639.20,1579.13 L640.19,1579.29 L641.17,1579.44 L642.16,1579.60 L643.15,1579.76 L644.14,1579.91 L645.12,1580.07 L646.11,1580.23 L647.10,1580.38 L648.09,1580.54 L649.07,1580.70 L650.06,1580.85 L651.05,1581.01 L652.04,1581.17 L653.03,1581.32 L654.01,1581.48 L655.00,1581.64 L655.99,1581.79 L656.98,1581.95 L657.96,1582.11 L658.95,1582.26 L659.94,1582.42 L660.93,1582.58 L661.91,1582.73 L662.90,1582.89 L663.89,1583.05 L664.88,1583.20 L665.86,1583.36 L666.85,1583.52 L667.84,1583.68 L668.83,1583.84 L669.81,1584.00 L670.80,1584.16 L671.79,1584.32 L672.77,1584.48 L673.76,1584.64 L674.75,1584.80 L675.74,1584.96 L676.72,1585.12 L677.71,1585.27 L678.70,1585.42 L679.69,1585.58 L680.68,1585.72 L681.67,1585.87 L682.66,1586.01 L683.65,1586.16 L684.64,1586.30 L685.63,1586.43 L686.62,1586.57 L687.61,1586.70 L688.60,1586.84 L689.59,1586.97 L690.58,1587.10 L691.57,1587.23 L692.57,1587.35 L693.56,1587.48 L694.55,1587.60 L695.54,1587.72 L696.54,1587.85 L697.53,1587.96 L698.52,1588.08 L699.51,1588.20 L700.51,1588.31 L701.50,1588.43 L702.50,1588.54 L703.49,1588.65 L704.48,1588.76 L705.48,1588.87 L706.47,1588.98 L707.47,1589.08 L708.46,1589.19 L709.45,1589.29 L710.45,1589.40 L711.44,1589.50 L712.44,1589.61 L713.43,1589.71 L714.43,1589.81 L715.42,1589.91 L716.42,1590.01 L717.41,1590.11 L718.41,1590.21 L719.40,1590.31 L720.40,1590.41 L721.39,1590.51 L722.39,1590.60 L723.38,1590.70 L724.38,1590.79 L725.37,1590.89 L726.37,1590.98 L727.37,1591.07 L728.36,1591.16 L729.36,1591.25 L730.35,1591.34 L731.35,1591.43 L732.35,1591.52 L733.34,1591.60 L734.34,1591.69 L735.34,1591.77 L736.33,1591.85 L737.33,1591.94 L738.33,1592.02 L739.32,1592.10 L740.32,1592.18 L741.32,1592.26 L742.31,1592.33 L743.31,1592.41 L744.31,1592.48 L745.30,1592.56 L746.30,1592.63 L747.30,1592.71 L748.30,1592.78 L749.29,1592.85 L750.29,1592.92 L751.29,1592.99 L752.29,1593.06 L753.28,1593.13 L754.28,1593.20 L755.28,1593.27 L756.28,1593.34 L757.27,1593.40 L758.27,1593.47 L759.27,1593.54 L760.27,1593.60 L761.27,1593.67 L762.26,1593.73 L763.26,1593.79 L764.26,1593.86 L765.26,1593.92 L766.26,1593.98 L767.25,1594.04 L768.25,1594.10 L769.25,1594.16 L770.25,1594.22 L771.25,1594.27 L772.25,1594.33 L773.24,1594.39 L774.24,1594.44 L775.24,1594.50 L776.24,1594.55 L777.24,1594.61 L778.24,1594.66 L779.24,1594.72 L780.23,1594.77 L781.23,1594.82 L782.23,1594.87 L783.23,1594.92 L784.23,1594.97 L785.23,1595.02 L786.23,1595.07 L787.22,1595.12 L788.22,1595.17 L789.22,1595.21 L790.22,1595.26 L791.22,1595.30 L792.22,1595.35 L793.22,1595.39 L794.22,1595.44 L795.22,1595.48 L796.22,1595.52 L797.22,1595.56 L798.21,1595.60 L799.21,1595.63 L800.21,1595.67 L801.21,1595.70 L802.21,1595.74 L803.21,1595.77 L804.21,1595.80 L805.21,1595.83 L806.21,1595.87 L807.21,1595.90 L808.21,1595.93 L809.21,1595.96 L810.21,1595.99 L811.21,1596.02 L812.21,1596.05 L813.21,1596.08 L814.21,1596.11 L815.21,1596.14 L816.21,1596.16 L817.20,1596.19 L818.20,1596.22 L819.20,1596.24 L820.20,1596.27 L821.20,1596.30 L822.20,1596.32 L823.20,1596.35 L824.20,1596.37 L825.20,1596.39 L826.20,1596.42 L827.20,1596.44 L828.20,1596.46 L829.20,1596.48 L830.20,1596.50 L831.20,1596.52 L832.20,1596.54 L833.20,1596.56 L834.20,1596.58 L835.20,1596.59 L836.20,1596.61 L837.20,1596.62 L838.20,1596.64 L839.20,1596.65 L840.20,1596.67 L841.20,1596.68 L842.20,1596.69 L843.20,1596.70 L844.20,1596.71 L845.20,1596.73 L846.20,1596.74 L847.20,1596.75 L848.20,1596.76 L849.20,1596.77 L850.20,1596.78 L851.20,1596.79 L852.20,1596.80 L853.20,1596.81 L854.20,1596.82 L855.20,1596.83 L856.20,1596.84 L857.20,1596.85 L858.20,1596.86 L859.20,1596.87 L860.20,1596.88 L861.20,1596.89 L862.20,1596.90 L863.20,1596.91 L864.20,1596.91 L865.20,1596.92 L866.20,1596.93 L867.20,1596.94 L868.20,1596.95 L869.20,1596.95 L870.20,1596.96 L871.20,1596.97 L872.20,1596.98 L873.20,1596.98 L874.20,1596.99 L875.20,1597.00 L876.20,1597.01 L877.20,1597.01 L878.20,1597.02 L879.20,1597.03 L880.20,1597.03 L881.20,1597.04 L882.20,1597.05 L883.20,1597.05 L884.20,1597.06 L885.20,1597.07 L886.20,1597.07 L887.20,1597.08 L888.20,1597.08 L889.20,1597.09 L890.20,1597.10 L891.20,1597.10 L892.20,1597.11 L893.20,1597.11 L894.20,1597.12 L895.20,1597.13 L896.20,1597.13 L897.20,1597.14 L898.20,1597.14 L899.20,1597.15 L900.20,1597.16 L901.20,1597.16 L902.20,1597.17 L903.20,1597.17 L904.20,1597.18 L905.20,1597.18 L906.20,1597.19 L907.20,1597.20 L908.20,1597.20 L909.20,1597.21 L910.20,1597.21 L911.20,1597.22 L912.20,1597.22 L913.20,1597.23 L914.20,1597.24 L915.20,1597.24 L916.20,1597.25 L917.20,1597.25 L918.20,1597.26 L919.20,1597.26 L920.20,1597.27 L921.20,1597.27 L922.20,1597.28 L923.20,1597.28 L924.20,1597.29 L925.20,1597.29 L926.20,1597.30 L927.20,1597.31 L928.20,1597.31 L929.20,1597.32 L930.20,1597.32 L931.20,1597.33 L932.20,1597.33 L933.20,1597.34 L934.20,1597.34 L935.20,1597.35 L936.20,1597.35 L937.20,1597.36 L938.20,1597.36 L939.20,1597.37 L940.20,1597.37 L941.20,1597.38 L942.20,1597.38 L943.20,1597.39 L944.20,1597.39 L945.20,1597.39 L946.20,1597.40 L947.20,1597.40 L948.20,1597.41 L949.20,1597.41 L950.20,1597.42 L951.20,1597.42 L952.20,1597.43 L953.20,1597.43 L954.20,1597.44 L955.20,1597.44 L956.20,1597.45 L957.20,1597.45 L958.20,1597.45 L959.20,1597.46 L960.20,1597.46 L961.20,1597.47 L962.20,1597.47 L963.20,1597.48 L964.20,1597.48 L965.20,1597.48 L966.20,1597.49 L967.20,1597.49 L968.20,1597.50 L969.20,1597.50 L970.20,1597.51 L971.20,1597.51 L972.20,1597.51 L973.20,1597.52 L974.20,1597.52 L975.20,1597.53 L976.20,1597.53 L977.20,1597.53 L978.20,1597.54 L979.20,1597.54 L980.20,1597.55 L981.20,1597.55 L982.20,1597.55 L983.20,1597.56 L984.20,1597.56 L985.20,1597.57 L986.20,1597.57 L987.20,1597.57 L988.20,1597.58 L989.20,1597.58 L990.20,1597.58 L991.20,1597.59 L992.20,1597.59 L993.20,1597.60 L994.20,1597.60 L995.20,1597.60 L996.20,1597.61 L997.20,1597.61 L998.20,1597.61 L999.20,1597.62 L1000.20,1597.62 L1001.20,1597.62 L1002.20,1597.63 L1003.20,1597.63 L1004.20,1597.63 L1005.20,1597.64 L1006.20,1597.64 L1007.20,1597.64 L1008.20,1597.65 L1009.20,1597.65 L1010.20,1597.66 L1011.20,1597.66 L1012.20,1597.66 L1013.20,1597.67 L1014.20,1597.67 L1015.20,1597.67 L1016.20,1597.68 L1017.20,1597.68 L1018.20,1597.68 L1019.20,1597.68 L1020.20,1597.69 L1021.20,1597.69 L1022.20,1597.69 L1023.20,1597.70 L1024.20,1597.70 L1025.20,1597.70 L1026.20,1597.71 L1027.20,1597.71 L1028.20,1597.71 L1029.20,1597.72 L1030.20,1597.72 L1031.20,1597.72 L1032.20,1597.73 L1033.20,1597.73 L1034.20,1597.73 L1035.20,1597.74 L1036.20,1597.74 L1037.20,1597.74 L1038.20,1597.75 L1039.20,1597.75 L1040.20,1597.75 L1041.20,1597.75 L1042.20,1597.76 L1043.20,1597.76 L1044.20,1597.76 L1045.20,1597.77 L1046.20,1597.77 L1047.20,1597.77 L1048.20,1597.78 L1049.20,1597.78 L1050.20,1597.78 L1051.20,1597.78 L1052.20,1597.79 L1053.20,1597.79 L1054.20,1597.79 L1055.20,1597.80 L1056.20,1597.80 L1057.20,1597.80 L1058.20,1597.80 L1059.20,1597.81 L1060.20,1597.81 L1061.20,1597.81 L1062.20,1597.82 L1063.20,1597.82 L1064.20,1597.82 L1065.20,1597.82 L1066.20,1597.83 L1067.20,1597.83 L1068.20,1597.83 L1069.20,1597.83 L1070.20,1597.84 L1071.20,1597.84 L1072.20,1597.84 L1073.20,1597.85 L1074.20,1597.85 L1075.20,1597.85 L1076.20,1597.85 L1077.20,1597.86 L1078.20,1597.86 L1079.20,1597.86 L1080.20,1597.86 L1081.20,1597.87 L1082.20,1597.87 L1083.20,1597.87 L1084.20,1597.87 L1085.20,1597.88 L1086.20,1597.88 L1087.20,1597.88 L1088.20,1597.88 L1089.20,1597.89 L1090.20,1597.89 L1091.20,1597.89 L1092.20,1597.89 L1093.20,1597.90 L1094.20,1597.90 L1095.20,1597.90 L1096.20,1597.90 L1097.20,1597.90 L1098.20,1597.91 L1099.20,1597.91 L1100.20,1597.91 L1101.20,1597.91 L1102.20,1597.92 L1103.20,1597.92 L1104.20,1597.92 L1105.20,1597.92 L1106.20,1597.92 L1107.20,1597.93 L1108.20,1597.93 L1109.20,1597.93 L1110.20,1597.93 L1111.20,1597.93 L1112.20,1597.94 L1113.20,1597.94 L1114.20,1597.94 L1115.20,1597.94 L1116.20,1597.94 L1117.20,1597.95 L1118.20,1597.95 L1119.19,1597.95 L1120.18,1597.95 L1121.16,1597.95 L1122.11,1597.96 L1122.99,1597.96 L1123.78,1597.96 L1124.43,1597.96" fill="none" stroke="#00f" stroke-width="3.9" stroke-opacity="1.0" stroke-linejoin="round" stroke-linecap="round" clip-path="url(#cb)"/>
<rect x="207.80" y="866.40" width="918.00" height="738.80" fill="none" stroke="#000" stroke-width="3"/>
<line x1="193.80" y1="1599.56" x2="207.80" y2="1599.56" stroke="#000" stroke-width="3" stroke-linecap="butt"/>
<line x1="193.80" y1="1505.57" x2="207.80" y2="1505.57" stroke="#000" stroke-width="3" stroke-linecap="butt"/>
<line x1="193.80" y1="1411.57" x2="207.80" y2="1411.57" stroke="#000" stroke-width="3" stroke-linecap="butt"/>
<line x1="193.80" y1="1317.58" x2="207.80" y2="1317.58" stroke="#000" stroke-width="3" stroke-linecap="butt"/>
<line x1="193.80" y1="1223.58" x2="207.80" y2="1223.58" stroke="#000" stroke-width="3" stroke-linecap="butt"/>
<line x1="193.80" y1="1129.59" x2="207.80" y2="1129.59" stroke="#000" stroke-width="3" stroke-linecap="butt"/>
<line x1="193.80" y1="1035.59" x2="207.80" y2="1035.59" stroke="#000" stroke-width="3" stroke-linecap="butt"/>
<line x1="193.80" y1="941.60" x2="207.80" y2="941.60" stroke="#000" stroke-width="3" stroke-linecap="butt"/>
<line x1="200.80" y1="1552.56" x2="207.80" y2="1552.56" stroke="#000" stroke-width="3" stroke-linecap="butt"/>
<line x1="200.80" y1="1458.57" x2="207.80" y2="1458.57" stroke="#000" stroke-width="3" stroke-linecap="butt"/>
<line x1="200.80" y1="1364.57" x2="207.80" y2="1364.57" stroke="#000" stroke-width="3" stroke-linecap="butt"/>
<line x1="200.80" y1="1270.58" x2="207.80" y2="1270.58" stroke="#000" stroke-width="3" stroke-linecap="butt"/>
<line x1="200.80" y1="1176.58" x2="207.80" y2="1176.58" stroke="#000" stroke-width="3" stroke-linecap="butt"/>
<line x1="200.80" y1="1082.59" x2="207.80" y2="1082.59" stroke="#000" stroke-width="3" stroke-linecap="butt"/>
<line x1="200.80" y1="988.59" x2="207.80" y2="988.59" stroke="#000" stroke-width="3" stroke-linecap="butt"/>
<line x1="200.80" y1="894.60" x2="207.80" y2="894.60" stroke="#000" stroke-width="3" stroke-linecap="butt"/>
<line x1="261.80" y1="1605.20" x2="261.80" y2="1619.20" stroke="#000" stroke-width="3" stroke-linecap="butt"/>
<line x1="369.80" y1="1605.20" x2="369.80" y2="1619.20" stroke="#000" stroke-width="3" stroke-linecap="butt"/>
<line x1="477.80" y1="1605.20" x2="477.80" y2="1619.20" stroke="#000" stroke-width="3" stroke-linecap="butt"/>
<line x1="585.80" y1="1605.20" x2="585.80" y2="1619.20" stroke="#000" stroke-width="3" stroke-linecap="butt"/>
<line x1="693.80" y1="1605.20" x2="693.80" y2="1619.20" stroke="#000" stroke-width="3" stroke-linecap="butt"/>
<line x1="801.80" y1="1605.20" x2="801.80" y2="1619.20" stroke="#000" stroke-width="3" stroke-linecap="butt"/>
<line x1="909.80" y1="1605.20" x2="909.80" y2="1619.20" stroke="#000" stroke-width="3" stroke-linecap="butt"/>
<line x1="1017.80" y1="1605.20" x2="1017.80" y2="1619.20" stroke="#000" stroke-width="3" stroke-linecap="butt"/>
<line x1="1125.80" y1="1605.20" x2="1125.80" y2="1619.20" stroke="#000" stroke-width="3" stroke-linecap="butt"/>
<line x1="207.80" y1="1605.20" x2="207.80" y2="1612.20" stroke="#000" stroke-width="3" stroke-linecap="butt"/>
<line x1="315.80" y1="1605.20" x2="315.80" y2="1612.20" stroke="#000" stroke-width="3" stroke-linecap="butt"/>
<line x1="423.80" y1="1605.20" x2="423.80" y2="1612.20" stroke="#000" stroke-width="3" stroke-linecap="butt"/>
<line x1="531.80" y1="1605.20" x2="531.80" y2="1612.20" stroke="#000" stroke-width="3" stroke-linecap="butt"/>
<line x1="639.80" y1="1605.20" x2="639.80" y2="1612.20" stroke="#000" stroke-width="3" stroke-linecap="butt"/>
<line x1="747.80" y1="1605.20" x2="747.80" y2="1612.20" stroke="#000" stroke-width="3" stroke-linecap="butt"/>
<line x1="855.80" y1="1605.20" x2="855.80" y2="1612.20" stroke="#000" stroke-width="3" stroke-linecap="butt"/>
<line x1="963.80" y1="1605.20" x2="963.80" y2="1612.20" stroke="#000" stroke-width="3" stroke-linecap="butt"/>
<line x1="1071.80" y1="1605.20" x2="1071.80" y2="1612.20" stroke="#000" stroke-width="3" stroke-linecap="butt"/>
<text transform="translate(182.50,1610.06) scale(1.0,1.08)" font-size="30" text-anchor="end" font-weight="normal" fill="#000">0</text>
<text transform="translate(182.50,1516.07) scale(1.0,1.08)" font-size="30" text-anchor="end" font-weight="normal" fill="#000">5000</text>
<text transform="translate(182.50,1422.07) scale(1.0,1.08)" font-size="30" text-anchor="end" font-weight="normal" fill="#000">10000</text>
<text transform="translate(182.50,1328.08) scale(1.0,1.08)" font-size="30" text-anchor="end" font-weight="normal" fill="#000">15000</text>
<text transform="translate(182.50,1234.08) scale(1.0,1.08)" font-size="30" text-anchor="end" font-weight="normal" fill="#000">20000</text>
<text transform="translate(182.50,1140.09) scale(1.0,1.08)" font-size="30" text-anchor="end" font-weight="normal" fill="#000">25000</text>
<text transform="translate(182.50,1046.09) scale(1.0,1.08)" font-size="30" text-anchor="end" font-weight="normal" fill="#000">30000</text>
<text transform="translate(182.50,952.10) scale(1.0,1.08)" font-size="30" text-anchor="end" font-weight="normal" fill="#000">35000</text>
<text transform="translate(252.80,1650.80) scale(1.0,1.08)" font-size="30" text-anchor="middle" font-weight="normal" fill="#000">300</text>
<text transform="translate(360.80,1650.80) scale(1.0,1.08)" font-size="30" text-anchor="middle" font-weight="normal" fill="#000">350</text>
<text transform="translate(468.80,1650.80) scale(1.0,1.08)" font-size="30" text-anchor="middle" font-weight="normal" fill="#000">400</text>
<text transform="translate(576.80,1650.80) scale(1.0,1.08)" font-size="30" text-anchor="middle" font-weight="normal" fill="#000">450</text>
<text transform="translate(684.80,1650.80) scale(1.0,1.08)" font-size="30" text-anchor="middle" font-weight="normal" fill="#000">500</text>
<text transform="translate(792.80,1650.80) scale(1.0,1.08)" font-size="30" text-anchor="middle" font-weight="normal" fill="#000">550</text>
<text transform="translate(900.80,1650.80) scale(1.0,1.08)" font-size="30" text-anchor="middle" font-weight="normal" fill="#000">600</text>
<text transform="translate(1008.80,1650.80) scale(1.0,1.08)" font-size="30" text-anchor="middle" font-weight="normal" fill="#000">650</text>
<text transform="translate(1116.80,1650.80) scale(1.0,1.08)" font-size="30" text-anchor="middle" font-weight="normal" fill="#000">700</text>
<text x="524.20" y="1712.50" font-size="38.5" text-anchor="start" font-weight="normal" fill="#000">Wavelength / nm</text>
<text transform="translate(52,1223.5) rotate(-90) scale(1,0.93)" font-size="38.5" text-anchor="middle">ε / L / mol cm</text>
<text x="8.20" y="892.00" font-size="42" text-anchor="start" font-weight="bold" fill="#000">(b)</text>
<text transform="translate(309.40,922.50) scale(1.0,1.05)" font-size="37.5" text-anchor="middle" font-weight="bold" fill="#000">320</text>
<text transform="translate(371.50,1098.50) scale(1.0,1.05)" font-size="37.5" text-anchor="start" font-weight="bold" fill="#000">335</text>
<text transform="translate(410.00,1343.00) scale(1.0,1.05)" font-size="37.5" text-anchor="start" font-weight="bold" fill="#000">352</text>
<text transform="translate(441.50,1472.00) scale(1.0,1.05)" font-size="37.5" text-anchor="start" font-weight="bold" fill="#000">379</text>
<text transform="translate(540.30,1533.00) scale(1.0,1.05)" font-size="37.5" text-anchor="start" font-weight="bold" fill="#000">435</text>
<line x1="339.60" y1="1004.30" x2="363.50" y2="1063.00" stroke="#000" stroke-width="3" stroke-linecap="butt"/>
<line x1="367.80" y1="1113.80" x2="341.00" y2="1393.00" stroke="#000" stroke-width="3" stroke-linecap="butt"/>
<line x1="375.50" y1="1269.30" x2="411.60" y2="1306.30" stroke="#000" stroke-width="3" stroke-linecap="butt"/>
<line x1="415.70" y1="1349.20" x2="376.20" y2="1457.40" stroke="#000" stroke-width="3" stroke-linecap="butt"/>
<line x1="461.80" y1="1481.80" x2="432.00" y2="1537.30" stroke="#000" stroke-width="3" stroke-linecap="butt"/>
<line x1="750.00" y1="888.70" x2="836.00" y2="888.70" stroke="#000" stroke-width="3.4" stroke-linecap="round"/>
<text x="845.50" y="900.30" font-size="38.5" text-anchor="start" font-weight="normal" fill="#000">initial</text>
<line x1="750.00" y1="935.60" x2="836.00" y2="935.60" stroke="#e81818" stroke-width="3.4" stroke-linecap="round"/>
<text x="845.50" y="948.50" font-size="38.5" text-anchor="start" font-weight="normal" fill="#000">324 nm - 10 min</text>
<line x1="750.00" y1="983.00" x2="836.00" y2="983.00" stroke="#0808f0" stroke-width="3.4" stroke-linecap="round"/>
<text x="845.50" y="994.40" font-size="38.5" text-anchor="start" font-weight="normal" fill="#000">440 nm - 10 min</text>
<rect x="636.5" y="1150.6" width="440.29999999999995" height="319.4000000000001" fill="#fdfdfd"/>
<path d="M646.06,1126.00 L646.23,1126.55 L646.43,1127.25 L646.66,1128.06 L646.90,1128.94 L647.14,1129.88 L647.38,1130.83 L647.61,1131.80 L647.84,1132.77 L648.06,1133.75 L648.27,1134.72 L648.48,1135.70 L648.68,1136.68 L648.88,1137.66 L649.07,1138.64 L649.27,1139.62 L649.45,1140.61 L649.64,1141.59 L649.82,1142.57 L650.00,1143.55 L650.18,1144.54 L650.35,1145.52 L650.53,1146.51 L650.70,1147.49 L650.87,1148.48 L651.03,1149.47 L651.19,1150.45 L651.34,1151.44 L651.49,1152.43 L651.63,1153.42 L651.76,1154.41 L651.89,1155.40 L652.02,1156.39 L652.14,1157.39 L652.26,1158.38 L652.38,1159.37 L652.50,1160.37 L652.61,1161.36 L652.73,1162.35 L652.84,1163.35 L652.96,1164.34 L653.07,1165.33 L653.19,1166.33 L653.30,1167.32 L653.42,1168.31 L653.54,1169.30 L653.66,1170.30 L653.79,1171.29 L653.92,1172.28 L654.06,1173.27 L654.20,1174.26 L654.35,1175.25 L654.51,1176.24 L654.67,1177.22 L654.85,1178.21 L655.04,1179.19 L655.23,1180.17 L655.44,1181.15 L655.65,1182.12 L655.87,1183.10 L656.09,1184.07 L656.32,1185.05 L656.55,1186.02 L656.80,1186.99 L657.04,1187.96 L657.30,1188.92 L657.56,1189.89 L657.83,1190.85 L658.11,1191.81 L658.39,1192.77 L658.67,1193.73 L658.96,1194.69 L659.26,1195.64 L659.56,1196.60 L659.87,1197.55 L660.17,1198.50 L660.48,1199.45 L660.79,1200.40 L661.10,1201.35 L661.41,1202.30 L661.72,1203.26 L662.02,1204.21 L662.32,1205.16 L662.62,1206.12 L662.92,1207.07 L663.22,1208.03 L663.51,1208.98 L663.81,1209.94 L664.11,1210.89 L664.40,1211.85 L664.70,1212.80 L665.00,1213.76 L665.30,1214.71 L665.60,1215.66 L665.90,1216.62 L666.20,1217.57 L666.51,1218.52 L666.81,1219.47 L667.12,1220.43 L667.43,1221.38 L667.74,1222.33 L668.05,1223.28 L668.37,1224.23 L668.68,1225.18 L669.00,1226.12 L669.32,1227.07 L669.65,1228.02 L669.97,1228.96 L670.30,1229.91 L670.63,1230.85 L670.97,1231.79 L671.30,1232.73 L671.65,1233.67 L671.99,1234.61 L672.34,1235.55 L672.70,1236.48 L673.05,1237.42 L673.42,1238.35 L673.79,1239.28 L674.16,1240.21 L674.53,1241.13 L674.91,1242.06 L675.30,1242.98 L675.69,1243.90 L676.08,1244.82 L676.47,1245.74 L676.87,1246.66 L677.28,1247.57 L677.68,1248.49 L678.09,1249.40 L678.51,1250.31 L678.92,1251.22 L679.34,1252.13 L679.76,1253.03 L680.19,1253.94 L680.62,1254.84 L681.05,1255.74 L681.49,1256.64 L681.93,1257.54 L682.37,1258.44 L682.81,1259.33 L683.26,1260.23 L683.71,1261.12 L684.16,1262.01 L684.62,1262.90 L685.08,1263.79 L685.53,1264.68 L685.99,1265.57 L686.46,1266.45 L686.92,1267.34 L687.39,1268.23 L687.85,1269.11 L688.32,1269.99 L688.79,1270.88 L689.26,1271.76 L689.73,1272.64 L690.21,1273.52 L690.68,1274.40 L691.16,1275.28 L691.64,1276.16 L692.12,1277.03 L692.61,1277.91 L693.09,1278.78 L693.58,1279.65 L694.07,1280.53 L694.56,1281.40 L695.06,1282.27 L695.55,1283.13 L696.05,1284.00 L696.55,1284.87 L697.05,1285.73 L697.56,1286.60 L698.06,1287.46 L698.57,1288.32 L699.08,1289.18 L699.59,1290.04 L700.11,1290.89 L700.63,1291.75 L701.14,1292.61 L701.66,1293.46 L702.19,1294.31 L702.71,1295.16 L703.24,1296.01 L703.77,1296.86 L704.30,1297.71 L704.83,1298.56 L705.36,1299.40 L705.90,1300.25 L706.43,1301.09 L706.97,1301.94 L707.51,1302.78 L708.05,1303.62 L708.60,1304.46 L709.14,1305.29 L709.69,1306.13 L710.24,1306.97 L710.79,1307.80 L711.34,1308.64 L711.89,1309.47 L712.45,1310.30 L713.01,1311.13 L713.57,1311.96 L714.13,1312.79 L714.70,1313.61 L715.26,1314.43 L715.84,1315.25 L716.41,1316.07 L716.99,1316.89 L717.58,1317.70 L718.16,1318.51 L718.76,1319.31 L719.35,1320.11 L719.96,1320.91 L720.56,1321.71 L721.17,1322.50 L721.79,1323.28 L722.41,1324.07 L723.04,1324.85 L723.66,1325.63 L724.29,1326.40 L724.93,1327.18 L725.56,1327.95 L726.20,1328.72 L726.84,1329.49 L727.48,1330.26 L728.13,1331.02 L728.78,1331.78 L729.43,1332.54 L730.08,1333.29 L730.74,1334.04 L731.41,1334.79 L732.08,1335.54 L732.75,1336.27 L733.43,1337.01 L734.11,1337.74 L734.80,1338.46 L735.50,1339.18 L736.20,1339.89 L736.90,1340.60 L737.62,1341.30 L738.34,1341.99 L739.07,1342.67 L739.81,1343.35 L740.55,1344.02 L741.30,1344.68 L742.06,1345.33 L742.82,1345.97 L743.59,1346.61 L744.37,1347.25 L745.14,1347.87 L745.93,1348.50 L746.72,1349.11 L747.51,1349.72 L748.31,1350.32 L749.11,1350.92 L749.92,1351.51 L750.73,1352.09 L751.55,1352.67 L752.37,1353.23 L753.20,1353.79 L754.03,1354.34 L754.87,1354.88 L755.72,1355.42 L756.57,1355.94 L757.43,1356.45 L758.29,1356.96 L759.16,1357.45 L760.04,1357.93 L760.92,1358.41 L761.80,1358.88 L762.69,1359.34 L763.58,1359.80 L764.47,1360.25 L765.36,1360.69 L766.26,1361.13 L767.16,1361.57 L768.06,1362.00 L768.97,1362.42 L769.88,1362.84 L770.79,1363.25 L771.70,1363.66 L772.62,1364.06 L773.54,1364.46 L774.46,1364.85 L775.38,1365.23 L776.31,1365.61 L777.23,1365.98 L778.16,1366.35 L779.10,1366.71 L780.03,1367.06 L780.97,1367.41 L781.91,1367.76 L782.85,1368.09 L783.79,1368.42 L784.74,1368.75 L785.69,1369.07 L786.64,1369.38 L787.59,1369.68 L788.54,1369.98 L789.50,1370.27 L790.46,1370.56 L791.42,1370.84 L792.38,1371.12 L793.34,1371.39 L794.30,1371.65 L795.27,1371.91 L796.24,1372.16 L797.21,1372.41 L798.17,1372.66 L799.15,1372.90 L800.12,1373.14 L801.09,1373.37 L802.06,1373.60 L803.04,1373.83 L804.01,1374.05 L804.99,1374.27 L805.96,1374.49 L806.94,1374.71 L807.91,1374.92 L808.89,1375.13 L809.87,1375.35 L810.85,1375.56 L811.82,1375.77 L812.80,1375.97 L813.78,1376.18 L814.76,1376.39 L815.74,1376.60 L816.71,1376.81 L817.69,1377.02 L818.67,1377.23 L819.65,1377.45 L820.62,1377.66 L821.60,1377.88 L822.58,1378.09 L823.55,1378.32 L824.53,1378.54 L825.50,1378.76 L826.47,1378.99 L827.45,1379.22 L828.42,1379.45 L829.39,1379.68 L830.37,1379.90 L831.34,1380.13 L832.32,1380.36 L833.29,1380.58 L834.26,1380.81 L835.24,1381.04 L836.21,1381.27 L837.18,1381.50 L838.16,1381.73 L839.13,1381.97 L840.10,1382.21 L841.07,1382.45 L842.04,1382.70 L843.00,1382.96 L843.97,1383.22 L844.93,1383.49 L845.89,1383.76 L846.85,1384.04 L847.81,1384.33 L848.77,1384.62 L849.72,1384.92 L850.67,1385.23 L851.62,1385.54 L852.57,1385.86 L853.51,1386.19 L854.46,1386.52 L855.40,1386.85 L856.34,1387.19 L857.28,1387.53 L858.22,1387.87 L859.16,1388.22 L860.10,1388.57 L861.03,1388.92 L861.97,1389.27 L862.91,1389.62 L863.84,1389.97 L864.78,1390.33 L865.71,1390.68 L866.65,1391.04 L867.58,1391.39 L868.51,1391.75 L869.45,1392.12 L870.38,1392.48 L871.31,1392.85 L872.24,1393.22 L873.16,1393.59 L874.09,1393.96 L875.02,1394.34 L875.94,1394.72 L876.87,1395.10 L877.79,1395.48 L878.72,1395.86 L879.64,1396.24 L880.57,1396.62 L881.49,1397.00 L882.42,1397.38 L883.34,1397.76 L884.27,1398.14 L885.19,1398.52 L886.12,1398.90 L887.05,1399.27 L887.97,1399.64 L888.90,1400.02 L889.83,1400.39 L890.76,1400.76 L891.69,1401.13 L892.62,1401.50 L893.54,1401.87 L894.47,1402.24 L895.40,1402.61 L896.33,1402.98 L897.26,1403.35 L898.19,1403.72 L899.12,1404.09 L900.05,1404.46 L900.98,1404.83 L901.91,1405.20 L902.84,1405.57 L903.77,1405.94 L904.70,1406.31 L905.63,1406.68 L906.55,1407.05 L907.48,1407.42 L908.41,1407.79 L909.34,1408.16 L910.27,1408.53 L911.20,1408.90 L912.13,1409.27 L913.05,1409.64 L913.98,1410.02 L914.91,1410.39 L915.84,1410.76 L916.77,1411.13 L917.69,1411.51 L918.62,1411.88 L919.55,1412.25 L920.48,1412.62 L921.41,1413.00 L922.33,1413.37 L923.26,1413.74 L924.19,1414.11 L925.12,1414.49 L926.05,1414.86 L926.97,1415.23 L927.90,1415.61 L928.83,1415.98 L929.76,1416.35 L930.69,1416.72 L931.61,1417.10 L932.54,1417.47 L933.47,1417.84 L934.40,1418.21 L935.33,1418.59 L936.25,1418.96 L937.18,1419.33 L938.11,1419.71 L939.04,1420.08 L939.96,1420.45 L940.89,1420.82 L941.82,1421.20 L942.75,1421.57 L943.68,1421.94 L944.61,1422.31 L945.53,1422.69 L946.46,1423.06 L947.39,1423.43 L948.32,1423.80 L949.25,1424.17 L950.17,1424.55 L951.10,1424.92 L952.03,1425.30 L952.96,1425.67 L953.88,1426.05 L954.81,1426.43 L955.73,1426.81 L956.66,1427.19 L957.58,1427.57 L958.51,1427.95 L959.43,1428.33 L960.36,1428.71 L961.28,1429.09 L962.21,1429.46 L963.14,1429.83 L964.07,1430.20 L965.00,1430.57 L965.93,1430.93 L966.86,1431.29 L967.80,1431.64 L968.74,1431.99 L969.67,1432.33 L970.62,1432.67 L971.56,1433.01 L972.50,1433.34 L973.45,1433.66 L974.39,1433.99 L975.34,1434.31 L976.29,1434.63 L977.23,1434.95 L978.18,1435.27 L979.13,1435.59 L980.08,1435.90 L981.03,1436.21 L981.98,1436.53 L982.93,1436.84 L983.88,1437.14 L984.83,1437.45 L985.79,1437.75 L986.74,1438.06 L987.69,1438.36 L988.65,1438.66 L989.60,1438.95 L990.56,1439.25 L991.51,1439.54 L992.47,1439.83 L993.43,1440.12 L994.39,1440.40 L995.35,1440.69 L996.31,1440.97 L997.27,1441.25 L998.23,1441.53 L999.19,1441.80 L1000.15,1442.07 L1001.11,1442.34 L1002.08,1442.61 L1003.04,1442.88 L1004.01,1443.14 L1004.97,1443.40 L1005.94,1443.65 L1006.90,1443.91 L1007.87,1444.16 L1008.84,1444.41 L1009.81,1444.65 L1010.78,1444.90 L1011.75,1445.14 L1012.72,1445.38 L1013.69,1445.61 L1014.67,1445.85 L1015.64,1446.08 L1016.61,1446.31 L1017.59,1446.54 L1018.56,1446.76 L1019.53,1446.99 L1020.51,1447.21 L1021.48,1447.43 L1022.46,1447.65 L1023.44,1447.87 L1024.41,1448.08 L1025.39,1448.30 L1026.37,1448.51 L1027.34,1448.72 L1028.32,1448.93 L1029.30,1449.14 L1030.28,1449.34 L1031.26,1449.55 L1032.24,1449.75 L1033.22,1449.95 L1034.20,1450.15 L1035.18,1450.35 L1036.16,1450.54 L1037.14,1450.74 L1038.12,1450.93 L1039.10,1451.12 L1040.08,1451.31 L1041.07,1451.49 L1042.05,1451.68 L1043.03,1451.86 L1044.02,1452.04 L1045.00,1452.22 L1045.98,1452.40 L1046.97,1452.57 L1047.95,1452.74 L1048.94,1452.92 L1049.92,1453.09 L1050.91,1453.25 L1051.90,1453.42 L1052.88,1453.58 L1053.87,1453.75 L1054.86,1453.91 L1055.84,1454.07 L1056.83,1454.22 L1057.82,1454.38 L1058.81,1454.53 L1059.80,1454.68 L1060.78,1454.83 L1061.77,1454.98 L1062.76,1455.12 L1063.75,1455.26 L1064.74,1455.40 L1065.73,1455.54 L1066.72,1455.68 L1067.71,1455.81 L1068.71,1455.95 L1069.70,1456.08 L1070.68,1456.21 L1071.66,1456.33 L1072.62,1456.45 L1073.53,1456.57 L1074.36,1456.67 L1075.08,1456.76 L1075.66,1456.83" fill="none" stroke="#000" stroke-width="1.0" stroke-opacity="0.5" stroke-linejoin="round" stroke-linecap="round" stroke-dasharray="3,2" clip-path="url(#cib)"/>
<path d="M646.06,1126.00 L646.23,1126.55 L646.43,1127.25 L646.66,1128.06 L646.90,1128.94 L647.14,1129.87 L647.38,1130.83 L647.62,1131.80 L647.84,1132.77 L648.06,1133.75 L648.27,1134.72 L648.48,1135.70 L648.68,1136.68 L648.88,1137.66 L649.07,1138.64 L649.27,1139.62 L649.45,1140.60 L649.64,1141.59 L649.82,1142.57 L650.00,1143.55 L650.17,1144.54 L650.35,1145.52 L650.52,1146.51 L650.69,1147.49 L650.86,1148.48 L651.02,1149.47 L651.18,1150.45 L651.33,1151.44 L651.48,1152.43 L651.61,1153.42 L651.75,1154.41 L651.88,1155.40 L652.00,1156.40 L652.13,1157.39 L652.25,1158.38 L652.36,1159.37 L652.48,1160.37 L652.59,1161.36 L652.71,1162.35 L652.82,1163.35 L652.94,1164.34 L653.05,1165.33 L653.16,1166.33 L653.28,1167.32 L653.40,1168.31 L653.51,1169.31 L653.63,1170.30 L653.76,1171.29 L653.89,1172.28 L654.02,1173.28 L654.16,1174.27 L654.30,1175.26 L654.45,1176.24 L654.62,1177.23 L654.79,1178.21 L654.97,1179.20 L655.16,1180.18 L655.36,1181.16 L655.56,1182.14 L655.77,1183.12 L655.99,1184.09 L656.21,1185.07 L656.44,1186.04 L656.67,1187.01 L656.91,1187.98 L657.16,1188.95 L657.42,1189.92 L657.67,1190.88 L657.94,1191.85 L658.21,1192.81 L658.49,1193.77 L658.77,1194.73 L659.06,1195.69 L659.35,1196.64 L659.65,1197.60 L659.95,1198.55 L660.25,1199.51 L660.55,1200.46 L660.85,1201.41 L661.16,1202.37 L661.46,1203.32 L661.76,1204.27 L662.05,1205.23 L662.35,1206.18 L662.64,1207.14 L662.93,1208.10 L663.22,1209.05 L663.51,1210.01 L663.80,1210.97 L664.09,1211.93 L664.38,1212.88 L664.67,1213.84 L664.96,1214.80 L665.26,1215.75 L665.55,1216.71 L665.84,1217.66 L666.14,1218.62 L666.43,1219.57 L666.73,1220.53 L667.03,1221.48 L667.33,1222.44 L667.63,1223.39 L667.94,1224.34 L668.24,1225.29 L668.55,1226.25 L668.86,1227.20 L669.17,1228.15 L669.49,1229.10 L669.81,1230.04 L670.12,1230.99 L670.45,1231.94 L670.77,1232.88 L671.10,1233.83 L671.43,1234.77 L671.77,1235.71 L672.11,1236.66 L672.45,1237.59 L672.80,1238.53 L673.15,1239.47 L673.51,1240.40 L673.87,1241.33 L674.23,1242.27 L674.60,1243.19 L674.98,1244.12 L675.35,1245.05 L675.73,1245.97 L676.12,1246.90 L676.51,1247.82 L676.90,1248.74 L677.29,1249.66 L677.69,1250.57 L678.09,1251.49 L678.49,1252.40 L678.90,1253.32 L679.31,1254.23 L679.73,1255.14 L680.15,1256.05 L680.57,1256.95 L680.99,1257.86 L681.42,1258.76 L681.85,1259.67 L682.28,1260.57 L682.72,1261.47 L683.16,1262.37 L683.60,1263.26 L684.04,1264.16 L684.49,1265.05 L684.94,1265.95 L685.39,1266.84 L685.84,1267.73 L686.30,1268.62 L686.75,1269.51 L687.21,1270.40 L687.68,1271.29 L688.14,1272.17 L688.60,1273.06 L689.07,1273.94 L689.54,1274.83 L690.01,1275.71 L690.48,1276.59 L690.95,1277.47 L691.43,1278.35 L691.91,1279.23 L692.39,1280.11 L692.87,1280.98 L693.36,1281.86 L693.84,1282.73 L694.33,1283.60 L694.83,1284.47 L695.32,1285.34 L695.82,1286.21 L696.32,1287.07 L696.82,1287.94 L697.32,1288.80 L697.83,1289.67 L698.34,1290.53 L698.85,1291.39 L699.36,1292.24 L699.88,1293.10 L700.39,1293.96 L700.91,1294.81 L701.43,1295.67 L701.96,1296.52 L702.48,1297.37 L703.01,1298.22 L703.54,1299.07 L704.07,1299.92 L704.60,1300.76 L705.13,1301.61 L705.67,1302.45 L706.21,1303.30 L706.74,1304.14 L707.28,1304.98 L707.83,1305.82 L708.37,1306.66 L708.91,1307.50 L709.46,1308.34 L710.01,1309.17 L710.56,1310.01 L711.11,1310.84 L711.66,1311.68 L712.22,1312.51 L712.77,1313.34 L713.33,1314.17 L713.89,1315.00 L714.46,1315.82 L715.03,1316.64 L715.60,1317.47 L716.17,1318.28 L716.75,1319.10 L717.33,1319.91 L717.92,1320.72 L718.51,1321.53 L719.10,1322.33 L719.70,1323.13 L720.31,1323.93 L720.92,1324.72 L721.53,1325.51 L722.15,1326.30 L722.77,1327.08 L723.40,1327.86 L724.03,1328.63 L724.66,1329.41 L725.30,1330.18 L725.93,1330.95 L726.57,1331.72 L727.21,1332.49 L727.86,1333.26 L728.50,1334.02 L729.15,1334.78 L729.81,1335.53 L730.47,1336.29 L731.13,1337.03 L731.80,1337.78 L732.47,1338.52 L733.14,1339.26 L733.82,1339.99 L734.51,1340.72 L735.20,1341.44 L735.90,1342.15 L736.61,1342.86 L737.32,1343.56 L738.04,1344.26 L738.76,1344.94 L739.50,1345.62 L740.24,1346.29 L740.99,1346.96 L741.74,1347.61 L742.50,1348.26 L743.27,1348.90 L744.04,1349.54 L744.81,1350.17 L745.59,1350.80 L746.38,1351.42 L747.17,1352.03 L747.96,1352.64 L748.76,1353.24 L749.56,1353.84 L750.37,1354.42 L751.19,1355.00 L752.01,1355.58 L752.83,1356.14 L753.67,1356.69 L754.50,1357.24 L755.35,1357.77 L756.20,1358.30 L757.06,1358.81 L757.92,1359.31 L758.79,1359.81 L759.66,1360.29 L760.55,1360.76 L761.43,1361.22 L762.32,1361.68 L763.21,1362.13 L764.11,1362.58 L765.01,1363.02 L765.91,1363.45 L766.81,1363.88 L767.72,1364.30 L768.63,1364.72 L769.54,1365.13 L770.45,1365.54 L771.37,1365.94 L772.29,1366.33 L773.21,1366.72 L774.13,1367.10 L775.06,1367.48 L775.99,1367.85 L776.92,1368.21 L777.85,1368.56 L778.79,1368.91 L779.73,1369.25 L780.67,1369.59 L781.62,1369.91 L782.57,1370.23 L783.52,1370.54 L784.47,1370.85 L785.42,1371.15 L786.38,1371.43 L787.34,1371.71 L788.30,1371.99 L789.27,1372.25 L790.23,1372.51 L791.20,1372.76 L792.17,1373.01 L793.14,1373.24 L794.11,1373.48 L795.09,1373.70 L796.06,1373.93 L797.04,1374.14 L798.01,1374.35 L798.99,1374.56 L799.97,1374.77 L800.95,1374.96 L801.93,1375.16 L802.91,1375.35 L803.90,1375.54 L804.88,1375.73 L805.86,1375.91 L806.84,1376.09 L807.83,1376.27 L808.81,1376.45 L809.80,1376.63 L810.78,1376.80 L811.77,1376.98 L812.75,1377.15 L813.73,1377.32 L814.72,1377.50 L815.70,1377.67 L816.69,1377.85 L817.67,1378.02 L818.66,1378.20 L819.64,1378.38 L820.63,1378.56 L821.61,1378.74 L822.59,1378.92 L823.57,1379.11 L824.56,1379.30 L825.54,1379.49 L826.52,1379.68 L827.50,1379.88 L828.48,1380.07 L829.46,1380.26 L830.44,1380.46 L831.42,1380.65 L832.41,1380.84 L833.39,1381.03 L834.37,1381.23 L835.35,1381.42 L836.33,1381.61 L837.31,1381.81 L838.29,1382.01 L839.27,1382.22 L840.25,1382.42 L841.22,1382.64 L842.20,1382.86 L843.17,1383.09 L844.14,1383.32 L845.11,1383.57 L846.08,1383.82 L847.05,1384.08 L848.01,1384.36 L848.97,1384.64 L849.92,1384.93 L850.87,1385.23 L851.83,1385.54 L852.77,1385.86 L853.72,1386.19 L854.66,1386.52 L855.60,1386.86 L856.54,1387.20 L857.48,1387.54 L858.42,1387.89 L859.35,1388.25 L860.29,1388.60 L861.22,1388.96 L862.16,1389.31 L863.09,1389.67 L864.02,1390.03 L864.96,1390.39 L865.89,1390.75 L866.83,1391.10 L867.76,1391.46 L868.69,1391.82 L869.62,1392.18 L870.55,1392.55 L871.48,1392.92 L872.41,1393.29 L873.34,1393.66 L874.27,1394.04 L875.19,1394.41 L876.12,1394.79 L877.05,1395.17 L877.97,1395.55 L878.90,1395.93 L879.82,1396.31 L880.74,1396.69 L881.67,1397.07 L882.59,1397.45 L883.52,1397.83 L884.44,1398.21 L885.37,1398.59 L886.30,1398.97 L887.22,1399.34 L888.15,1399.72 L889.08,1400.09 L890.01,1400.46 L890.94,1400.83 L891.86,1401.20 L892.79,1401.57 L893.72,1401.94 L894.65,1402.31 L895.58,1402.68 L896.51,1403.05 L897.44,1403.42 L898.37,1403.79 L899.30,1404.16 L900.23,1404.53 L901.16,1404.90 L902.09,1405.27 L903.02,1405.64 L903.94,1406.01 L904.87,1406.38 L905.80,1406.75 L906.73,1407.12 L907.66,1407.49 L908.59,1407.86 L909.52,1408.23 L910.45,1408.60 L911.37,1408.97 L912.30,1409.34 L913.23,1409.72 L914.16,1410.09 L915.09,1410.46 L916.02,1410.83 L916.94,1411.20 L917.87,1411.58 L918.80,1411.95 L919.73,1412.32 L920.66,1412.70 L921.58,1413.07 L922.51,1413.44 L923.44,1413.81 L924.37,1414.19 L925.30,1414.56 L926.22,1414.93 L927.15,1415.30 L928.08,1415.68 L929.01,1416.05 L929.93,1416.42 L930.86,1416.79 L931.79,1417.17 L932.72,1417.54 L933.65,1417.91 L934.57,1418.29 L935.50,1418.66 L936.43,1419.03 L937.36,1419.40 L938.29,1419.78 L939.21,1420.15 L940.14,1420.52 L941.07,1420.90 L942.00,1421.27 L942.93,1421.64 L943.85,1422.01 L944.78,1422.38 L945.71,1422.76 L946.64,1423.13 L947.57,1423.50 L948.50,1423.87 L949.42,1424.24 L950.35,1424.62 L951.28,1424.99 L952.21,1425.37 L953.13,1425.74 L954.06,1426.12 L954.98,1426.50 L955.91,1426.88 L956.83,1427.26 L957.76,1427.64 L958.68,1428.02 L959.61,1428.40 L960.53,1428.78 L961.46,1429.16 L962.39,1429.53 L963.31,1429.90 L964.24,1430.27 L965.18,1430.64 L966.11,1431.00 L967.04,1431.36 L967.98,1431.71 L968.92,1432.06 L969.85,1432.40 L970.80,1432.74 L971.74,1433.07 L972.68,1433.40 L973.63,1433.73 L974.57,1434.05 L975.52,1434.37 L976.47,1434.69 L977.41,1435.01 L978.36,1435.33 L979.31,1435.65 L980.26,1435.96 L981.21,1436.27 L982.16,1436.59 L983.11,1436.89 L984.06,1437.20 L985.02,1437.51 L985.97,1437.81 L986.92,1438.11 L987.88,1438.41 L988.83,1438.71 L989.78,1439.01 L990.74,1439.30 L991.70,1439.59 L992.65,1439.88 L993.61,1440.17 L994.57,1440.46 L995.53,1440.74 L996.49,1441.02 L997.45,1441.30 L998.41,1441.58 L999.37,1441.85 L1000.33,1442.12 L1001.30,1442.39 L1002.26,1442.66 L1003.22,1442.93 L1004.19,1443.19 L1005.16,1443.45 L1006.12,1443.70 L1007.09,1443.96 L1008.06,1444.21 L1009.03,1444.46 L1010.00,1444.70 L1010.97,1444.94 L1011.94,1445.18 L1012.91,1445.42 L1013.88,1445.66 L1014.85,1445.89 L1015.82,1446.12 L1016.80,1446.35 L1017.77,1446.58 L1018.75,1446.81 L1019.72,1447.03 L1020.70,1447.25 L1021.67,1447.47 L1022.65,1447.69 L1023.62,1447.91 L1024.60,1448.13 L1025.58,1448.34 L1026.55,1448.55 L1027.53,1448.76 L1028.51,1448.97 L1029.49,1449.18 L1030.47,1449.38 L1031.44,1449.59 L1032.42,1449.79 L1033.40,1449.99 L1034.38,1450.19 L1035.36,1450.38 L1036.34,1450.58 L1037.33,1450.77 L1038.31,1450.96 L1039.29,1451.15 L1040.27,1451.34 L1041.25,1451.53 L1042.24,1451.71 L1043.22,1451.89 L1044.20,1452.07 L1045.19,1452.25 L1046.17,1452.43 L1047.16,1452.60 L1048.14,1452.78 L1049.13,1452.95 L1050.11,1453.12 L1051.10,1453.29 L1052.08,1453.45 L1053.07,1453.62 L1054.06,1453.78 L1055.04,1453.94 L1056.03,1454.10 L1057.02,1454.25 L1058.01,1454.41 L1059.00,1454.56 L1059.98,1454.71 L1060.97,1454.86 L1061.96,1455.00 L1062.95,1455.15 L1063.94,1455.29 L1064.93,1455.43 L1065.92,1455.57 L1066.91,1455.71 L1067.90,1455.84 L1068.89,1455.97 L1069.88,1456.10 L1070.87,1456.23 L1071.84,1456.36 L1072.77,1456.47 L1073.65,1456.58 L1074.43,1456.68 L1075.08,1456.76" fill="none" stroke="#000" stroke-width="2" stroke-opacity="1.0" stroke-linejoin="round" stroke-linecap="round" clip-path="url(#cib)"/>
<path d="M634.52,1162.39 L634.72,1162.94 L634.97,1163.62 L635.25,1164.41 L635.56,1165.28 L635.88,1166.18 L636.21,1167.11 L636.54,1168.05 L636.87,1169.00 L637.19,1169.94 L637.52,1170.89 L637.84,1171.83 L638.15,1172.78 L638.47,1173.73 L638.78,1174.68 L639.08,1175.64 L639.38,1176.59 L639.68,1177.54 L639.97,1178.50 L640.26,1179.46 L640.55,1180.42 L640.83,1181.37 L641.11,1182.33 L641.39,1183.29 L641.67,1184.26 L641.94,1185.22 L642.22,1186.18 L642.49,1187.14 L642.77,1188.10 L643.05,1189.06 L643.32,1190.02 L643.60,1190.98 L643.88,1191.94 L644.17,1192.90 L644.45,1193.86 L644.74,1194.82 L645.03,1195.77 L645.33,1196.73 L645.64,1197.68 L645.94,1198.63 L646.26,1199.58 L646.58,1200.53 L646.92,1201.47 L647.26,1202.41 L647.60,1203.35 L647.95,1204.28 L648.31,1205.22 L648.68,1206.15 L649.04,1207.08 L649.42,1208.01 L649.79,1208.93 L650.17,1209.86 L650.56,1210.78 L650.95,1211.70 L651.34,1212.62 L651.74,1213.54 L652.14,1214.45 L652.55,1215.37 L652.96,1216.28 L653.38,1217.19 L653.80,1218.09 L654.23,1219.00 L654.66,1219.90 L655.10,1220.79 L655.55,1221.69 L656.00,1222.58 L656.46,1223.47 L656.93,1224.35 L657.40,1225.23 L657.88,1226.11 L658.37,1226.98 L658.86,1227.85 L659.36,1228.72 L659.87,1229.58 L660.39,1230.43 L660.91,1231.29 L661.44,1232.14 L661.97,1232.98 L662.51,1233.82 L663.06,1234.66 L663.61,1235.49 L664.17,1236.32 L664.73,1237.15 L665.30,1237.97 L665.88,1238.79 L666.46,1239.60 L667.05,1240.41 L667.64,1241.21 L668.24,1242.02 L668.84,1242.81 L669.45,1243.61 L670.06,1244.40 L670.68,1245.19 L671.30,1245.97 L671.92,1246.75 L672.55,1247.53 L673.18,1248.31 L673.81,1249.08 L674.45,1249.85 L675.09,1250.62 L675.74,1251.38 L676.39,1252.14 L677.04,1252.90 L677.70,1253.65 L678.36,1254.40 L679.03,1255.15 L679.70,1255.89 L680.37,1256.63 L681.05,1257.36 L681.73,1258.09 L682.42,1258.82 L683.11,1259.55 L683.80,1260.27 L684.49,1260.99 L685.19,1261.70 L685.89,1262.41 L686.60,1263.12 L687.31,1263.83 L688.02,1264.53 L688.73,1265.23 L689.44,1265.93 L690.16,1266.63 L690.88,1267.32 L691.60,1268.02 L692.33,1268.71 L693.05,1269.40 L693.78,1270.08 L694.50,1270.77 L695.23,1271.46 L695.96,1272.14 L696.69,1272.82 L697.42,1273.51 L698.16,1274.18 L698.89,1274.86 L699.63,1275.54 L700.37,1276.21 L701.11,1276.88 L701.86,1277.54 L702.61,1278.21 L703.36,1278.86 L704.12,1279.52 L704.88,1280.17 L705.64,1280.81 L706.41,1281.45 L707.19,1282.08 L707.97,1282.71 L708.75,1283.32 L709.55,1283.94 L710.34,1284.54 L711.15,1285.13 L711.95,1285.72 L712.77,1286.30 L713.59,1286.87 L714.42,1287.43 L715.25,1287.99 L716.08,1288.54 L716.92,1289.08 L717.76,1289.62 L718.61,1290.15 L719.46,1290.68 L720.32,1291.20 L721.17,1291.71 L722.04,1292.22 L722.90,1292.72 L723.77,1293.22 L724.64,1293.71 L725.51,1294.20 L726.39,1294.68 L727.27,1295.16 L728.15,1295.63 L729.03,1296.10 L729.91,1296.56 L730.80,1297.03 L731.69,1297.49 L732.57,1297.96 L733.45,1298.43 L734.34,1298.90 L735.22,1299.37 L736.10,1299.85 L736.98,1300.32 L737.86,1300.79 L738.74,1301.26 L739.63,1301.73 L740.52,1302.18 L741.41,1302.62 L742.32,1303.06 L743.22,1303.47 L744.14,1303.87 L745.06,1304.25 L746.00,1304.60 L746.94,1304.93 L747.89,1305.23 L748.85,1305.50 L749.82,1305.73 L750.79,1305.94 L751.77,1306.13 L752.76,1306.30 L753.74,1306.45 L754.73,1306.58 L755.73,1306.71 L756.72,1306.83 L757.71,1306.94 L758.71,1307.05 L759.70,1307.15 L760.70,1307.24 L761.69,1307.34 L762.69,1307.42 L763.69,1307.51 L764.68,1307.59 L765.68,1307.67 L766.68,1307.75 L767.67,1307.83 L768.67,1307.91 L769.67,1307.99 L770.66,1308.06 L771.66,1308.14 L772.66,1308.20 L773.66,1308.27 L774.65,1308.33 L775.65,1308.40 L776.65,1308.46 L777.65,1308.51 L778.65,1308.57 L779.64,1308.63 L780.64,1308.69 L781.64,1308.75 L782.64,1308.81 L783.64,1308.88 L784.63,1308.95 L785.63,1309.02 L786.63,1309.10 L787.62,1309.19 L788.62,1309.29 L789.61,1309.39 L790.61,1309.51 L791.60,1309.63 L792.59,1309.77 L793.58,1309.92 L794.56,1310.08 L795.55,1310.24 L796.53,1310.42 L797.51,1310.61 L798.49,1310.81 L799.47,1311.02 L800.45,1311.24 L801.42,1311.46 L802.39,1311.70 L803.36,1311.94 L804.33,1312.20 L805.29,1312.48 L806.24,1312.77 L807.20,1313.07 L808.14,1313.39 L809.08,1313.73 L810.02,1314.08 L810.95,1314.44 L811.88,1314.81 L812.81,1315.19 L813.73,1315.57 L814.65,1315.97 L815.56,1316.37 L816.47,1316.79 L817.38,1317.20 L818.28,1317.63 L819.18,1318.07 L820.07,1318.52 L820.96,1318.99 L821.84,1319.46 L822.71,1319.95 L823.58,1320.44 L824.44,1320.94 L825.30,1321.46 L826.16,1321.97 L827.01,1322.50 L827.86,1323.03 L828.70,1323.56 L829.55,1324.09 L830.39,1324.63 L831.23,1325.17 L832.07,1325.71 L832.92,1326.25 L833.76,1326.79 L834.60,1327.33 L835.45,1327.87 L836.29,1328.40 L837.14,1328.93 L837.98,1329.46 L838.83,1329.99 L839.68,1330.53 L840.53,1331.06 L841.37,1331.59 L842.21,1332.13 L843.05,1332.68 L843.88,1333.23 L844.71,1333.79 L845.54,1334.36 L846.36,1334.93 L847.17,1335.51 L847.98,1336.09 L848.79,1336.69 L849.59,1337.28 L850.39,1337.89 L851.18,1338.49 L851.97,1339.10 L852.76,1339.72 L853.55,1340.34 L854.33,1340.96 L855.11,1341.58 L855.89,1342.21 L856.66,1342.84 L857.44,1343.48 L858.21,1344.11 L858.98,1344.75 L859.75,1345.39 L860.52,1346.03 L861.28,1346.67 L862.05,1347.32 L862.81,1347.96 L863.58,1348.60 L864.34,1349.25 L865.10,1349.90 L865.86,1350.55 L866.63,1351.19 L867.39,1351.84 L868.14,1352.50 L868.90,1353.15 L869.65,1353.81 L870.41,1354.47 L871.16,1355.13 L871.91,1355.79 L872.65,1356.45 L873.40,1357.12 L874.14,1357.79 L874.88,1358.46 L875.63,1359.13 L876.37,1359.80 L877.11,1360.48 L877.84,1361.15 L878.58,1361.82 L879.32,1362.50 L880.06,1363.18 L880.79,1363.85 L881.53,1364.53 L882.27,1365.20 L883.01,1365.88 L883.74,1366.55 L884.48,1367.23 L885.22,1367.90 L885.96,1368.57 L886.70,1369.25 L887.44,1369.92 L888.18,1370.59 L888.92,1371.26 L889.66,1371.94 L890.40,1372.61 L891.14,1373.29 L891.88,1373.96 L892.61,1374.64 L893.35,1375.31 L894.08,1375.99 L894.82,1376.67 L895.56,1377.34 L896.29,1378.02 L897.03,1378.70 L897.77,1379.37 L898.50,1380.05 L899.24,1380.72 L899.98,1381.40 L900.72,1382.07 L901.46,1382.74 L902.20,1383.41 L902.95,1384.08 L903.69,1384.75 L904.44,1385.41 L905.19,1386.07 L905.94,1386.73 L906.70,1387.39 L907.45,1388.04 L908.21,1388.69 L908.97,1389.35 L909.73,1389.99 L910.49,1390.64 L911.25,1391.29 L912.02,1391.94 L912.78,1392.59 L913.54,1393.23 L914.30,1393.88 L915.07,1394.52 L915.84,1395.17 L916.60,1395.81 L917.37,1396.45 L918.14,1397.08 L918.92,1397.72 L919.69,1398.35 L920.47,1398.98 L921.25,1399.60 L922.03,1400.22 L922.82,1400.84 L923.61,1401.45 L924.40,1402.06 L925.20,1402.66 L926.00,1403.26 L926.81,1403.85 L927.62,1404.44 L928.43,1405.02 L929.25,1405.59 L930.07,1406.16 L930.90,1406.72 L931.73,1407.28 L932.56,1407.83 L933.40,1408.38 L934.24,1408.92 L935.08,1409.46 L935.93,1409.99 L936.78,1410.52 L937.63,1411.05 L938.48,1411.57 L939.34,1412.09 L940.20,1412.60 L941.06,1413.11 L941.92,1413.61 L942.79,1414.12 L943.65,1414.62 L944.52,1415.11 L945.39,1415.61 L946.26,1416.10 L947.13,1416.58 L948.01,1417.07 L948.88,1417.55 L949.76,1418.03 L950.64,1418.51 L951.52,1418.99 L952.40,1419.46 L953.28,1419.94 L954.16,1420.41 L955.05,1420.87 L955.93,1421.34 L956.82,1421.80 L957.71,1422.26 L958.60,1422.72 L959.49,1423.17 L960.38,1423.62 L961.27,1424.07 L962.17,1424.51 L963.07,1424.95 L963.97,1425.39 L964.87,1425.82 L965.77,1426.25 L966.68,1426.67 L967.59,1427.09 L968.50,1427.51 L969.41,1427.92 L970.32,1428.33 L971.23,1428.73 L972.15,1429.13 L973.07,1429.53 L973.99,1429.93 L974.90,1430.32 L975.82,1430.72 L976.74,1431.11 L977.66,1431.50 L978.58,1431.89 L979.51,1432.28 L980.43,1432.66 L981.35,1433.05 L982.28,1433.43 L983.20,1433.81 L984.12,1434.19 L985.05,1434.57 L985.98,1434.95 L986.91,1435.32 L987.83,1435.69 L988.76,1436.06 L989.69,1436.43 L990.63,1436.79 L991.56,1437.15 L992.49,1437.51 L993.43,1437.86 L994.36,1438.22 L995.30,1438.57 L996.24,1438.91 L997.18,1439.26 L998.12,1439.60 L999.06,1439.93 L1000.00,1440.27 L1000.94,1440.60 L1001.89,1440.92 L1002.84,1441.25 L1003.78,1441.56 L1004.73,1441.88 L1005.68,1442.19 L1006.64,1442.49 L1007.59,1442.80 L1008.54,1443.09 L1009.50,1443.38 L1010.46,1443.67 L1011.42,1443.96 L1012.38,1444.23 L1013.34,1444.51 L1014.30,1444.78 L1015.27,1445.05 L1016.23,1445.31 L1017.20,1445.57 L1018.16,1445.82 L1019.13,1446.08 L1020.10,1446.32 L1021.07,1446.57 L1022.04,1446.81 L1023.01,1447.05 L1023.98,1447.29 L1024.95,1447.53 L1025.92,1447.76 L1026.90,1447.99 L1027.87,1448.22 L1028.85,1448.44 L1029.82,1448.66 L1030.80,1448.88 L1031.77,1449.10 L1032.75,1449.32 L1033.72,1449.53 L1034.70,1449.75 L1035.68,1449.96 L1036.66,1450.17 L1037.63,1450.38 L1038.61,1450.59 L1039.59,1450.79 L1040.57,1451.00 L1041.55,1451.20 L1042.53,1451.40 L1043.51,1451.60 L1044.49,1451.81 L1045.47,1452.01 L1046.45,1452.21 L1047.43,1452.41 L1048.41,1452.61 L1049.39,1452.81 L1050.37,1453.00 L1051.35,1453.20 L1052.33,1453.40 L1053.31,1453.60 L1054.29,1453.80 L1055.27,1454.00 L1056.25,1454.20 L1057.23,1454.39 L1058.21,1454.59 L1059.19,1454.78 L1060.17,1454.97 L1061.15,1455.17 L1062.13,1455.36 L1063.12,1455.54 L1064.10,1455.73 L1065.08,1455.92 L1066.06,1456.10 L1067.05,1456.29 L1068.03,1456.47 L1069.01,1456.65 L1069.99,1456.83 L1070.97,1457.01 L1071.93,1457.18 L1072.86,1457.35 L1073.73,1457.51 L1074.50,1457.65 L1075.15,1457.76" fill="none" stroke="#f33" stroke-width="1.0" stroke-opacity="0.55" stroke-linejoin="round" stroke-linecap="round" stroke-dasharray="2,1.5" clip-path="url(#cib)"/>
<path d="M634.52,1154.73 L634.72,1155.27 L634.97,1155.95 L635.25,1156.75 L635.56,1157.61 L635.88,1158.52 L636.21,1159.45 L636.54,1160.39 L636.87,1161.33 L637.19,1162.28 L637.52,1163.22 L637.84,1164.17 L638.15,1165.12 L638.47,1166.07 L638.78,1167.02 L639.08,1167.97 L639.38,1168.92 L639.68,1169.88 L639.97,1170.83 L640.26,1171.79 L640.55,1172.75 L640.83,1173.71 L641.11,1174.67 L641.39,1175.63 L641.67,1176.59 L641.94,1177.55 L642.22,1178.51 L642.49,1179.47 L642.77,1180.43 L643.05,1181.40 L643.32,1182.36 L643.60,1183.32 L643.88,1184.28 L644.17,1185.24 L644.45,1186.19 L644.74,1187.15 L645.03,1188.11 L645.33,1189.06 L645.64,1190.01 L645.94,1190.97 L646.26,1191.91 L646.58,1192.86 L646.92,1193.80 L647.26,1194.74 L647.60,1195.68 L647.96,1196.62 L648.32,1197.55 L648.68,1198.48 L649.05,1199.41 L649.43,1200.33 L649.81,1201.26 L650.20,1202.18 L650.59,1203.10 L650.98,1204.02 L651.38,1204.94 L651.78,1205.85 L652.19,1206.77 L652.60,1207.68 L653.02,1208.59 L653.44,1209.49 L653.87,1210.40 L654.30,1211.30 L654.74,1212.20 L655.18,1213.10 L655.62,1213.99 L656.07,1214.88 L656.52,1215.78 L656.98,1216.67 L657.44,1217.55 L657.91,1218.44 L658.38,1219.32 L658.85,1220.20 L659.33,1221.08 L659.81,1221.96 L660.29,1222.83 L660.78,1223.71 L661.27,1224.58 L661.76,1225.45 L662.26,1226.31 L662.77,1227.18 L663.27,1228.04 L663.79,1228.90 L664.30,1229.75 L664.82,1230.61 L665.34,1231.46 L665.87,1232.31 L666.40,1233.16 L666.94,1234.00 L667.48,1234.84 L668.02,1235.68 L668.57,1236.52 L669.12,1237.35 L669.68,1238.18 L670.24,1239.01 L670.81,1239.83 L671.38,1240.66 L671.95,1241.47 L672.53,1242.29 L673.11,1243.10 L673.70,1243.91 L674.30,1244.71 L674.89,1245.52 L675.49,1246.32 L676.10,1247.11 L676.71,1247.90 L677.33,1248.69 L677.95,1249.48 L678.57,1250.26 L679.20,1251.03 L679.83,1251.81 L680.47,1252.58 L681.11,1253.35 L681.75,1254.12 L682.40,1254.88 L683.05,1255.64 L683.70,1256.39 L684.36,1257.15 L685.02,1257.90 L685.68,1258.65 L686.35,1259.39 L687.02,1260.14 L687.69,1260.88 L688.36,1261.62 L689.03,1262.35 L689.71,1263.09 L690.39,1263.83 L691.07,1264.56 L691.75,1265.29 L692.44,1266.02 L693.12,1266.75 L693.81,1267.48 L694.49,1268.20 L695.18,1268.93 L695.88,1269.65 L696.57,1270.37 L697.27,1271.08 L697.97,1271.80 L698.67,1272.51 L699.38,1273.22 L700.08,1273.92 L700.79,1274.63 L701.50,1275.33 L702.22,1276.03 L702.93,1276.73 L703.65,1277.43 L704.37,1278.12 L705.09,1278.81 L705.82,1279.50 L706.54,1280.19 L707.27,1280.88 L708.00,1281.56 L708.73,1282.25 L709.46,1282.93 L710.19,1283.61 L710.93,1284.29 L711.66,1284.96 L712.40,1285.64 L713.14,1286.32 L713.87,1286.99 L714.61,1287.67 L715.35,1288.34 L716.09,1289.02 L716.83,1289.69 L717.57,1290.36 L718.31,1291.03 L719.05,1291.70 L719.80,1292.37 L720.54,1293.04 L721.29,1293.70 L722.04,1294.36 L722.80,1295.01 L723.56,1295.67 L724.32,1296.31 L725.08,1296.96 L725.85,1297.60 L726.63,1298.23 L727.41,1298.85 L728.19,1299.47 L728.98,1300.09 L729.78,1300.69 L730.58,1301.29 L731.38,1301.89 L732.18,1302.49 L732.98,1303.08 L733.79,1303.68 L734.59,1304.28 L735.39,1304.88 L736.19,1305.48 L736.99,1306.08 L737.79,1306.68 L738.59,1307.27 L739.40,1307.86 L740.22,1308.43 L741.04,1309.00 L741.87,1309.56 L742.71,1310.09 L743.56,1310.61 L744.43,1311.11 L745.31,1311.57 L746.20,1312.01 L747.11,1312.41 L748.04,1312.77 L748.98,1313.09 L749.94,1313.36 L750.90,1313.60 L751.88,1313.80 L752.86,1313.98 L753.85,1314.14 L754.84,1314.28 L755.83,1314.41 L756.82,1314.53 L757.81,1314.64 L758.81,1314.75 L759.80,1314.84 L760.80,1314.94 L761.79,1315.03 L762.79,1315.11 L763.79,1315.19 L764.78,1315.27 L765.78,1315.35 L766.78,1315.43 L767.77,1315.51 L768.77,1315.59 L769.77,1315.66 L770.77,1315.74 L771.76,1315.81 L772.76,1315.88 L773.76,1315.95 L774.76,1316.01 L775.75,1316.08 L776.75,1316.14 L777.75,1316.20 L778.75,1316.26 L779.75,1316.32 L780.74,1316.38 L781.74,1316.44 L782.74,1316.50 L783.74,1316.57 L784.74,1316.64 L785.73,1316.71 L786.73,1316.79 L787.73,1316.87 L788.72,1316.96 L789.72,1317.06 L790.71,1317.16 L791.71,1317.27 L792.70,1317.38 L793.69,1317.50 L794.68,1317.63 L795.67,1317.77 L796.66,1317.91 L797.65,1318.06 L798.64,1318.22 L799.63,1318.38 L800.61,1318.54 L801.60,1318.72 L802.58,1318.89 L803.56,1319.08 L804.55,1319.27 L805.52,1319.47 L806.50,1319.68 L807.48,1319.90 L808.45,1320.13 L809.42,1320.36 L810.39,1320.61 L811.36,1320.87 L812.32,1321.13 L813.28,1321.40 L814.24,1321.68 L815.20,1321.97 L816.15,1322.27 L817.10,1322.59 L818.05,1322.91 L818.99,1323.25 L819.92,1323.60 L820.85,1323.97 L821.77,1324.36 L822.69,1324.75 L823.60,1325.16 L824.51,1325.59 L825.41,1326.02 L826.31,1326.46 L827.20,1326.90 L828.09,1327.36 L828.98,1327.81 L829.87,1328.27 L830.76,1328.74 L831.64,1329.20 L832.53,1329.67 L833.41,1330.13 L834.30,1330.60 L835.19,1331.06 L836.08,1331.51 L836.97,1331.97 L837.86,1332.42 L838.75,1332.88 L839.64,1333.33 L840.53,1333.79 L841.42,1334.24 L842.30,1334.71 L843.18,1335.18 L844.06,1335.66 L844.93,1336.15 L845.80,1336.65 L846.66,1337.15 L847.52,1337.67 L848.37,1338.19 L849.22,1338.72 L850.06,1339.26 L850.91,1339.80 L851.74,1340.34 L852.57,1340.90 L853.40,1341.46 L854.23,1342.02 L855.05,1342.59 L855.87,1343.16 L856.69,1343.74 L857.50,1344.32 L858.31,1344.91 L859.12,1345.49 L859.93,1346.09 L860.73,1346.68 L861.53,1347.28 L862.33,1347.89 L863.12,1348.49 L863.91,1349.10 L864.71,1349.71 L865.49,1350.33 L866.28,1350.95 L867.06,1351.57 L867.84,1352.20 L868.61,1352.83 L869.38,1353.47 L870.15,1354.12 L870.91,1354.76 L871.66,1355.42 L872.42,1356.08 L873.16,1356.74 L873.91,1357.41 L874.65,1358.08 L875.39,1358.75 L876.13,1359.42 L876.86,1360.10 L877.60,1360.78 L878.33,1361.46 L879.06,1362.14 L879.79,1362.83 L880.52,1363.51 L881.26,1364.19 L881.99,1364.87 L882.72,1365.56 L883.45,1366.24 L884.18,1366.92 L884.92,1367.60 L885.65,1368.27 L886.39,1368.95 L887.13,1369.63 L887.86,1370.30 L888.60,1370.97 L889.34,1371.65 L890.08,1372.32 L890.82,1373.00 L891.56,1373.67 L892.29,1374.35 L893.03,1375.02 L893.77,1375.70 L894.50,1376.38 L895.24,1377.05 L895.98,1377.73 L896.71,1378.41 L897.45,1379.08 L898.19,1379.76 L898.92,1380.43 L899.66,1381.11 L900.40,1381.78 L901.14,1382.45 L901.88,1383.12 L902.63,1383.79 L903.37,1384.46 L904.12,1385.12 L904.87,1385.79 L905.62,1386.45 L906.37,1387.10 L907.13,1387.76 L907.89,1388.41 L908.64,1389.06 L909.40,1389.72 L910.16,1390.36 L910.93,1391.01 L911.69,1391.66 L912.45,1392.31 L913.21,1392.95 L913.98,1393.60 L914.74,1394.25 L915.51,1394.89 L916.27,1395.53 L917.04,1396.17 L917.81,1396.81 L918.58,1397.44 L919.36,1398.08 L920.13,1398.71 L920.91,1399.33 L921.70,1399.96 L922.48,1400.57 L923.27,1401.19 L924.06,1401.80 L924.86,1402.41 L925.66,1403.01 L926.46,1403.60 L927.27,1404.19 L928.08,1404.77 L928.90,1405.35 L929.72,1405.92 L930.54,1406.48 L931.37,1407.04 L932.21,1407.60 L933.04,1408.15 L933.88,1408.69 L934.72,1409.23 L935.57,1409.76 L936.41,1410.30 L937.26,1410.82 L938.12,1411.35 L938.97,1411.86 L939.83,1412.38 L940.69,1412.89 L941.55,1413.40 L942.41,1413.90 L943.28,1414.40 L944.15,1414.90 L945.01,1415.39 L945.89,1415.89 L946.76,1416.37 L947.63,1416.86 L948.51,1417.34 L949.38,1417.83 L950.26,1418.31 L951.14,1418.78 L952.02,1419.26 L952.90,1419.73 L953.78,1420.20 L954.67,1420.67 L955.55,1421.14 L956.44,1421.60 L957.32,1422.06 L958.21,1422.52 L959.10,1422.97 L960.00,1423.43 L960.89,1423.87 L961.78,1424.32 L962.68,1424.76 L963.58,1425.20 L964.48,1425.63 L965.38,1426.06 L966.29,1426.49 L967.20,1426.91 L968.10,1427.33 L969.01,1427.74 L969.93,1428.15 L970.84,1428.56 L971.76,1428.96 L972.67,1429.36 L973.59,1429.76 L974.51,1430.15 L975.43,1430.55 L976.35,1430.94 L977.27,1431.33 L978.19,1431.72 L979.11,1432.11 L980.03,1432.50 L980.95,1432.88 L981.88,1433.27 L982.80,1433.65 L983.73,1434.03 L984.65,1434.41 L985.58,1434.78 L986.51,1435.16 L987.43,1435.53 L988.36,1435.90 L989.29,1436.27 L990.22,1436.63 L991.16,1436.99 L992.09,1437.35 L993.02,1437.71 L993.96,1438.07 L994.89,1438.42 L995.83,1438.76 L996.77,1439.11 L997.71,1439.45 L998.65,1439.79 L999.59,1440.12 L1000.54,1440.46 L1001.48,1440.78 L1002.43,1441.11 L1003.38,1441.43 L1004.32,1441.74 L1005.27,1442.05 L1006.23,1442.36 L1007.18,1442.67 L1008.13,1442.96 L1009.09,1443.26 L1010.05,1443.55 L1011.00,1443.83 L1011.96,1444.12 L1012.92,1444.39 L1013.89,1444.66 L1014.85,1444.93 L1015.81,1445.20 L1016.78,1445.46 L1017.75,1445.71 L1018.71,1445.97 L1019.68,1446.22 L1020.65,1446.46 L1021.62,1446.71 L1022.59,1446.95 L1023.56,1447.19 L1024.53,1447.43 L1025.51,1447.66 L1026.48,1447.89 L1027.45,1448.12 L1028.43,1448.34 L1029.40,1448.57 L1030.38,1448.79 L1031.35,1449.01 L1032.33,1449.23 L1033.30,1449.44 L1034.28,1449.66 L1035.26,1449.87 L1036.24,1450.08 L1037.21,1450.29 L1038.19,1450.50 L1039.17,1450.70 L1040.15,1450.91 L1041.13,1451.11 L1042.11,1451.32 L1043.09,1451.52 L1044.07,1451.72 L1045.05,1451.92 L1046.02,1452.12 L1047.00,1452.32 L1047.98,1452.52 L1048.96,1452.72 L1049.94,1452.92 L1050.92,1453.12 L1051.90,1453.32 L1052.88,1453.52 L1053.86,1453.71 L1054.84,1453.91 L1055.82,1454.11 L1056.81,1454.31 L1057.79,1454.50 L1058.77,1454.70 L1059.75,1454.89 L1060.73,1455.08 L1061.71,1455.27 L1062.69,1455.46 L1063.67,1455.65 L1064.66,1455.84 L1065.64,1456.02 L1066.62,1456.21 L1067.61,1456.39 L1068.59,1456.57 L1069.57,1456.75 L1070.55,1456.93 L1071.52,1457.11 L1072.47,1457.28 L1073.37,1457.44 L1074.20,1457.59 L1074.91,1457.72 L1075.48,1457.82" fill="none" stroke="#f33" stroke-width="1.0" stroke-opacity="0.55" stroke-linejoin="round" stroke-linecap="round" stroke-dasharray="2,1.5" clip-path="url(#cib)"/>
<path d="M634.52,1141.95 L634.72,1142.50 L634.97,1143.18 L635.25,1143.97 L635.56,1144.83 L635.88,1145.74 L636.21,1146.67 L636.54,1147.61 L636.87,1148.55 L637.19,1149.50 L637.52,1150.45 L637.84,1151.39 L638.15,1152.34 L638.47,1153.29 L638.78,1154.24 L639.08,1155.19 L639.38,1156.15 L639.68,1157.10 L639.97,1158.06 L640.26,1159.02 L640.55,1159.97 L640.83,1160.93 L641.11,1161.89 L641.39,1162.85 L641.67,1163.81 L641.94,1164.78 L642.22,1165.74 L642.49,1166.70 L642.77,1167.66 L643.05,1168.62 L643.32,1169.58 L643.60,1170.54 L643.88,1171.50 L644.17,1172.46 L644.45,1173.42 L644.74,1174.38 L645.03,1175.33 L645.33,1176.29 L645.64,1177.24 L645.94,1178.19 L646.26,1179.14 L646.58,1180.08 L646.92,1181.03 L647.26,1181.97 L647.60,1182.90 L647.96,1183.84 L648.32,1184.77 L648.69,1185.70 L649.06,1186.63 L649.43,1187.56 L649.81,1188.48 L650.20,1189.40 L650.59,1190.32 L650.99,1191.24 L651.39,1192.16 L651.79,1193.07 L652.20,1193.99 L652.62,1194.90 L653.03,1195.80 L653.46,1196.71 L653.88,1197.61 L654.32,1198.52 L654.75,1199.42 L655.19,1200.31 L655.64,1201.21 L656.09,1202.10 L656.54,1202.99 L656.99,1203.88 L657.45,1204.77 L657.91,1205.66 L658.38,1206.54 L658.85,1207.43 L659.32,1208.31 L659.80,1209.19 L660.28,1210.06 L660.77,1210.94 L661.26,1211.81 L661.75,1212.68 L662.25,1213.55 L662.75,1214.41 L663.25,1215.27 L663.76,1216.13 L664.28,1216.99 L664.79,1217.85 L665.31,1218.70 L665.84,1219.55 L666.37,1220.40 L666.90,1221.25 L667.43,1222.10 L667.97,1222.94 L668.50,1223.78 L669.05,1224.63 L669.59,1225.47 L670.13,1226.30 L670.68,1227.14 L671.23,1227.98 L671.78,1228.81 L672.33,1229.65 L672.88,1230.48 L673.43,1231.31 L673.99,1232.15 L674.54,1232.98 L675.10,1233.81 L675.66,1234.63 L676.23,1235.46 L676.79,1236.28 L677.36,1237.11 L677.94,1237.93 L678.51,1238.75 L679.09,1239.56 L679.67,1240.38 L680.25,1241.19 L680.83,1242.00 L681.42,1242.81 L682.00,1243.62 L682.59,1244.43 L683.18,1245.24 L683.77,1246.05 L684.36,1246.85 L684.96,1247.66 L685.55,1248.46 L686.14,1249.27 L686.74,1250.07 L687.33,1250.88 L687.92,1251.68 L688.52,1252.49 L689.11,1253.29 L689.70,1254.10 L690.29,1254.90 L690.88,1255.71 L691.47,1256.52 L692.06,1257.33 L692.64,1258.14 L693.23,1258.95 L693.81,1259.77 L694.39,1260.58 L694.96,1261.40 L695.54,1262.22 L696.11,1263.04 L696.68,1263.86 L697.25,1264.69 L697.81,1265.51 L698.38,1266.33 L698.94,1267.16 L699.51,1267.98 L700.07,1268.81 L700.64,1269.64 L701.20,1270.46 L701.77,1271.29 L702.33,1272.11 L702.90,1272.93 L703.47,1273.75 L704.04,1274.57 L704.62,1275.39 L705.20,1276.21 L705.78,1277.02 L706.36,1277.83 L706.95,1278.64 L707.54,1279.45 L708.14,1280.25 L708.74,1281.05 L709.35,1281.84 L709.96,1282.63 L710.58,1283.42 L711.21,1284.19 L711.84,1284.97 L712.48,1285.74 L713.12,1286.50 L713.77,1287.27 L714.42,1288.03 L715.07,1288.78 L715.73,1289.54 L716.38,1290.29 L717.04,1291.05 L717.70,1291.80 L718.37,1292.54 L719.04,1293.29 L719.71,1294.03 L720.39,1294.76 L721.07,1295.49 L721.75,1296.22 L722.45,1296.94 L723.14,1297.66 L723.85,1298.37 L724.56,1299.07 L725.28,1299.76 L726.01,1300.45 L726.75,1301.12 L727.49,1301.78 L728.25,1302.44 L729.02,1303.08 L729.80,1303.70 L730.59,1304.32 L731.38,1304.92 L732.18,1305.52 L732.99,1306.10 L733.81,1306.69 L734.62,1307.27 L735.44,1307.84 L736.26,1308.41 L737.09,1308.97 L737.92,1309.53 L738.75,1310.08 L739.59,1310.62 L740.44,1311.15 L741.30,1311.66 L742.17,1312.15 L743.04,1312.63 L743.93,1313.09 L744.83,1313.52 L745.74,1313.92 L746.66,1314.30 L747.60,1314.64 L748.55,1314.94 L749.51,1315.21 L750.48,1315.44 L751.45,1315.65 L752.43,1315.83 L753.42,1315.99 L754.41,1316.13 L755.40,1316.26 L756.39,1316.39 L757.38,1316.50 L758.38,1316.61 L759.37,1316.71 L760.37,1316.81 L761.36,1316.90 L762.36,1316.99 L763.36,1317.07 L764.35,1317.15 L765.35,1317.23 L766.35,1317.31 L767.34,1317.39 L768.34,1317.47 L769.34,1317.55 L770.33,1317.62 L771.33,1317.70 L772.33,1317.77 L773.33,1317.84 L774.32,1317.91 L775.32,1317.97 L776.32,1318.03 L777.32,1318.09 L778.32,1318.15 L779.31,1318.21 L780.31,1318.27 L781.31,1318.34 L782.31,1318.40 L783.31,1318.46 L784.30,1318.53 L785.30,1318.60 L786.30,1318.68 L787.30,1318.75 L788.29,1318.84 L789.29,1318.93 L790.28,1319.02 L791.28,1319.12 L792.27,1319.23 L793.27,1319.35 L794.26,1319.46 L795.25,1319.59 L796.24,1319.72 L797.23,1319.86 L798.22,1320.00 L799.21,1320.14 L800.20,1320.30 L801.19,1320.45 L802.17,1320.61 L803.16,1320.78 L804.14,1320.95 L805.13,1321.13 L806.11,1321.31 L807.09,1321.51 L808.07,1321.71 L809.05,1321.91 L810.03,1322.13 L811.00,1322.35 L811.97,1322.58 L812.95,1322.82 L813.91,1323.07 L814.88,1323.33 L815.84,1323.59 L816.80,1323.87 L817.76,1324.17 L818.71,1324.47 L819.65,1324.80 L820.59,1325.14 L821.53,1325.49 L822.46,1325.86 L823.38,1326.24 L824.30,1326.64 L825.21,1327.05 L826.12,1327.46 L827.02,1327.89 L827.93,1328.32 L828.83,1328.75 L829.72,1329.19 L830.62,1329.64 L831.52,1330.08 L832.41,1330.53 L833.31,1330.97 L834.20,1331.41 L835.10,1331.85 L836.00,1332.29 L836.90,1332.72 L837.80,1333.16 L838.71,1333.59 L839.61,1334.02 L840.51,1334.46 L841.41,1334.89 L842.30,1335.34 L843.19,1335.79 L844.08,1336.25 L844.96,1336.72 L845.84,1337.20 L846.71,1337.68 L847.58,1338.18 L848.45,1338.69 L849.30,1339.20 L850.16,1339.72 L851.01,1340.24 L851.86,1340.77 L852.70,1341.31 L853.54,1341.85 L854.37,1342.40 L855.21,1342.96 L856.04,1343.52 L856.86,1344.08 L857.69,1344.65 L858.50,1345.22 L859.32,1345.80 L860.13,1346.38 L860.95,1346.96 L861.75,1347.55 L862.56,1348.15 L863.36,1348.74 L864.16,1349.34 L864.96,1349.95 L865.75,1350.55 L866.54,1351.17 L867.33,1351.78 L868.11,1352.41 L868.89,1353.04 L869.66,1353.67 L870.42,1354.32 L871.18,1354.96 L871.94,1355.62 L872.69,1356.28 L873.44,1356.94 L874.19,1357.61 L874.93,1358.28 L875.66,1358.95 L876.40,1359.63 L877.13,1360.31 L877.87,1360.99 L878.60,1361.67 L879.33,1362.36 L880.06,1363.04 L880.79,1363.73 L881.51,1364.41 L882.24,1365.10 L882.97,1365.78 L883.70,1366.46 L884.44,1367.14 L885.17,1367.82 L885.90,1368.50 L886.64,1369.18 L887.38,1369.85 L888.12,1370.53 L888.86,1371.20 L889.59,1371.88 L890.33,1372.55 L891.07,1373.22 L891.81,1373.90 L892.55,1374.58 L893.28,1375.25 L894.02,1375.93 L894.75,1376.61 L895.49,1377.28 L896.23,1377.96 L896.96,1378.64 L897.70,1379.31 L898.44,1379.99 L899.17,1380.66 L899.91,1381.34 L900.65,1382.01 L901.39,1382.68 L902.14,1383.35 L902.88,1384.02 L903.63,1384.68 L904.37,1385.35 L905.12,1386.01 L905.88,1386.67 L906.63,1387.33 L907.39,1387.98 L908.14,1388.63 L908.90,1389.29 L909.66,1389.94 L910.42,1390.58 L911.18,1391.23 L911.95,1391.88 L912.71,1392.53 L913.47,1393.17 L914.24,1393.82 L915.00,1394.46 L915.77,1395.11 L916.53,1395.75 L917.30,1396.39 L918.07,1397.02 L918.85,1397.66 L919.62,1398.29 L920.40,1398.92 L921.18,1399.54 L921.96,1400.17 L922.75,1400.78 L923.54,1401.40 L924.33,1402.01 L925.13,1402.61 L925.93,1403.21 L926.73,1403.80 L927.54,1404.39 L928.36,1404.97 L929.18,1405.54 L930.00,1406.11 L930.83,1406.67 L931.66,1407.23 L932.49,1407.78 L933.33,1408.33 L934.17,1408.87 L935.01,1409.41 L935.85,1409.95 L936.70,1410.48 L937.55,1411.00 L938.41,1411.52 L939.26,1412.04 L940.12,1412.55 L940.98,1413.06 L941.84,1413.57 L942.71,1414.07 L943.57,1414.57 L944.44,1415.07 L945.31,1415.56 L946.18,1416.05 L947.05,1416.54 L947.93,1417.03 L948.80,1417.51 L949.68,1417.99 L950.56,1418.47 L951.44,1418.95 L952.32,1419.42 L953.20,1419.89 L954.08,1420.36 L954.97,1420.83 L955.85,1421.30 L956.74,1421.76 L957.63,1422.22 L958.51,1422.67 L959.41,1423.13 L960.30,1423.58 L961.19,1424.03 L962.09,1424.47 L962.99,1424.91 L963.89,1425.35 L964.79,1425.78 L965.69,1426.21 L966.60,1426.63 L967.50,1427.05 L968.41,1427.47 L969.32,1427.88 L970.24,1428.29 L971.15,1428.69 L972.07,1429.10 L972.98,1429.50 L973.90,1429.89 L974.82,1430.29 L975.74,1430.68 L976.66,1431.07 L977.58,1431.46 L978.50,1431.85 L979.42,1432.24 L980.34,1432.63 L981.27,1433.01 L982.19,1433.40 L983.12,1433.78 L984.04,1434.16 L984.97,1434.54 L985.89,1434.91 L986.82,1435.29 L987.75,1435.66 L988.68,1436.03 L989.61,1436.39 L990.54,1436.76 L991.47,1437.12 L992.41,1437.48 L993.34,1437.83 L994.28,1438.18 L995.21,1438.53 L996.15,1438.88 L997.09,1439.23 L998.03,1439.57 L998.97,1439.90 L999.91,1440.24 L1000.86,1440.57 L1001.80,1440.89 L1002.75,1441.22 L1003.70,1441.53 L1004.65,1441.85 L1005.60,1442.16 L1006.55,1442.47 L1007.50,1442.77 L1008.46,1443.07 L1009.41,1443.36 L1010.37,1443.65 L1011.33,1443.93 L1012.29,1444.21 L1013.25,1444.48 L1014.21,1444.75 L1015.18,1445.02 L1016.14,1445.28 L1017.11,1445.54 L1018.07,1445.80 L1019.04,1446.05 L1020.01,1446.30 L1020.98,1446.55 L1021.95,1446.79 L1022.92,1447.03 L1023.89,1447.27 L1024.86,1447.51 L1025.84,1447.74 L1026.81,1447.97 L1027.78,1448.20 L1028.76,1448.42 L1029.73,1448.64 L1030.71,1448.86 L1031.68,1449.08 L1032.66,1449.30 L1033.64,1449.52 L1034.61,1449.73 L1035.59,1449.94 L1036.57,1450.15 L1037.55,1450.36 L1038.52,1450.57 L1039.50,1450.77 L1040.48,1450.98 L1041.46,1451.18 L1042.44,1451.38 L1043.42,1451.59 L1044.40,1451.79 L1045.38,1451.99 L1046.36,1452.19 L1047.34,1452.39 L1048.32,1452.59 L1049.30,1452.79 L1050.28,1452.99 L1051.26,1453.19 L1052.24,1453.38 L1053.22,1453.58 L1054.20,1453.78 L1055.18,1453.98 L1056.16,1454.18 L1057.14,1454.37 L1058.12,1454.57 L1059.10,1454.76 L1060.08,1454.96 L1061.06,1455.15 L1062.04,1455.34 L1063.03,1455.53 L1064.01,1455.72 L1064.99,1455.90 L1065.97,1456.09 L1066.96,1456.27 L1067.94,1456.45 L1068.92,1456.64 L1069.90,1456.82 L1070.88,1456.99 L1071.85,1457.17 L1072.80,1457.34 L1073.71,1457.50 L1074.53,1457.65 L1075.25,1457.78 L1075.82,1457.88" fill="none" stroke="#e00" stroke-width="1.2" stroke-opacity="0.75" stroke-linejoin="round" stroke-linecap="round" stroke-dasharray="4,2" clip-path="url(#cib)"/>
<path d="M634.52,1141.95 L634.72,1142.50 L634.97,1143.18 L635.25,1143.97 L635.56,1144.83 L635.88,1145.74 L636.21,1146.67 L636.54,1147.61 L636.87,1148.55 L637.19,1149.50 L637.52,1150.45 L637.84,1151.39 L638.15,1152.34 L638.47,1153.29 L638.78,1154.24 L639.08,1155.19 L639.38,1156.15 L639.68,1157.10 L639.97,1158.06 L640.26,1159.02 L640.55,1159.97 L640.83,1160.93 L641.11,1161.89 L641.39,1162.85 L641.67,1163.81 L641.94,1164.78 L642.22,1165.74 L642.49,1166.70 L642.77,1167.66 L643.05,1168.62 L643.32,1169.58 L643.60,1170.54 L643.88,1171.50 L644.17,1172.46 L644.45,1173.42 L644.74,1174.38 L645.03,1175.33 L645.33,1176.29 L645.64,1177.24 L645.94,1178.19 L646.26,1179.14 L646.58,1180.08 L646.92,1181.03 L647.26,1181.97 L647.60,1182.90 L647.96,1183.84 L648.32,1184.77 L648.69,1185.70 L649.06,1186.63 L649.43,1187.56 L649.81,1188.48 L650.20,1189.40 L650.59,1190.32 L650.99,1191.24 L651.39,1192.16 L651.79,1193.07 L652.20,1193.99 L652.62,1194.90 L653.03,1195.80 L653.46,1196.71 L653.88,1197.61 L654.32,1198.52 L654.75,1199.42 L655.19,1200.31 L655.64,1201.21 L656.09,1202.10 L656.54,1202.99 L656.99,1203.88 L657.45,1204.77 L657.91,1205.66 L658.38,1206.54 L658.85,1207.43 L659.32,1208.31 L659.80,1209.19 L660.28,1210.06 L660.77,1210.94 L661.26,1211.81 L661.75,1212.68 L662.25,1213.55 L662.75,1214.41 L663.25,1215.27 L663.76,1216.13 L664.28,1216.99 L664.79,1217.85 L665.31,1218.70 L665.84,1219.55 L666.37,1220.40 L666.90,1221.25 L667.43,1222.10 L667.97,1222.94 L668.50,1223.78 L669.05,1224.63 L669.59,1225.47 L670.13,1226.30 L670.68,1227.14 L671.23,1227.98 L671.78,1228.81 L672.33,1229.65 L672.88,1230.48 L673.43,1231.32 L673.99,1232.15 L674.54,1232.98 L675.10,1233.81 L675.65,1234.64 L676.21,1235.47 L676.78,1236.30 L677.34,1237.12 L677.90,1237.95 L678.47,1238.77 L679.04,1239.60 L679.61,1240.42 L680.18,1241.24 L680.76,1242.06 L681.33,1242.87 L681.91,1243.69 L682.49,1244.50 L683.07,1245.32 L683.65,1246.13 L684.24,1246.94 L684.83,1247.75 L685.42,1248.56 L686.01,1249.36 L686.60,1250.17 L687.19,1250.97 L687.79,1251.78 L688.39,1252.58 L688.99,1253.38 L689.59,1254.18 L690.19,1254.97 L690.80,1255.77 L691.40,1256.57 L692.01,1257.36 L692.62,1258.15 L693.23,1258.94 L693.84,1259.74 L694.45,1260.53 L695.07,1261.32 L695.68,1262.11 L696.29,1262.90 L696.90,1263.69 L697.51,1264.48 L698.13,1265.27 L698.74,1266.06 L699.36,1266.85 L699.98,1267.64 L700.59,1268.42 L701.22,1269.20 L701.84,1269.99 L702.47,1270.77 L703.10,1271.54 L703.73,1272.32 L704.37,1273.09 L705.01,1273.85 L705.65,1274.62 L706.30,1275.38 L706.96,1276.13 L707.62,1276.88 L708.29,1277.63 L708.96,1278.37 L709.64,1279.10 L710.33,1279.82 L711.02,1280.54 L711.73,1281.25 L712.44,1281.96 L713.15,1282.65 L713.87,1283.35 L714.60,1284.04 L715.33,1284.72 L716.06,1285.40 L716.80,1286.08 L717.54,1286.75 L718.28,1287.42 L719.03,1288.08 L719.78,1288.73 L720.54,1289.39 L721.31,1290.03 L722.08,1290.67 L722.85,1291.30 L723.64,1291.92 L724.42,1292.53 L725.22,1293.14 L726.02,1293.73 L726.84,1294.32 L727.65,1294.89 L728.48,1295.45 L729.32,1296.00 L730.16,1296.53 L731.01,1297.06 L731.87,1297.57 L732.73,1298.08 L733.59,1298.58 L734.46,1299.08 L735.33,1299.58 L736.20,1300.06 L737.08,1300.55 L737.96,1301.02 L738.84,1301.49 L739.73,1301.95 L740.63,1302.39 L741.53,1302.82 L742.43,1303.24 L743.35,1303.64 L744.27,1304.02 L745.20,1304.38 L746.14,1304.72 L747.09,1305.02 L748.05,1305.31 L749.01,1305.56 L749.98,1305.78 L750.96,1305.98 L751.94,1306.16 L752.93,1306.32 L753.92,1306.47 L754.91,1306.61 L755.90,1306.73 L756.89,1306.85 L757.89,1306.96 L758.88,1307.07 L759.88,1307.17 L760.87,1307.26 L761.87,1307.35 L762.86,1307.44 L763.86,1307.52 L764.86,1307.61 L765.85,1307.69 L766.85,1307.77 L767.85,1307.85 L768.84,1307.92 L769.84,1308.00 L770.84,1308.08 L771.84,1308.15 L772.83,1308.22 L773.83,1308.28 L774.83,1308.35 L775.83,1308.41 L776.83,1308.47 L777.82,1308.52 L778.82,1308.58 L779.82,1308.64 L780.82,1308.70 L781.82,1308.76 L782.82,1308.82 L783.81,1308.89 L784.81,1308.96 L785.81,1309.04 L786.80,1309.12 L787.80,1309.21 L788.79,1309.31 L789.79,1309.41 L790.78,1309.53 L791.77,1309.66 L792.76,1309.79 L793.75,1309.94 L794.74,1310.10 L795.72,1310.28 L796.71,1310.46 L797.69,1310.65 L798.67,1310.85 L799.64,1311.06 L800.62,1311.28 L801.59,1311.50 L802.56,1311.74 L803.53,1311.99 L804.50,1312.25 L805.46,1312.53 L806.41,1312.82 L807.36,1313.13 L808.31,1313.45 L809.25,1313.79 L810.19,1314.14 L811.12,1314.50 L812.04,1314.87 L812.97,1315.25 L813.89,1315.64 L814.81,1316.04 L815.72,1316.45 L816.63,1316.86 L817.54,1317.28 L818.44,1317.71 L819.34,1318.15 L820.23,1318.61 L821.11,1319.07 L821.99,1319.55 L822.86,1320.03 L823.73,1320.53 L824.59,1321.03 L825.45,1321.55 L826.31,1322.07 L827.16,1322.59 L828.01,1323.12 L828.85,1323.65 L829.70,1324.19 L830.54,1324.73 L831.38,1325.27 L832.22,1325.81 L833.06,1326.35 L833.91,1326.89 L834.75,1327.42 L835.59,1327.96 L836.44,1328.49 L837.29,1329.03 L838.13,1329.56 L838.98,1330.09 L839.83,1330.62 L840.67,1331.15 L841.52,1331.69 L842.36,1332.23 L843.20,1332.78 L844.03,1333.33 L844.86,1333.89 L845.68,1334.46 L846.50,1335.03 L847.31,1335.61 L848.12,1336.20 L848.93,1336.79 L849.73,1337.39 L850.53,1337.99 L851.32,1338.60 L852.11,1339.21 L852.90,1339.83 L853.69,1340.45 L854.47,1341.07 L855.25,1341.69 L856.03,1342.32 L856.80,1342.95 L857.57,1343.59 L858.35,1344.22 L859.12,1344.86 L859.88,1345.50 L860.65,1346.14 L861.42,1346.78 L862.18,1347.43 L862.95,1348.07 L863.71,1348.72 L864.48,1349.37 L865.24,1350.01 L866.00,1350.66 L866.76,1351.31 L867.52,1351.96 L868.28,1352.61 L869.03,1353.27 L869.79,1353.92 L870.54,1354.58 L871.29,1355.24 L872.04,1355.91 L872.78,1356.57 L873.53,1357.24 L874.27,1357.91 L875.02,1358.58 L875.76,1359.25 L876.50,1359.92 L877.24,1360.60 L877.97,1361.27 L878.71,1361.94 L879.45,1362.62 L880.19,1363.29 L880.92,1363.97 L881.66,1364.65 L882.40,1365.32 L883.14,1366.00 L883.87,1366.67 L884.61,1367.35 L885.35,1368.02 L886.09,1368.69 L886.83,1369.37 L887.57,1370.04 L888.31,1370.71 L889.05,1371.38 L889.79,1372.06 L890.53,1372.73 L891.27,1373.40 L892.01,1374.08 L892.74,1374.76 L893.48,1375.43 L894.21,1376.11 L894.95,1376.79 L895.69,1377.46 L896.42,1378.14 L897.16,1378.82 L897.90,1379.49 L898.63,1380.17 L899.37,1380.84 L900.11,1381.52 L900.85,1382.19 L901.59,1382.86 L902.34,1383.53 L903.08,1384.20 L903.83,1384.86 L904.57,1385.53 L905.32,1386.19 L906.08,1386.85 L906.83,1387.50 L907.59,1388.16 L908.35,1388.81 L909.10,1389.46 L909.87,1390.11 L910.63,1390.76 L911.39,1391.41 L912.15,1392.05 L912.91,1392.70 L913.68,1393.35 L914.44,1393.99 L915.20,1394.64 L915.97,1395.28 L916.74,1395.92 L917.51,1396.56 L918.28,1397.19 L919.05,1397.83 L919.83,1398.46 L920.61,1399.09 L921.39,1399.71 L922.17,1400.33 L922.96,1400.95 L923.75,1401.56 L924.54,1402.17 L925.34,1402.77 L926.14,1403.37 L926.95,1403.96 L927.76,1404.54 L928.58,1405.12 L929.40,1405.70 L930.22,1406.26 L931.05,1406.82 L931.88,1407.38 L932.71,1407.93 L933.55,1408.48 L934.39,1409.02 L935.23,1409.56 L936.08,1410.09 L936.93,1410.62 L937.78,1411.14 L938.63,1411.66 L939.49,1412.18 L940.35,1412.69 L941.21,1413.20 L942.07,1413.70 L942.94,1414.21 L943.80,1414.70 L944.67,1415.20 L945.54,1415.69 L946.41,1416.18 L947.29,1416.67 L948.16,1417.16 L949.04,1417.64 L949.92,1418.12 L950.79,1418.60 L951.67,1419.07 L952.55,1419.55 L953.43,1420.02 L954.32,1420.49 L955.20,1420.96 L956.09,1421.42 L956.97,1421.88 L957.86,1422.34 L958.75,1422.80 L959.64,1423.25 L960.54,1423.70 L961.43,1424.15 L962.33,1424.59 L963.23,1425.03 L964.13,1425.46 L965.03,1425.90 L965.93,1426.32 L966.84,1426.75 L967.75,1427.17 L968.66,1427.58 L969.57,1427.99 L970.48,1428.40 L971.40,1428.80 L972.31,1429.20 L973.23,1429.60 L974.15,1430.00 L975.07,1430.39 L975.99,1430.79 L976.91,1431.18 L977.83,1431.57 L978.75,1431.96 L979.67,1432.35 L980.59,1432.73 L981.51,1433.12 L982.44,1433.50 L983.36,1433.88 L984.29,1434.26 L985.21,1434.64 L986.14,1435.01 L987.07,1435.38 L988.00,1435.76 L988.93,1436.12 L989.86,1436.49 L990.79,1436.85 L991.72,1437.21 L992.66,1437.57 L993.59,1437.93 L994.53,1438.28 L995.46,1438.63 L996.40,1438.97 L997.34,1439.32 L998.28,1439.66 L999.22,1439.99 L1000.17,1440.33 L1001.11,1440.65 L1002.06,1440.98 L1003.00,1441.30 L1003.95,1441.62 L1004.90,1441.93 L1005.85,1442.24 L1006.80,1442.55 L1007.76,1442.85 L1008.71,1443.14 L1009.67,1443.44 L1010.63,1443.72 L1011.59,1444.01 L1012.55,1444.28 L1013.51,1444.56 L1014.47,1444.83 L1015.44,1445.09 L1016.40,1445.35 L1017.37,1445.61 L1018.33,1445.87 L1019.30,1446.12 L1020.27,1446.37 L1021.24,1446.61 L1022.21,1446.86 L1023.18,1447.10 L1024.15,1447.33 L1025.12,1447.57 L1026.10,1447.80 L1027.07,1448.03 L1028.04,1448.26 L1029.02,1448.48 L1029.99,1448.70 L1030.97,1448.92 L1031.94,1449.14 L1032.92,1449.36 L1033.90,1449.57 L1034.87,1449.79 L1035.85,1450.00 L1036.83,1450.21 L1037.81,1450.41 L1038.79,1450.62 L1039.76,1450.83 L1040.74,1451.03 L1041.72,1451.24 L1042.70,1451.44 L1043.68,1451.64 L1044.66,1451.84 L1045.64,1452.04 L1046.62,1452.24 L1047.60,1452.44 L1048.58,1452.64 L1049.56,1452.84 L1050.54,1453.04 L1051.52,1453.24 L1052.50,1453.44 L1053.48,1453.64 L1054.46,1453.83 L1055.44,1454.03 L1056.42,1454.23 L1057.40,1454.43 L1058.38,1454.62 L1059.36,1454.82 L1060.34,1455.01 L1061.33,1455.20 L1062.31,1455.39 L1063.29,1455.58 L1064.27,1455.77 L1065.25,1455.95 L1066.24,1456.14 L1067.22,1456.32 L1068.20,1456.50 L1069.19,1456.68 L1070.17,1456.86 L1071.14,1457.04 L1072.10,1457.22 L1073.03,1457.38 L1073.90,1457.54 L1074.68,1457.68 L1075.32,1457.79" fill="none" stroke="#f00" stroke-width="2" stroke-opacity="1.0" stroke-linejoin="round" stroke-linecap="round" clip-path="url(#cib)"/>
<path d="M650.56,1126.03 L650.65,1126.60 L650.76,1127.32 L650.90,1128.15 L651.04,1129.05 L651.20,1130.01 L651.35,1130.98 L651.51,1131.96 L651.68,1132.95 L651.84,1133.93 L652.00,1134.92 L652.17,1135.91 L652.34,1136.89 L652.50,1137.88 L652.67,1138.86 L652.84,1139.85 L653.02,1140.83 L653.19,1141.82 L653.36,1142.80 L653.54,1143.79 L653.72,1144.77 L653.90,1145.75 L654.09,1146.74 L654.27,1147.72 L654.46,1148.70 L654.65,1149.68 L654.84,1150.67 L655.03,1151.65 L655.23,1152.63 L655.42,1153.61 L655.62,1154.59 L655.82,1155.57 L656.02,1156.55 L656.23,1157.53 L656.43,1158.51 L656.64,1159.48 L656.85,1160.46 L657.06,1161.44 L657.27,1162.42 L657.48,1163.39 L657.70,1164.37 L657.92,1165.35 L658.14,1166.32 L658.36,1167.30 L658.59,1168.27 L658.82,1169.24 L659.05,1170.21 L659.29,1171.19 L659.53,1172.16 L659.77,1173.13 L660.02,1174.10 L660.27,1175.06 L660.52,1176.03 L660.78,1177.00 L661.04,1177.96 L661.31,1178.93 L661.57,1179.89 L661.85,1180.85 L662.12,1181.81 L662.40,1182.78 L662.68,1183.74 L662.96,1184.69 L663.24,1185.65 L663.53,1186.61 L663.82,1187.57 L664.12,1188.52 L664.41,1189.48 L664.71,1190.43 L665.02,1191.38 L665.32,1192.34 L665.63,1193.29 L665.95,1194.24 L666.26,1195.19 L666.58,1196.13 L666.90,1197.08 L667.23,1198.03 L667.55,1198.97 L667.88,1199.92 L668.22,1200.86 L668.55,1201.80 L668.89,1202.74 L669.23,1203.68 L669.58,1204.62 L669.93,1205.56 L670.28,1206.49 L670.63,1207.43 L670.99,1208.36 L671.35,1209.30 L671.71,1210.23 L672.08,1211.16 L672.45,1212.08 L672.83,1213.01 L673.21,1213.94 L673.59,1214.86 L673.97,1215.78 L674.36,1216.71 L674.75,1217.63 L675.15,1218.54 L675.55,1219.46 L675.95,1220.38 L676.35,1221.29 L676.76,1222.21 L677.17,1223.12 L677.58,1224.03 L677.99,1224.94 L678.40,1225.85 L678.82,1226.76 L679.23,1227.67 L679.65,1228.58 L680.07,1229.49 L680.49,1230.40 L680.90,1231.31 L681.32,1232.21 L681.74,1233.12 L682.16,1234.03 L682.57,1234.94 L682.99,1235.85 L683.40,1236.76 L683.82,1237.67 L684.23,1238.58 L684.64,1239.49 L685.05,1240.40 L685.46,1241.32 L685.87,1242.23 L686.28,1243.14 L686.69,1244.05 L687.10,1244.97 L687.51,1245.88 L687.92,1246.79 L688.33,1247.70 L688.74,1248.62 L689.15,1249.53 L689.56,1250.44 L689.97,1251.35 L690.38,1252.26 L690.80,1253.17 L691.21,1254.08 L691.63,1254.99 L692.05,1255.90 L692.47,1256.80 L692.90,1257.71 L693.32,1258.61 L693.75,1259.52 L694.19,1260.42 L694.62,1261.32 L695.06,1262.22 L695.50,1263.11 L695.95,1264.01 L696.40,1264.90 L696.85,1265.79 L697.31,1266.68 L697.78,1267.56 L698.25,1268.45 L698.73,1269.33 L699.21,1270.20 L699.70,1271.07 L700.19,1271.94 L700.69,1272.81 L701.19,1273.68 L701.70,1274.54 L702.21,1275.40 L702.73,1276.25 L703.25,1277.10 L703.77,1277.96 L704.30,1278.80 L704.84,1279.65 L705.37,1280.49 L705.91,1281.33 L706.46,1282.17 L707.00,1283.01 L707.55,1283.85 L708.10,1284.68 L708.66,1285.51 L709.21,1286.35 L709.77,1287.18 L710.33,1288.01 L710.88,1288.84 L711.44,1289.67 L712.00,1290.50 L712.56,1291.33 L713.11,1292.16 L713.67,1292.99 L714.23,1293.82 L714.78,1294.65 L715.33,1295.49 L715.88,1296.32 L716.43,1297.16 L716.98,1298.00 L717.52,1298.83 L718.07,1299.67 L718.61,1300.51 L719.16,1301.35 L719.70,1302.19 L720.24,1303.03 L720.78,1303.87 L721.33,1304.71 L721.87,1305.55 L722.41,1306.39 L722.96,1307.23 L723.50,1308.07 L724.04,1308.91 L724.59,1309.74 L725.14,1310.58 L725.68,1311.42 L726.23,1312.25 L726.78,1313.09 L727.34,1313.92 L727.89,1314.75 L728.45,1315.59 L729.01,1316.42 L729.57,1317.24 L730.13,1318.07 L730.70,1318.89 L731.26,1319.72 L731.84,1320.54 L732.41,1321.35 L732.99,1322.17 L733.57,1322.98 L734.16,1323.79 L734.75,1324.60 L735.34,1325.41 L735.93,1326.22 L736.52,1327.02 L737.11,1327.83 L737.69,1328.64 L738.28,1329.45 L738.86,1330.26 L739.45,1331.07 L740.03,1331.89 L740.61,1332.70 L741.20,1333.51 L741.78,1334.32 L742.37,1335.13 L742.96,1335.94 L743.56,1336.74 L744.16,1337.54 L744.76,1338.34 L745.37,1339.13 L745.99,1339.92 L746.61,1340.70 L747.25,1341.47 L747.89,1342.23 L748.55,1342.98 L749.22,1343.73 L749.90,1344.45 L750.60,1345.17 L751.32,1345.86 L752.06,1346.53 L752.82,1347.18 L753.59,1347.80 L754.39,1348.40 L755.20,1348.97 L756.03,1349.53 L756.88,1350.06 L757.73,1350.58 L758.59,1351.09 L759.46,1351.58 L760.34,1352.05 L761.23,1352.52 L762.12,1352.97 L763.02,1353.41 L763.92,1353.84 L764.83,1354.26 L765.74,1354.67 L766.65,1355.07 L767.58,1355.46 L768.50,1355.84 L769.43,1356.22 L770.35,1356.59 L771.29,1356.95 L772.22,1357.31 L773.15,1357.67 L774.09,1358.02 L775.02,1358.38 L775.96,1358.73 L776.89,1359.08 L777.83,1359.44 L778.76,1359.79 L779.70,1360.15 L780.63,1360.50 L781.57,1360.85 L782.51,1361.21 L783.44,1361.56 L784.38,1361.90 L785.32,1362.25 L786.26,1362.59 L787.20,1362.93 L788.14,1363.26 L789.08,1363.60 L790.03,1363.93 L790.97,1364.25 L791.92,1364.58 L792.87,1364.90 L793.82,1365.21 L794.76,1365.53 L795.71,1365.84 L796.67,1366.15 L797.62,1366.45 L798.57,1366.75 L799.53,1367.05 L800.48,1367.34 L801.44,1367.63 L802.40,1367.92 L803.36,1368.20 L804.32,1368.48 L805.28,1368.75 L806.24,1369.02 L807.21,1369.29 L808.17,1369.55 L809.14,1369.81 L810.10,1370.06 L811.07,1370.31 L812.04,1370.55 L813.02,1370.79 L813.99,1371.02 L814.96,1371.25 L815.94,1371.48 L816.91,1371.70 L817.89,1371.92 L818.86,1372.13 L819.84,1372.35 L820.82,1372.56 L821.79,1372.77 L822.77,1372.98 L823.75,1373.19 L824.73,1373.40 L825.71,1373.61 L826.68,1373.82 L827.66,1374.03 L828.64,1374.24 L829.61,1374.46 L830.59,1374.67 L831.57,1374.90 L832.54,1375.12 L833.51,1375.35 L834.49,1375.58 L835.46,1375.81 L836.43,1376.05 L837.40,1376.28 L838.37,1376.52 L839.34,1376.77 L840.31,1377.01 L841.28,1377.25 L842.25,1377.49 L843.22,1377.74 L844.19,1377.99 L845.16,1378.24 L846.13,1378.49 L847.09,1378.75 L848.06,1379.01 L849.02,1379.28 L849.98,1379.56 L850.94,1379.84 L851.90,1380.13 L852.85,1380.43 L853.80,1380.74 L854.75,1381.06 L855.69,1381.40 L856.62,1381.75 L857.55,1382.12 L858.47,1382.50 L859.39,1382.90 L860.30,1383.32 L861.21,1383.74 L862.11,1384.17 L863.01,1384.60 L863.91,1385.03 L864.82,1385.46 L865.72,1385.88 L866.63,1386.30 L867.54,1386.71 L868.46,1387.12 L869.37,1387.52 L870.29,1387.92 L871.21,1388.31 L872.13,1388.70 L873.05,1389.10 L873.97,1389.49 L874.89,1389.88 L875.81,1390.26 L876.73,1390.65 L877.65,1391.04 L878.58,1391.43 L879.50,1391.81 L880.42,1392.20 L881.34,1392.58 L882.27,1392.97 L883.19,1393.35 L884.11,1393.74 L885.03,1394.13 L885.95,1394.52 L886.88,1394.91 L887.80,1395.29 L888.72,1395.68 L889.64,1396.07 L890.56,1396.46 L891.48,1396.85 L892.41,1397.23 L893.33,1397.62 L894.25,1398.01 L895.17,1398.39 L896.10,1398.78 L897.02,1399.17 L897.94,1399.55 L898.86,1399.94 L899.78,1400.33 L900.70,1400.72 L901.62,1401.12 L902.54,1401.51 L903.46,1401.91 L904.38,1402.30 L905.29,1402.71 L906.21,1403.11 L907.12,1403.51 L908.03,1403.92 L908.94,1404.34 L909.85,1404.75 L910.76,1405.17 L911.67,1405.59 L912.58,1406.01 L913.48,1406.43 L914.39,1406.86 L915.29,1407.29 L916.19,1407.72 L917.09,1408.15 L918.00,1408.59 L918.90,1409.02 L919.80,1409.46 L920.70,1409.90 L921.59,1410.33 L922.49,1410.77 L923.39,1411.21 L924.29,1411.65 L925.19,1412.09 L926.08,1412.53 L926.98,1412.98 L927.88,1413.42 L928.78,1413.86 L929.67,1414.30 L930.57,1414.75 L931.46,1415.20 L932.35,1415.65 L933.25,1416.10 L934.14,1416.55 L935.03,1417.01 L935.91,1417.47 L936.80,1417.93 L937.69,1418.38 L938.58,1418.84 L939.47,1419.30 L940.36,1419.76 L941.25,1420.21 L942.14,1420.67 L943.03,1421.12 L943.93,1421.56 L944.83,1422.00 L945.72,1422.44 L946.63,1422.88 L947.53,1423.30 L948.44,1423.73 L949.34,1424.14 L950.26,1424.56 L951.17,1424.96 L952.08,1425.36 L953.00,1425.76 L953.92,1426.16 L954.84,1426.55 L955.76,1426.94 L956.68,1427.32 L957.61,1427.71 L958.53,1428.08 L959.46,1428.46 L960.39,1428.83 L961.32,1429.20 L962.25,1429.57 L963.18,1429.93 L964.11,1430.29 L965.05,1430.65 L965.98,1431.00 L966.92,1431.35 L967.86,1431.69 L968.80,1432.03 L969.74,1432.37 L970.68,1432.70 L971.63,1433.03 L972.57,1433.36 L973.52,1433.69 L974.46,1434.01 L975.41,1434.34 L976.36,1434.66 L977.30,1434.98 L978.25,1435.29 L979.20,1435.61 L980.15,1435.92 L981.10,1436.24 L982.05,1436.55 L983.00,1436.86 L983.95,1437.17 L984.90,1437.47 L985.86,1437.78 L986.81,1438.08 L987.76,1438.38 L988.72,1438.68 L989.67,1438.97 L990.63,1439.27 L991.59,1439.56 L992.54,1439.85 L993.50,1440.14 L994.46,1440.43 L995.42,1440.71 L996.38,1440.99 L997.34,1441.27 L998.30,1441.55 L999.26,1441.82 L1000.22,1442.09 L1001.18,1442.36 L1002.15,1442.63 L1003.11,1442.89 L1004.08,1443.16 L1005.04,1443.42 L1006.01,1443.67 L1006.98,1443.93 L1007.94,1444.18 L1008.91,1444.43 L1009.88,1444.67 L1010.85,1444.92 L1011.82,1445.16 L1012.79,1445.39 L1013.77,1445.63 L1014.74,1445.86 L1015.71,1446.10 L1016.68,1446.33 L1017.66,1446.55 L1018.63,1446.78 L1019.61,1447.00 L1020.58,1447.23 L1021.56,1447.45 L1022.53,1447.67 L1023.51,1447.88 L1024.48,1448.10 L1025.46,1448.31 L1026.44,1448.53 L1027.42,1448.74 L1028.39,1448.95 L1029.37,1449.15 L1030.35,1449.36 L1031.33,1449.56 L1032.31,1449.77 L1033.29,1449.97 L1034.27,1450.16 L1035.25,1450.36 L1036.23,1450.56 L1037.21,1450.75 L1038.19,1450.94 L1039.17,1451.13 L1040.16,1451.32 L1041.14,1451.51 L1042.12,1451.69 L1043.11,1451.87 L1044.09,1452.05 L1045.07,1452.23 L1046.06,1452.41 L1047.04,1452.58 L1048.03,1452.76 L1049.01,1452.93 L1050.00,1453.10 L1050.98,1453.27 L1051.97,1453.43 L1052.96,1453.60 L1053.94,1453.76 L1054.93,1453.92 L1055.92,1454.08 L1056.90,1454.23 L1057.89,1454.39 L1058.88,1454.54 L1059.87,1454.69 L1060.86,1454.84 L1061.85,1454.99 L1062.84,1455.13 L1063.83,1455.27 L1064.82,1455.41 L1065.81,1455.55 L1066.80,1455.69 L1067.79,1455.82 L1068.78,1455.96 L1069.77,1456.09 L1070.76,1456.22 L1071.73,1456.34 L1072.69,1456.46 L1073.60,1456.58 L1074.44,1456.68 L1075.16,1456.77 L1075.73,1456.84" fill="none" stroke="#33f" stroke-width="1.0" stroke-opacity="0.6" stroke-linejoin="round" stroke-linecap="round" stroke-dasharray="2,1.5" clip-path="url(#cib)"/>
<path d="M650.56,1126.03 L650.65,1126.60 L650.77,1127.32 L650.90,1128.15 L651.05,1129.05 L651.21,1130.00 L651.37,1130.98 L651.53,1131.96 L651.69,1132.94 L651.86,1133.93 L652.02,1134.92 L652.19,1135.90 L652.36,1136.89 L652.53,1137.87 L652.70,1138.86 L652.87,1139.84 L653.05,1140.83 L653.22,1141.81 L653.40,1142.80 L653.58,1143.78 L653.76,1144.76 L653.95,1145.75 L654.13,1146.73 L654.32,1147.71 L654.51,1148.69 L654.71,1149.67 L654.90,1150.65 L655.10,1151.63 L655.30,1152.61 L655.50,1153.59 L655.70,1154.57 L655.90,1155.55 L656.11,1156.53 L656.31,1157.51 L656.52,1158.49 L656.73,1159.47 L656.94,1160.44 L657.16,1161.42 L657.37,1162.40 L657.59,1163.37 L657.81,1164.35 L658.04,1165.32 L658.26,1166.30 L658.49,1167.27 L658.72,1168.24 L658.96,1169.21 L659.20,1170.19 L659.44,1171.16 L659.69,1172.12 L659.94,1173.09 L660.19,1174.06 L660.45,1175.03 L660.71,1175.99 L660.98,1176.95 L661.25,1177.92 L661.52,1178.88 L661.79,1179.84 L662.07,1180.80 L662.35,1181.76 L662.64,1182.72 L662.93,1183.68 L663.22,1184.63 L663.51,1185.59 L663.81,1186.54 L664.11,1187.50 L664.41,1188.45 L664.72,1189.40 L665.03,1190.35 L665.34,1191.30 L665.66,1192.25 L665.98,1193.20 L666.30,1194.15 L666.63,1195.09 L666.96,1196.04 L667.29,1196.98 L667.62,1197.92 L667.96,1198.86 L668.30,1199.80 L668.65,1200.74 L669.00,1201.68 L669.35,1202.61 L669.70,1203.55 L670.06,1204.48 L670.42,1205.42 L670.78,1206.35 L671.15,1207.28 L671.52,1208.21 L671.90,1209.13 L672.28,1210.06 L672.66,1210.98 L673.05,1211.90 L673.44,1212.82 L673.83,1213.74 L674.23,1214.66 L674.63,1215.57 L675.04,1216.49 L675.45,1217.40 L675.86,1218.31 L676.28,1219.22 L676.69,1220.13 L677.11,1221.04 L677.53,1221.95 L677.96,1222.85 L678.38,1223.76 L678.81,1224.66 L679.24,1225.56 L679.67,1226.47 L680.09,1227.37 L680.52,1228.27 L680.95,1229.18 L681.38,1230.08 L681.81,1230.98 L682.24,1231.89 L682.67,1232.79 L683.09,1233.70 L683.52,1234.60 L683.94,1235.51 L684.36,1236.42 L684.78,1237.32 L685.20,1238.23 L685.62,1239.14 L686.04,1240.05 L686.46,1240.95 L686.88,1241.86 L687.30,1242.77 L687.72,1243.68 L688.13,1244.59 L688.55,1245.49 L688.97,1246.40 L689.39,1247.31 L689.82,1248.22 L690.24,1249.12 L690.66,1250.03 L691.09,1250.93 L691.51,1251.84 L691.94,1252.74 L692.37,1253.64 L692.80,1254.55 L693.24,1255.45 L693.67,1256.35 L694.11,1257.24 L694.56,1258.14 L695.00,1259.04 L695.45,1259.93 L695.90,1260.82 L696.36,1261.71 L696.82,1262.60 L697.29,1263.48 L697.76,1264.36 L698.23,1265.24 L698.72,1266.12 L699.20,1266.99 L699.69,1267.87 L700.19,1268.73 L700.69,1269.60 L701.19,1270.46 L701.70,1271.32 L702.22,1272.18 L702.74,1273.03 L703.26,1273.89 L703.79,1274.74 L704.32,1275.59 L704.85,1276.43 L705.39,1277.27 L705.93,1278.12 L706.47,1278.96 L707.02,1279.79 L707.56,1280.63 L708.11,1281.47 L708.67,1282.30 L709.22,1283.13 L709.77,1283.96 L710.33,1284.80 L710.89,1285.63 L711.44,1286.46 L712.00,1287.29 L712.56,1288.12 L713.11,1288.95 L713.67,1289.78 L714.22,1290.61 L714.77,1291.45 L715.33,1292.28 L715.88,1293.12 L716.42,1293.95 L716.97,1294.79 L717.52,1295.63 L718.06,1296.47 L718.61,1297.31 L719.15,1298.14 L719.69,1298.98 L720.23,1299.82 L720.78,1300.66 L721.32,1301.50 L721.86,1302.34 L722.41,1303.18 L722.95,1304.02 L723.49,1304.86 L724.04,1305.70 L724.58,1306.54 L725.13,1307.38 L725.68,1308.21 L726.23,1309.05 L726.78,1309.88 L727.33,1310.72 L727.88,1311.55 L728.44,1312.38 L729.00,1313.21 L729.56,1314.04 L730.12,1314.87 L730.69,1315.69 L731.26,1316.51 L731.83,1317.33 L732.40,1318.15 L732.98,1318.96 L733.57,1319.78 L734.15,1320.59 L734.74,1321.40 L735.33,1322.20 L735.92,1323.01 L736.51,1323.82 L737.10,1324.63 L737.69,1325.44 L738.27,1326.25 L738.86,1327.06 L739.44,1327.87 L740.02,1328.68 L740.61,1329.49 L741.19,1330.31 L741.78,1331.12 L742.37,1331.93 L742.96,1332.73 L743.55,1333.54 L744.15,1334.34 L744.75,1335.13 L745.36,1335.92 L745.98,1336.71 L746.61,1337.49 L747.24,1338.26 L747.89,1339.03 L748.54,1339.78 L749.21,1340.52 L749.89,1341.25 L750.59,1341.96 L751.31,1342.66 L752.05,1343.33 L752.81,1343.97 L753.58,1344.60 L754.38,1345.20 L755.19,1345.77 L756.02,1346.33 L756.87,1346.86 L757.72,1347.38 L758.58,1347.89 L759.45,1348.38 L760.33,1348.85 L761.22,1349.32 L762.11,1349.77 L763.00,1350.21 L763.91,1350.64 L764.81,1351.06 L765.73,1351.47 L766.64,1351.87 L767.56,1352.26 L768.49,1352.64 L769.41,1353.02 L770.34,1353.39 L771.27,1353.75 L772.21,1354.11 L773.14,1354.47 L774.07,1354.82 L775.01,1355.18 L775.95,1355.53 L776.88,1355.88 L777.82,1356.24 L778.75,1356.59 L779.69,1356.95 L780.62,1357.30 L781.56,1357.65 L782.49,1358.00 L783.43,1358.35 L784.37,1358.70 L785.31,1359.04 L786.25,1359.38 L787.19,1359.71 L788.14,1360.04 L789.08,1360.37 L790.03,1360.70 L790.97,1361.02 L791.92,1361.35 L792.87,1361.66 L793.82,1361.98 L794.77,1362.29 L795.72,1362.60 L796.67,1362.90 L797.62,1363.21 L798.58,1363.51 L799.53,1363.80 L800.49,1364.10 L801.44,1364.39 L802.40,1364.68 L803.36,1364.97 L804.32,1365.25 L805.28,1365.53 L806.24,1365.81 L807.20,1366.09 L808.16,1366.36 L809.12,1366.62 L810.09,1366.89 L811.05,1367.15 L812.02,1367.40 L812.99,1367.65 L813.96,1367.90 L814.93,1368.14 L815.90,1368.38 L816.87,1368.61 L817.84,1368.85 L818.82,1369.08 L819.79,1369.31 L820.76,1369.54 L821.74,1369.76 L822.71,1369.99 L823.69,1370.21 L824.66,1370.44 L825.63,1370.67 L826.61,1370.90 L827.58,1371.13 L828.55,1371.36 L829.53,1371.59 L830.50,1371.83 L831.47,1372.07 L832.44,1372.31 L833.41,1372.56 L834.37,1372.81 L835.34,1373.07 L836.31,1373.33 L837.27,1373.59 L838.24,1373.85 L839.20,1374.12 L840.16,1374.39 L841.13,1374.66 L842.09,1374.93 L843.05,1375.21 L844.01,1375.48 L844.97,1375.76 L845.93,1376.05 L846.89,1376.34 L847.84,1376.63 L848.80,1376.93 L849.75,1377.24 L850.70,1377.55 L851.64,1377.87 L852.59,1378.20 L853.53,1378.54 L854.47,1378.89 L855.40,1379.25 L856.32,1379.63 L857.24,1380.02 L858.15,1380.42 L859.06,1380.85 L859.96,1381.28 L860.86,1381.72 L861.75,1382.18 L862.64,1382.63 L863.53,1383.09 L864.42,1383.54 L865.31,1383.99 L866.21,1384.44 L867.10,1384.88 L868.01,1385.31 L868.91,1385.74 L869.81,1386.17 L870.72,1386.59 L871.63,1387.01 L872.53,1387.43 L873.44,1387.85 L874.35,1388.26 L875.26,1388.68 L876.17,1389.09 L877.08,1389.51 L877.99,1389.92 L878.90,1390.33 L879.81,1390.74 L880.73,1391.16 L881.64,1391.57 L882.55,1391.98 L883.46,1392.40 L884.37,1392.81 L885.28,1393.22 L886.19,1393.64 L887.10,1394.05 L888.01,1394.47 L888.92,1394.88 L889.83,1395.30 L890.74,1395.72 L891.65,1396.13 L892.56,1396.55 L893.47,1396.96 L894.37,1397.38 L895.28,1397.79 L896.19,1398.21 L897.10,1398.63 L898.01,1399.04 L898.92,1399.46 L899.83,1399.88 L900.74,1400.29 L901.65,1400.71 L902.55,1401.13 L903.46,1401.55 L904.37,1401.98 L905.27,1402.40 L906.18,1402.82 L907.08,1403.25 L907.99,1403.68 L908.89,1404.11 L909.79,1404.54 L910.70,1404.97 L911.60,1405.40 L912.50,1405.84 L913.40,1406.27 L914.30,1406.71 L915.20,1407.15 L916.09,1407.59 L916.99,1408.03 L917.89,1408.47 L918.79,1408.91 L919.68,1409.35 L920.58,1409.79 L921.48,1410.24 L922.37,1410.68 L923.27,1411.12 L924.17,1411.57 L925.06,1412.01 L925.96,1412.46 L926.85,1412.90 L927.75,1413.34 L928.64,1413.79 L929.54,1414.24 L930.43,1414.68 L931.33,1415.13 L932.22,1415.59 L933.11,1416.04 L934.00,1416.50 L934.89,1416.95 L935.78,1417.41 L936.67,1417.87 L937.56,1418.33 L938.44,1418.79 L939.33,1419.24 L940.22,1419.70 L941.11,1420.15 L942.01,1420.61 L942.90,1421.06 L943.79,1421.50 L944.69,1421.94 L945.59,1422.38 L946.49,1422.82 L947.39,1423.24 L948.30,1423.67 L949.21,1424.08 L950.12,1424.50 L951.03,1424.90 L951.95,1425.30 L952.87,1425.70 L953.78,1426.10 L954.70,1426.49 L955.63,1426.88 L956.55,1427.27 L957.47,1427.65 L958.40,1428.03 L959.32,1428.41 L960.25,1428.78 L961.18,1429.15 L962.11,1429.52 L963.04,1429.88 L963.98,1430.24 L964.91,1430.59 L965.85,1430.95 L966.78,1431.30 L967.72,1431.64 L968.66,1431.98 L969.60,1432.32 L970.54,1432.65 L971.49,1432.99 L972.43,1433.31 L973.38,1433.64 L974.32,1433.97 L975.27,1434.29 L976.22,1434.61 L977.16,1434.93 L978.11,1435.25 L979.06,1435.56 L980.01,1435.88 L980.96,1436.19 L981.91,1436.50 L982.86,1436.81 L983.81,1437.12 L984.76,1437.43 L985.72,1437.73 L986.67,1438.03 L987.62,1438.34 L988.58,1438.63 L989.53,1438.93 L990.49,1439.23 L991.44,1439.52 L992.40,1439.81 L993.36,1440.10 L994.32,1440.38 L995.28,1440.67 L996.24,1440.95 L997.20,1441.23 L998.16,1441.51 L999.12,1441.78 L1000.08,1442.05 L1001.04,1442.32 L1002.01,1442.59 L1002.97,1442.86 L1003.94,1443.12 L1004.90,1443.38 L1005.87,1443.64 L1006.83,1443.89 L1007.80,1444.14 L1008.77,1444.39 L1009.74,1444.64 L1010.71,1444.88 L1011.68,1445.12 L1012.65,1445.36 L1013.62,1445.60 L1014.60,1445.83 L1015.57,1446.06 L1016.54,1446.29 L1017.51,1446.52 L1018.49,1446.75 L1019.46,1446.97 L1020.44,1447.19 L1021.41,1447.41 L1022.39,1447.63 L1023.36,1447.85 L1024.34,1448.07 L1025.32,1448.28 L1026.29,1448.50 L1027.27,1448.71 L1028.25,1448.92 L1029.23,1449.12 L1030.21,1449.33 L1031.19,1449.53 L1032.17,1449.74 L1033.14,1449.94 L1034.12,1450.14 L1035.11,1450.33 L1036.09,1450.53 L1037.07,1450.72 L1038.05,1450.91 L1039.03,1451.10 L1040.01,1451.29 L1040.99,1451.48 L1041.98,1451.66 L1042.96,1451.85 L1043.94,1452.03 L1044.93,1452.21 L1045.91,1452.38 L1046.90,1452.56 L1047.88,1452.73 L1048.87,1452.90 L1049.85,1453.07 L1050.84,1453.24 L1051.82,1453.41 L1052.81,1453.57 L1053.80,1453.74 L1054.78,1453.90 L1055.77,1454.05 L1056.76,1454.21 L1057.75,1454.37 L1058.73,1454.52 L1059.72,1454.67 L1060.71,1454.82 L1061.70,1454.97 L1062.69,1455.11 L1063.68,1455.25 L1064.67,1455.39 L1065.66,1455.53 L1066.65,1455.67 L1067.64,1455.80 L1068.63,1455.94 L1069.62,1456.07 L1070.61,1456.20 L1071.59,1456.32 L1072.54,1456.45 L1073.45,1456.56 L1074.29,1456.66 L1075.01,1456.75 L1075.58,1456.82" fill="none" stroke="#33f" stroke-width="1.0" stroke-opacity="0.6" stroke-linejoin="round" stroke-linecap="round" stroke-dasharray="2,1.5" clip-path="url(#cib)"/>
<path d="M650.56,1126.03 L650.66,1126.60 L650.77,1127.32 L650.91,1128.15 L651.06,1129.05 L651.22,1130.00 L651.38,1130.97 L651.54,1131.96 L651.71,1132.94 L651.88,1133.93 L652.05,1134.91 L652.22,1135.90 L652.39,1136.88 L652.56,1137.87 L652.73,1138.85 L652.91,1139.84 L653.09,1140.82 L653.27,1141.80 L653.45,1142.79 L653.63,1143.77 L653.82,1144.75 L654.01,1145.74 L654.20,1146.72 L654.39,1147.70 L654.58,1148.68 L654.78,1149.66 L654.98,1150.64 L655.18,1151.62 L655.38,1152.60 L655.59,1153.58 L655.79,1154.56 L656.00,1155.53 L656.21,1156.51 L656.42,1157.49 L656.63,1158.47 L656.85,1159.44 L657.07,1160.42 L657.29,1161.40 L657.51,1162.37 L657.73,1163.35 L657.96,1164.32 L658.19,1165.29 L658.42,1166.26 L658.66,1167.24 L658.89,1168.21 L659.14,1169.18 L659.38,1170.15 L659.63,1171.11 L659.89,1172.08 L660.15,1173.05 L660.41,1174.01 L660.68,1174.98 L660.95,1175.94 L661.23,1176.90 L661.50,1177.86 L661.79,1178.82 L662.07,1179.78 L662.36,1180.74 L662.65,1181.69 L662.95,1182.65 L663.24,1183.60 L663.55,1184.55 L663.85,1185.51 L664.16,1186.46 L664.47,1187.41 L664.79,1188.36 L665.11,1189.31 L665.43,1190.25 L665.75,1191.20 L666.08,1192.14 L666.41,1193.08 L666.75,1194.03 L667.09,1194.97 L667.43,1195.91 L667.78,1196.84 L668.13,1197.78 L668.48,1198.72 L668.84,1199.65 L669.20,1200.58 L669.56,1201.52 L669.93,1202.45 L670.30,1203.37 L670.67,1204.30 L671.05,1205.23 L671.43,1206.15 L671.82,1207.07 L672.21,1207.99 L672.61,1208.91 L673.01,1209.83 L673.41,1210.74 L673.82,1211.66 L674.23,1212.57 L674.65,1213.48 L675.07,1214.38 L675.49,1215.29 L675.92,1216.19 L676.35,1217.10 L676.78,1218.00 L677.21,1218.90 L677.65,1219.80 L678.09,1220.70 L678.53,1221.60 L678.97,1222.49 L679.42,1223.39 L679.86,1224.29 L680.30,1225.18 L680.75,1226.08 L681.19,1226.97 L681.63,1227.87 L682.07,1228.77 L682.52,1229.67 L682.95,1230.56 L683.39,1231.46 L683.83,1232.36 L684.26,1233.26 L684.70,1234.16 L685.13,1235.07 L685.56,1235.97 L685.99,1236.87 L686.42,1237.77 L686.85,1238.67 L687.28,1239.58 L687.72,1240.48 L688.15,1241.38 L688.58,1242.28 L689.01,1243.19 L689.44,1244.09 L689.88,1244.99 L690.31,1245.89 L690.75,1246.79 L691.18,1247.69 L691.62,1248.59 L692.06,1249.49 L692.50,1250.38 L692.94,1251.28 L693.39,1252.18 L693.84,1253.07 L694.29,1253.96 L694.74,1254.85 L695.20,1255.74 L695.66,1256.63 L696.12,1257.52 L696.59,1258.40 L697.06,1259.28 L697.54,1260.16 L698.02,1261.04 L698.50,1261.92 L698.99,1262.79 L699.48,1263.66 L699.98,1264.52 L700.48,1265.39 L700.99,1266.25 L701.50,1267.11 L702.02,1267.97 L702.54,1268.82 L703.06,1269.67 L703.58,1270.52 L704.11,1271.37 L704.65,1272.22 L705.18,1273.06 L705.72,1273.91 L706.26,1274.75 L706.81,1275.59 L707.35,1276.42 L707.90,1277.26 L708.45,1278.09 L709.00,1278.93 L709.55,1279.76 L710.11,1280.60 L710.66,1281.43 L711.22,1282.26 L711.77,1283.09 L712.33,1283.92 L712.88,1284.76 L713.43,1285.59 L713.99,1286.42 L714.54,1287.26 L715.09,1288.09 L715.64,1288.92 L716.19,1289.76 L716.74,1290.60 L717.28,1291.44 L717.83,1292.27 L718.37,1293.11 L718.92,1293.95 L719.46,1294.79 L720.00,1295.63 L720.54,1296.47 L721.09,1297.31 L721.63,1298.15 L722.17,1298.99 L722.72,1299.83 L723.26,1300.67 L723.80,1301.51 L724.35,1302.35 L724.89,1303.19 L725.44,1304.02 L725.99,1304.86 L726.54,1305.69 L727.09,1306.53 L727.65,1307.36 L728.20,1308.19 L728.76,1309.02 L729.32,1309.85 L729.88,1310.68 L730.44,1311.50 L731.01,1312.33 L731.58,1313.15 L732.16,1313.97 L732.73,1314.78 L733.32,1315.60 L733.90,1316.41 L734.49,1317.22 L735.08,1318.03 L735.67,1318.83 L736.26,1319.64 L736.85,1320.45 L737.43,1321.26 L738.02,1322.07 L738.61,1322.88 L739.19,1323.69 L739.77,1324.50 L740.36,1325.31 L740.94,1326.13 L741.53,1326.94 L742.11,1327.75 L742.70,1328.55 L743.30,1329.36 L743.89,1330.16 L744.49,1330.96 L745.10,1331.75 L745.72,1332.54 L746.34,1333.32 L746.97,1334.10 L747.61,1334.87 L748.26,1335.63 L748.92,1336.37 L749.60,1337.11 L750.29,1337.83 L751.00,1338.53 L751.73,1339.21 L752.48,1339.87 L753.25,1340.50 L754.04,1341.11 L754.84,1341.70 L755.67,1342.26 L756.50,1342.80 L757.35,1343.33 L758.21,1343.84 L759.08,1344.34 L759.95,1344.82 L760.83,1345.29 L761.72,1345.75 L762.62,1346.19 L763.52,1346.63 L764.42,1347.05 L765.33,1347.46 L766.25,1347.86 L767.17,1348.26 L768.09,1348.65 L769.02,1349.02 L769.94,1349.40 L770.87,1349.76 L771.81,1350.13 L772.74,1350.48 L773.67,1350.84 L774.61,1351.19 L775.54,1351.55 L776.48,1351.90 L777.42,1352.25 L778.35,1352.61 L779.29,1352.96 L780.22,1353.31 L781.16,1353.67 L782.09,1354.02 L783.03,1354.36 L783.97,1354.71 L784.91,1355.05 L785.85,1355.38 L786.80,1355.72 L787.74,1356.05 L788.68,1356.38 L789.63,1356.70 L790.58,1357.02 L791.52,1357.34 L792.47,1357.66 L793.42,1357.97 L794.37,1358.28 L795.33,1358.59 L796.28,1358.89 L797.23,1359.19 L798.18,1359.50 L799.14,1359.79 L800.09,1360.09 L801.05,1360.39 L802.00,1360.68 L802.96,1360.97 L803.92,1361.26 L804.88,1361.55 L805.83,1361.84 L806.79,1362.12 L807.75,1362.41 L808.71,1362.69 L809.67,1362.96 L810.63,1363.24 L811.60,1363.51 L812.56,1363.77 L813.52,1364.04 L814.49,1364.30 L815.46,1364.55 L816.42,1364.81 L817.39,1365.06 L818.36,1365.31 L819.33,1365.55 L820.30,1365.80 L821.27,1366.05 L822.24,1366.29 L823.21,1366.54 L824.18,1366.78 L825.14,1367.03 L826.11,1367.28 L827.08,1367.53 L828.05,1367.78 L829.02,1368.04 L829.98,1368.30 L830.95,1368.56 L831.91,1368.83 L832.87,1369.10 L833.83,1369.37 L834.79,1369.65 L835.75,1369.93 L836.71,1370.22 L837.67,1370.51 L838.62,1370.81 L839.58,1371.11 L840.53,1371.41 L841.48,1371.71 L842.44,1372.02 L843.39,1372.33 L844.34,1372.64 L845.28,1372.96 L846.23,1373.28 L847.18,1373.61 L848.12,1373.94 L849.06,1374.28 L850.00,1374.63 L850.93,1374.98 L851.86,1375.34 L852.79,1375.71 L853.72,1376.09 L854.64,1376.47 L855.56,1376.87 L856.47,1377.28 L857.37,1377.71 L858.27,1378.15 L859.16,1378.60 L860.05,1379.07 L860.93,1379.54 L861.80,1380.02 L862.68,1380.51 L863.55,1380.99 L864.43,1381.47 L865.30,1381.95 L866.18,1382.43 L867.07,1382.90 L867.95,1383.36 L868.84,1383.82 L869.73,1384.27 L870.62,1384.73 L871.52,1385.18 L872.41,1385.63 L873.30,1386.08 L874.20,1386.52 L875.09,1386.97 L875.99,1387.41 L876.88,1387.86 L877.78,1388.30 L878.68,1388.75 L879.57,1389.19 L880.47,1389.63 L881.37,1390.07 L882.26,1390.52 L883.16,1390.96 L884.06,1391.40 L884.95,1391.85 L885.85,1392.29 L886.74,1392.74 L887.64,1393.19 L888.53,1393.63 L889.43,1394.08 L890.32,1394.53 L891.21,1394.98 L892.11,1395.42 L893.00,1395.87 L893.89,1396.32 L894.79,1396.77 L895.68,1397.22 L896.58,1397.67 L897.47,1398.12 L898.36,1398.57 L899.26,1399.02 L900.15,1399.47 L901.04,1399.91 L901.94,1400.36 L902.83,1400.81 L903.72,1401.26 L904.62,1401.71 L905.51,1402.16 L906.40,1402.61 L907.30,1403.06 L908.19,1403.51 L909.08,1403.96 L909.98,1404.41 L910.87,1404.85 L911.76,1405.30 L912.66,1405.75 L913.55,1406.20 L914.44,1406.65 L915.34,1407.10 L916.23,1407.55 L917.13,1408.00 L918.02,1408.45 L918.91,1408.90 L919.81,1409.35 L920.70,1409.79 L921.59,1410.24 L922.49,1410.69 L923.38,1411.14 L924.27,1411.59 L925.17,1412.04 L926.06,1412.49 L926.95,1412.94 L927.85,1413.38 L928.74,1413.83 L929.63,1414.28 L930.53,1414.74 L931.42,1415.19 L932.31,1415.64 L933.20,1416.10 L934.09,1416.56 L934.98,1417.01 L935.87,1417.47 L936.75,1417.93 L937.64,1418.39 L938.53,1418.85 L939.42,1419.30 L940.31,1419.76 L941.20,1420.21 L942.10,1420.66 L942.99,1421.11 L943.89,1421.56 L944.78,1422.00 L945.68,1422.43 L946.59,1422.86 L947.49,1423.29 L948.40,1423.71 L949.31,1424.13 L950.22,1424.54 L951.13,1424.95 L952.05,1425.35 L952.96,1425.75 L953.88,1426.14 L954.80,1426.53 L955.72,1426.92 L956.65,1427.31 L957.57,1427.69 L958.50,1428.07 L959.42,1428.45 L960.35,1428.82 L961.28,1429.19 L962.21,1429.55 L963.14,1429.92 L964.07,1430.28 L965.01,1430.63 L965.95,1430.98 L966.88,1431.33 L967.82,1431.68 L968.76,1432.02 L969.70,1432.35 L970.65,1432.69 L971.59,1433.02 L972.53,1433.35 L973.48,1433.68 L974.42,1434.00 L975.37,1434.32 L976.32,1434.64 L977.27,1434.96 L978.21,1435.28 L979.16,1435.60 L980.11,1435.91 L981.06,1436.23 L982.01,1436.54 L982.96,1436.85 L983.91,1437.15 L984.87,1437.46 L985.82,1437.76 L986.77,1438.07 L987.73,1438.37 L988.68,1438.67 L989.63,1438.96 L990.59,1439.26 L991.55,1439.55 L992.50,1439.84 L993.46,1440.13 L994.42,1440.41 L995.38,1440.70 L996.34,1440.98 L997.30,1441.26 L998.26,1441.54 L999.22,1441.81 L1000.18,1442.08 L1001.15,1442.35 L1002.11,1442.62 L1003.07,1442.88 L1004.04,1443.15 L1005.00,1443.41 L1005.97,1443.66 L1006.94,1443.92 L1007.91,1444.17 L1008.87,1444.42 L1009.84,1444.66 L1010.81,1444.91 L1011.78,1445.15 L1012.75,1445.39 L1013.73,1445.62 L1014.70,1445.85 L1015.67,1446.09 L1016.64,1446.32 L1017.62,1446.54 L1018.59,1446.77 L1019.57,1446.99 L1020.54,1447.22 L1021.52,1447.44 L1022.49,1447.66 L1023.47,1447.88 L1024.44,1448.09 L1025.42,1448.31 L1026.40,1448.52 L1027.38,1448.73 L1028.35,1448.94 L1029.33,1449.15 L1030.31,1449.35 L1031.29,1449.56 L1032.27,1449.76 L1033.25,1449.96 L1034.23,1450.16 L1035.21,1450.35 L1036.19,1450.55 L1037.17,1450.74 L1038.15,1450.93 L1039.13,1451.12 L1040.12,1451.31 L1041.10,1451.50 L1042.08,1451.68 L1043.07,1451.86 L1044.05,1452.05 L1045.03,1452.22 L1046.02,1452.40 L1047.00,1452.58 L1047.99,1452.75 L1048.97,1452.92 L1049.96,1453.09 L1050.94,1453.26 L1051.93,1453.43 L1052.92,1453.59 L1053.90,1453.75 L1054.89,1453.91 L1055.88,1454.07 L1056.86,1454.23 L1057.85,1454.38 L1058.84,1454.53 L1059.83,1454.69 L1060.82,1454.83 L1061.81,1454.98 L1062.80,1455.13 L1063.79,1455.27 L1064.78,1455.41 L1065.77,1455.55 L1066.76,1455.68 L1067.75,1455.82 L1068.74,1455.95 L1069.73,1456.08 L1070.72,1456.21 L1071.69,1456.34 L1072.65,1456.46 L1073.56,1456.57 L1074.39,1456.68 L1075.11,1456.76 L1075.69,1456.83" fill="none" stroke="#00f" stroke-width="2" stroke-opacity="1.0" stroke-linejoin="round" stroke-linecap="round" clip-path="url(#cib)"/>
<rect x="636.50" y="1150.60" width="440.30" height="319.40" fill="none" stroke="#444" stroke-width="1.8"/>
<line x1="630.50" y1="1470.00" x2="636.50" y2="1470.00" stroke="#444" stroke-width="1.8" stroke-linecap="butt"/>
<line x1="630.50" y1="1406.12" x2="636.50" y2="1406.12" stroke="#444" stroke-width="1.8" stroke-linecap="butt"/>
<line x1="630.50" y1="1342.24" x2="636.50" y2="1342.24" stroke="#444" stroke-width="1.8" stroke-linecap="butt"/>
<line x1="630.50" y1="1278.36" x2="636.50" y2="1278.36" stroke="#444" stroke-width="1.8" stroke-linecap="butt"/>
<line x1="630.50" y1="1214.48" x2="636.50" y2="1214.48" stroke="#444" stroke-width="1.8" stroke-linecap="butt"/>
<line x1="630.50" y1="1150.60" x2="636.50" y2="1150.60" stroke="#444" stroke-width="1.8" stroke-linecap="butt"/>
<line x1="633.50" y1="1438.06" x2="636.50" y2="1438.06" stroke="#444" stroke-width="1.8" stroke-linecap="butt"/>
<line x1="633.50" y1="1374.18" x2="636.50" y2="1374.18" stroke="#444" stroke-width="1.8" stroke-linecap="butt"/>
<line x1="633.50" y1="1310.30" x2="636.50" y2="1310.30" stroke="#444" stroke-width="1.8" stroke-linecap="butt"/>
<line x1="633.50" y1="1246.42" x2="636.50" y2="1246.42" stroke="#444" stroke-width="1.8" stroke-linecap="butt"/>
<line x1="633.50" y1="1182.54" x2="636.50" y2="1182.54" stroke="#444" stroke-width="1.8" stroke-linecap="butt"/>
<line x1="729.19" y1="1470.00" x2="729.19" y2="1476.00" stroke="#444" stroke-width="1.8" stroke-linecap="butt"/>
<line x1="845.06" y1="1470.00" x2="845.06" y2="1476.00" stroke="#444" stroke-width="1.8" stroke-linecap="butt"/>
<line x1="960.93" y1="1470.00" x2="960.93" y2="1476.00" stroke="#444" stroke-width="1.8" stroke-linecap="butt"/>
<line x1="1076.80" y1="1470.00" x2="1076.80" y2="1476.00" stroke="#444" stroke-width="1.8" stroke-linecap="butt"/>
<line x1="671.26" y1="1470.00" x2="671.26" y2="1473.00" stroke="#444" stroke-width="1.8" stroke-linecap="butt"/>
<line x1="787.13" y1="1470.00" x2="787.13" y2="1473.00" stroke="#444" stroke-width="1.8" stroke-linecap="butt"/>
<line x1="903.00" y1="1470.00" x2="903.00" y2="1473.00" stroke="#444" stroke-width="1.8" stroke-linecap="butt"/>
<line x1="1018.87" y1="1470.00" x2="1018.87" y2="1473.00" stroke="#444" stroke-width="1.8" stroke-linecap="butt"/>
<text x="625.20" y="1478.50" font-size="26.5" text-anchor="end" font-weight="normal" fill="#111">0</text>
<text x="625.20" y="1414.62" font-size="26.5" text-anchor="end" font-weight="normal" fill="#111">1000</text>
<text x="625.20" y="1350.74" font-size="26.5" text-anchor="end" font-weight="normal" fill="#111">2000</text>
<text x="625.20" y="1286.86" font-size="26.5" text-anchor="end" font-weight="normal" fill="#111">3000</text>
<text x="625.20" y="1222.98" font-size="26.5" text-anchor="end" font-weight="normal" fill="#111">4000</text>
<text x="625.20" y="1159.10" font-size="26.5" text-anchor="end" font-weight="normal" fill="#111">5000</text>
<text x="729.19" y="1500.30" font-size="26.5" text-anchor="middle" font-weight="normal" fill="#111">400</text>
<text x="845.06" y="1500.30" font-size="26.5" text-anchor="middle" font-weight="normal" fill="#111">450</text>
<text x="960.93" y="1500.30" font-size="26.5" text-anchor="middle" font-weight="normal" fill="#111">500</text>
<text x="1076.80" y="1500.30" font-size="26.5" text-anchor="middle" font-weight="normal" fill="#111">550</text>
</svg></body></html>
